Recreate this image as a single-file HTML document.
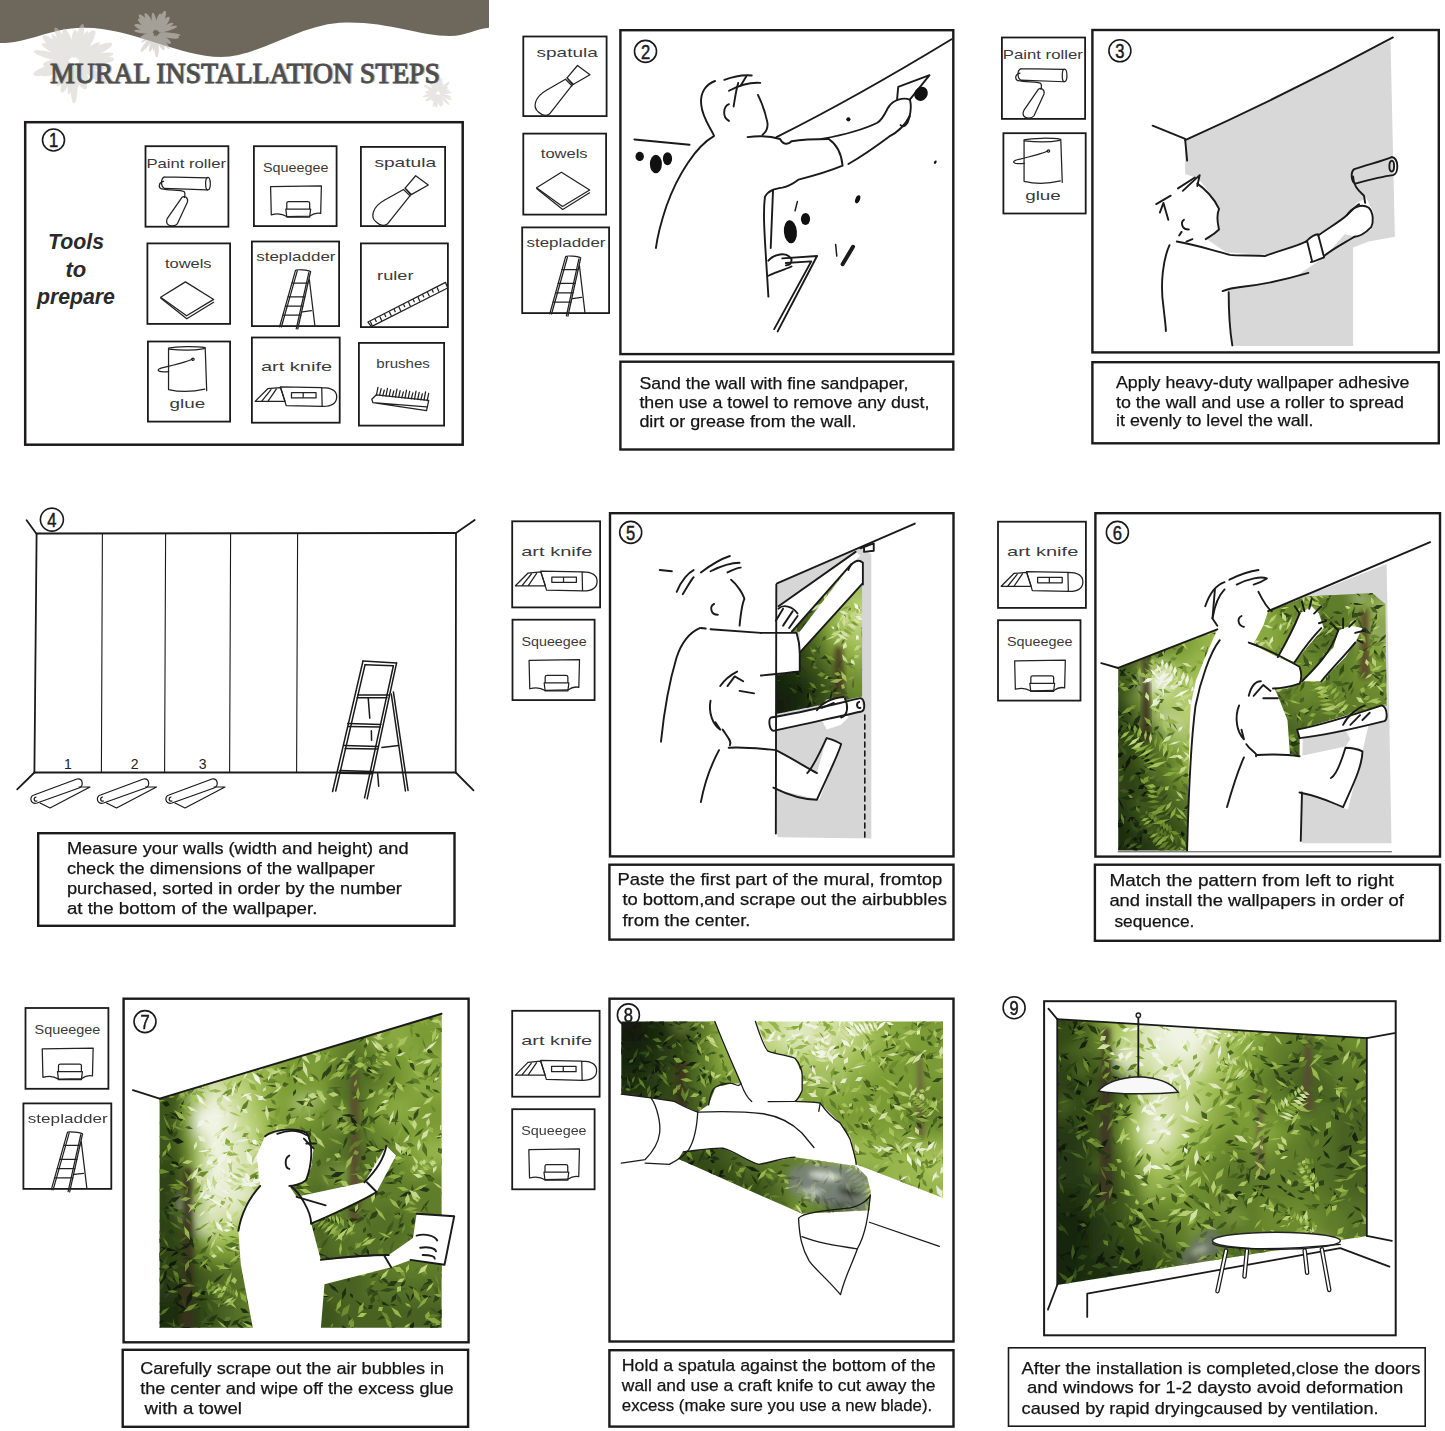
<!DOCTYPE html>
<html><head><meta charset="utf-8"><style>
html,body{margin:0;padding:0;background:#fff;}
body{width:1445px;height:1431px;overflow:hidden;}
svg{display:block;}
</style></head><body>
<svg width="1445" height="1431" viewBox="0 0 1445 1431">
<rect x="0" y="0" width="1445" height="1431" fill="#ffffff"/>
<defs><filter id="blur6" x="-10%" y="-10%" width="120%" height="120%"><feGaussianBlur stdDeviation="6"/></filter><filter id="blur3"><feGaussianBlur stdDeviation="2.5"/></filter><filter id="blur2"><feGaussianBlur stdDeviation="1.2"/></filter></defs>
<g transform="translate(620,30) scale(0.231857)">
<path d="M675,462 C900,350 1150,210 1430,40" fill="none" stroke="#1a1a1a" stroke-linecap="round" stroke-linejoin="round" vector-effect="non-scaling-stroke" stroke-width="1.9" />
<path d="M62,472 L300,495" fill="none" stroke="#1a1a1a" stroke-linecap="round" stroke-linejoin="round" vector-effect="non-scaling-stroke" stroke-width="1.9" />
<path d="M405,458 C330,500 250,620 200,760 C170,850 160,900 155,940" fill="none" stroke="#1a1a1a" stroke-linecap="round" stroke-linejoin="round" vector-effect="non-scaling-stroke" stroke-width="1.9" />
<path d="M405,455 C390,420 355,380 350,320 C345,270 370,235 410,220" fill="none" stroke="#1a1a1a" stroke-linecap="round" stroke-linejoin="round" vector-effect="non-scaling-stroke" stroke-width="1.9" />
<path d="M450,215 C490,200 530,192 568,196" fill="none" stroke="#1a1a1a" stroke-linecap="round" stroke-linejoin="round" vector-effect="non-scaling-stroke" stroke-width="1.9" />
<path d="M470,262 C520,235 560,225 605,228" fill="none" stroke="#1a1a1a" stroke-linecap="round" stroke-linejoin="round" vector-effect="non-scaling-stroke" stroke-width="1.9" />
<path d="M510,228 C500,260 495,300 490,330" fill="none" stroke="#1a1a1a" stroke-linecap="round" stroke-linejoin="round" vector-effect="non-scaling-stroke" stroke-width="1.9" />
<path d="M545,200 L520,240" fill="none" stroke="#1a1a1a" stroke-linecap="round" stroke-linejoin="round" vector-effect="non-scaling-stroke" stroke-width="1.9" />
<path d="M595,280 C610,310 625,350 635,395 C640,420 630,440 615,452" fill="none" stroke="#1a1a1a" stroke-linecap="round" stroke-linejoin="round" vector-effect="non-scaling-stroke" stroke-width="1.9" />
<path d="M470,320 C445,330 440,375 470,392" fill="none" stroke="#1a1a1a" stroke-linecap="round" stroke-linejoin="round" vector-effect="non-scaling-stroke" stroke-width="1.9" />
<path d="M550,462 C600,455 650,458 690,470 C700,490 720,500 740,480 C800,470 860,470 900,470" fill="none" stroke="#1a1a1a" stroke-linecap="round" stroke-linejoin="round" vector-effect="non-scaling-stroke" stroke-width="1.9" />
<path d="M900,470 C930,490 955,530 960,585 C900,610 830,630 770,645 C750,660 735,672 700,680 C670,685 640,690 625,720 C615,800 625,900 640,1150" fill="none" stroke="#1a1a1a" stroke-linecap="round" stroke-linejoin="round" vector-effect="non-scaling-stroke" stroke-width="1.9" />
<path d="M870,470 C950,455 1050,430 1110,400 C1140,380 1150,340 1160,330" fill="none" stroke="#1a1a1a" stroke-linecap="round" stroke-linejoin="round" vector-effect="non-scaling-stroke" stroke-width="1.9" />
<path d="M985,578 C1050,540 1120,490 1160,460 C1200,440 1230,410 1250,370" fill="none" stroke="#1a1a1a" stroke-linecap="round" stroke-linejoin="round" vector-effect="non-scaling-stroke" stroke-width="1.9" />
<path d="M1160,330 C1180,300 1220,290 1250,300 C1260,330 1250,380 1240,400 C1230,415 1220,420 1210,410" fill="none" stroke="#1a1a1a" stroke-linecap="round" stroke-linejoin="round" vector-effect="non-scaling-stroke" stroke-width="1.9" />
<path d="M1195,300 L1200,245 L1335,195 L1250,300" fill="none" stroke="#1a1a1a" stroke-linecap="round" stroke-linejoin="round" vector-effect="non-scaling-stroke" stroke-width="1.9" />
<path d="M640,995 C660,970 720,950 740,990 C740,1010 730,1015 715,1015" fill="none" stroke="#1a1a1a" stroke-linecap="round" stroke-linejoin="round" vector-effect="non-scaling-stroke" stroke-width="1.9" />
<path d="M700,985 L850,975 L680,1300" fill="none" stroke="#1a1a1a" stroke-linecap="round" stroke-linejoin="round" vector-effect="non-scaling-stroke" stroke-width="1.9" />
<path d="M715,1005 L825,998 L665,1290" fill="none" stroke="#1a1a1a" stroke-linecap="round" stroke-linejoin="round" vector-effect="non-scaling-stroke" stroke-width="1.9" />
<path d="M640,1060 C680,1040 720,1030 740,1020" fill="none" stroke="#1a1a1a" stroke-linecap="round" stroke-linejoin="round" vector-effect="non-scaling-stroke" stroke-width="1.9" />
<path d="M660,690 L650,940" fill="none" stroke="#1a1a1a" stroke-linecap="round" stroke-linejoin="round" vector-effect="non-scaling-stroke" stroke-width="1.9" />
</g>
<ellipse cx="639.7" cy="156.4" rx="4.2" ry="4.6" transform="rotate(0 639.7 156.4)" fill="#111"/>
<ellipse cx="655.9" cy="164.0" rx="6.0" ry="9.3" transform="rotate(0 655.9 164.0)" fill="#111"/>
<ellipse cx="667.5" cy="158.7" rx="4.6" ry="6.5" transform="rotate(0 667.5 158.7)" fill="#111"/>
<ellipse cx="790.4" cy="231.7" rx="6.5" ry="11.6" transform="rotate(-5 790.4 231.7)" fill="#111"/>
<ellipse cx="805.5" cy="219.0" rx="4.6" ry="6.0" transform="rotate(0 805.5 219.0)" fill="#111"/>
<ellipse cx="857.7" cy="199.3" rx="2.3" ry="4.2" transform="rotate(20 857.7 199.3)" fill="#111"/>
<ellipse cx="848.4" cy="119.3" rx="2.1" ry="2.1" transform="rotate(0 848.4 119.3)" fill="#111"/>
<ellipse cx="921.0" cy="93.8" rx="6.5" ry="7.4" transform="rotate(35 921.0 93.8)" fill="#111"/>
<ellipse cx="935.3" cy="162.2" rx="1.2" ry="1.9" transform="rotate(30 935.3 162.2)" fill="#111"/>
<g transform="translate(620,30) scale(0.231857)">
<path d="M1005,935 L960,1010" fill="none" stroke="#1a1a1a" stroke-linecap="round" stroke-linejoin="round" vector-effect="non-scaling-stroke" stroke-width="4" />
<path d="M765,740 L755,780" fill="none" stroke="#1a1a1a" stroke-linecap="round" stroke-linejoin="round" vector-effect="non-scaling-stroke" stroke-width="1.5" />
<path d="M930,925 L935,975" fill="none" stroke="#1a1a1a" stroke-linecap="round" stroke-linejoin="round" vector-effect="non-scaling-stroke" stroke-width="1.5" />
</g>
<polygon points="1185.2028985507247,140.11111111111111 1390.5169082125603,40.594202898550726 1394.8647342995168,236.72946859903382 1368.7777777777778,241.56038647342996 1353.0772946859904,247.59903381642513 1353.0772946859904,345.9082125603865 1231.0966183574878,345.9082125603865 1228.68115942029,291.07729468599035 1185.2028985507247,291.07729468599035" fill="#d7d8d7" stroke="none"/>
<polygon points="1185.2028985507247,173.92753623188406 1198.487922705314,178.7584541062802 1211.7729468599034,195.66666666666669 1219.0193236714977,207.743961352657 1217.8115942028985,222.23671497584542 1219.0193236714977,230.69082125603867 1206.9420289855072,239.1449275362319 1226.2657004830917,252.42995169082127 1264.913043478261,254.84541062801935 1305.9758454106282,241.56038647342996 1318.0531400966183,234.31400966183577 1347.0386473429953,214.99033816425123 1356.7004830917874,202.91304347826087 1366.3623188405797,198.08212560386474 1373.608695652174,212.57487922705315 1371.193236714976,229.48309178743963 1356.7004830917874,236.72946859903382 1344.623188405797,234.31400966183577 1324.0917874396137,257.2608695652174 1293.8985507246377,277.79227053140096 1240.7584541062802,286.24637681159425 1226.2657004830917,289.8695652173913 1232.304347826087,345.9082125603865 1182.7874396135267,345.9082125603865" fill="#ffffff" stroke="none"/>
<g transform="translate(1091,29) scale(0.241546)">
<path d="M390,460 C700,320 1000,170 1250,35" fill="none" stroke="#1a1a1a" stroke-linecap="round" stroke-linejoin="round" vector-effect="non-scaling-stroke" stroke-width="1.9" />
<path d="M255,400 L390,455" fill="none" stroke="#1a1a1a" stroke-linecap="round" stroke-linejoin="round" vector-effect="non-scaling-stroke" stroke-width="1.9" />
<path d="M390,460 L398,545" fill="none" stroke="#1a1a1a" stroke-linecap="round" stroke-linejoin="round" vector-effect="non-scaling-stroke" stroke-width="1.9" />
<path d="M325,895 C300,950 285,1050 300,1150 C305,1200 310,1230 310,1250" fill="none" stroke="#1a1a1a" stroke-linecap="round" stroke-linejoin="round" vector-effect="non-scaling-stroke" stroke-width="1.9" />
<path d="M440,640 C470,660 510,700 530,745 C520,770 520,790 530,830 C510,850 490,860 475,870" fill="none" stroke="#1a1a1a" stroke-linecap="round" stroke-linejoin="round" vector-effect="non-scaling-stroke" stroke-width="1.9" />
<path d="M270,725 L330,690" fill="none" stroke="#1a1a1a" stroke-linecap="round" stroke-linejoin="round" vector-effect="non-scaling-stroke" stroke-width="1.9" />
<path d="M285,760 L300,720 L320,790" fill="none" stroke="#1a1a1a" stroke-linecap="round" stroke-linejoin="round" vector-effect="non-scaling-stroke" stroke-width="1.9" />
<path d="M360,660 L430,615" fill="none" stroke="#1a1a1a" stroke-linecap="round" stroke-linejoin="round" vector-effect="non-scaling-stroke" stroke-width="1.9" />
<path d="M380,670 L450,605 L440,650" fill="none" stroke="#1a1a1a" stroke-linecap="round" stroke-linejoin="round" vector-effect="non-scaling-stroke" stroke-width="1.9" />
<path d="M385,790 C370,800 375,830 405,830" fill="none" stroke="#1a1a1a" stroke-linecap="round" stroke-linejoin="round" vector-effect="non-scaling-stroke" stroke-width="1.9" />
<path d="M365,855 L375,840" fill="none" stroke="#1a1a1a" stroke-linecap="round" stroke-linejoin="round" vector-effect="non-scaling-stroke" stroke-width="1.9" />
<path d="M395,880 L420,870" fill="none" stroke="#1a1a1a" stroke-linecap="round" stroke-linejoin="round" vector-effect="non-scaling-stroke" stroke-width="1.9" />
<path d="M355,880 C420,890 480,910 575,935 C600,940 700,935 720,940 C770,920 850,900 890,880" fill="none" stroke="#1a1a1a" stroke-linecap="round" stroke-linejoin="round" vector-effect="non-scaling-stroke" stroke-width="1.9" />
<path d="M890,880 C910,860 930,850 940,850 L965,945 C940,955 920,965 910,965" fill="none" stroke="#1a1a1a" stroke-linecap="round" stroke-linejoin="round" vector-effect="non-scaling-stroke" stroke-width="1.9" />
<path d="M895,880 L915,960" fill="none" stroke="#1a1a1a" stroke-linecap="round" stroke-linejoin="round" vector-effect="non-scaling-stroke" stroke-width="1.9" />
<path d="M940,855 C990,820 1040,790 1060,770 C1080,750 1100,730 1110,725" fill="none" stroke="#1a1a1a" stroke-linecap="round" stroke-linejoin="round" vector-effect="non-scaling-stroke" stroke-width="1.9" />
<path d="M965,940 C1000,910 1060,880 1090,860" fill="none" stroke="#1a1a1a" stroke-linecap="round" stroke-linejoin="round" vector-effect="non-scaling-stroke" stroke-width="1.9" />
<path d="M1060,770 C1080,740 1120,720 1150,740 C1170,760 1170,800 1160,820 C1140,840 1110,860 1090,860" fill="none" stroke="#1a1a1a" stroke-linecap="round" stroke-linejoin="round" vector-effect="non-scaling-stroke" stroke-width="1.9" />
<path d="M1090,580 C1150,560 1210,545 1245,530 C1275,535 1275,600 1250,605 C1210,610 1150,625 1095,640 C1075,630 1075,590 1090,580 Z" fill="none" stroke="#1a1a1a" stroke-linecap="round" stroke-linejoin="round" vector-effect="non-scaling-stroke" stroke-width="1.9" />
<path d="M1245,545 C1232,548 1232,590 1245,590 C1258,588 1258,545 1245,545 Z" fill="none" stroke="#1a1a1a" stroke-linecap="round" stroke-linejoin="round" vector-effect="non-scaling-stroke" stroke-width="1.9" />
<path d="M1085,610 C1085,650 1110,670 1130,690 L1135,720" fill="none" stroke="#1a1a1a" stroke-linecap="round" stroke-linejoin="round" vector-effect="non-scaling-stroke" stroke-width="1.9" />
<path d="M545,1085 C570,1075 600,1070 620,1068 C700,1060 780,1045 900,1010" fill="none" stroke="#1a1a1a" stroke-linecap="round" stroke-linejoin="round" vector-effect="non-scaling-stroke" stroke-width="1.9" />
<path d="M570,1090 C570,1150 575,1250 585,1310" fill="none" stroke="#1a1a1a" stroke-linecap="round" stroke-linejoin="round" vector-effect="non-scaling-stroke" stroke-width="1.9" />
</g>
<path d="M36.6,533.5 L456,533" fill="none" stroke="#1a1a1a" stroke-linecap="round" stroke-linejoin="round" vector-effect="non-scaling-stroke" stroke-width="1.8" />
<path d="M26.6,520.3 L36.6,534" fill="none" stroke="#1a1a1a" stroke-linecap="round" stroke-linejoin="round" vector-effect="non-scaling-stroke" stroke-width="1.8" />
<path d="M456,533 L474.7,520" fill="none" stroke="#1a1a1a" stroke-linecap="round" stroke-linejoin="round" vector-effect="non-scaling-stroke" stroke-width="1.8" />
<path d="M36.6,534 L34.4,772.5" fill="none" stroke="#1a1a1a" stroke-linecap="round" stroke-linejoin="round" vector-effect="non-scaling-stroke" stroke-width="1.8" />
<path d="M456,533 L455.7,772.5" fill="none" stroke="#1a1a1a" stroke-linecap="round" stroke-linejoin="round" vector-effect="non-scaling-stroke" stroke-width="1.8" />
<path d="M34.4,772.5 L455.7,772.5" fill="none" stroke="#1a1a1a" stroke-linecap="round" stroke-linejoin="round" vector-effect="non-scaling-stroke" stroke-width="1.8" />
<path d="M34.4,772.5 L17.2,789.4" fill="none" stroke="#1a1a1a" stroke-linecap="round" stroke-linejoin="round" vector-effect="non-scaling-stroke" stroke-width="1.8" />
<path d="M455.7,772.5 L473.5,790.4" fill="none" stroke="#1a1a1a" stroke-linecap="round" stroke-linejoin="round" vector-effect="non-scaling-stroke" stroke-width="1.8" />
<path d="M102.4,534 L101.4,772" fill="none" stroke="#1a1a1a" stroke-linecap="round" stroke-linejoin="round" vector-effect="non-scaling-stroke" stroke-width="1.1" />
<path d="M165.6,534 L164.6,772" fill="none" stroke="#1a1a1a" stroke-linecap="round" stroke-linejoin="round" vector-effect="non-scaling-stroke" stroke-width="1.1" />
<path d="M230.6,534 L229.6,772" fill="none" stroke="#1a1a1a" stroke-linecap="round" stroke-linejoin="round" vector-effect="non-scaling-stroke" stroke-width="1.1" />
<path d="M297.6,534 L296.6,772" fill="none" stroke="#1a1a1a" stroke-linecap="round" stroke-linejoin="round" vector-effect="non-scaling-stroke" stroke-width="1.1" />
<text x="68" y="768.6" text-anchor="middle" font-family="Liberation Sans" font-size="14" fill="#222">1</text>
<text x="134.6" y="768.6" text-anchor="middle" font-family="Liberation Sans" font-size="14" fill="#222">2</text>
<text x="202.6" y="768.6" text-anchor="middle" font-family="Liberation Sans" font-size="14" fill="#222">3</text>
<g transform="translate(0,0)">
<path d="M34,795 L77,779 C83,778 84,786 79,788 L37,803 C30,805 29,796 34,795 Z" fill="none" stroke="#1a1a1a" stroke-linecap="round" stroke-linejoin="round" vector-effect="non-scaling-stroke" stroke-width="1.2" />
<path d="M36,797 C33,798 34,802 37,801" fill="none" stroke="#1a1a1a" stroke-linecap="round" stroke-linejoin="round" vector-effect="non-scaling-stroke" stroke-width="1.2" />
<path d="M79,787 L90,787 L50,808 L40,803" fill="none" stroke="#1a1a1a" stroke-linecap="round" stroke-linejoin="round" vector-effect="non-scaling-stroke" stroke-width="1.2" />
</g>
<g transform="translate(66.5,0)">
<path d="M34,795 L77,779 C83,778 84,786 79,788 L37,803 C30,805 29,796 34,795 Z" fill="none" stroke="#1a1a1a" stroke-linecap="round" stroke-linejoin="round" vector-effect="non-scaling-stroke" stroke-width="1.2" />
<path d="M36,797 C33,798 34,802 37,801" fill="none" stroke="#1a1a1a" stroke-linecap="round" stroke-linejoin="round" vector-effect="non-scaling-stroke" stroke-width="1.2" />
<path d="M79,787 L90,787 L50,808 L40,803" fill="none" stroke="#1a1a1a" stroke-linecap="round" stroke-linejoin="round" vector-effect="non-scaling-stroke" stroke-width="1.2" />
</g>
<g transform="translate(135,0)">
<path d="M34,795 L77,779 C83,778 84,786 79,788 L37,803 C30,805 29,796 34,795 Z" fill="none" stroke="#1a1a1a" stroke-linecap="round" stroke-linejoin="round" vector-effect="non-scaling-stroke" stroke-width="1.2" />
<path d="M36,797 C33,798 34,802 37,801" fill="none" stroke="#1a1a1a" stroke-linecap="round" stroke-linejoin="round" vector-effect="non-scaling-stroke" stroke-width="1.2" />
<path d="M79,787 L90,787 L50,808 L40,803" fill="none" stroke="#1a1a1a" stroke-linecap="round" stroke-linejoin="round" vector-effect="non-scaling-stroke" stroke-width="1.2" />
</g>
<g transform="translate(320,650) scale(0.104822)">
<path d="M410,105 L730,125" fill="none" stroke="#1a1a1a" stroke-linecap="round" stroke-linejoin="round" vector-effect="non-scaling-stroke" stroke-width="1.5" />
<path d="M430,140 L700,150" fill="none" stroke="#1a1a1a" stroke-linecap="round" stroke-linejoin="round" vector-effect="non-scaling-stroke" stroke-width="1.5" />
<path d="M410,105 L120,1350" fill="none" stroke="#1a1a1a" stroke-linecap="round" stroke-linejoin="round" vector-effect="non-scaling-stroke" stroke-width="1.5" />
<path d="M430,140 L150,1345" fill="none" stroke="#1a1a1a" stroke-linecap="round" stroke-linejoin="round" vector-effect="non-scaling-stroke" stroke-width="1.5" />
<path d="M730,125 L450,1420" fill="none" stroke="#1a1a1a" stroke-linecap="round" stroke-linejoin="round" vector-effect="non-scaling-stroke" stroke-width="1.5" />
<path d="M700,150 L425,1410" fill="none" stroke="#1a1a1a" stroke-linecap="round" stroke-linejoin="round" vector-effect="non-scaling-stroke" stroke-width="1.5" />
<path d="M700,400 L840,1340" fill="none" stroke="#1a1a1a" stroke-linecap="round" stroke-linejoin="round" vector-effect="non-scaling-stroke" stroke-width="1.5" />
<path d="M680,420 L815,1345" fill="none" stroke="#1a1a1a" stroke-linecap="round" stroke-linejoin="round" vector-effect="non-scaling-stroke" stroke-width="1.5" />
<path d="M360,430 L660,430" fill="none" stroke="#1a1a1a" stroke-linecap="round" stroke-linejoin="round" vector-effect="non-scaling-stroke" stroke-width="1.5" />
<path d="M355,455 L640,455" fill="none" stroke="#1a1a1a" stroke-linecap="round" stroke-linejoin="round" vector-effect="non-scaling-stroke" stroke-width="1.5" />
<path d="M265,700 L580,710" fill="none" stroke="#1a1a1a" stroke-linecap="round" stroke-linejoin="round" vector-effect="non-scaling-stroke" stroke-width="1.5" />
<path d="M270,730 L575,735" fill="none" stroke="#1a1a1a" stroke-linecap="round" stroke-linejoin="round" vector-effect="non-scaling-stroke" stroke-width="1.5" />
<path d="M230,910 L555,920" fill="none" stroke="#1a1a1a" stroke-linecap="round" stroke-linejoin="round" vector-effect="non-scaling-stroke" stroke-width="1.5" />
<path d="M240,940 L550,945" fill="none" stroke="#1a1a1a" stroke-linecap="round" stroke-linejoin="round" vector-effect="non-scaling-stroke" stroke-width="1.5" />
<path d="M190,1150 L500,1160" fill="none" stroke="#1a1a1a" stroke-linecap="round" stroke-linejoin="round" vector-effect="non-scaling-stroke" stroke-width="1.5" />
<path d="M195,1175 L495,1180" fill="none" stroke="#1a1a1a" stroke-linecap="round" stroke-linejoin="round" vector-effect="non-scaling-stroke" stroke-width="1.5" />
<path d="M590,930 L750,910" fill="none" stroke="#1a1a1a" stroke-linecap="round" stroke-linejoin="round" vector-effect="non-scaling-stroke" stroke-width="1.5" />
<path d="M460,460 L475,650" fill="none" stroke="#1a1a1a" stroke-linecap="round" stroke-linejoin="round" vector-effect="non-scaling-stroke" stroke-width="1.5" />
<path d="M490,770 L492,860" fill="none" stroke="#1a1a1a" stroke-linecap="round" stroke-linejoin="round" vector-effect="non-scaling-stroke" stroke-width="1.5" />
<path d="M550,1180 L560,1300" fill="none" stroke="#1a1a1a" stroke-linecap="round" stroke-linejoin="round" vector-effect="non-scaling-stroke" stroke-width="1.5" />
</g>
<polygon points="777.036750483559,583.3249516441006 860.4506769825919,548.2669245647969 871.3307543520309,554.3114119922631 871.3307543520309,838.4023210831722 778.2456479690522,837.1934235976789 776.3114119922631,833.5667311411992" fill="#d6d6d6" stroke="none"/>
<clipPath id="jc1"><polygon points="799.8,671.3 799.8,652.7 862.1,583.8 862.1,696.5 776.1,713.9 776.1,675.0"/><polygon points="791.8,631.7 806.5,611.6 822.5,593.0 839.7,574.4 851.5,564.0 847.6,572.0 834.3,590.3 823.7,609.0 810.4,626.4 799.8,631.7"/></clipPath>
<g clip-path="url(#jc1)">
<g filter="url(#blur6)">
<path fill="#141f0d" d="M764 695h13v13h-13zM776 695h13v13h-13zM764 707h13v13h-13zM776 707h13v13h-13zM764 719h13v13h-13zM776 719h13v13h-13z"/>
<path fill="#19260f" d="M764 671h13v13h-13zM776 671h13v13h-13zM764 683h13v13h-13zM776 683h13v13h-13zM788 683h13v13h-13zM788 695h13v13h-13zM788 707h13v13h-13zM788 719h13v13h-13z"/>
<path fill="#1f2f11" d="M764 647h13v13h-13zM776 647h13v13h-13zM764 659h13v13h-13zM776 659h13v13h-13zM788 671h13v13h-13zM800 683h13v13h-13zM800 695h13v13h-13zM800 707h13v13h-13zM800 719h13v13h-13z"/>
<path fill="#253814" d="M764 623h13v13h-13zM776 623h13v13h-13zM764 635h13v13h-13zM776 635h13v13h-13zM788 647h13v13h-13zM788 659h13v13h-13zM800 671h13v13h-13z"/>
<path fill="#2d4217" d="M764 551h13v13h-13zM776 551h13v13h-13zM788 551h13v13h-13zM764 563h13v13h-13zM776 563h13v13h-13zM788 563h13v13h-13zM764 575h13v13h-13zM776 575h13v13h-13zM788 575h13v13h-13zM764 587h13v13h-13zM776 587h13v13h-13zM764 599h13v13h-13zM776 599h13v13h-13zM764 611h13v13h-13zM776 611h13v13h-13zM788 635h13v13h-13zM812 683h13v13h-13zM812 695h13v13h-13zM812 707h13v13h-13zM812 719h13v13h-13z"/>
<path fill="#344b19" d="M800 551h13v13h-13zM800 563h13v13h-13zM800 575h13v13h-13zM788 587h13v13h-13zM788 599h13v13h-13zM788 611h13v13h-13zM788 623h13v13h-13zM800 647h13v13h-13zM800 659h13v13h-13zM812 671h13v13h-13z"/>
<path fill="#3d561d" d="M800 587h13v13h-13zM800 599h13v13h-13zM800 635h13v13h-13zM812 659h13v13h-13zM824 683h13v13h-13zM824 695h13v13h-13zM824 707h13v13h-13zM824 719h13v13h-13z"/>
<path fill="#486220" d="M812 551h13v13h-13zM812 563h13v13h-13zM812 575h13v13h-13zM800 611h13v13h-13zM800 623h13v13h-13zM812 647h13v13h-13zM824 671h13v13h-13z"/>
<path fill="#536f25" d="M812 587h13v13h-13zM812 635h13v13h-13zM824 659h13v13h-13zM836 683h13v13h-13zM836 695h13v13h-13zM836 707h13v13h-13zM836 719h13v13h-13z"/>
<path fill="#5f7d29" d="M824 551h13v13h-13zM824 563h13v13h-13zM824 575h13v13h-13zM812 599h13v13h-13zM812 611h13v13h-13zM812 623h13v13h-13zM836 671h13v13h-13zM848 695h13v13h-13zM860 695h13v13h-13zM872 695h13v13h-13zM848 707h13v13h-13zM860 707h13v13h-13zM872 707h13v13h-13zM848 719h13v13h-13zM860 719h13v13h-13zM872 719h13v13h-13z"/>
<path fill="#6c8b2f" d="M824 587h13v13h-13zM824 647h13v13h-13zM836 659h13v13h-13zM848 683h13v13h-13zM860 683h13v13h-13zM872 683h13v13h-13z"/>
<path fill="#7a9b36" d="M836 551h13v13h-13zM836 563h13v13h-13zM836 575h13v13h-13zM824 599h13v13h-13zM824 635h13v13h-13zM836 647h13v13h-13zM848 671h13v13h-13zM860 671h13v13h-13zM872 671h13v13h-13z"/>
<path fill="#88a940" d="M836 587h13v13h-13zM824 611h13v13h-13zM824 623h13v13h-13zM848 659h13v13h-13zM860 659h13v13h-13zM872 659h13v13h-13z"/>
<path fill="#98b64d" d="M848 551h13v13h-13zM860 551h13v13h-13zM872 551h13v13h-13zM848 563h13v13h-13zM860 563h13v13h-13zM872 563h13v13h-13zM848 575h13v13h-13zM860 575h13v13h-13zM872 575h13v13h-13zM836 599h13v13h-13zM836 635h13v13h-13zM848 647h13v13h-13zM860 647h13v13h-13zM872 647h13v13h-13z"/>
<path fill="#a7c35c" d="M848 587h13v13h-13zM860 587h13v13h-13zM872 587h13v13h-13zM836 611h13v13h-13zM836 623h13v13h-13zM848 635h13v13h-13zM860 635h13v13h-13zM872 635h13v13h-13z"/>
<path fill="#b6cd72" d="M848 599h13v13h-13zM860 599h13v13h-13zM872 599h13v13h-13zM848 623h13v13h-13zM860 623h13v13h-13zM872 623h13v13h-13z"/>
<path fill="#c4d787" d="M848 611h13v13h-13zM860 611h13v13h-13zM872 611h13v13h-13z"/>
<path fill="#486220" d="M835 674L840 668L842 661L837 667zM860 668L865 665L866 660L862 663z"/>
<path fill="#536f25" d="M845 672L850 681L857 687L852 678zM850 670L855 679L861 685L857 676zM855 669L859 677L866 683L862 675z"/>
<path fill="#5f7d29" d="M835 674L841 684L849 691L843 681zM840 673L845 667L847 661L842 666zM866 668L870 664L871 660L867 663zM866 668L869 675L874 679L871 672zM876 666L880 663L880 659L876 662z"/>
<path fill="#88a940" d="M855 669L860 665L861 660L857 664zM848 535L853 533L856 529L850 531zM841 575L842 569L839 564L839 570zM833 571L827 574L822 580L828 577zM825 566L819 569L816 574L821 572zM825 566L826 562L823 559L822 563z"/>
<path fill="#98b64d" d="M845 672L850 667L851 660L847 665zM850 670L855 666L856 660L852 665zM850 544L844 542L837 542L843 545zM850 544L856 542L859 538L853 540zM849 539L844 537L837 538L842 540zM845 577L846 571L843 565L843 571z"/>
<path fill="#a7c35c" d="M840 673L845 682L853 689L848 680zM860 668L864 676L870 681L866 673zM871 667L873 673L878 677L876 671zM876 666L878 672L883 675L881 669zM854 564L861 560L866 555L859 558zM851 549L845 547L837 547L843 550zM849 539L854 538L857 533L852 535zM821 564L816 566L812 572L817 570zM817 562L812 564L809 569L814 567z"/>
<path fill="#b6cd72" d="M871 667L875 664L875 659L872 662zM851 549L857 547L861 542L854 544zM847 530L852 529L854 525L849 526zM846 525L842 523L837 524L841 526zM850 579L841 583L835 591L843 586zM829 569L823 571L819 577L825 574z"/>
<path fill="#c4d787" d="M850 579L850 573L847 567L847 573z"/>
<path fill="#d1dfa3" d="M854 564L847 561L838 562L845 564zM853 559L860 556L864 550L857 553zM848 535L843 532L837 533L842 535zM847 530L843 527L837 528L841 531zM829 569L830 564L827 560L826 565z"/>
<path fill="#dee7bf" d="M846 525L850 524L852 521L848 521zM845 577L838 581L832 588L839 584zM837 573L830 576L825 582L832 579zM833 571L834 566L831 561L830 566zM817 562L818 559L815 556L814 560z"/>
<path fill="#e8eed4" d="M853 559L846 556L838 557L845 559zM852 554L859 551L862 546L856 549zM837 573L838 567L835 563L834 568zM821 564L822 561L819 557L818 561z"/>
<path fill="#f1f4e5" d="M852 554L845 551L838 552L844 555zM841 575L834 578L829 585L836 582z"/>
</g>
<g filter="url(#blur3)">
<path d="M833,697 L835,647 L842,647 L845,697 Z" fill="#4a3a26" opacity="0.9"/>
</g>
<path fill="#10190b" d="M793 575L787 573L784 568L790 570zM796 570L792 568L790 565L794 567zM810 692L811 696L807 699L807 694zM789 660L786 660L784 657L787 657zM775 571L772 568L772 563L776 566zM800 679L796 674L795 668L799 673zM780 593L780 590L782 587L782 590zM798 665L794 666L790 666L794 665zM811 703L810 708L805 711L807 706zM783 717L783 713L787 711L786 715zM816 704L813 703L811 701L814 702zM780 669L777 670L775 667L778 667zM794 695L795 693L798 691L797 694zM781 585L778 584L777 581L780 582zM793 635L791 632L791 629L793 632zM798 576L793 570L792 563L797 569zM808 708L808 704L811 701L811 705zM803 694L798 690L797 684L801 688zM807 580L808 583L805 585L805 582zM796 596L791 598L786 597L791 595zM791 628L788 626L789 623L791 625z"/>
<path fill="#141f0d" d="M803 632L799 636L794 638L798 634zM783 564L780 566L778 564L780 562zM816 689L815 692L813 694L813 691zM781 613L775 608L774 601L779 606zM782 628L780 626L780 623L782 625zM815 687L815 691L812 694L812 690zM782 609L781 614L777 619L778 613zM771 611L770 607L772 604L773 608zM784 640L784 644L781 645L781 642z"/>
<path fill="#19260f" d="M797 720L795 716L795 712L797 715zM795 695L796 700L793 703L792 699zM812 609L809 611L805 610L808 608zM795 719L793 715L793 711L795 715zM834 707L829 704L827 698L832 701zM833 711L832 714L829 715L831 713zM784 660L781 655L780 649L784 654zM829 702L830 696L832 690L832 696zM799 694L795 691L794 687L798 689zM816 582L814 579L814 575L816 578z"/>
<path fill="#1f2f11" d="M816 658L815 664L811 668L812 662zM835 678L829 679L823 677L829 677zM820 707L820 710L816 711L817 708zM839 687L836 691L831 694L834 689zM789 587L785 586L783 582L787 583zM799 582L799 585L796 588L796 584zM791 645L787 641L786 636L789 640zM799 621L793 616L790 610L796 614zM777 620L775 622L772 621L775 619zM788 603L781 602L775 598L782 599zM813 611L811 613L808 612L810 610zM790 629L783 627L777 623L784 625zM776 647L774 645L774 642L776 644zM809 572L807 574L804 574L806 572zM818 627L813 626L810 622L815 623zM798 721L793 720L790 716L795 717zM806 617L803 615L803 611L806 614z"/>
<path fill="#253814" d="M836 703L830 707L824 709L829 704zM799 715L798 710L800 705L800 710zM817 698L812 696L808 692L814 694zM799 568L794 573L787 575L793 570zM778 596L778 600L775 603L776 600zM797 628L793 628L789 627L793 627zM812 592L809 595L806 595L808 592zM846 706L839 704L834 700L841 702zM839 680L836 676L836 671L839 675zM778 587L775 590L771 590L773 587zM777 676L782 673L787 672L783 675zM797 695L793 693L791 688L795 690zM778 663L772 665L766 665L772 662zM787 606L784 605L784 601L787 602zM807 674L802 669L798 664L803 668zM798 663L794 659L793 653L797 657zM818 564L811 561L806 555L813 558zM776 603L773 609L768 613L770 607zM806 600L803 597L801 593L804 596zM813 593L811 590L811 587L813 590z"/>
<path fill="#2d4217" d="M831 656L826 659L820 659L825 655zM799 648L798 643L801 640L801 644zM801 711L806 708L812 707L807 710zM831 602L826 599L822 594L827 598zM811 575L807 577L803 574L807 573zM785 650L782 650L779 648L782 648zM782 680L778 681L774 681L778 680zM821 645L819 650L816 653L818 649zM838 687L835 683L835 677L838 681zM787 557L782 562L775 563L780 558zM795 665L793 667L789 666L792 664zM832 665L828 663L826 659L830 661zM804 599L803 601L801 602L802 600zM813 705L813 711L809 716L809 710zM809 620L806 626L801 630L803 624zM805 656L800 658L795 656L800 654z"/>
<path fill="#344b19" d="M820 673L819 676L816 679L817 675zM815 690L811 690L807 688L812 688zM798 693L793 691L788 687L794 689zM873 673L867 672L861 669L867 670zM819 710L818 704L820 699L821 705zM843 659L840 664L836 668L839 663zM801 677L798 677L795 675L799 675zM830 689L829 687L831 685L832 687zM785 613L780 617L774 619L779 614zM827 679L823 674L821 668L825 673zM820 576L814 572L810 566L817 569zM824 564L817 562L813 557L819 559zM822 694L819 699L814 703L817 698zM789 669L784 667L782 663L786 664zM795 655L794 659L791 659L792 656zM829 607L825 609L820 608L824 606z"/>
<path fill="#3d561d" d="M852 701L845 699L841 695L847 696zM848 694L841 693L836 688L843 690zM811 606L808 604L809 601L812 603zM825 700L824 707L821 712L822 706zM820 655L816 651L815 646L819 649zM790 603L787 602L784 599L788 600zM816 719L809 718L803 713L810 714zM845 708L841 707L839 704L843 705zM847 568L841 568L836 563L842 564zM805 645L801 650L795 652L799 647zM848 711L844 711L841 708L845 708zM777 564L773 564L770 561L774 561z"/>
<path fill="#486220" d="M858 713L859 709L863 707L862 711zM822 641L823 637L826 636L825 640zM846 675L840 672L836 667L842 670zM830 698L829 704L826 708L827 703zM813 705L809 699L809 692L812 698zM815 604L811 604L808 600L813 601zM811 615L808 620L803 621L806 616zM795 649L795 645L798 644L798 647zM774 703L772 701L772 697L774 700zM832 614L830 617L827 620L829 616zM817 660L816 665L812 668L813 663zM853 688L852 685L854 682L854 686zM839 719L838 714L840 709L841 714zM786 590L780 592L774 591L780 589z"/>
<path fill="#536f25" d="M846 582L839 581L833 579L840 580zM841 645L842 641L845 639L844 642zM772 640L770 634L771 629L773 634zM848 703L846 710L841 715L843 708zM829 600L828 607L824 612L825 606zM848 616L845 618L841 618L844 615zM774 561L774 567L770 570L770 565zM800 564L798 559L799 554L802 559zM815 658L812 659L809 658L812 657zM799 631L796 635L792 638L795 634zM808 566L806 569L803 569L805 566zM853 689L852 683L854 678L854 684zM835 705L833 707L830 706L833 704zM865 704L863 711L858 715L860 708zM854 664L850 666L845 664L850 663zM838 576L839 570L843 566L843 572z"/>
<path fill="#5f7d29" d="M842 717L840 711L840 705L842 711zM815 656L811 652L810 646L813 650zM780 649L775 648L771 644L776 646zM838 682L833 682L830 679L835 679zM818 668L815 669L812 667L815 666zM789 637L786 642L783 647L785 641zM836 704L833 701L832 696L835 700zM783 606L780 608L776 609L779 607zM820 605L818 603L818 600L820 602zM849 597L847 600L844 603L846 599zM835 569L829 567L825 563L831 565zM775 577L777 572L780 568L779 573zM817 689L812 687L809 682L814 684z"/>
<path fill="#6c8b2f" d="M817 661L811 660L806 657L812 657zM832 578L828 575L829 570L832 574zM867 715L862 716L859 713L864 712zM797 625L797 632L793 638L794 631zM841 623L839 629L834 633L836 627zM779 578L777 584L773 588L775 582zM851 607L851 610L848 611L849 608zM854 577L848 579L841 579L847 576zM813 585L809 583L806 579L810 581zM842 693L837 694L832 693L837 692zM831 691L826 693L820 693L825 690zM780 596L775 595L772 592L777 593zM852 715L850 713L849 710L852 712zM793 604L791 601L791 598L793 601zM817 712L819 708L823 705L821 709zM857 670L851 668L847 664L852 666zM819 609L817 612L814 611L816 608zM842 635L840 633L840 629L842 632zM798 604L793 605L789 604L793 603zM826 674L822 677L817 675L821 672zM826 686L822 687L820 684L823 684z"/>
<path fill="#7a9b36" d="M870 715L865 714L862 710L867 711zM811 622L815 619L820 617L816 621zM795 609L791 607L791 602L795 605zM801 583L797 585L793 584L797 582zM833 616L829 617L827 614L831 613zM844 574L841 576L838 575L841 572zM802 587L799 587L798 584L801 584zM855 656L851 660L846 662L850 658zM828 574L823 576L819 574L824 573zM836 661L829 659L824 654L831 656zM858 711L855 710L855 707L858 708z"/>
<path fill="#88a940" d="M810 570L811 567L814 566L813 569zM841 675L837 676L834 673L838 672zM829 676L827 679L824 679L826 676zM814 567L811 569L809 567L811 566zM837 698L835 704L831 707L833 702zM862 611L856 609L854 604L859 606zM865 671L862 670L861 667L864 668zM817 651L814 652L811 651L814 649zM869 626L865 629L860 629L864 625zM849 586L846 586L846 583L849 583zM817 625L817 630L814 634L814 629zM813 581L810 587L803 590L807 584zM841 610L845 607L851 606L846 609zM863 650L858 649L854 646L859 647zM855 676L852 679L848 680L851 677zM863 641L861 635L861 629L863 635zM862 570L859 567L859 563L862 566z"/>
<path fill="#98b64d" d="M844 684L845 688L842 689L841 685zM868 647L865 645L864 642L867 643zM848 564L849 560L853 558L852 563zM836 575L840 569L844 565L841 571zM843 679L837 683L830 682L836 679zM859 604L857 609L852 612L854 607zM833 603L832 605L830 606L830 604zM862 565L860 563L858 559L861 562z"/>
<path fill="#a7c35c" d="M855 613L850 607L850 599L854 605zM864 645L861 643L862 639L865 641zM839 610L835 606L831 601L836 605zM847 682L842 678L841 671L846 676zM827 570L823 574L819 575L822 571zM820 627L817 631L811 633L815 629zM864 690L862 688L862 685L864 687z"/>
<path fill="#b6cd72" d="M847 621L847 627L843 631L843 625zM825 570L826 566L829 563L828 568zM861 611L863 609L866 609L864 611zM859 655L858 658L854 658L855 655z"/>
<path fill="#c4d787" d="M841 631L836 635L831 635L835 631zM851 622L846 618L845 612L849 616zM852 584L856 581L861 581L857 585zM862 624L858 619L858 613L862 617zM854 651L856 646L861 645L859 649zM867 579L863 578L859 576L863 577zM839 634L833 638L826 640L832 636zM839 624L840 618L845 613L843 619zM848 663L843 660L842 654L846 658z"/>
<path fill="#d1dfa3" d="M847 620L843 618L841 615L845 616zM821 623L822 620L825 619L824 622zM843 573L842 576L840 578L840 575zM845 561L840 561L837 558L842 557zM833 645L837 639L843 637L839 642zM844 594L840 593L839 590L842 591z"/>
<path fill="#dee7bf" d="M855 665L851 663L851 659L854 661zM872 615L866 611L861 606L867 610zM848 614L843 614L839 611L844 611zM846 642L847 647L843 649L843 645zM859 640L856 639L856 635L859 636zM837 597L837 593L840 591L840 595z"/>
<path fill="#e8eed4" d="M835 629L833 629L831 626L834 627zM861 607L860 611L857 616L858 611z"/>
<path fill="#f1f4e5" d="M858 635L858 638L856 640L856 637zM852 627L849 632L845 635L847 630zM859 610L855 608L854 603L858 605z"/>
<path fill="#2d4217" d="M820 549L821 544L818 540L817 545z"/>
<path fill="#344b19" d="M792 573L793 565L791 558L790 565zM811 557L817 563L825 565L818 559zM820 549L825 554L832 555L826 551z"/>
<path fill="#3d561d" d="M787 577L797 584L808 588L798 581zM811 557L812 551L809 546L808 552zM815 553L821 558L829 560L822 555zM824 545L825 541L823 537L822 541z"/>
<path fill="#486220" d="M801 565L809 571L818 574L810 568z"/>
<path fill="#536f25" d="M787 577L788 568L786 560L785 569zM792 573L801 580L812 583L802 576zM797 569L798 562L795 555L794 562zM801 565L802 558L800 552L799 559zM806 561L807 555L804 549L803 555zM806 561L813 567L822 569L814 564z"/>
<path fill="#5f7d29" d="M815 553L816 548L813 543L812 548zM824 545L829 550L835 551L830 546z"/>
<path fill="#6c8b2f" d="M797 569L805 576L815 579L806 572z"/>
<path fill="#7a9b36" d="M850 621L854 625L859 626L855 622z"/>
<path fill="#88a940" d="M836 633L837 628L836 623L834 628zM842 628L846 633L853 635L848 630z"/>
<path fill="#98b64d" d="M844 626L849 631L855 632L850 627zM850 621L851 618L849 614L848 618zM858 614L859 611L857 609L856 612z"/>
<path fill="#a7c35c" d="M815 595L806 598L799 604L808 601zM801 583L803 579L802 574L800 578zM796 579L790 580L785 585L791 584zM842 628L843 624L841 620L839 624z"/>
<path fill="#c4d787" d="M829 606L831 598L829 590L828 598zM825 602L827 595L825 588L823 595zM847 624L849 620L846 616L845 620zM853 619L854 615L852 613L850 616zM855 616L857 613L854 611L853 614z"/>
<path fill="#d1dfa3" d="M829 606L819 610L810 618L821 613zM825 602L815 606L807 613L816 609zM820 598L822 592L820 585L818 592zM810 591L802 593L796 599L803 597zM805 587L798 589L792 594L799 593zM801 583L794 585L789 590L795 588zM839 630L840 626L838 621L837 626zM839 630L844 636L850 637L845 632zM844 626L846 622L844 618L842 622zM847 624L852 628L857 629L853 624zM853 619L856 623L861 623L857 619zM858 614L861 617L865 617L862 614z"/>
<path fill="#dee7bf" d="M805 587L808 582L807 577L804 582zM836 633L841 638L848 640L842 635z"/>
<path fill="#e8eed4" d="M820 598L811 602L803 608L812 605zM810 591L812 585L811 580L809 585zM796 579L799 575L798 571L795 575zM855 616L859 620L863 620L860 616z"/>
<path fill="#f1f4e5" d="M834 609L824 614L814 622L825 617zM834 609L836 601L834 593L832 601zM815 595L817 589L816 582L814 589z"/>
</g>
<polygon points="778.4874274661508,606.2940038684719 855.615087040619,551.8936170212766 860.4506769825919,555.5203094777563 851.504835589942,563.9825918762089 791.7852998065764,631.6808510638298 775.8278529980657,637.7253384912959 775.8278529980657,608.7117988394584" fill="#ffffff" stroke="none"/>
<polygon points="799.7640232108317,631.6808510638298 851.504835589942,563.9825918762089 862.384912959381,560.3558994197292 862.1431334622823,583.8085106382979 799.7640232108317,652.715667311412" fill="#ffffff" stroke="none"/>
<polygon points="760.8375241779497,632.889748549323 796.6208897485493,632.889748549323 799.7640232108317,652.715667311412 799.7640232108317,671.3326885880077 760.8375241779497,675.4429400386847" fill="#ffffff" stroke="none"/>
<polygon points="775.8278529980657,750.1528046421663 816.9303675048355,773.1218568665377 826.6015473887815,738.063829787234 841.1083172147002,744.1083172147002 819.348162475822,799.7176015473888 773.4100580270792,788.8375241779497" fill="#ffffff" stroke="none"/>
<polygon points="770.9922630560928,717.5125725338492 860.4506769825919,698.1702127659574 864.0773694390716,710.2591876208897 773.4100580270792,730.8104448742747" fill="#ffffff" stroke="none"/>
<polygon points="816.9303675048355,710.2591876208897 826.6015473887815,699.3791102514507 844.7350096711799,696.9613152804642 848.3617021276596,717.5125725338492 841.1083172147002,724.7659574468084 826.6015473887815,729.6015473887815" fill="#ffffff" stroke="none"/>
<g transform="translate(609,512) scale(0.241779)">
<path d="M695,295 L1265,48" fill="none" stroke="#1a1a1a" stroke-linecap="round" stroke-linejoin="round" vector-effect="non-scaling-stroke" stroke-width="1.9" />
<path d="M701,390 L1020,165" fill="none" stroke="#1a1a1a" stroke-linecap="round" stroke-linejoin="round" vector-effect="non-scaling-stroke" stroke-width="1.9" />
<path d="M756,495 L1003,215" fill="none" stroke="#1a1a1a" stroke-linecap="round" stroke-linejoin="round" vector-effect="non-scaling-stroke" stroke-width="1.9" />
<path d="M789,582 L1047,297" fill="none" stroke="#1a1a1a" stroke-linecap="round" stroke-linejoin="round" vector-effect="non-scaling-stroke" stroke-width="1.9" />
<path d="M692,300 L690,1330" fill="none" stroke="#1a1a1a" stroke-linecap="round" stroke-linejoin="round" vector-effect="non-scaling-stroke" stroke-width="1.9" />
<path d="M1040,150 L1095,130 L1095,160 L1055,165 L1055,145" fill="none" stroke="#1a1a1a" stroke-linecap="round" stroke-linejoin="round" vector-effect="non-scaling-stroke" stroke-width="1.9" />
<path d="M628,500 L776,500 C785,530 789,560 789,582 L789,659 C740,665 690,672 628,676" fill="none" stroke="#1a1a1a" stroke-linecap="round" stroke-linejoin="round" vector-effect="non-scaling-stroke" stroke-width="1.9" />
<path d="M701,400 C720,380 760,390 780,420" fill="none" stroke="#1a1a1a" stroke-linecap="round" stroke-linejoin="round" vector-effect="non-scaling-stroke" stroke-width="1.9" />
<path d="M690,450 L720,400" fill="none" stroke="#1a1a1a" stroke-linecap="round" stroke-linejoin="round" vector-effect="non-scaling-stroke" stroke-width="1.9" />
<path d="M720,470 L760,410" fill="none" stroke="#1a1a1a" stroke-linecap="round" stroke-linejoin="round" vector-effect="non-scaling-stroke" stroke-width="1.9" />
<path d="M745,480 L780,430" fill="none" stroke="#1a1a1a" stroke-linecap="round" stroke-linejoin="round" vector-effect="non-scaling-stroke" stroke-width="1.9" />
<path d="M990,240 C1000,210 1030,190 1050,210 L1050,300" fill="none" stroke="#1a1a1a" stroke-linecap="round" stroke-linejoin="round" vector-effect="non-scaling-stroke" stroke-width="1.9" />
<path d="M210,240 L260,245" fill="none" stroke="#1a1a1a" stroke-linecap="round" stroke-linejoin="round" vector-effect="non-scaling-stroke" stroke-width="1.9" />
<path d="M280,330 C300,280 330,250 350,240" fill="none" stroke="#1a1a1a" stroke-linecap="round" stroke-linejoin="round" vector-effect="non-scaling-stroke" stroke-width="1.9" />
<path d="M305,340 C330,300 340,280 350,270" fill="none" stroke="#1a1a1a" stroke-linecap="round" stroke-linejoin="round" vector-effect="non-scaling-stroke" stroke-width="1.9" />
<path d="M380,250 C420,220 460,195 500,182" fill="none" stroke="#1a1a1a" stroke-linecap="round" stroke-linejoin="round" vector-effect="non-scaling-stroke" stroke-width="1.9" />
<path d="M420,245 C460,225 500,210 540,210" fill="none" stroke="#1a1a1a" stroke-linecap="round" stroke-linejoin="round" vector-effect="non-scaling-stroke" stroke-width="1.9" />
<path d="M490,250 C510,240 530,230 545,230" fill="none" stroke="#1a1a1a" stroke-linecap="round" stroke-linejoin="round" vector-effect="non-scaling-stroke" stroke-width="1.9" />
<path d="M505,280 C530,300 555,340 560,360 C550,380 545,420 540,470" fill="none" stroke="#1a1a1a" stroke-linecap="round" stroke-linejoin="round" vector-effect="non-scaling-stroke" stroke-width="1.9" />
<path d="M435,380 C415,390 420,425 450,425" fill="none" stroke="#1a1a1a" stroke-linecap="round" stroke-linejoin="round" vector-effect="non-scaling-stroke" stroke-width="1.9" />
<path d="M375,480 C330,500 300,540 280,600 C250,700 230,800 215,950" fill="none" stroke="#1a1a1a" stroke-linecap="round" stroke-linejoin="round" vector-effect="non-scaling-stroke" stroke-width="1.9" />
<path d="M380,480 L400,482" fill="none" stroke="#1a1a1a" stroke-linecap="round" stroke-linejoin="round" vector-effect="non-scaling-stroke" stroke-width="1.9" />
<path d="M420,485 L628,500" fill="none" stroke="#1a1a1a" stroke-linecap="round" stroke-linejoin="round" vector-effect="non-scaling-stroke" stroke-width="1.9" />
<path d="M460,720 C480,690 510,670 530,660" fill="none" stroke="#1a1a1a" stroke-linecap="round" stroke-linejoin="round" vector-effect="non-scaling-stroke" stroke-width="1.9" />
<path d="M490,720 L520,680 L555,700" fill="none" stroke="#1a1a1a" stroke-linecap="round" stroke-linejoin="round" vector-effect="non-scaling-stroke" stroke-width="1.9" />
<path d="M540,740 L600,750" fill="none" stroke="#1a1a1a" stroke-linecap="round" stroke-linejoin="round" vector-effect="non-scaling-stroke" stroke-width="1.9" />
<path d="M420,780 C410,830 430,880 460,900 L440,870" fill="none" stroke="#1a1a1a" stroke-linecap="round" stroke-linejoin="round" vector-effect="non-scaling-stroke" stroke-width="1.9" />
<path d="M470,900 C490,930 510,950 500,965" fill="none" stroke="#1a1a1a" stroke-linecap="round" stroke-linejoin="round" vector-effect="non-scaling-stroke" stroke-width="1.9" />
<path d="M455,985 C420,1050 395,1120 380,1200" fill="none" stroke="#1a1a1a" stroke-linecap="round" stroke-linejoin="round" vector-effect="non-scaling-stroke" stroke-width="1.9" />
<path d="M495,975 C560,970 640,980 690,985 C760,1020 820,1060 860,1080" fill="none" stroke="#1a1a1a" stroke-linecap="round" stroke-linejoin="round" vector-effect="non-scaling-stroke" stroke-width="1.9" />
<path d="M680,1140 C740,1170 800,1190 860,1190 C900,1100 950,1000 960,960 C940,945 920,940 900,935 C870,1000 840,1060 820,1080" fill="none" stroke="#1a1a1a" stroke-linecap="round" stroke-linejoin="round" vector-effect="non-scaling-stroke" stroke-width="1.9" />
<path d="M670,850 C800,830 950,790 1040,770 C1060,775 1060,820 1045,825 C950,845 800,880 680,905 C660,900 660,855 670,850 Z" fill="none" stroke="#1a1a1a" stroke-linecap="round" stroke-linejoin="round" vector-effect="non-scaling-stroke" stroke-width="1.9" />
<path d="M1035,785 C1020,790 1025,815 1040,810" fill="none" stroke="#1a1a1a" stroke-linecap="round" stroke-linejoin="round" vector-effect="non-scaling-stroke" stroke-width="1.9" />
<path d="M860,820 C880,790 920,770 970,765" fill="none" stroke="#1a1a1a" stroke-linecap="round" stroke-linejoin="round" vector-effect="non-scaling-stroke" stroke-width="1.9" />
<path d="M880,810 L930,790" fill="none" stroke="#1a1a1a" stroke-linecap="round" stroke-linejoin="round" vector-effect="non-scaling-stroke" stroke-width="1.9" />
<path d="M960,850 C990,840 990,800 975,770" fill="none" stroke="#1a1a1a" stroke-linecap="round" stroke-linejoin="round" vector-effect="non-scaling-stroke" stroke-width="1.9" />
<path d="M1058,840 L1058,1350" fill="none" stroke="#1a1a1a" stroke-linecap="round" stroke-linejoin="round" vector-effect="non-scaling-stroke" stroke-width="1.6" stroke-dasharray="5 4"/>
</g>
<polygon points="1304.3990326481257,596.6432889963725 1386.6239419588876,563.9951632406288 1391.4607013301088,843.3180169286578 1301.9806529625153,843.3180169286578 1301.9806529625153,792.5320435308344" fill="#d6d7d6" stroke="none"/>
<clipPath id="jc2"><polygon points="1118.2,668.0 1217.3,629.3 1205.2,657.1 1195.6,681.3 1190.7,705.5 1189.5,729.7 1187.1,850.6 1118.2,850.6"/></clipPath>
<g clip-path="url(#jc2)">
<g filter="url(#blur6)">
<path fill="#1f2f11" d="M1106 821h13v13h-13zM1118 821h13v13h-13zM1106 833h13v13h-13zM1118 833h13v13h-13zM1130 833h13v13h-13zM1106 845h13v13h-13zM1118 845h13v13h-13zM1130 845h13v13h-13zM1106 857h13v13h-13zM1118 857h13v13h-13zM1130 857h13v13h-13z"/>
<path fill="#253814" d="M1106 797h13v13h-13zM1118 797h13v13h-13zM1106 809h13v13h-13zM1118 809h13v13h-13zM1130 809h13v13h-13zM1130 821h13v13h-13zM1142 833h13v13h-13zM1142 845h13v13h-13zM1142 857h13v13h-13z"/>
<path fill="#2d4217" d="M1106 701h13v13h-13zM1118 701h13v13h-13zM1106 713h13v13h-13zM1118 713h13v13h-13zM1106 725h13v13h-13zM1118 725h13v13h-13zM1106 737h13v13h-13zM1118 737h13v13h-13zM1106 749h13v13h-13zM1118 749h13v13h-13zM1106 761h13v13h-13zM1118 761h13v13h-13zM1130 761h13v13h-13zM1106 773h13v13h-13zM1118 773h13v13h-13zM1130 773h13v13h-13zM1106 785h13v13h-13zM1118 785h13v13h-13zM1130 785h13v13h-13zM1130 797h13v13h-13zM1142 809h13v13h-13zM1142 821h13v13h-13zM1154 821h13v13h-13zM1154 833h13v13h-13zM1154 845h13v13h-13zM1154 857h13v13h-13z"/>
<path fill="#344b19" d="M1106 689h13v13h-13zM1118 689h13v13h-13zM1130 713h13v13h-13zM1130 725h13v13h-13zM1130 737h13v13h-13zM1130 749h13v13h-13zM1142 785h13v13h-13zM1142 797h13v13h-13zM1154 809h13v13h-13zM1166 821h13v13h-13zM1166 833h13v13h-13zM1166 845h13v13h-13zM1166 857h13v13h-13z"/>
<path fill="#3d561d" d="M1106 617h13v13h-13zM1118 617h13v13h-13zM1130 617h13v13h-13zM1106 629h13v13h-13zM1118 629h13v13h-13zM1130 629h13v13h-13zM1106 641h13v13h-13zM1118 641h13v13h-13zM1130 641h13v13h-13zM1106 653h13v13h-13zM1118 653h13v13h-13zM1106 665h13v13h-13zM1118 665h13v13h-13zM1106 677h13v13h-13zM1118 677h13v13h-13zM1130 701h13v13h-13zM1142 749h13v13h-13zM1142 761h13v13h-13zM1142 773h13v13h-13zM1154 785h13v13h-13zM1154 797h13v13h-13zM1166 809h13v13h-13zM1178 821h13v13h-13zM1178 833h13v13h-13zM1178 845h13v13h-13zM1178 857h13v13h-13z"/>
<path fill="#486220" d="M1130 653h13v13h-13zM1130 689h13v13h-13zM1142 725h13v13h-13zM1142 737h13v13h-13zM1154 773h13v13h-13zM1166 797h13v13h-13zM1178 809h13v13h-13zM1190 821h13v13h-13zM1190 833h13v13h-13zM1202 833h13v13h-13zM1214 833h13v13h-13zM1226 833h13v13h-13zM1190 845h13v13h-13zM1202 845h13v13h-13zM1214 845h13v13h-13zM1226 845h13v13h-13zM1190 857h13v13h-13zM1202 857h13v13h-13zM1214 857h13v13h-13zM1226 857h13v13h-13z"/>
<path fill="#536f25" d="M1142 617h13v13h-13zM1142 629h13v13h-13zM1142 641h13v13h-13zM1130 665h13v13h-13zM1130 677h13v13h-13zM1142 713h13v13h-13zM1154 749h13v13h-13zM1154 761h13v13h-13zM1166 785h13v13h-13zM1178 797h13v13h-13zM1190 809h13v13h-13zM1202 809h13v13h-13zM1214 809h13v13h-13zM1226 809h13v13h-13zM1202 821h13v13h-13zM1214 821h13v13h-13zM1226 821h13v13h-13z"/>
<path fill="#5f7d29" d="M1154 617h13v13h-13zM1154 629h13v13h-13zM1154 641h13v13h-13zM1154 737h13v13h-13zM1166 773h13v13h-13zM1178 785h13v13h-13zM1190 797h13v13h-13zM1202 797h13v13h-13zM1214 797h13v13h-13zM1226 797h13v13h-13z"/>
<path fill="#6c8b2f" d="M1166 617h13v13h-13zM1166 629h13v13h-13zM1166 641h13v13h-13zM1142 653h13v13h-13zM1142 701h13v13h-13zM1154 725h13v13h-13zM1166 761h13v13h-13zM1190 785h13v13h-13zM1202 785h13v13h-13zM1214 785h13v13h-13zM1226 785h13v13h-13z"/>
<path fill="#7a9b36" d="M1178 617h13v13h-13zM1178 629h13v13h-13zM1178 641h13v13h-13zM1154 713h13v13h-13zM1166 749h13v13h-13zM1178 773h13v13h-13zM1190 773h13v13h-13zM1202 773h13v13h-13zM1214 773h13v13h-13zM1226 773h13v13h-13z"/>
<path fill="#88a940" d="M1190 617h13v13h-13zM1190 629h13v13h-13zM1190 641h13v13h-13zM1154 653h13v13h-13zM1166 653h13v13h-13zM1178 653h13v13h-13zM1166 725h13v13h-13zM1166 737h13v13h-13zM1178 761h13v13h-13z"/>
<path fill="#98b64d" d="M1202 617h13v13h-13zM1214 617h13v13h-13zM1226 617h13v13h-13zM1202 629h13v13h-13zM1214 629h13v13h-13zM1226 629h13v13h-13zM1202 641h13v13h-13zM1214 641h13v13h-13zM1226 641h13v13h-13zM1190 653h13v13h-13zM1202 653h13v13h-13zM1214 653h13v13h-13zM1226 653h13v13h-13zM1178 665h13v13h-13zM1190 665h13v13h-13zM1142 689h13v13h-13zM1154 701h13v13h-13zM1166 713h13v13h-13zM1178 749h13v13h-13zM1190 761h13v13h-13zM1202 761h13v13h-13zM1214 761h13v13h-13zM1226 761h13v13h-13z"/>
<path fill="#a7c35c" d="M1142 665h13v13h-13zM1166 665h13v13h-13zM1202 665h13v13h-13zM1214 665h13v13h-13zM1226 665h13v13h-13zM1178 677h13v13h-13zM1190 677h13v13h-13zM1202 677h13v13h-13zM1214 677h13v13h-13zM1226 677h13v13h-13zM1178 689h13v13h-13zM1166 701h13v13h-13zM1178 725h13v13h-13zM1178 737h13v13h-13zM1190 737h13v13h-13zM1190 749h13v13h-13z"/>
<path fill="#b6cd72" d="M1166 689h13v13h-13zM1190 689h13v13h-13zM1202 689h13v13h-13zM1214 689h13v13h-13zM1226 689h13v13h-13zM1178 701h13v13h-13zM1190 701h13v13h-13zM1202 701h13v13h-13zM1214 701h13v13h-13zM1226 701h13v13h-13zM1178 713h13v13h-13zM1190 713h13v13h-13zM1190 725h13v13h-13zM1202 737h13v13h-13zM1214 737h13v13h-13zM1226 737h13v13h-13zM1202 749h13v13h-13zM1214 749h13v13h-13zM1226 749h13v13h-13z"/>
<path fill="#c4d787" d="M1166 677h13v13h-13zM1154 689h13v13h-13zM1202 713h13v13h-13zM1214 713h13v13h-13zM1226 713h13v13h-13zM1202 725h13v13h-13zM1214 725h13v13h-13zM1226 725h13v13h-13z"/>
<path fill="#d1dfa3" d="M1142 677h13v13h-13z"/>
<path fill="#dee7bf" d="M1154 665h13v13h-13z"/>
<path fill="#f1f4e5" d="M1154 677h13v13h-13z"/>
<path fill="#253814" d="M1146 842L1139 839L1130 839L1138 842zM1146 842L1153 839L1158 833L1151 836zM1142 818L1137 815L1131 816L1135 818z"/>
<path fill="#2d4217" d="M1145 837L1139 834L1130 834L1137 837zM1143 827L1138 825L1130 825L1136 828zM1143 827L1150 825L1153 821L1147 823z"/>
<path fill="#344b19" d="M1153 761L1156 756L1157 751L1153 755zM1162 758L1166 755L1167 750L1163 753zM1177 756L1178 762L1183 766L1181 760zM1144 832L1138 829L1130 830L1137 832zM1142 818L1147 816L1150 812L1145 814z"/>
<path fill="#3d561d" d="M1157 759L1161 767L1167 771L1164 764zM1172 757L1174 763L1179 767L1177 761zM1177 756L1181 755L1182 751L1178 753zM1141 813L1137 810L1131 811L1135 814z"/>
<path fill="#486220" d="M1139 767L1146 774L1155 779L1148 771zM1143 764L1147 759L1146 752L1143 758zM1167 757L1170 764L1175 768L1172 762zM1145 837L1152 834L1157 829L1150 832zM1143 823L1148 821L1152 816L1146 818zM1139 803L1136 801L1131 802L1134 804z"/>
<path fill="#536f25" d="M1167 757L1171 755L1172 750L1168 753zM1172 757L1176 754L1177 750L1173 753zM1146 715L1140 715L1134 718L1140 718zM1140 706L1135 705L1130 708L1135 709zM1143 823L1137 820L1131 820L1136 823z"/>
<path fill="#5f7d29" d="M1148 762L1151 757L1151 751L1148 756zM1153 761L1157 768L1164 773L1159 765zM1150 722L1143 721L1136 724L1143 725zM1144 712L1139 712L1133 714L1138 715zM1142 709L1137 708L1132 711L1137 712zM1138 703L1134 702L1129 705L1133 706zM1141 813L1146 812L1149 808L1144 809zM1140 808L1136 806L1131 806L1135 809zM1140 808L1145 807L1147 804L1142 805z"/>
<path fill="#6c8b2f" d="M1176 740L1177 736L1174 732L1173 736zM1179 737L1180 733L1177 730L1176 734zM1184 732L1188 735L1193 736L1189 732zM1187 729L1191 733L1195 733L1192 729zM1139 767L1142 760L1141 754L1138 760zM1148 762L1153 770L1161 775L1155 767zM1157 759L1161 755L1162 750L1158 754zM1162 758L1165 765L1171 770L1168 763zM1140 706L1143 703L1143 699L1140 702zM1144 832L1151 830L1155 825L1148 827zM1139 803L1144 803L1146 799L1141 800z"/>
<path fill="#7a9b36" d="M1169 749L1176 753L1183 753L1176 749zM1174 743L1180 747L1186 747L1180 743zM1190 727L1192 724L1190 721L1188 724zM1143 764L1150 772L1158 777L1151 769zM1144 712L1148 709L1148 705L1145 708zM1138 703L1141 700L1141 697L1138 699z"/>
<path fill="#88a940" d="M1172 746L1178 750L1184 750L1178 746zM1176 740L1182 744L1188 744L1182 740zM1187 729L1188 726L1186 723L1185 726zM1148 719L1152 715L1153 710L1149 714zM1146 715L1150 712L1151 708L1147 711zM1142 709L1146 706L1146 702L1142 705zM1136 700L1139 698L1138 694L1135 696z"/>
<path fill="#98b64d" d="M1174 743L1174 738L1170 734L1170 739zM1179 737L1184 741L1189 741L1184 737zM1184 732L1185 728L1183 725L1182 729zM1134 697L1136 695L1136 692L1133 694z"/>
<path fill="#a7c35c" d="M1190 727L1193 730L1197 730L1194 727zM1184 734L1177 736L1171 742L1178 740zM1175 727L1169 728L1164 732L1170 731zM1134 697L1130 696L1126 698L1130 699z"/>
<path fill="#b6cd72" d="M1169 749L1169 744L1165 740L1165 745zM1172 746L1171 741L1167 737L1168 742zM1178 729L1172 731L1166 735L1172 734zM1167 719L1169 716L1168 712L1166 715zM1161 713L1157 713L1154 716L1158 717zM1150 722L1154 718L1156 713L1151 717zM1148 719L1142 718L1135 721L1141 722zM1136 700L1132 699L1128 702L1132 702z"/>
<path fill="#c4d787" d="M1182 734L1182 731L1180 727L1179 731zM1167 719L1162 719L1158 723L1163 723z"/>
<path fill="#d1dfa3" d="M1182 734L1186 738L1191 738L1187 735zM1184 734L1186 729L1185 724L1183 729zM1181 732L1174 734L1168 739L1175 737zM1181 732L1183 727L1182 722L1180 727zM1178 729L1180 725L1179 720L1177 725zM1169 722L1164 722L1160 726L1165 726zM1164 716L1160 716L1156 720L1160 720z"/>
<path fill="#dee7bf" d="M1172 724L1175 721L1174 716L1171 720z"/>
<path fill="#e8eed4" d="M1175 727L1178 723L1176 718L1174 722zM1172 724L1167 725L1162 729L1167 728z"/>
<path fill="#f1f4e5" d="M1169 722L1172 718L1171 714L1168 718zM1164 716L1166 713L1165 710L1163 713zM1161 713L1164 711L1163 708L1160 710z"/>
</g>
<g filter="url(#blur3)">
<path d="M1141,742 L1143,647 L1149,647 L1151,742 Z" fill="#3a3020" opacity="0.9"/>
</g>
<path fill="#10190b" d="M1135 817L1132 821L1127 822L1130 817zM1124 825L1120 828L1115 826L1119 823zM1138 789L1140 785L1145 784L1143 789zM1139 838L1136 841L1132 840L1135 837zM1124 752L1121 757L1116 758L1119 753zM1118 850L1119 847L1121 845L1120 849zM1132 716L1128 713L1126 708L1130 712zM1136 846L1135 849L1132 850L1133 848zM1135 792L1130 794L1126 791L1131 789zM1139 853L1133 850L1131 844L1136 847zM1117 791L1112 787L1111 780L1116 785zM1124 811L1120 804L1118 797L1122 804zM1124 824L1118 827L1111 825L1117 822zM1143 773L1138 775L1134 774L1138 772zM1131 755L1130 763L1125 770L1126 762zM1147 834L1143 833L1143 829L1147 830zM1132 848L1127 847L1124 842L1129 844zM1118 822L1121 817L1126 816L1123 820zM1141 844L1139 839L1141 833L1142 839zM1129 845L1125 846L1123 843L1127 842zM1142 796L1144 792L1148 791L1146 795zM1130 829L1129 832L1126 834L1127 831z"/>
<path fill="#141f0d" d="M1154 835L1156 833L1160 832L1157 835zM1121 824L1113 823L1107 820L1114 821zM1112 791L1113 788L1117 787L1116 791zM1120 676L1121 671L1126 668L1124 673zM1183 837L1180 834L1182 831L1185 834zM1148 796L1144 797L1140 795L1144 794zM1147 851L1146 854L1143 855L1144 852zM1179 842L1174 841L1171 837L1176 839zM1130 726L1126 724L1123 720L1127 722zM1129 728L1124 729L1119 726L1125 725zM1144 734L1141 735L1138 734L1141 733zM1137 733L1130 730L1126 723L1133 727zM1119 745L1116 746L1114 742L1118 742zM1125 772L1122 768L1122 764L1125 768z"/>
<path fill="#19260f" d="M1180 821L1178 819L1177 816L1179 818zM1142 731L1136 727L1133 721L1138 725zM1155 765L1147 763L1141 758L1149 759zM1197 828L1192 826L1188 822L1193 824zM1131 811L1132 808L1135 807L1134 810zM1121 726L1121 731L1118 735L1118 730zM1144 643L1140 640L1138 635L1143 638zM1145 726L1148 723L1152 721L1150 725zM1161 829L1161 825L1164 822L1164 826zM1145 758L1146 753L1149 751L1149 755zM1123 674L1118 669L1115 663L1120 668zM1141 828L1134 827L1130 822L1137 823zM1141 844L1137 845L1135 842L1138 841zM1170 820L1165 823L1159 824L1164 821zM1157 771L1150 770L1143 766L1150 768zM1126 622L1122 626L1117 627L1121 624zM1138 757L1134 760L1130 758L1134 755z"/>
<path fill="#1f2f11" d="M1202 808L1198 804L1195 800L1200 803zM1148 840L1149 837L1152 835L1151 838zM1124 719L1119 716L1117 710L1122 713zM1136 839L1138 832L1145 829L1142 836zM1151 782L1148 781L1148 778L1152 778zM1135 798L1127 800L1120 798L1127 796zM1125 732L1123 736L1119 737L1121 733zM1126 691L1130 686L1136 683L1132 688zM1148 774L1143 772L1139 768L1144 770zM1189 804L1187 809L1183 812L1185 807zM1198 838L1193 835L1190 831L1194 834zM1156 816L1153 822L1147 825L1150 819zM1141 784L1139 779L1138 774L1141 778zM1141 714L1139 722L1132 727L1135 719zM1215 827L1209 828L1203 827L1209 825zM1138 683L1133 679L1131 673L1136 677zM1118 714L1114 718L1109 720L1113 716zM1145 744L1138 743L1132 737L1140 739zM1130 672L1126 676L1120 676L1125 672zM1142 828L1136 823L1132 816L1138 821zM1147 790L1144 787L1143 783L1147 786zM1140 630L1134 627L1129 622L1135 625z"/>
<path fill="#253814" d="M1138 670L1136 673L1133 675L1135 672zM1141 741L1135 741L1131 738L1136 738zM1214 830L1211 827L1210 823L1213 826zM1142 806L1136 810L1128 810L1135 806zM1210 846L1208 851L1203 853L1205 849zM1128 815L1124 809L1121 802L1125 808zM1192 856L1193 849L1197 844L1197 851zM1148 750L1145 753L1140 754L1144 750zM1154 796L1156 788L1161 782L1159 790zM1156 734L1148 735L1140 733L1148 732zM1146 776L1142 773L1141 768L1145 771zM1119 707L1117 714L1112 720L1115 713zM1216 800L1209 800L1203 797L1210 797zM1210 816L1204 815L1199 811L1206 811zM1138 681L1131 682L1125 679L1132 679z"/>
<path fill="#2d4217" d="M1139 680L1138 685L1135 688L1136 683zM1176 861L1175 855L1177 849L1178 855zM1202 817L1195 814L1190 808L1197 811zM1218 819L1213 824L1208 827L1212 822zM1208 804L1204 803L1204 799L1208 800zM1151 790L1148 795L1143 798L1146 793zM1165 823L1158 819L1154 813L1161 817zM1163 652L1159 654L1155 653L1159 650zM1134 832L1130 825L1130 818L1134 824zM1176 814L1169 816L1161 813L1169 811zM1112 631L1111 627L1114 625L1116 629zM1119 692L1116 690L1115 685L1119 688zM1196 805L1198 801L1203 800L1201 804zM1162 814L1160 817L1156 815L1159 812zM1132 851L1125 856L1118 858L1124 853zM1123 847L1125 840L1132 836L1129 843zM1212 853L1208 854L1203 852L1208 851zM1153 799L1145 802L1137 801L1145 798zM1145 646L1141 649L1136 647L1140 644z"/>
<path fill="#344b19" d="M1127 744L1121 748L1113 748L1119 744zM1157 631L1164 627L1172 626L1165 630zM1124 736L1118 736L1114 732L1119 733zM1139 833L1134 830L1131 824L1137 828zM1119 818L1116 818L1114 816L1117 816zM1177 845L1171 844L1167 840L1172 842zM1118 645L1115 650L1110 654L1113 648zM1171 643L1166 645L1161 645L1166 642zM1123 740L1121 744L1117 747L1119 742zM1166 847L1163 851L1159 851L1161 847zM1159 726L1158 729L1154 731L1155 727zM1199 827L1196 821L1195 814L1198 820zM1216 805L1215 811L1209 816L1211 809zM1119 633L1119 627L1121 621L1122 627zM1119 857L1115 854L1113 849L1118 852zM1167 645L1163 649L1159 648L1162 644zM1194 840L1193 843L1190 845L1190 841zM1135 680L1130 682L1126 680L1130 678zM1187 795L1183 794L1179 791L1184 792zM1166 650L1163 656L1157 658L1160 652z"/>
<path fill="#3d561d" d="M1215 822L1211 819L1210 813L1214 817zM1148 817L1144 823L1138 827L1141 821zM1127 756L1122 752L1120 746L1126 750zM1165 758L1164 754L1167 750L1168 754zM1217 777L1215 779L1212 780L1214 778zM1145 642L1140 643L1135 641L1140 639zM1129 666L1129 662L1131 659L1131 663zM1199 825L1195 825L1191 822L1195 823zM1194 770L1200 767L1207 766L1201 769zM1119 671L1117 666L1119 660L1121 666zM1148 660L1149 656L1151 654L1151 658zM1143 657L1138 654L1135 650L1140 652zM1130 792L1124 793L1118 790L1125 789zM1190 775L1186 777L1182 776L1186 773zM1143 845L1140 848L1135 848L1139 845zM1129 727L1123 726L1120 721L1126 722zM1149 652L1146 651L1144 649L1147 650zM1129 723L1126 729L1121 731L1123 726zM1211 781L1207 781L1206 778L1210 778zM1228 630L1221 634L1212 634L1220 630zM1155 757L1148 753L1143 748L1150 751zM1209 644L1207 651L1204 658L1206 651zM1181 834L1178 833L1178 830L1181 831zM1138 806L1136 801L1138 796L1140 801z"/>
<path fill="#486220" d="M1122 746L1125 741L1129 738L1127 743zM1147 663L1144 658L1143 651L1147 657zM1137 716L1138 712L1142 711L1142 715zM1148 699L1141 696L1137 690L1143 693zM1186 636L1187 630L1191 626L1190 632zM1206 839L1210 832L1216 827L1212 834zM1170 638L1168 641L1164 639L1167 636zM1185 644L1182 652L1175 656L1178 649zM1209 650L1209 655L1205 658L1205 653zM1194 793L1191 792L1189 789L1193 790zM1222 812L1219 813L1216 810L1220 809zM1157 823L1154 816L1152 808L1156 815zM1172 768L1167 767L1166 762L1170 764zM1146 627L1144 634L1139 640L1141 633zM1171 783L1176 778L1183 775L1178 781zM1164 741L1160 736L1157 730L1162 735zM1199 851L1198 846L1201 842L1202 847zM1127 849L1131 844L1138 843L1133 847zM1177 790L1173 789L1172 785L1176 786zM1138 727L1136 732L1132 737L1134 731zM1136 774L1134 779L1129 782L1131 776zM1179 844L1175 836L1176 828L1179 836zM1193 839L1191 842L1187 844L1189 841z"/>
<path fill="#536f25" d="M1165 767L1160 767L1158 764L1162 763zM1219 857L1215 851L1213 845L1217 851zM1208 845L1203 844L1200 842L1204 842zM1158 742L1154 748L1148 751L1151 745zM1190 793L1184 788L1181 780L1187 785zM1165 642L1169 637L1176 636L1171 641zM1222 827L1221 835L1218 842L1219 834zM1144 776L1146 769L1151 763L1149 771zM1124 775L1122 781L1116 783L1118 777zM1157 837L1157 842L1153 844L1153 840zM1189 829L1190 833L1186 836L1186 832zM1172 647L1166 641L1163 634L1169 640zM1211 627L1204 627L1198 626L1204 625zM1125 686L1119 683L1115 677L1121 681zM1159 703L1160 699L1164 699L1162 703zM1125 768L1120 771L1114 772L1119 769zM1174 800L1166 800L1158 797L1167 797zM1121 650L1124 642L1130 636L1127 644zM1143 648L1142 645L1143 642L1145 645zM1162 775L1157 773L1156 769L1160 770zM1166 839L1159 838L1153 834L1160 835zM1141 686L1134 684L1131 677L1137 680zM1179 647L1175 645L1172 641L1176 643zM1129 675L1134 669L1140 668L1136 673zM1178 731L1174 726L1171 720L1175 725zM1154 666L1148 665L1144 661L1150 662zM1219 636L1216 636L1214 634L1217 634zM1133 678L1127 676L1123 671L1129 673zM1204 662L1207 658L1212 657L1208 660zM1141 633L1136 635L1131 634L1136 632zM1185 711L1178 711L1171 707L1179 707zM1209 633L1201 632L1194 629L1202 630zM1187 668L1182 669L1177 667L1182 666zM1125 714L1120 718L1114 719L1119 716z"/>
<path fill="#5f7d29" d="M1219 651L1219 644L1223 640L1223 646zM1164 635L1159 628L1157 620L1161 627zM1170 811L1168 814L1164 816L1166 813zM1124 825L1121 819L1121 813L1124 818zM1171 778L1166 776L1163 771L1169 773zM1140 813L1136 810L1136 806L1139 809zM1121 648L1116 654L1110 655L1114 650zM1193 829L1186 826L1183 820L1189 823zM1220 778L1216 783L1210 786L1214 781zM1184 793L1181 790L1183 786L1186 789zM1204 745L1206 743L1209 744L1207 746zM1157 658L1153 655L1155 651L1158 654zM1147 658L1143 652L1143 644L1147 651zM1169 666L1168 662L1171 660L1172 664zM1177 649L1174 650L1171 648L1174 647zM1179 763L1179 758L1181 754L1181 758zM1154 790L1148 789L1144 785L1150 785zM1162 646L1163 651L1159 654L1159 649zM1113 705L1114 698L1118 692L1117 699zM1184 631L1181 634L1177 634L1180 631zM1171 629L1167 625L1168 621L1172 624zM1224 775L1219 772L1216 767L1221 770zM1156 775L1151 781L1145 783L1149 778zM1175 732L1171 737L1165 738L1169 733zM1155 713L1156 707L1160 702L1159 708zM1162 791L1159 794L1155 792L1158 789zM1184 767L1177 763L1174 755L1181 760z"/>
<path fill="#6c8b2f" d="M1217 729L1213 723L1212 717L1216 722zM1195 711L1195 715L1191 716L1192 712zM1157 797L1158 790L1162 784L1161 791zM1180 834L1174 835L1170 831L1175 831zM1128 640L1127 646L1122 650L1124 644zM1207 699L1199 699L1191 697L1199 697zM1190 856L1184 852L1179 847L1185 851zM1202 689L1201 686L1202 683L1204 686zM1197 756L1191 758L1185 755L1191 754zM1171 730L1169 723L1168 715L1171 722zM1155 672L1150 674L1145 671L1150 670zM1189 809L1185 810L1181 810L1185 809zM1177 757L1175 759L1172 758L1174 756zM1223 693L1220 694L1217 694L1220 692zM1218 628L1213 629L1208 627L1213 625zM1145 685L1144 682L1146 678L1147 682zM1212 771L1206 770L1201 767L1207 768zM1203 709L1198 715L1191 716L1195 711zM1141 682L1135 685L1128 685L1134 682zM1184 847L1179 842L1178 835L1182 840zM1197 665L1195 670L1190 673L1193 668zM1164 650L1158 647L1156 641L1162 644zM1221 691L1216 689L1213 684L1218 686zM1133 798L1130 798L1128 795L1131 795zM1162 810L1156 815L1148 817L1154 812zM1124 661L1122 667L1117 672L1120 666zM1221 837L1222 840L1218 842L1217 838zM1141 677L1137 671L1137 665L1141 670zM1210 764L1205 761L1204 755L1208 759zM1153 796L1149 796L1146 794L1150 794zM1177 658L1174 661L1170 659L1173 657zM1143 660L1137 655L1133 649L1139 654zM1152 745L1149 752L1143 756L1146 749zM1137 705L1134 709L1129 709L1132 705z"/>
<path fill="#7a9b36" d="M1168 661L1163 665L1157 666L1162 662zM1204 758L1202 764L1197 766L1199 761zM1214 754L1206 754L1199 751L1207 751zM1130 690L1124 691L1120 687L1126 687zM1125 683L1123 686L1119 687L1121 683zM1135 706L1129 712L1121 714L1127 708zM1192 751L1186 750L1182 745L1188 746zM1132 633L1127 632L1122 630L1127 630zM1196 776L1190 782L1182 784L1188 778zM1188 673L1183 673L1182 669L1186 669zM1187 663L1186 668L1182 671L1183 666zM1143 784L1144 778L1149 776L1148 781zM1161 667L1156 665L1153 660L1158 663zM1209 652L1203 652L1198 649L1204 650zM1177 639L1173 638L1172 634L1176 635zM1181 768L1176 771L1170 770L1175 767zM1178 678L1174 672L1173 665L1177 671zM1145 784L1141 782L1140 778L1144 780zM1224 813L1218 812L1215 808L1220 808zM1200 806L1201 802L1205 801L1203 804zM1167 804L1162 810L1155 812L1159 806z"/>
<path fill="#88a940" d="M1171 693L1164 693L1158 689L1165 689zM1138 742L1137 734L1140 726L1140 734zM1206 831L1205 828L1206 825L1207 828zM1180 683L1177 684L1174 683L1177 682zM1163 717L1162 721L1158 722L1159 718zM1222 669L1216 675L1209 677L1215 672zM1177 772L1170 776L1162 776L1169 772zM1215 630L1212 626L1210 622L1214 625zM1185 851L1181 850L1179 847L1183 848zM1155 677L1149 673L1144 668L1150 671zM1179 658L1174 657L1170 654L1175 654zM1188 688L1180 687L1173 683L1181 684zM1212 630L1213 634L1210 636L1210 633zM1189 769L1183 774L1175 774L1181 770zM1194 746L1193 750L1191 753L1192 749zM1128 657L1128 653L1131 650L1131 655zM1165 641L1163 638L1165 634L1167 637zM1184 819L1178 818L1175 814L1180 815zM1152 727L1147 723L1144 717L1150 720zM1191 799L1190 794L1194 790L1195 795zM1208 685L1203 687L1199 684L1203 683zM1180 760L1177 756L1176 751L1179 755zM1223 727L1219 734L1212 738L1216 731zM1176 732L1170 732L1165 728L1171 728zM1144 749L1138 751L1131 748L1138 746zM1172 751L1168 746L1167 740L1171 745zM1209 664L1212 661L1216 660L1213 663zM1204 664L1199 664L1195 661L1200 660zM1162 697L1157 696L1154 692L1159 694z"/>
<path fill="#98b64d" d="M1139 678L1138 672L1140 667L1141 672zM1225 684L1221 684L1219 680L1223 680zM1192 732L1191 738L1186 741L1187 735zM1216 677L1211 678L1205 676L1211 676zM1167 749L1163 746L1161 741L1165 744zM1199 745L1193 741L1190 734L1196 738zM1182 664L1180 667L1176 666L1178 663zM1220 818L1214 818L1209 814L1215 815zM1181 800L1178 801L1175 800L1178 799zM1148 678L1142 677L1137 672L1144 673zM1193 635L1190 633L1189 628L1193 631zM1187 819L1181 814L1176 807L1183 812zM1199 796L1196 790L1198 784L1201 790zM1213 646L1210 647L1206 646L1209 645zM1145 679L1146 674L1151 672L1150 677zM1179 723L1171 724L1164 720L1172 719zM1139 686L1134 683L1131 679L1136 681zM1220 638L1218 646L1213 651L1215 644zM1164 656L1162 653L1163 649L1164 652zM1221 804L1216 804L1214 800L1219 800zM1150 639L1148 636L1148 631L1151 634zM1197 769L1190 770L1183 767L1190 766zM1172 746L1173 750L1170 753L1169 749zM1193 795L1192 801L1188 806L1189 800zM1161 726L1159 719L1161 712L1163 719z"/>
<path fill="#a7c35c" d="M1167 733L1163 728L1163 721L1167 726zM1194 787L1191 785L1190 782L1193 784zM1217 838L1210 834L1206 829L1212 832zM1188 764L1182 760L1178 754L1184 758zM1218 753L1219 748L1224 745L1223 751zM1153 664L1150 662L1152 659L1155 661zM1216 688L1212 688L1209 684L1213 684zM1151 631L1150 634L1147 635L1148 632zM1220 781L1216 779L1213 776L1217 777zM1208 792L1201 791L1194 787L1202 787zM1223 639L1216 642L1209 643L1216 640zM1202 805L1198 806L1195 805L1198 803zM1169 786L1168 790L1165 791L1165 787zM1162 675L1158 672L1158 668L1162 670zM1222 650L1217 652L1212 652L1217 650zM1162 672L1154 670L1148 664L1156 666z"/>
<path fill="#b6cd72" d="M1188 650L1182 645L1177 639L1184 643zM1184 800L1179 796L1176 791L1181 794zM1215 656L1212 659L1207 659L1211 656zM1221 693L1218 691L1217 686L1221 689zM1194 743L1190 744L1186 743L1190 742zM1224 679L1220 673L1219 665L1224 671zM1186 729L1183 726L1182 721L1185 725zM1170 668L1170 664L1172 662L1172 665zM1213 753L1209 760L1202 764L1206 757zM1198 716L1194 714L1193 709L1196 712zM1162 713L1155 711L1149 707L1156 708zM1221 639L1216 636L1214 630L1218 634z"/>
<path fill="#c4d787" d="M1190 704L1187 709L1183 712L1186 707zM1197 640L1195 635L1198 629L1199 635zM1216 765L1209 763L1206 757L1213 759zM1195 685L1194 690L1190 694L1192 689zM1217 777L1214 779L1211 779L1214 777zM1179 747L1179 751L1177 753L1177 750zM1187 766L1184 771L1179 774L1181 768zM1182 755L1175 758L1167 758L1174 755zM1214 781L1208 784L1201 783L1207 780zM1213 632L1209 635L1203 634L1208 632zM1157 672L1161 667L1167 664L1163 669zM1207 693L1204 692L1202 689L1205 690zM1191 754L1188 759L1183 762L1186 757zM1157 669L1155 677L1150 684L1152 676z"/>
<path fill="#d1dfa3" d="M1185 703L1181 697L1179 689L1183 696zM1172 735L1169 740L1162 743L1166 737zM1224 631L1223 634L1219 635L1221 631zM1205 646L1203 649L1200 650L1202 647zM1185 628L1178 629L1170 629L1177 627zM1165 720L1160 718L1160 713L1164 715zM1149 701L1145 697L1146 692L1149 696zM1183 705L1178 706L1175 703L1179 702zM1192 667L1186 666L1182 663L1187 663zM1189 748L1185 745L1182 741L1186 744zM1206 694L1202 692L1201 687L1205 689zM1212 676L1207 680L1201 681L1205 676zM1179 674L1177 682L1172 688L1174 680zM1172 676L1166 672L1164 665L1170 669z"/>
<path fill="#dee7bf" d="M1214 675L1210 672L1207 667L1212 670zM1183 758L1180 759L1176 756L1180 755zM1160 694L1159 698L1156 700L1157 697zM1142 683L1148 678L1155 678L1149 682zM1221 654L1217 650L1218 645L1221 649zM1206 683L1202 685L1199 685L1202 683zM1207 684L1201 682L1197 677L1203 680zM1192 759L1187 756L1183 751L1188 754zM1181 741L1175 744L1168 745L1174 742z"/>
<path fill="#e8eed4" d="M1164 697L1162 690L1162 683L1164 690zM1157 698L1157 703L1153 704L1153 700zM1220 732L1216 730L1214 727L1218 729zM1183 726L1181 730L1178 732L1179 728zM1175 690L1171 688L1170 684L1174 686zM1150 707L1154 702L1161 700L1157 705zM1209 708L1206 713L1201 712L1204 708z"/>
<path fill="#f1f4e5" d="M1182 680L1182 684L1179 686L1178 682zM1205 725L1204 729L1200 733L1202 728zM1152 679L1148 682L1145 680L1148 678zM1224 734L1217 731L1211 726L1219 729zM1165 676L1162 683L1156 689L1159 682zM1158 677L1153 674L1150 669L1155 672zM1213 722L1208 722L1205 719L1210 718zM1227 754L1220 750L1215 744L1222 748zM1173 673L1172 681L1167 687L1168 679zM1195 686L1195 690L1191 691L1192 687zM1162 674L1158 669L1156 663L1160 668zM1208 737L1200 735L1194 730L1202 732zM1216 731L1210 728L1206 722L1212 725zM1166 670L1164 678L1159 683L1160 676zM1208 708L1211 705L1214 706L1212 708zM1163 688L1164 684L1168 682L1167 687zM1165 683L1159 680L1155 676L1161 678zM1159 684L1156 682L1155 679L1158 681zM1193 705L1189 704L1188 699L1193 701zM1212 741L1206 743L1199 741L1206 740z"/>
<path fill="#344b19" d="M1160 802L1166 799L1168 794L1163 797z"/>
<path fill="#3d561d" d="M1181 846L1181 841L1178 836L1178 842zM1154 830L1157 827L1155 824L1153 827zM1167 832L1160 835L1155 840L1162 838zM1161 828L1155 829L1150 834L1156 833zM1158 825L1152 826L1147 831L1153 830zM1159 797L1164 795L1167 790L1161 792zM1156 782L1153 779L1148 779L1151 782z"/>
<path fill="#486220" d="M1186 848L1178 853L1173 862L1180 856zM1177 845L1178 839L1174 835L1174 840zM1169 841L1170 836L1168 832L1167 836zM1154 830L1150 831L1146 834L1151 834zM1146 815L1142 815L1139 818L1143 818zM1167 815L1159 815L1150 819L1159 819zM1162 806L1168 803L1170 797L1165 801zM1156 787L1161 786L1164 782L1159 783z"/>
<path fill="#536f25" d="M1173 843L1167 846L1162 852L1168 849zM1165 838L1167 834L1165 830L1163 834zM1158 833L1160 830L1159 826L1156 830zM1164 830L1157 832L1152 837L1159 835zM1158 825L1160 821L1158 817L1156 821zM1155 823L1149 824L1145 828L1150 827zM1146 815L1148 813L1147 810L1145 812zM1167 815L1172 810L1174 804L1169 809zM1162 806L1156 805L1148 807L1155 809zM1156 782L1161 781L1163 778L1158 778z"/>
<path fill="#5f7d29" d="M1181 846L1174 851L1169 859L1176 854zM1177 845L1170 849L1165 856L1172 852zM1169 841L1163 843L1158 849L1165 847zM1162 836L1163 832L1162 828L1160 832zM1170 835L1172 829L1170 824L1168 829zM1161 828L1163 824L1161 819L1159 823zM1149 818L1151 815L1150 812L1148 814z"/>
<path fill="#6c8b2f" d="M1159 752L1149 755L1141 761L1150 758zM1130 731L1131 727L1129 723L1128 727zM1162 836L1156 837L1152 842L1157 841zM1167 832L1169 827L1167 823L1165 827zM1164 830L1166 826L1164 821L1162 825zM1155 823L1157 819L1156 816L1153 819zM1152 820L1154 817L1153 814L1150 817zM1160 802L1154 800L1147 802L1153 803zM1158 792L1163 790L1165 786L1160 788z"/>
<path fill="#7a9b36" d="M1155 748L1157 742L1157 735L1154 742zM1135 734L1129 736L1124 742L1130 740zM1135 734L1137 729L1135 725L1133 729zM1170 835L1163 837L1157 843L1165 841zM1170 819L1161 820L1152 824L1161 824zM1165 811L1157 810L1149 813L1157 814z"/>
<path fill="#88a940" d="M1167 761L1171 754L1172 746L1168 753zM1163 757L1153 759L1143 764L1153 762zM1159 752L1162 746L1162 739L1159 745zM1150 744L1142 747L1134 753L1143 750zM1186 848L1185 842L1181 837L1182 843zM1173 843L1174 838L1171 833L1170 838zM1165 838L1160 840L1155 846L1161 844zM1158 833L1153 834L1149 838L1154 837zM1152 820L1147 821L1143 825L1148 824zM1149 818L1144 818L1141 821L1145 821zM1170 819L1175 814L1176 807L1171 813zM1159 797L1153 795L1147 796L1152 798zM1158 792L1153 790L1147 790L1151 793z"/>
<path fill="#98b64d" d="M1145 741L1147 735L1146 730L1144 735zM1140 737L1142 732L1140 727L1139 732zM1130 731L1124 733L1120 739L1126 736zM1165 811L1170 807L1172 801L1167 805zM1156 787L1153 784L1147 785L1151 788z"/>
<path fill="#a7c35c" d="M1167 761L1156 763L1146 768L1157 767zM1163 757L1167 750L1167 742L1163 749zM1155 748L1146 751L1138 757L1147 754z"/>
<path fill="#b6cd72" d="M1194 693L1197 686L1196 679L1193 686zM1186 686L1178 688L1171 694L1179 692zM1178 679L1171 681L1165 687L1172 685zM1178 679L1181 674L1180 669L1177 674zM1145 741L1138 743L1131 749L1139 747z"/>
<path fill="#c4d787" d="M1194 693L1185 695L1176 701L1186 699zM1190 689L1193 683L1192 676L1189 683zM1150 744L1152 739L1151 732L1149 738zM1140 737L1133 740L1128 746L1135 743z"/>
<path fill="#dee7bf" d="M1182 682L1175 685L1168 690L1176 688zM1170 673L1173 668L1171 664L1169 668zM1166 670L1161 671L1156 676L1162 674z"/>
<path fill="#e8eed4" d="M1182 682L1185 677L1184 671L1181 677zM1162 667L1157 668L1153 672L1158 671z"/>
<path fill="#f1f4e5" d="M1190 689L1181 692L1173 698L1182 695zM1186 686L1189 680L1188 674L1185 680zM1174 676L1168 678L1162 683L1169 681zM1174 676L1177 671L1175 666L1173 671zM1170 673L1164 674L1159 679L1165 678zM1166 670L1168 666L1167 662L1165 665zM1162 667L1164 663L1162 659L1161 663z"/>
</g>
<clipPath id="jc3"><polygon points="1268.1,611.2 1306.8,596.6 1372.1,593.0 1385.4,603.9 1386.6,705.5 1347.9,715.1 1299.6,729.7 1299.6,755.0 1287.5,755.0 1277.8,695.8 1253.6,643.8 1263.3,625.7"/></clipPath>
<g clip-path="url(#jc3)">
<g filter="url(#blur6)">
<path fill="#3d561d" d="M1241 725h13v13h-13zM1253 725h13v13h-13zM1265 725h13v13h-13zM1241 737h13v13h-13zM1253 737h13v13h-13zM1265 737h13v13h-13zM1277 737h13v13h-13zM1241 749h13v13h-13zM1253 749h13v13h-13zM1265 749h13v13h-13zM1277 749h13v13h-13zM1241 761h13v13h-13zM1253 761h13v13h-13zM1265 761h13v13h-13zM1277 761h13v13h-13z"/>
<path fill="#486220" d="M1241 701h13v13h-13zM1253 701h13v13h-13zM1265 701h13v13h-13zM1241 713h13v13h-13zM1253 713h13v13h-13zM1265 713h13v13h-13zM1277 713h13v13h-13zM1277 725h13v13h-13zM1289 725h13v13h-13zM1289 737h13v13h-13zM1301 737h13v13h-13zM1313 737h13v13h-13zM1325 737h13v13h-13zM1337 737h13v13h-13zM1349 737h13v13h-13zM1361 737h13v13h-13zM1373 737h13v13h-13zM1385 737h13v13h-13zM1397 737h13v13h-13zM1289 749h13v13h-13zM1301 749h13v13h-13zM1313 749h13v13h-13zM1325 749h13v13h-13zM1337 749h13v13h-13zM1349 749h13v13h-13zM1361 749h13v13h-13zM1373 749h13v13h-13zM1385 749h13v13h-13zM1397 749h13v13h-13zM1289 761h13v13h-13zM1301 761h13v13h-13zM1313 761h13v13h-13zM1325 761h13v13h-13zM1337 761h13v13h-13zM1349 761h13v13h-13zM1361 761h13v13h-13zM1373 761h13v13h-13zM1385 761h13v13h-13zM1397 761h13v13h-13z"/>
<path fill="#536f25" d="M1325 617h13v13h-13zM1313 629h13v13h-13zM1325 629h13v13h-13zM1337 629h13v13h-13zM1325 641h13v13h-13zM1337 641h13v13h-13zM1241 689h13v13h-13zM1253 689h13v13h-13zM1265 689h13v13h-13zM1277 701h13v13h-13zM1289 713h13v13h-13zM1301 713h13v13h-13zM1313 713h13v13h-13zM1325 713h13v13h-13zM1337 713h13v13h-13zM1349 713h13v13h-13zM1361 713h13v13h-13zM1373 713h13v13h-13zM1385 713h13v13h-13zM1397 713h13v13h-13zM1301 725h13v13h-13zM1313 725h13v13h-13zM1325 725h13v13h-13zM1337 725h13v13h-13zM1349 725h13v13h-13zM1361 725h13v13h-13zM1373 725h13v13h-13zM1385 725h13v13h-13zM1397 725h13v13h-13z"/>
<path fill="#5f7d29" d="M1301 581h13v13h-13zM1313 581h13v13h-13zM1325 581h13v13h-13zM1337 581h13v13h-13zM1349 581h13v13h-13zM1361 581h13v13h-13zM1373 581h13v13h-13zM1385 581h13v13h-13zM1397 581h13v13h-13zM1301 593h13v13h-13zM1313 593h13v13h-13zM1325 593h13v13h-13zM1337 593h13v13h-13zM1349 593h13v13h-13zM1361 593h13v13h-13zM1373 593h13v13h-13zM1385 593h13v13h-13zM1397 593h13v13h-13zM1301 605h13v13h-13zM1313 605h13v13h-13zM1325 605h13v13h-13zM1337 605h13v13h-13zM1349 605h13v13h-13zM1361 605h13v13h-13zM1373 605h13v13h-13zM1385 605h13v13h-13zM1397 605h13v13h-13zM1301 617h13v13h-13zM1313 617h13v13h-13zM1337 617h13v13h-13zM1349 617h13v13h-13zM1301 629h13v13h-13zM1349 629h13v13h-13zM1301 641h13v13h-13zM1313 641h13v13h-13zM1349 641h13v13h-13zM1313 653h13v13h-13zM1325 653h13v13h-13zM1337 653h13v13h-13zM1241 665h13v13h-13zM1253 665h13v13h-13zM1265 665h13v13h-13zM1325 665h13v13h-13zM1337 665h13v13h-13zM1241 677h13v13h-13zM1253 677h13v13h-13zM1265 677h13v13h-13zM1277 677h13v13h-13zM1325 677h13v13h-13zM1337 677h13v13h-13zM1277 689h13v13h-13zM1289 689h13v13h-13zM1313 689h13v13h-13zM1325 689h13v13h-13zM1337 689h13v13h-13zM1349 689h13v13h-13zM1289 701h13v13h-13zM1301 701h13v13h-13zM1313 701h13v13h-13zM1325 701h13v13h-13zM1337 701h13v13h-13zM1349 701h13v13h-13zM1361 701h13v13h-13zM1373 701h13v13h-13zM1385 701h13v13h-13zM1397 701h13v13h-13z"/>
<path fill="#6c8b2f" d="M1277 581h13v13h-13zM1289 581h13v13h-13zM1277 593h13v13h-13zM1289 593h13v13h-13zM1277 605h13v13h-13zM1289 605h13v13h-13zM1289 617h13v13h-13zM1361 617h13v13h-13zM1373 617h13v13h-13zM1385 617h13v13h-13zM1397 617h13v13h-13zM1289 629h13v13h-13zM1361 629h13v13h-13zM1373 629h13v13h-13zM1385 629h13v13h-13zM1397 629h13v13h-13zM1289 641h13v13h-13zM1277 653h13v13h-13zM1289 653h13v13h-13zM1301 653h13v13h-13zM1349 653h13v13h-13zM1277 665h13v13h-13zM1289 665h13v13h-13zM1301 665h13v13h-13zM1313 665h13v13h-13zM1349 665h13v13h-13zM1289 677h13v13h-13zM1301 677h13v13h-13zM1313 677h13v13h-13zM1349 677h13v13h-13zM1361 677h13v13h-13zM1373 677h13v13h-13zM1385 677h13v13h-13zM1397 677h13v13h-13zM1301 689h13v13h-13zM1361 689h13v13h-13zM1373 689h13v13h-13zM1385 689h13v13h-13zM1397 689h13v13h-13z"/>
<path fill="#7a9b36" d="M1241 581h13v13h-13zM1253 581h13v13h-13zM1265 581h13v13h-13zM1241 593h13v13h-13zM1253 593h13v13h-13zM1265 593h13v13h-13zM1241 605h13v13h-13zM1253 605h13v13h-13zM1265 605h13v13h-13zM1277 617h13v13h-13zM1277 629h13v13h-13zM1277 641h13v13h-13zM1361 641h13v13h-13zM1373 641h13v13h-13zM1385 641h13v13h-13zM1397 641h13v13h-13zM1241 653h13v13h-13zM1253 653h13v13h-13zM1265 653h13v13h-13zM1361 653h13v13h-13zM1373 653h13v13h-13zM1385 653h13v13h-13zM1397 653h13v13h-13zM1361 665h13v13h-13zM1373 665h13v13h-13zM1385 665h13v13h-13zM1397 665h13v13h-13z"/>
<path fill="#88a940" d="M1241 617h13v13h-13zM1253 617h13v13h-13zM1265 617h13v13h-13zM1241 629h13v13h-13zM1253 629h13v13h-13zM1265 629h13v13h-13zM1241 641h13v13h-13zM1253 641h13v13h-13zM1265 641h13v13h-13z"/>
<path fill="#5f7d29" d="M1385 583L1390 583L1392 580L1387 580zM1361 632L1358 628L1353 628L1356 631zM1361 624L1365 625L1367 622L1363 622z"/>
<path fill="#6c8b2f" d="M1381 618L1373 619L1366 625L1374 623zM1372 608L1365 609L1359 613L1366 612zM1360 635L1358 632L1353 631L1355 634zM1361 624L1358 622L1354 622L1356 625zM1361 621L1365 621L1366 618L1362 618z"/>
<path fill="#7a9b36" d="M1384 601L1390 601L1395 599L1389 598zM1385 592L1382 589L1377 588L1380 591zM1385 592L1390 592L1394 589L1388 589zM1375 645L1370 638L1363 633L1367 640zM1385 598L1382 595L1376 594L1379 597zM1385 598L1391 598L1395 595L1389 595zM1378 615L1370 616L1363 621L1371 620zM1369 605L1372 601L1372 596L1369 600zM1359 642L1356 638L1351 636L1354 640zM1360 639L1357 635L1352 633L1355 637zM1360 617L1358 615L1354 616L1356 618z"/>
<path fill="#88a940" d="M1382 609L1379 604L1373 602L1376 606zM1382 609L1389 610L1395 608L1388 607zM1384 601L1381 597L1376 595L1379 599zM1375 611L1368 612L1361 617L1368 616zM1372 608L1375 604L1375 598L1372 603zM1358 591L1361 588L1360 585L1357 587zM1359 642L1365 643L1370 641L1364 640zM1361 632L1366 632L1369 629L1364 629z"/>
<path fill="#98b64d" d="M1379 617L1376 612L1371 608L1373 613zM1383 605L1380 600L1375 598L1377 603zM1385 596L1382 593L1377 592L1379 595zM1375 645L1386 647L1396 645L1385 643zM1379 634L1388 635L1396 632L1387 631zM1382 622L1377 617L1370 614L1375 619zM1382 622L1390 622L1397 620L1388 619zM1383 616L1390 616L1396 613L1389 613zM1384 610L1391 610L1396 607L1389 607zM1378 615L1381 609L1381 603L1378 609zM1361 628L1365 628L1368 625L1363 625z"/>
<path fill="#a7c35c" d="M1379 617L1387 619L1394 618L1386 616zM1380 613L1378 608L1372 605L1375 610zM1385 587L1390 588L1393 585L1388 585zM1385 583L1383 580L1378 581L1381 583zM1384 610L1380 606L1373 604L1377 608zM1384 604L1391 604L1395 601L1389 601zM1381 618L1384 612L1384 606L1381 612zM1375 611L1378 606L1378 601L1375 606zM1369 605L1363 605L1357 609L1363 609zM1360 594L1363 591L1363 588L1360 590zM1361 621L1358 618L1354 619L1357 622zM1360 617L1364 617L1365 614L1361 615z"/>
<path fill="#b6cd72" d="M1385 596L1390 597L1394 594L1389 593zM1385 587L1383 584L1378 584L1381 587zM1380 628L1376 622L1369 619L1373 625zM1360 639L1365 639L1370 637L1364 636zM1360 635L1366 636L1369 633L1364 632zM1361 628L1358 625L1354 625L1356 628z"/>
<path fill="#c4d787" d="M1380 613L1388 615L1395 613L1387 611zM1383 616L1379 611L1372 609L1376 614zM1363 598L1366 595L1366 590L1363 594zM1360 594L1355 594L1351 597L1356 598zM1358 591L1353 590L1349 593L1353 594zM1358 645L1356 641L1350 638L1353 643zM1358 645L1364 647L1370 645L1363 643z"/>
<path fill="#d1dfa3" d="M1383 605L1390 606L1395 603L1388 602zM1377 639L1372 633L1365 628L1369 635zM1379 634L1374 628L1367 624L1371 630zM1380 628L1389 629L1397 626L1388 625zM1384 604L1381 600L1375 599L1378 603zM1366 601L1360 601L1355 605L1361 605zM1366 601L1369 598L1369 593L1366 597zM1363 598L1358 598L1353 601L1358 601z"/>
<path fill="#dee7bf" d="M1377 639L1387 641L1396 638L1386 637z"/>
</g>
<g filter="url(#blur3)">
<path d="M1359,679 L1361,609 L1368,609 L1371,679 Z" fill="#5a4628" opacity="0.9"/>
</g>
<path fill="#141f0d" d="M1286 757L1282 757L1280 754L1283 754zM1260 747L1254 745L1251 740L1257 742z"/>
<path fill="#19260f" d="M1289 752L1291 749L1294 748L1293 751zM1389 762L1384 757L1381 751L1386 756zM1388 764L1386 757L1387 750L1389 757zM1272 766L1273 759L1278 754L1278 761zM1315 756L1314 759L1311 762L1312 758zM1298 739L1295 744L1289 747L1292 741zM1275 725L1277 720L1283 718L1280 723z"/>
<path fill="#1f2f11" d="M1336 733L1334 729L1336 725L1339 729zM1348 764L1342 761L1338 756L1344 758zM1292 749L1291 757L1286 763L1288 755zM1331 746L1328 749L1323 749L1326 745zM1333 742L1330 742L1329 738L1333 739zM1252 752L1247 747L1248 739L1252 745zM1274 717L1272 725L1266 731L1268 723zM1380 721L1376 728L1371 733L1375 727zM1272 694L1272 699L1269 704L1268 698zM1368 733L1368 726L1370 720L1370 726zM1336 627L1328 624L1323 618L1331 621zM1383 730L1377 736L1370 738L1376 733zM1284 688L1276 688L1268 686L1276 686z"/>
<path fill="#253814" d="M1271 705L1264 707L1256 706L1263 704zM1276 722L1276 727L1273 730L1273 725zM1258 682L1263 678L1270 677L1265 681zM1328 701L1325 699L1325 696L1328 697zM1348 636L1350 632L1354 632L1352 635zM1334 642L1335 637L1339 635L1339 640zM1334 629L1339 626L1345 626L1340 629zM1364 605L1356 605L1349 603L1357 603zM1265 671L1263 679L1258 685L1259 677zM1301 758L1296 753L1292 747L1297 752zM1334 636L1329 635L1324 632L1329 633zM1290 717L1283 715L1279 709L1286 711zM1272 671L1268 674L1263 673L1267 670zM1263 713L1257 710L1252 706L1258 708zM1374 732L1371 733L1368 731L1371 730zM1266 699L1263 703L1259 703L1261 700zM1341 632L1337 626L1336 620L1340 625zM1345 719L1342 713L1342 706L1344 712zM1301 743L1295 746L1287 746L1294 742zM1377 737L1375 741L1372 743L1374 739z"/>
<path fill="#2d4217" d="M1285 705L1280 700L1278 693L1283 699zM1353 681L1352 687L1348 691L1349 686zM1337 625L1335 623L1334 620L1337 622zM1286 717L1289 715L1292 715L1289 718zM1380 745L1378 749L1375 752L1376 748zM1309 739L1304 738L1303 733L1308 735zM1326 747L1320 747L1314 744L1321 743zM1287 730L1281 724L1281 716L1286 722zM1372 731L1369 731L1366 728L1370 728zM1272 687L1267 681L1264 674L1269 680zM1278 761L1273 756L1272 749L1277 754zM1370 633L1364 631L1359 626L1366 628zM1357 758L1351 759L1347 755L1353 754zM1365 744L1362 741L1364 736L1367 740zM1352 620L1352 613L1355 606L1354 613zM1271 703L1265 701L1263 696L1268 698zM1371 634L1365 633L1360 628L1367 629zM1382 649L1385 645L1389 642L1386 646zM1292 616L1285 618L1279 614L1286 613zM1313 642L1317 636L1323 633L1319 639zM1361 597L1355 593L1351 588L1357 591zM1320 650L1316 647L1313 643L1318 646zM1383 696L1380 695L1380 691L1384 692zM1388 582L1388 589L1384 594L1384 588zM1368 595L1373 590L1381 589L1375 594zM1379 657L1374 653L1370 647L1376 651zM1300 739L1292 740L1284 740L1292 738zM1324 606L1327 599L1332 593L1329 600zM1311 633L1308 632L1307 629L1311 629zM1287 719L1282 716L1280 711L1285 714zM1371 609L1377 605L1384 605L1378 609zM1343 743L1336 748L1328 748L1335 743zM1382 681L1376 678L1371 673L1377 676zM1396 694L1391 698L1384 700L1389 695zM1372 645L1366 650L1359 654L1365 649zM1258 763L1253 759L1250 753L1255 757z"/>
<path fill="#344b19" d="M1300 652L1295 649L1292 644L1296 647zM1295 749L1290 752L1284 753L1289 750zM1269 745L1263 741L1260 735L1265 739zM1362 726L1360 728L1357 729L1359 726zM1330 639L1328 644L1324 647L1326 643zM1377 613L1377 621L1372 629L1373 620zM1351 631L1347 631L1345 628L1349 627zM1322 678L1321 674L1324 671L1325 675zM1355 616L1359 612L1365 613L1361 616zM1383 706L1380 710L1376 711L1379 708zM1339 640L1335 642L1331 642L1335 639zM1394 693L1389 688L1389 682L1393 686zM1355 632L1349 632L1346 627L1351 628zM1304 631L1300 626L1299 620L1302 625zM1324 657L1322 661L1318 662L1320 658zM1272 597L1272 590L1275 584L1275 591zM1291 763L1288 759L1288 754L1291 758zM1313 663L1308 666L1302 666L1307 663zM1313 705L1310 712L1304 716L1307 710zM1300 711L1300 717L1297 723L1297 717zM1385 686L1378 687L1371 684L1379 683zM1317 596L1315 594L1315 590L1317 593zM1344 664L1344 671L1339 676L1340 669zM1326 757L1318 756L1311 753L1319 754zM1280 726L1277 732L1271 737L1274 730zM1306 609L1302 612L1298 613L1301 610zM1316 603L1311 598L1308 593L1313 597zM1343 614L1337 614L1332 612L1338 611zM1267 703L1264 705L1260 704L1263 702zM1332 630L1327 630L1322 626L1328 626zM1266 671L1269 666L1274 666L1271 670zM1388 633L1384 639L1378 643L1382 637zM1280 699L1276 699L1274 695L1278 695zM1360 613L1357 618L1352 618L1354 613z"/>
<path fill="#3d561d" d="M1320 646L1323 643L1328 644L1325 647zM1363 629L1359 624L1357 617L1361 622zM1368 696L1363 698L1359 694L1364 693zM1322 706L1320 710L1315 711L1317 707zM1346 699L1342 694L1342 686L1346 692zM1326 681L1326 676L1330 675L1330 679zM1261 623L1261 630L1256 635L1257 628zM1368 745L1366 748L1363 746L1365 743zM1327 640L1323 636L1323 630L1327 634zM1392 702L1391 707L1387 709L1387 704zM1385 755L1379 754L1373 752L1379 752zM1286 624L1288 618L1292 613L1290 619zM1305 680L1304 687L1300 692L1301 686zM1269 671L1271 667L1275 667L1273 671zM1288 755L1285 759L1281 760L1283 756zM1279 747L1276 746L1274 743L1277 744zM1309 668L1304 662L1303 654L1308 660zM1336 732L1333 729L1332 724L1335 727zM1317 741L1317 746L1313 747L1313 743zM1362 665L1357 669L1350 669L1355 665zM1383 661L1380 656L1382 650L1385 655zM1377 673L1383 670L1390 669L1384 672zM1322 621L1321 616L1325 613L1325 618zM1263 756L1262 760L1259 760L1259 757zM1334 616L1332 619L1328 620L1331 617zM1254 747L1252 753L1249 758L1251 752zM1351 683L1346 685L1342 684L1346 682z"/>
<path fill="#486220" d="M1386 684L1385 676L1387 668L1388 676zM1387 689L1390 685L1395 685L1392 689zM1377 641L1376 646L1371 646L1373 642zM1353 673L1351 671L1350 668L1353 670zM1263 640L1265 637L1268 638L1266 640zM1377 620L1375 628L1370 634L1371 626zM1369 678L1361 675L1355 670L1362 673zM1342 659L1338 660L1337 657L1340 656zM1290 690L1286 693L1281 694L1285 691zM1304 697L1304 701L1300 703L1300 699zM1286 701L1280 700L1277 696L1282 697zM1321 612L1323 604L1329 599L1327 607zM1383 752L1378 748L1377 742L1382 746zM1313 762L1311 760L1309 758L1312 759zM1345 686L1338 686L1332 681L1340 681zM1378 613L1373 612L1370 607L1375 608zM1332 596L1327 595L1324 592L1328 592zM1368 747L1364 745L1363 741L1366 743zM1394 740L1390 737L1388 733L1392 735zM1384 674L1382 682L1377 688L1379 680zM1286 585L1283 593L1279 599L1281 591zM1315 729L1310 728L1305 725L1311 726zM1278 591L1275 591L1273 589L1277 589zM1338 668L1334 664L1332 658L1337 662zM1383 676L1377 676L1373 672L1379 672zM1354 687L1353 692L1350 696L1351 691zM1258 744L1252 747L1246 745L1252 742zM1305 722L1304 726L1301 727L1302 724zM1288 629L1287 633L1283 635L1285 631zM1375 711L1373 718L1367 722L1370 715zM1258 650L1254 646L1254 641L1258 645zM1297 764L1293 759L1293 752L1297 758zM1292 688L1290 694L1285 698L1286 692zM1328 619L1324 617L1321 613L1325 615zM1327 747L1327 753L1323 757L1323 752zM1285 619L1281 617L1280 614L1284 615zM1259 687L1258 693L1253 698L1255 692zM1286 605L1285 611L1280 613L1281 608zM1373 725L1367 728L1360 728L1367 725zM1319 652L1312 653L1306 651L1313 650zM1272 682L1269 684L1265 684L1268 682z"/>
<path fill="#536f25" d="M1297 737L1289 735L1284 731L1291 732zM1300 684L1297 689L1293 693L1296 688zM1295 646L1288 650L1280 649L1287 645zM1376 751L1373 757L1368 760L1370 754zM1296 753L1290 751L1287 745L1293 748zM1266 581L1265 590L1261 597L1261 589zM1282 755L1275 753L1270 748L1277 750zM1283 735L1280 731L1280 726L1284 730zM1264 716L1261 711L1262 705L1265 710zM1324 752L1326 749L1330 749L1328 753zM1298 718L1295 716L1294 712L1298 714zM1345 610L1343 612L1340 613L1342 611zM1277 599L1270 597L1264 592L1272 594zM1281 663L1277 659L1276 653L1279 658zM1292 695L1289 699L1284 697L1288 694zM1319 621L1312 622L1305 620L1312 618zM1361 618L1358 620L1354 621L1357 618zM1297 624L1290 624L1283 621L1290 621zM1333 750L1329 752L1325 752L1328 750zM1363 697L1360 693L1360 689L1363 693zM1368 752L1364 747L1362 741L1366 746zM1331 633L1330 637L1325 640L1327 635zM1339 745L1335 742L1332 737L1337 740zM1365 745L1364 748L1361 751L1362 747z"/>
<path fill="#5f7d29" d="M1311 674L1308 677L1304 678L1307 675zM1377 711L1372 710L1368 706L1373 708zM1362 689L1364 685L1369 684L1367 688zM1331 621L1328 625L1325 623L1327 620zM1320 710L1314 707L1310 701L1316 705zM1347 641L1344 646L1339 649L1342 644zM1354 726L1346 726L1339 722L1347 722zM1280 737L1274 735L1270 730L1275 732zM1369 645L1370 638L1375 634L1374 640zM1278 740L1277 744L1274 746L1275 742zM1353 735L1348 737L1343 736L1348 734zM1271 679L1269 675L1272 672L1274 676zM1284 698L1278 703L1271 706L1277 701zM1278 608L1274 601L1272 593L1276 600zM1363 653L1360 656L1356 656L1359 653zM1262 677L1259 677L1257 675L1260 674zM1324 670L1322 674L1317 674L1320 670zM1345 605L1341 610L1335 611L1339 606zM1330 667L1331 662L1335 660L1334 664zM1385 662L1377 659L1373 653L1380 656zM1257 726L1251 722L1248 715L1254 719zM1280 709L1283 705L1287 704L1284 708zM1344 655L1344 658L1340 659L1340 656zM1383 661L1383 658L1385 655L1385 658zM1253 646L1250 644L1249 641L1252 643zM1306 731L1309 728L1313 727L1310 730zM1293 719L1287 719L1281 716L1288 715zM1249 689L1252 686L1257 686L1254 689zM1330 624L1328 630L1323 635L1325 628zM1326 654L1328 647L1334 641L1332 649zM1355 628L1349 628L1345 624L1351 624zM1262 663L1254 664L1247 659L1255 659zM1299 608L1298 613L1294 617L1295 612zM1384 686L1379 685L1375 681L1380 682zM1336 671L1335 676L1333 680L1333 675z"/>
<path fill="#6c8b2f" d="M1377 705L1372 707L1367 706L1372 704zM1254 712L1251 712L1249 709L1252 710zM1259 698L1257 692L1260 686L1261 693zM1307 651L1303 653L1299 652L1303 650zM1288 680L1284 680L1280 678L1284 678zM1358 727L1358 722L1363 720L1362 724zM1377 620L1373 622L1370 620L1373 618zM1366 671L1364 675L1360 679L1362 674zM1359 671L1356 671L1353 669L1357 669zM1340 629L1336 627L1335 623L1339 625zM1372 698L1377 695L1382 695L1378 698zM1348 696L1340 693L1334 688L1341 691zM1374 648L1370 651L1366 650L1369 647zM1267 672L1262 667L1259 659L1264 665zM1383 738L1381 745L1377 752L1379 744zM1385 642L1379 646L1371 646L1377 642zM1304 662L1301 668L1294 671L1297 665zM1281 680L1282 683L1279 685L1278 682zM1298 695L1295 697L1292 696L1295 694zM1381 638L1375 638L1369 635L1376 635zM1314 758L1309 751L1307 743L1312 750zM1381 589L1379 595L1373 598L1375 592zM1276 725L1277 719L1281 716L1280 722zM1318 633L1313 638L1306 641L1311 636zM1355 633L1351 632L1350 628L1353 630zM1391 740L1383 738L1376 732L1384 735zM1280 603L1275 602L1270 598L1276 599zM1272 631L1274 626L1278 623L1277 628zM1345 623L1351 618L1358 617L1352 621zM1370 749L1372 746L1376 744L1374 747zM1386 662L1380 662L1374 659L1380 659zM1349 662L1345 663L1341 663L1345 661zM1347 671L1343 677L1337 682L1341 676zM1292 705L1291 699L1293 693L1294 699zM1338 761L1335 756L1338 752L1340 757zM1270 670L1263 673L1256 674L1263 671zM1347 645L1343 651L1337 655L1341 649zM1327 661L1323 664L1318 662L1323 659zM1280 645L1279 651L1275 657L1276 650zM1339 699L1341 694L1346 691L1344 697z"/>
<path fill="#7a9b36" d="M1335 718L1336 715L1338 714L1338 717zM1276 603L1273 601L1272 598L1275 600zM1315 633L1322 629L1329 628L1323 632zM1348 616L1348 608L1354 601L1353 609zM1389 699L1386 697L1386 693L1389 695zM1281 755L1275 751L1271 744L1277 749zM1383 721L1376 720L1370 715L1377 717zM1245 721L1251 716L1258 714L1252 718zM1392 722L1388 718L1386 712L1390 716zM1347 718L1341 713L1337 708L1343 712zM1376 719L1371 719L1367 716L1372 716zM1343 746L1339 748L1336 744L1341 743zM1283 657L1278 654L1277 648L1282 651zM1368 723L1363 729L1356 731L1361 725zM1374 587L1367 590L1360 591L1367 588zM1294 749L1289 748L1286 744L1291 745zM1308 636L1307 630L1309 625L1310 631zM1309 691L1314 689L1319 688L1315 691zM1288 707L1286 704L1285 700L1288 703zM1365 614L1362 608L1364 602L1366 608zM1280 692L1274 687L1270 680L1276 685zM1327 661L1323 657L1323 652L1327 656zM1358 711L1352 716L1344 717L1350 712zM1345 736L1343 738L1340 737L1342 735zM1335 731L1330 725L1329 717L1334 723zM1295 734L1292 738L1287 740L1290 735zM1280 757L1277 759L1274 757L1277 755zM1334 649L1330 652L1325 652L1329 649z"/>
<path fill="#88a940" d="M1340 750L1333 747L1328 741L1335 744zM1357 707L1354 707L1352 705L1355 705zM1330 760L1326 762L1324 760L1327 758zM1369 657L1370 650L1374 645L1374 652zM1283 592L1281 598L1275 601L1278 595zM1255 720L1251 725L1246 724L1249 720zM1370 696L1368 700L1363 700L1366 696zM1374 640L1371 639L1369 637L1372 638zM1341 700L1338 702L1334 702L1337 699zM1315 753L1312 756L1307 756L1311 753zM1299 629L1294 627L1291 621L1297 624zM1285 675L1287 670L1293 667L1291 673zM1366 643L1361 639L1360 632L1365 637zM1375 675L1370 669L1369 661L1373 667zM1364 651L1362 657L1356 661L1358 654zM1374 597L1371 603L1366 608L1369 602zM1353 759L1351 756L1351 753L1353 756zM1364 653L1360 653L1358 650L1362 650zM1258 623L1253 625L1248 623L1253 621zM1371 711L1366 711L1361 707L1367 708zM1260 740L1255 739L1252 734L1258 735zM1277 755L1277 751L1280 748L1280 752zM1361 735L1363 728L1368 725L1366 731zM1262 658L1257 654L1253 648L1259 652zM1306 729L1308 723L1313 719L1311 725zM1263 628L1259 624L1259 618L1263 622zM1331 620L1326 616L1322 611L1327 615zM1292 666L1296 663L1302 663L1297 666zM1335 757L1330 754L1329 748L1334 751zM1270 594L1264 593L1259 589L1265 590zM1278 607L1272 605L1267 601L1273 603zM1252 619L1249 617L1248 614L1251 615zM1268 690L1264 695L1259 698L1262 692zM1316 714L1313 717L1309 716L1312 713zM1272 687L1268 687L1267 683L1271 683zM1282 724L1282 720L1285 718L1285 722z"/>
<path fill="#98b64d" d="M1296 667L1293 670L1289 670L1292 667zM1302 721L1298 718L1296 714L1300 717zM1391 689L1389 682L1392 674L1394 682zM1340 729L1336 730L1333 729L1336 727zM1330 685L1326 691L1320 693L1323 687zM1364 687L1365 691L1361 693L1360 689zM1373 626L1375 621L1380 616L1377 622zM1390 665L1385 662L1383 658L1387 661zM1347 704L1347 708L1343 709L1344 705zM1310 711L1304 713L1299 711L1305 708zM1392 706L1385 707L1379 706L1385 704zM1291 715L1284 714L1277 710L1285 711zM1265 695L1261 699L1256 702L1260 698zM1300 630L1296 627L1294 623L1298 626zM1264 617L1259 617L1255 613L1260 613zM1390 684L1384 687L1377 687L1383 683zM1301 704L1294 703L1288 700L1295 701zM1297 740L1293 742L1289 739L1294 737zM1258 723L1252 724L1248 720L1254 719zM1386 708L1389 704L1394 703L1391 707zM1389 755L1383 755L1377 752L1383 752zM1286 599L1280 599L1275 596L1281 596zM1372 728L1371 733L1369 736L1369 732zM1271 615L1265 609L1261 602L1268 607zM1325 736L1324 729L1324 722L1326 729z"/>
<path fill="#a7c35c" d="M1296 589L1294 595L1289 600L1291 593zM1273 709L1269 710L1264 707L1269 706zM1268 617L1265 621L1261 623L1264 619zM1382 701L1377 704L1371 702L1376 700zM1312 665L1309 664L1309 661L1312 662zM1383 665L1378 670L1370 671L1376 667zM1350 628L1342 628L1335 626L1343 626zM1270 659L1269 666L1264 672L1265 665zM1338 707L1333 709L1328 707L1333 705zM1307 650L1299 649L1293 644L1301 645zM1278 660L1278 663L1275 664L1275 661zM1288 622L1285 625L1280 627L1283 623zM1281 584L1277 591L1270 594L1273 587zM1294 678L1291 685L1284 689L1287 682zM1376 726L1376 731L1372 735L1372 729zM1336 626L1331 632L1324 636L1329 630zM1265 597L1259 598L1254 596L1260 595zM1301 607L1300 611L1297 613L1298 609zM1366 703L1373 699L1380 698L1374 702zM1388 613L1389 609L1393 606L1391 610zM1329 698L1323 697L1318 692L1324 694z"/>
<path fill="#b6cd72" d="M1390 643L1387 646L1383 646L1386 643zM1328 678L1325 675L1324 671L1327 673zM1310 590L1312 588L1315 587L1313 590zM1268 624L1271 618L1277 614L1274 620zM1395 694L1390 692L1388 688L1393 689zM1357 633L1353 627L1352 620L1356 626zM1365 639L1359 641L1353 641L1359 639zM1384 693L1379 689L1375 684L1381 688zM1395 627L1390 630L1385 628L1390 626zM1273 650L1267 645L1264 639L1270 643zM1316 597L1319 592L1325 590L1321 595zM1377 681L1374 686L1369 689L1372 684zM1373 605L1371 602L1371 597L1374 601zM1304 633L1300 636L1297 634L1300 631zM1349 628L1350 622L1356 619L1354 625zM1253 648L1253 643L1256 639L1256 644zM1373 673L1370 677L1365 679L1368 675zM1380 626L1376 629L1372 630L1375 627zM1271 607L1276 601L1283 598L1278 603zM1289 607L1285 609L1280 609L1284 607zM1393 667L1392 670L1389 672L1390 669zM1376 667L1372 663L1372 657L1376 661zM1283 595L1280 597L1276 596L1279 593zM1283 689L1279 692L1274 691L1278 689zM1346 700L1340 705L1333 708L1339 703z"/>
<path fill="#c4d787" d="M1266 642L1262 646L1257 646L1261 642zM1364 703L1359 702L1356 697L1361 698zM1389 659L1386 657L1385 653L1388 655zM1272 610L1265 609L1259 606L1266 607zM1286 622L1282 618L1282 612L1286 616zM1292 617L1290 625L1286 631L1288 623zM1368 666L1365 663L1366 659L1369 662zM1351 608L1347 609L1345 606L1348 606zM1367 687L1370 683L1374 680L1372 685zM1389 618L1387 621L1385 623L1386 620z"/>
<path fill="#d1dfa3" d="M1271 668L1273 661L1278 655L1276 662zM1280 631L1279 627L1281 623L1282 627zM1260 641L1254 644L1248 643L1254 640zM1263 604L1258 603L1255 598L1260 599zM1273 628L1268 628L1263 625L1268 625z"/>
<path fill="#dee7bf" d="M1252 641L1248 638L1248 632L1252 636zM1273 636L1273 641L1269 645L1270 640z"/>
<path fill="#536f25" d="M1325 687L1329 684L1330 679L1326 682z"/>
<path fill="#5f7d29" d="M1300 606L1301 599L1299 592L1298 599zM1312 596L1319 601L1327 603L1320 597zM1327 578L1332 582L1337 582L1333 578zM1313 642L1320 639L1324 634L1317 637zM1311 633L1305 630L1298 630L1304 633zM1310 623L1306 620L1299 620L1304 623zM1310 623L1316 622L1320 619L1314 620z"/>
<path fill="#6c8b2f" d="M1300 606L1308 613L1318 617L1309 610zM1335 704L1340 701L1343 695L1337 699zM1298 595L1302 589L1303 583L1299 588zM1298 595L1304 604L1312 609L1306 601zM1324 581L1329 585L1334 587L1330 582z"/>
<path fill="#7a9b36" d="M1304 603L1312 609L1321 612L1313 606zM1315 592L1322 597L1330 598L1323 593zM1322 584L1322 579L1319 575L1319 580zM1329 575L1328 571L1325 569L1325 573zM1329 575L1334 578L1338 578L1333 575zM1338 714L1330 711L1321 713L1329 715zM1328 691L1332 688L1333 683L1329 686zM1322 683L1317 682L1312 685L1317 686zM1327 578L1329 574L1326 570L1325 574zM1310 609L1316 609L1319 607L1314 606z"/>
<path fill="#88a940" d="M1308 599L1309 593L1306 587L1305 593zM1315 592L1316 586L1312 582L1312 587zM1319 588L1319 583L1316 579L1316 584zM1325 580L1331 583L1336 583L1331 579zM1333 700L1326 699L1318 701L1325 702zM1333 700L1338 696L1340 691L1335 694zM1320 584L1325 589L1331 591L1326 586zM1312 637L1306 635L1298 635L1304 638zM1310 619L1316 618L1320 615L1314 615zM1310 609L1308 606L1303 605L1305 609zM1311 604L1309 601L1304 601L1306 604z"/>
<path fill="#98b64d" d="M1312 596L1312 590L1309 584L1309 590zM1336 709L1343 705L1346 700L1340 703zM1335 704L1327 703L1319 705L1327 706zM1330 695L1324 694L1317 697L1323 698zM1330 695L1335 692L1337 687L1332 690zM1312 637L1319 635L1323 630L1316 632zM1311 628L1317 627L1321 622L1315 624z"/>
<path fill="#a7c35c" d="M1308 599L1315 605L1324 607L1316 602zM1325 580L1325 575L1322 572L1322 577zM1328 691L1322 690L1316 693L1322 694zM1322 683L1326 680L1326 675L1322 678zM1319 679L1315 678L1310 682L1315 682zM1307 591L1313 598L1320 602L1315 595zM1324 581L1325 576L1323 572L1322 577zM1311 633L1318 631L1322 626L1315 628zM1310 619L1306 615L1300 615L1304 618zM1310 614L1316 614L1319 611L1314 611zM1311 604L1316 605L1319 602L1314 602z"/>
<path fill="#b6cd72" d="M1319 588L1325 592L1332 593L1326 589zM1338 714L1345 710L1349 704L1342 708zM1336 709L1329 707L1320 709L1328 711zM1325 687L1320 686L1314 689L1320 690zM1303 593L1309 601L1317 606L1311 598zM1311 589L1314 584L1313 578L1310 583zM1311 589L1317 595L1324 599L1319 592zM1331 574L1332 570L1330 567L1329 571zM1331 574L1335 578L1340 578L1336 574zM1311 628L1306 625L1299 625L1304 628z"/>
<path fill="#c4d787" d="M1304 603L1305 596L1303 590L1301 596zM1322 584L1328 588L1334 588L1328 584zM1319 679L1322 676L1322 672L1319 675zM1303 593L1306 588L1306 581L1303 587zM1307 591L1310 586L1309 580L1306 585zM1316 586L1318 582L1316 576L1314 581zM1316 586L1321 592L1328 595L1322 589zM1313 642L1306 640L1298 640L1305 643zM1310 614L1307 611L1301 610L1305 613z"/>
<path fill="#d1dfa3" d="M1320 584L1321 579L1320 574L1318 579z"/>
</g>
<polygon points="1277.7968561064088,657.1027811366384 1294.7255139056833,625.6638452237002 1299.5622732769045,613.5719467956469 1311.6541717049577,606.316807738815 1318.9093107617896,613.5719467956469 1323.746070133011,628.0822249093108 1306.8174123337365,647.4292623941959 1294.7255139056833,661.9395405078598" fill="#ffffff" stroke="none"/>
<polygon points="1301.9806529625153,681.2865779927449 1333.4195888754534,647.4292623941959 1338.2563482466749,630.5006045949215 1350.348246674728,625.6638452237002 1362.4401451027811,628.0822249093108 1355.1850060459492,642.5925030229746 1345.5114873035068,657.1027811366384 1321.3276904474003,681.2865779927449" fill="#ffffff" stroke="none"/>
<polygon points="1297.1438935912938,729.6541717049577 1381.7871825876664,705.4703748488513 1387.8331318016928,712.7255139056832 1385.4147521160821,721.1898428053205 1299.5622732769045,738.1185006045949" fill="#ffffff" stroke="none"/>
<polygon points="1239.1027811366384,705.4703748488513 1248.776299879081,686.1233373639661 1277.7968561064088,695.7968561064088 1287.4703748488514,719.9806529625151 1289.888754534462,753.8379685610641 1299.5622732769045,756.2563482466747 1345.5114873035068,746.5828295042322 1350.348246674728,739.3276904474003 1343.093107617896,724.8174123337365 1362.4401451027811,712.7255139056832 1369.695284159613,719.9806529625151 1362.4401451027811,751.4195888754534 1347.9298669891173,809.4607013301088 1301.9806529625153,792.5320435308344 1301.9806529625153,850.5731559854897 1227.0108827085853,850.5731559854897 1229.4292623941958,807.0423216444982 1243.9395405078596,756.2563482466747 1236.6844014510277,724.8174123337365" fill="#ffffff" stroke="none"/>
<polygon points="1248.776299879081,642.5925030229746 1277.7968561064088,657.1027811366384 1299.5622732769045,666.7762998790811 1301.9806529625153,681.2865779927449 1287.4703748488514,688.5417170495768 1272.9600967351873,688.5417170495768 1263.286577992745,681.2865779927449 1248.776299879081,657.1027811366384" fill="#ffffff" stroke="none"/>
<g transform="translate(1094,512) scale(0.241838)">
<path d="M30,625 L100,645" fill="none" stroke="#1a1a1a" stroke-linecap="round" stroke-linejoin="round" vector-effect="non-scaling-stroke" stroke-width="1.9" />
<path d="M100,645 L510,485" fill="none" stroke="#1a1a1a" stroke-linecap="round" stroke-linejoin="round" vector-effect="non-scaling-stroke" stroke-width="1.9" />
<path d="M720,410 L1390,125" fill="none" stroke="#1a1a1a" stroke-linecap="round" stroke-linejoin="round" vector-effect="non-scaling-stroke" stroke-width="1.9" />
<path d="M460,390 C480,330 510,300 540,290" fill="none" stroke="#1a1a1a" stroke-linecap="round" stroke-linejoin="round" vector-effect="non-scaling-stroke" stroke-width="1.9" />
<path d="M490,440 C500,380 520,340 540,320" fill="none" stroke="#1a1a1a" stroke-linecap="round" stroke-linejoin="round" vector-effect="non-scaling-stroke" stroke-width="1.9" />
<path d="M560,280 C600,260 640,245 680,240" fill="none" stroke="#1a1a1a" stroke-linecap="round" stroke-linejoin="round" vector-effect="non-scaling-stroke" stroke-width="1.9" />
<path d="M590,300 C640,275 690,265 715,275 C700,285 680,295 660,300" fill="none" stroke="#1a1a1a" stroke-linecap="round" stroke-linejoin="round" vector-effect="non-scaling-stroke" stroke-width="1.9" />
<path d="M500,320 L490,440 L510,470" fill="none" stroke="#1a1a1a" stroke-linecap="round" stroke-linejoin="round" vector-effect="non-scaling-stroke" stroke-width="1.9" />
<path d="M680,330 C700,370 720,400 735,410" fill="none" stroke="#1a1a1a" stroke-linecap="round" stroke-linejoin="round" vector-effect="non-scaling-stroke" stroke-width="1.9" />
<path d="M610,430 C590,440 595,470 620,475" fill="none" stroke="#1a1a1a" stroke-linecap="round" stroke-linejoin="round" vector-effect="non-scaling-stroke" stroke-width="1.9" />
<path d="M520,530 C480,580 440,700 420,800 C400,950 390,1200 385,1400" fill="none" stroke="#1a1a1a" stroke-linecap="round" stroke-linejoin="round" vector-effect="non-scaling-stroke" stroke-width="1.9" />
<path d="M640,540 C700,560 780,600 850,640 C860,670 860,690 850,710 C820,720 780,730 740,730" fill="none" stroke="#1a1a1a" stroke-linecap="round" stroke-linejoin="round" vector-effect="non-scaling-stroke" stroke-width="1.9" />
<path d="M760,600 C800,530 830,470 850,420" fill="none" stroke="#1a1a1a" stroke-linecap="round" stroke-linejoin="round" vector-effect="non-scaling-stroke" stroke-width="1.9" />
<path d="M830,620 C870,560 900,520 940,480" fill="none" stroke="#1a1a1a" stroke-linecap="round" stroke-linejoin="round" vector-effect="non-scaling-stroke" stroke-width="1.9" />
<path d="M850,420 L830,390" fill="none" stroke="#1a1a1a" stroke-linecap="round" stroke-linejoin="round" vector-effect="non-scaling-stroke" stroke-width="1.9" />
<path d="M870,410 L860,370" fill="none" stroke="#1a1a1a" stroke-linecap="round" stroke-linejoin="round" vector-effect="non-scaling-stroke" stroke-width="1.9" />
<path d="M890,400 L900,360" fill="none" stroke="#1a1a1a" stroke-linecap="round" stroke-linejoin="round" vector-effect="non-scaling-stroke" stroke-width="1.9" />
<path d="M910,420 L940,390" fill="none" stroke="#1a1a1a" stroke-linecap="round" stroke-linejoin="round" vector-effect="non-scaling-stroke" stroke-width="1.9" />
<path d="M930,460 L960,450" fill="none" stroke="#1a1a1a" stroke-linecap="round" stroke-linejoin="round" vector-effect="non-scaling-stroke" stroke-width="1.9" />
<path d="M860,700 C920,640 980,580 1010,490" fill="none" stroke="#1a1a1a" stroke-linecap="round" stroke-linejoin="round" vector-effect="non-scaling-stroke" stroke-width="1.9" />
<path d="M940,700 C990,640 1040,590 1080,540" fill="none" stroke="#1a1a1a" stroke-linecap="round" stroke-linejoin="round" vector-effect="non-scaling-stroke" stroke-width="1.9" />
<path d="M1010,490 L990,470" fill="none" stroke="#1a1a1a" stroke-linecap="round" stroke-linejoin="round" vector-effect="non-scaling-stroke" stroke-width="1.9" />
<path d="M1030,480 L1030,440" fill="none" stroke="#1a1a1a" stroke-linecap="round" stroke-linejoin="round" vector-effect="non-scaling-stroke" stroke-width="1.9" />
<path d="M1055,475 L1080,450" fill="none" stroke="#1a1a1a" stroke-linecap="round" stroke-linejoin="round" vector-effect="non-scaling-stroke" stroke-width="1.9" />
<path d="M1080,500 L1120,490" fill="none" stroke="#1a1a1a" stroke-linecap="round" stroke-linejoin="round" vector-effect="non-scaling-stroke" stroke-width="1.9" />
<path d="M1090,530 L1110,540" fill="none" stroke="#1a1a1a" stroke-linecap="round" stroke-linejoin="round" vector-effect="non-scaling-stroke" stroke-width="1.9" />
<path d="M640,760 C650,720 670,700 690,700" fill="none" stroke="#1a1a1a" stroke-linecap="round" stroke-linejoin="round" vector-effect="non-scaling-stroke" stroke-width="1.9" />
<path d="M660,760 L700,715 L730,740" fill="none" stroke="#1a1a1a" stroke-linecap="round" stroke-linejoin="round" vector-effect="non-scaling-stroke" stroke-width="1.9" />
<path d="M700,770 L760,770" fill="none" stroke="#1a1a1a" stroke-linecap="round" stroke-linejoin="round" vector-effect="non-scaling-stroke" stroke-width="1.9" />
<path d="M600,800 C580,850 590,910 620,940 L610,900" fill="none" stroke="#1a1a1a" stroke-linecap="round" stroke-linejoin="round" vector-effect="non-scaling-stroke" stroke-width="1.9" />
<path d="M630,960 C650,990 680,1000 670,1010" fill="none" stroke="#1a1a1a" stroke-linecap="round" stroke-linejoin="round" vector-effect="non-scaling-stroke" stroke-width="1.9" />
<path d="M620,1015 C590,1080 570,1150 550,1220" fill="none" stroke="#1a1a1a" stroke-linecap="round" stroke-linejoin="round" vector-effect="non-scaling-stroke" stroke-width="1.9" />
<path d="M670,1005 C760,1000 820,1005 850,1010" fill="none" stroke="#1a1a1a" stroke-linecap="round" stroke-linejoin="round" vector-effect="non-scaling-stroke" stroke-width="1.9" />
<path d="M850,1160 C950,1180 1000,1210 1030,1220 C1070,1130 1110,1050 1110,990 C1090,980 1060,975 1040,975 C1020,1040 1000,1090 980,1100" fill="none" stroke="#1a1a1a" stroke-linecap="round" stroke-linejoin="round" vector-effect="non-scaling-stroke" stroke-width="1.9" />
<path d="M840,900 C950,880 1100,830 1190,800 C1215,810 1215,860 1200,865 C1100,890 950,925 850,935 Z" fill="none" stroke="#1a1a1a" stroke-linecap="round" stroke-linejoin="round" vector-effect="non-scaling-stroke" stroke-width="1.9" />
<path d="M1030,880 C1050,840 1090,810 1120,800" fill="none" stroke="#1a1a1a" stroke-linecap="round" stroke-linejoin="round" vector-effect="non-scaling-stroke" stroke-width="1.9" />
<path d="M1060,880 L1100,840" fill="none" stroke="#1a1a1a" stroke-linecap="round" stroke-linejoin="round" vector-effect="non-scaling-stroke" stroke-width="1.9" />
<path d="M1110,860 L1140,830" fill="none" stroke="#1a1a1a" stroke-linecap="round" stroke-linejoin="round" vector-effect="non-scaling-stroke" stroke-width="1.9" />
<path d="M860,1160 L855,1360" fill="none" stroke="#1a1a1a" stroke-linecap="round" stroke-linejoin="round" vector-effect="non-scaling-stroke" stroke-width="1.9" />
<path d="M100,1405 L1230,1405" fill="none" stroke="#1a1a1a" stroke-linecap="round" stroke-linejoin="round" vector-effect="non-scaling-stroke" stroke-width="0.8" />
</g>
<clipPath id="jc4"><polygon points="159.6,1098.6 441.6,1013.8 441.6,1327.8 159.6,1327.8"/></clipPath>
<g clip-path="url(#jc4)">
<g filter="url(#blur6)">
<path fill="#1f2f11" d="M147 1301h13v13h-13zM159 1301h13v13h-13zM171 1301h13v13h-13zM147 1313h13v13h-13zM159 1313h13v13h-13zM171 1313h13v13h-13zM147 1325h13v13h-13zM159 1325h13v13h-13zM171 1325h13v13h-13zM147 1337h13v13h-13zM159 1337h13v13h-13zM171 1337h13v13h-13z"/>
<path fill="#253814" d="M147 1277h13v13h-13zM159 1277h13v13h-13zM171 1277h13v13h-13zM147 1289h13v13h-13zM159 1289h13v13h-13zM171 1289h13v13h-13zM183 1301h13v13h-13zM183 1313h13v13h-13zM183 1325h13v13h-13zM183 1337h13v13h-13z"/>
<path fill="#2d4217" d="M147 1169h13v13h-13zM159 1169h13v13h-13zM171 1169h13v13h-13zM147 1181h13v13h-13zM159 1181h13v13h-13zM171 1181h13v13h-13zM147 1193h13v13h-13zM159 1193h13v13h-13zM171 1193h13v13h-13zM147 1205h13v13h-13zM159 1205h13v13h-13zM171 1205h13v13h-13zM147 1217h13v13h-13zM159 1217h13v13h-13zM171 1217h13v13h-13zM147 1229h13v13h-13zM159 1229h13v13h-13zM171 1229h13v13h-13zM147 1241h13v13h-13zM159 1241h13v13h-13zM171 1241h13v13h-13zM147 1253h13v13h-13zM159 1253h13v13h-13zM171 1253h13v13h-13zM147 1265h13v13h-13zM159 1265h13v13h-13zM171 1265h13v13h-13zM183 1277h13v13h-13zM183 1289h13v13h-13zM195 1301h13v13h-13zM195 1313h13v13h-13zM195 1325h13v13h-13zM195 1337h13v13h-13z"/>
<path fill="#344b19" d="M147 1157h13v13h-13zM159 1157h13v13h-13zM171 1157h13v13h-13zM183 1265h13v13h-13zM195 1289h13v13h-13z"/>
<path fill="#3d561d" d="M147 1085h13v13h-13zM159 1085h13v13h-13zM171 1085h13v13h-13zM147 1097h13v13h-13zM159 1097h13v13h-13zM171 1097h13v13h-13zM147 1109h13v13h-13zM159 1109h13v13h-13zM171 1109h13v13h-13zM147 1121h13v13h-13zM159 1121h13v13h-13zM171 1121h13v13h-13zM147 1133h13v13h-13zM159 1133h13v13h-13zM171 1133h13v13h-13zM147 1145h13v13h-13zM159 1145h13v13h-13zM171 1145h13v13h-13zM183 1253h13v13h-13zM195 1265h13v13h-13zM195 1277h13v13h-13zM207 1289h13v13h-13zM303 1289h13v13h-13zM315 1289h13v13h-13zM207 1301h13v13h-13zM303 1301h13v13h-13zM315 1301h13v13h-13zM327 1301h13v13h-13zM207 1313h13v13h-13zM303 1313h13v13h-13zM315 1313h13v13h-13zM327 1313h13v13h-13zM207 1325h13v13h-13zM303 1325h13v13h-13zM315 1325h13v13h-13zM327 1325h13v13h-13zM207 1337h13v13h-13zM303 1337h13v13h-13zM315 1337h13v13h-13zM327 1337h13v13h-13z"/>
<path fill="#486220" d="M147 1001h13v13h-13zM159 1001h13v13h-13zM171 1001h13v13h-13zM147 1013h13v13h-13zM159 1013h13v13h-13zM171 1013h13v13h-13zM147 1025h13v13h-13zM159 1025h13v13h-13zM171 1025h13v13h-13zM147 1037h13v13h-13zM159 1037h13v13h-13zM171 1037h13v13h-13zM147 1049h13v13h-13zM159 1049h13v13h-13zM171 1049h13v13h-13zM147 1061h13v13h-13zM159 1061h13v13h-13zM171 1061h13v13h-13zM147 1073h13v13h-13zM159 1073h13v13h-13zM171 1073h13v13h-13zM351 1145h13v13h-13zM315 1193h13v13h-13zM315 1205h13v13h-13zM315 1217h13v13h-13zM183 1229h13v13h-13zM315 1229h13v13h-13zM183 1241h13v13h-13zM315 1241h13v13h-13zM303 1253h13v13h-13zM315 1253h13v13h-13zM327 1253h13v13h-13zM207 1265h13v13h-13zM279 1265h13v13h-13zM291 1265h13v13h-13zM303 1265h13v13h-13zM315 1265h13v13h-13zM327 1265h13v13h-13zM339 1265h13v13h-13zM351 1265h13v13h-13zM207 1277h13v13h-13zM279 1277h13v13h-13zM291 1277h13v13h-13zM303 1277h13v13h-13zM315 1277h13v13h-13zM327 1277h13v13h-13zM339 1277h13v13h-13zM351 1277h13v13h-13zM219 1289h13v13h-13zM279 1289h13v13h-13zM291 1289h13v13h-13zM327 1289h13v13h-13zM339 1289h13v13h-13zM351 1289h13v13h-13zM219 1301h13v13h-13zM279 1301h13v13h-13zM291 1301h13v13h-13zM339 1301h13v13h-13zM351 1301h13v13h-13zM363 1301h13v13h-13zM375 1301h13v13h-13zM387 1301h13v13h-13zM399 1301h13v13h-13zM411 1301h13v13h-13zM423 1301h13v13h-13zM435 1301h13v13h-13zM447 1301h13v13h-13zM219 1313h13v13h-13zM279 1313h13v13h-13zM291 1313h13v13h-13zM339 1313h13v13h-13zM351 1313h13v13h-13zM363 1313h13v13h-13zM375 1313h13v13h-13zM387 1313h13v13h-13zM399 1313h13v13h-13zM411 1313h13v13h-13zM423 1313h13v13h-13zM435 1313h13v13h-13zM447 1313h13v13h-13zM219 1325h13v13h-13zM279 1325h13v13h-13zM291 1325h13v13h-13zM339 1325h13v13h-13zM351 1325h13v13h-13zM363 1325h13v13h-13zM375 1325h13v13h-13zM387 1325h13v13h-13zM399 1325h13v13h-13zM411 1325h13v13h-13zM423 1325h13v13h-13zM435 1325h13v13h-13zM447 1325h13v13h-13zM219 1337h13v13h-13zM279 1337h13v13h-13zM291 1337h13v13h-13zM339 1337h13v13h-13zM351 1337h13v13h-13zM363 1337h13v13h-13zM375 1337h13v13h-13zM387 1337h13v13h-13zM399 1337h13v13h-13zM411 1337h13v13h-13zM423 1337h13v13h-13zM435 1337h13v13h-13zM447 1337h13v13h-13z"/>
<path fill="#536f25" d="M351 1049h13v13h-13zM339 1061h13v13h-13zM351 1061h13v13h-13zM363 1061h13v13h-13zM339 1073h13v13h-13zM351 1073h13v13h-13zM363 1073h13v13h-13zM339 1085h13v13h-13zM351 1085h13v13h-13zM339 1097h13v13h-13zM351 1097h13v13h-13zM339 1109h13v13h-13zM351 1109h13v13h-13zM339 1121h13v13h-13zM351 1121h13v13h-13zM339 1133h13v13h-13zM351 1133h13v13h-13zM327 1145h13v13h-13zM339 1145h13v13h-13zM363 1145h13v13h-13zM315 1157h13v13h-13zM327 1157h13v13h-13zM339 1157h13v13h-13zM351 1157h13v13h-13zM363 1157h13v13h-13zM315 1169h13v13h-13zM327 1169h13v13h-13zM339 1169h13v13h-13zM351 1169h13v13h-13zM303 1181h13v13h-13zM315 1181h13v13h-13zM327 1181h13v13h-13zM303 1193h13v13h-13zM327 1193h13v13h-13zM183 1205h13v13h-13zM303 1205h13v13h-13zM327 1205h13v13h-13zM375 1205h13v13h-13zM387 1205h13v13h-13zM183 1217h13v13h-13zM303 1217h13v13h-13zM327 1217h13v13h-13zM363 1217h13v13h-13zM375 1217h13v13h-13zM387 1217h13v13h-13zM399 1217h13v13h-13zM291 1229h13v13h-13zM303 1229h13v13h-13zM327 1229h13v13h-13zM339 1229h13v13h-13zM363 1229h13v13h-13zM375 1229h13v13h-13zM387 1229h13v13h-13zM399 1229h13v13h-13zM279 1241h13v13h-13zM291 1241h13v13h-13zM303 1241h13v13h-13zM327 1241h13v13h-13zM339 1241h13v13h-13zM351 1241h13v13h-13zM363 1241h13v13h-13zM375 1241h13v13h-13zM387 1241h13v13h-13zM195 1253h13v13h-13zM267 1253h13v13h-13zM279 1253h13v13h-13zM291 1253h13v13h-13zM339 1253h13v13h-13zM351 1253h13v13h-13zM363 1253h13v13h-13zM375 1253h13v13h-13zM219 1265h13v13h-13zM231 1265h13v13h-13zM255 1265h13v13h-13zM267 1265h13v13h-13zM363 1265h13v13h-13zM219 1277h13v13h-13zM231 1277h13v13h-13zM255 1277h13v13h-13zM267 1277h13v13h-13zM363 1277h13v13h-13zM375 1277h13v13h-13zM387 1277h13v13h-13zM399 1277h13v13h-13zM411 1277h13v13h-13zM423 1277h13v13h-13zM435 1277h13v13h-13zM447 1277h13v13h-13zM231 1289h13v13h-13zM255 1289h13v13h-13zM267 1289h13v13h-13zM363 1289h13v13h-13zM375 1289h13v13h-13zM387 1289h13v13h-13zM399 1289h13v13h-13zM411 1289h13v13h-13zM423 1289h13v13h-13zM435 1289h13v13h-13zM447 1289h13v13h-13zM231 1301h13v13h-13zM255 1301h13v13h-13zM267 1301h13v13h-13zM231 1313h13v13h-13zM255 1313h13v13h-13zM267 1313h13v13h-13zM231 1325h13v13h-13zM255 1325h13v13h-13zM267 1325h13v13h-13zM231 1337h13v13h-13zM255 1337h13v13h-13zM267 1337h13v13h-13z"/>
<path fill="#5f7d29" d="M183 1001h13v13h-13zM339 1001h13v13h-13zM351 1001h13v13h-13zM183 1013h13v13h-13zM339 1013h13v13h-13zM351 1013h13v13h-13zM183 1025h13v13h-13zM339 1025h13v13h-13zM351 1025h13v13h-13zM183 1037h13v13h-13zM339 1037h13v13h-13zM351 1037h13v13h-13zM339 1049h13v13h-13zM363 1049h13v13h-13zM327 1061h13v13h-13zM375 1061h13v13h-13zM327 1073h13v13h-13zM375 1073h13v13h-13zM327 1085h13v13h-13zM363 1085h13v13h-13zM327 1097h13v13h-13zM363 1097h13v13h-13zM327 1109h13v13h-13zM327 1121h13v13h-13zM363 1121h13v13h-13zM315 1133h13v13h-13zM327 1133h13v13h-13zM363 1133h13v13h-13zM315 1145h13v13h-13zM375 1145h13v13h-13zM387 1145h13v13h-13zM303 1157h13v13h-13zM375 1157h13v13h-13zM387 1157h13v13h-13zM303 1169h13v13h-13zM363 1169h13v13h-13zM375 1169h13v13h-13zM387 1169h13v13h-13zM183 1181h13v13h-13zM291 1181h13v13h-13zM339 1181h13v13h-13zM351 1181h13v13h-13zM363 1181h13v13h-13zM375 1181h13v13h-13zM387 1181h13v13h-13zM399 1181h13v13h-13zM411 1181h13v13h-13zM423 1181h13v13h-13zM435 1181h13v13h-13zM447 1181h13v13h-13zM183 1193h13v13h-13zM291 1193h13v13h-13zM339 1193h13v13h-13zM351 1193h13v13h-13zM363 1193h13v13h-13zM375 1193h13v13h-13zM387 1193h13v13h-13zM399 1193h13v13h-13zM411 1193h13v13h-13zM423 1193h13v13h-13zM435 1193h13v13h-13zM447 1193h13v13h-13zM291 1205h13v13h-13zM339 1205h13v13h-13zM351 1205h13v13h-13zM363 1205h13v13h-13zM399 1205h13v13h-13zM411 1205h13v13h-13zM423 1205h13v13h-13zM435 1205h13v13h-13zM447 1205h13v13h-13zM279 1217h13v13h-13zM291 1217h13v13h-13zM339 1217h13v13h-13zM351 1217h13v13h-13zM411 1217h13v13h-13zM423 1217h13v13h-13zM435 1217h13v13h-13zM447 1217h13v13h-13zM279 1229h13v13h-13zM351 1229h13v13h-13zM411 1229h13v13h-13zM423 1229h13v13h-13zM435 1229h13v13h-13zM447 1229h13v13h-13zM195 1241h13v13h-13zM267 1241h13v13h-13zM399 1241h13v13h-13zM411 1241h13v13h-13zM423 1241h13v13h-13zM435 1241h13v13h-13zM447 1241h13v13h-13zM255 1253h13v13h-13zM387 1253h13v13h-13zM399 1253h13v13h-13zM411 1253h13v13h-13zM423 1253h13v13h-13zM435 1253h13v13h-13zM447 1253h13v13h-13zM243 1265h13v13h-13zM375 1265h13v13h-13zM387 1265h13v13h-13zM399 1265h13v13h-13zM411 1265h13v13h-13zM423 1265h13v13h-13zM435 1265h13v13h-13zM447 1265h13v13h-13zM243 1277h13v13h-13zM243 1289h13v13h-13zM243 1301h13v13h-13zM243 1313h13v13h-13zM243 1325h13v13h-13zM243 1337h13v13h-13z"/>
<path fill="#6c8b2f" d="M327 1001h13v13h-13zM327 1013h13v13h-13zM327 1025h13v13h-13zM327 1037h13v13h-13zM363 1037h13v13h-13zM183 1049h13v13h-13zM327 1049h13v13h-13zM375 1049h13v13h-13zM183 1061h13v13h-13zM387 1061h13v13h-13zM183 1073h13v13h-13zM387 1073h13v13h-13zM183 1085h13v13h-13zM375 1085h13v13h-13zM315 1109h13v13h-13zM363 1109h13v13h-13zM303 1121h13v13h-13zM315 1121h13v13h-13zM375 1121h13v13h-13zM291 1133h13v13h-13zM303 1133h13v13h-13zM375 1133h13v13h-13zM387 1133h13v13h-13zM183 1145h13v13h-13zM291 1145h13v13h-13zM303 1145h13v13h-13zM183 1157h13v13h-13zM291 1157h13v13h-13zM399 1157h13v13h-13zM183 1169h13v13h-13zM291 1169h13v13h-13zM399 1169h13v13h-13zM411 1169h13v13h-13zM423 1169h13v13h-13zM435 1169h13v13h-13zM447 1169h13v13h-13zM279 1193h13v13h-13zM279 1205h13v13h-13zM267 1229h13v13h-13zM255 1241h13v13h-13zM207 1253h13v13h-13zM219 1253h13v13h-13zM231 1253h13v13h-13zM243 1253h13v13h-13z"/>
<path fill="#7a9b36" d="M195 1001h13v13h-13zM267 1001h13v13h-13zM279 1001h13v13h-13zM291 1001h13v13h-13zM303 1001h13v13h-13zM315 1001h13v13h-13zM363 1001h13v13h-13zM411 1001h13v13h-13zM423 1001h13v13h-13zM435 1001h13v13h-13zM447 1001h13v13h-13zM195 1013h13v13h-13zM267 1013h13v13h-13zM279 1013h13v13h-13zM291 1013h13v13h-13zM303 1013h13v13h-13zM315 1013h13v13h-13zM363 1013h13v13h-13zM411 1013h13v13h-13zM423 1013h13v13h-13zM435 1013h13v13h-13zM447 1013h13v13h-13zM195 1025h13v13h-13zM267 1025h13v13h-13zM279 1025h13v13h-13zM291 1025h13v13h-13zM303 1025h13v13h-13zM315 1025h13v13h-13zM363 1025h13v13h-13zM411 1025h13v13h-13zM423 1025h13v13h-13zM435 1025h13v13h-13zM447 1025h13v13h-13zM195 1037h13v13h-13zM267 1037h13v13h-13zM279 1037h13v13h-13zM291 1037h13v13h-13zM303 1037h13v13h-13zM315 1037h13v13h-13zM375 1037h13v13h-13zM411 1037h13v13h-13zM423 1037h13v13h-13zM435 1037h13v13h-13zM447 1037h13v13h-13zM279 1049h13v13h-13zM291 1049h13v13h-13zM303 1049h13v13h-13zM315 1049h13v13h-13zM387 1049h13v13h-13zM399 1049h13v13h-13zM279 1061h13v13h-13zM291 1061h13v13h-13zM303 1061h13v13h-13zM315 1061h13v13h-13zM399 1061h13v13h-13zM279 1073h13v13h-13zM291 1073h13v13h-13zM303 1073h13v13h-13zM315 1073h13v13h-13zM399 1073h13v13h-13zM279 1085h13v13h-13zM291 1085h13v13h-13zM303 1085h13v13h-13zM315 1085h13v13h-13zM387 1085h13v13h-13zM399 1085h13v13h-13zM183 1097h13v13h-13zM279 1097h13v13h-13zM291 1097h13v13h-13zM303 1097h13v13h-13zM315 1097h13v13h-13zM375 1097h13v13h-13zM411 1097h13v13h-13zM423 1097h13v13h-13zM435 1097h13v13h-13zM447 1097h13v13h-13zM279 1109h13v13h-13zM291 1109h13v13h-13zM303 1109h13v13h-13zM375 1109h13v13h-13zM411 1109h13v13h-13zM423 1109h13v13h-13zM435 1109h13v13h-13zM447 1109h13v13h-13zM279 1121h13v13h-13zM291 1121h13v13h-13zM387 1121h13v13h-13zM399 1121h13v13h-13zM411 1121h13v13h-13zM423 1121h13v13h-13zM435 1121h13v13h-13zM447 1121h13v13h-13zM183 1133h13v13h-13zM279 1133h13v13h-13zM399 1133h13v13h-13zM279 1145h13v13h-13zM399 1145h13v13h-13zM279 1157h13v13h-13zM411 1157h13v13h-13zM279 1169h13v13h-13zM279 1181h13v13h-13zM267 1205h13v13h-13zM267 1217h13v13h-13zM195 1229h13v13h-13zM255 1229h13v13h-13zM243 1241h13v13h-13z"/>
<path fill="#88a940" d="M255 1001h13v13h-13zM375 1001h13v13h-13zM387 1001h13v13h-13zM399 1001h13v13h-13zM255 1013h13v13h-13zM375 1013h13v13h-13zM387 1013h13v13h-13zM399 1013h13v13h-13zM255 1025h13v13h-13zM375 1025h13v13h-13zM387 1025h13v13h-13zM399 1025h13v13h-13zM255 1037h13v13h-13zM387 1037h13v13h-13zM399 1037h13v13h-13zM195 1049h13v13h-13zM267 1049h13v13h-13zM411 1049h13v13h-13zM423 1049h13v13h-13zM435 1049h13v13h-13zM447 1049h13v13h-13zM195 1061h13v13h-13zM267 1061h13v13h-13zM411 1061h13v13h-13zM423 1061h13v13h-13zM435 1061h13v13h-13zM447 1061h13v13h-13zM267 1073h13v13h-13zM411 1073h13v13h-13zM423 1073h13v13h-13zM435 1073h13v13h-13zM447 1073h13v13h-13zM267 1085h13v13h-13zM411 1085h13v13h-13zM423 1085h13v13h-13zM435 1085h13v13h-13zM447 1085h13v13h-13zM267 1097h13v13h-13zM387 1097h13v13h-13zM399 1097h13v13h-13zM267 1109h13v13h-13zM387 1109h13v13h-13zM399 1109h13v13h-13zM183 1121h13v13h-13zM267 1121h13v13h-13zM267 1133h13v13h-13zM411 1133h13v13h-13zM423 1133h13v13h-13zM435 1133h13v13h-13zM447 1133h13v13h-13zM411 1145h13v13h-13zM423 1157h13v13h-13zM435 1157h13v13h-13zM447 1157h13v13h-13zM267 1193h13v13h-13zM195 1217h13v13h-13zM255 1217h13v13h-13zM207 1241h13v13h-13zM219 1241h13v13h-13zM231 1241h13v13h-13z"/>
<path fill="#98b64d" d="M207 1001h13v13h-13zM219 1001h13v13h-13zM231 1001h13v13h-13zM243 1001h13v13h-13zM207 1013h13v13h-13zM219 1013h13v13h-13zM231 1013h13v13h-13zM243 1013h13v13h-13zM207 1025h13v13h-13zM219 1025h13v13h-13zM231 1025h13v13h-13zM243 1025h13v13h-13zM207 1037h13v13h-13zM219 1037h13v13h-13zM231 1037h13v13h-13zM243 1037h13v13h-13zM243 1049h13v13h-13zM255 1049h13v13h-13zM255 1061h13v13h-13zM195 1073h13v13h-13zM255 1073h13v13h-13zM255 1085h13v13h-13zM255 1097h13v13h-13zM183 1109h13v13h-13zM267 1145h13v13h-13zM423 1145h13v13h-13zM435 1145h13v13h-13zM447 1145h13v13h-13zM267 1157h13v13h-13zM267 1169h13v13h-13zM267 1181h13v13h-13zM195 1205h13v13h-13zM255 1205h13v13h-13zM243 1229h13v13h-13z"/>
<path fill="#a7c35c" d="M207 1049h13v13h-13zM219 1049h13v13h-13zM231 1049h13v13h-13zM219 1061h13v13h-13zM231 1061h13v13h-13zM243 1061h13v13h-13zM243 1073h13v13h-13zM195 1085h13v13h-13zM255 1109h13v13h-13zM255 1121h13v13h-13zM255 1133h13v13h-13zM195 1193h13v13h-13zM255 1193h13v13h-13zM243 1217h13v13h-13zM219 1229h13v13h-13zM231 1229h13v13h-13z"/>
<path fill="#b6cd72" d="M207 1061h13v13h-13zM219 1073h13v13h-13zM231 1073h13v13h-13zM243 1085h13v13h-13zM243 1097h13v13h-13zM243 1109h13v13h-13zM195 1145h13v13h-13zM255 1145h13v13h-13zM195 1157h13v13h-13zM255 1157h13v13h-13zM195 1169h13v13h-13zM255 1169h13v13h-13zM195 1181h13v13h-13zM255 1181h13v13h-13zM243 1205h13v13h-13zM231 1217h13v13h-13zM207 1229h13v13h-13z"/>
<path fill="#c4d787" d="M207 1073h13v13h-13zM231 1085h13v13h-13zM195 1097h13v13h-13zM231 1097h13v13h-13zM243 1121h13v13h-13zM195 1133h13v13h-13zM243 1133h13v13h-13zM243 1193h13v13h-13zM231 1205h13v13h-13zM219 1217h13v13h-13z"/>
<path fill="#d1dfa3" d="M219 1085h13v13h-13zM231 1109h13v13h-13zM231 1121h13v13h-13zM243 1145h13v13h-13zM243 1157h13v13h-13zM243 1169h13v13h-13zM243 1181h13v13h-13zM231 1193h13v13h-13zM219 1205h13v13h-13zM207 1217h13v13h-13z"/>
<path fill="#dee7bf" d="M207 1085h13v13h-13zM219 1097h13v13h-13zM231 1133h13v13h-13zM231 1145h13v13h-13zM231 1157h13v13h-13zM231 1169h13v13h-13zM231 1181h13v13h-13zM219 1193h13v13h-13zM207 1205h13v13h-13z"/>
<path fill="#e8eed4" d="M219 1109h13v13h-13zM219 1121h13v13h-13zM219 1133h13v13h-13zM219 1145h13v13h-13zM219 1157h13v13h-13zM219 1169h13v13h-13zM219 1181h13v13h-13zM207 1193h13v13h-13z"/>
<path fill="#f1f4e5" d="M207 1097h13v13h-13zM195 1109h13v13h-13zM207 1109h13v13h-13zM195 1121h13v13h-13zM207 1121h13v13h-13zM207 1133h13v13h-13zM207 1145h13v13h-13zM207 1157h13v13h-13zM207 1169h13v13h-13zM207 1181h13v13h-13z"/>
<path fill="#486220" d="M162 1019L164 1017L163 1015L161 1017z"/>
<path fill="#536f25" d="M169 1026L165 1026L161 1029L165 1029zM342 1107L340 1105L336 1105L338 1108zM342 1107L345 1107L346 1104L343 1104zM332 1174L335 1170L334 1165L331 1169zM332 1174L336 1180L342 1183L338 1177z"/>
<path fill="#5f7d29" d="M175 1034L179 1031L179 1027L175 1030zM169 1026L172 1023L171 1020L168 1023zM167 1024L163 1023L160 1027L164 1027zM167 1024L169 1021L168 1018L166 1021zM162 1019L159 1019L156 1022L160 1022zM346 1170L348 1175L352 1178L350 1172zM350 1169L353 1167L353 1164L350 1166zM354 1168L357 1167L357 1164L354 1165z"/>
<path fill="#6c8b2f" d="M173 1031L169 1030L164 1033L168 1034zM173 1031L176 1028L176 1025L173 1027zM438 1023L444 1025L449 1024L443 1021zM341 1125L346 1126L350 1123L345 1122zM341 1122L339 1119L334 1118L337 1121zM342 1113L346 1113L348 1110L344 1110zM341 1104L339 1102L336 1103L338 1105zM341 1104L344 1104L345 1101L342 1101zM328 1175L331 1171L331 1166L328 1170zM350 1169L351 1174L355 1177L354 1172z"/>
<path fill="#7a9b36" d="M178 1039L173 1038L167 1040L172 1042zM178 1039L182 1037L184 1032L179 1035zM165 1021L161 1021L158 1024L162 1025zM438 1023L437 1018L433 1016L434 1020zM439 1020L445 1022L449 1020L444 1018zM441 1017L446 1018L450 1017L445 1015zM444 1004L443 1001L440 1001L441 1004zM342 1110L346 1110L347 1107L343 1107zM311 1099L313 1105L317 1107L315 1102zM342 1170L346 1168L346 1164L342 1167z"/>
<path fill="#88a940" d="M264 1028L260 1023L254 1020L257 1025zM268 1012L267 1007L262 1005L264 1009zM270 1008L275 1009L280 1008L275 1006zM271 1004L270 1000L266 998L267 1002zM273 1000L272 996L268 995L269 998zM165 1021L167 1019L166 1016L163 1019zM436 1026L435 1021L431 1018L432 1023zM439 1020L438 1016L434 1013L435 1018zM443 1010L442 1007L438 1006L439 1009zM443 1010L447 1012L451 1010L446 1009zM340 1128L346 1129L350 1126L345 1125zM342 1110L340 1107L336 1108L338 1111zM294 1105L298 1111L304 1114L300 1108zM311 1099L314 1097L315 1094L311 1096zM315 1099L318 1097L318 1094L315 1096zM318 1098L319 1103L322 1106L322 1101zM328 1175L333 1182L339 1185L335 1179zM335 1173L339 1179L344 1182L341 1176zM339 1171L342 1168L342 1164L339 1167zM354 1168L355 1173L358 1176L357 1171z"/>
<path fill="#98b64d" d="M256 1048L263 1051L270 1050L263 1047zM270 1008L268 1004L264 1002L265 1006zM273 1000L278 1002L282 1000L277 998zM436 1026L442 1028L448 1027L442 1025zM441 1017L439 1013L435 1011L436 1015zM444 1007L443 1004L439 1003L440 1007zM444 1007L448 1009L451 1007L447 1005zM297 1103L301 1109L306 1112L303 1106zM304 1101L307 1098L307 1094L304 1097zM304 1101L307 1107L311 1110L309 1104zM325 1177L330 1183L337 1187L332 1180z"/>
<path fill="#a7c35c" d="M252 1057L249 1051L243 1048L246 1053zM254 1052L262 1054L269 1053L261 1051zM266 1020L273 1021L278 1019L272 1018zM267 1016L265 1011L260 1009L262 1013zM275 996L274 993L271 991L271 994zM177 1036L171 1035L166 1038L171 1039zM177 1036L181 1034L181 1030L177 1032zM175 1034L170 1033L165 1036L170 1036zM171 1028L167 1028L163 1031L167 1032zM445 1001L449 1002L451 1000L447 999zM200 1093L198 1088L192 1085L195 1090zM340 1128L338 1124L333 1123L335 1126zM341 1125L339 1121L334 1120L336 1124zM341 1122L346 1122L350 1120L345 1119zM342 1119L346 1119L349 1117L345 1116zM342 1116L340 1113L335 1113L338 1116zM342 1116L346 1116L349 1114L344 1113zM342 1113L340 1110L336 1111L338 1113zM294 1105L297 1100L296 1096L293 1100zM342 1170L345 1176L350 1179L347 1173zM346 1170L350 1167L350 1164L346 1166z"/>
<path fill="#b6cd72" d="M268 1012L274 1013L280 1011L273 1010zM171 1028L174 1026L174 1022L171 1025zM442 1014L446 1015L450 1013L445 1012zM195 1106L192 1100L186 1096L189 1102zM195 1106L203 1108L211 1107L202 1105zM202 1089L208 1091L214 1089L208 1087zM204 1084L210 1086L215 1085L209 1083zM342 1119L339 1116L335 1116L337 1119zM325 1177L328 1172L327 1167L324 1172zM335 1173L338 1169L338 1165L335 1168zM339 1171L342 1177L347 1180L344 1175z"/>
<path fill="#c4d787" d="M252 1057L261 1058L268 1056L260 1055zM263 1037L263 1032L259 1028L259 1033zM265 1024L262 1019L256 1016L259 1021zM196 1102L205 1104L212 1102L204 1100zM198 1098L206 1100L213 1098L205 1096zM209 1071L208 1068L204 1066L205 1070zM184 1201L180 1201L176 1205L180 1205zM291 1106L293 1102L292 1097L290 1101zM291 1106L295 1112L302 1115L297 1109zM297 1103L300 1099L300 1095L297 1099zM307 1100L310 1105L314 1108L312 1103z"/>
<path fill="#d1dfa3" d="M256 1048L254 1043L249 1039L251 1045zM269 1029L270 1026L267 1022L266 1026zM272 1026L276 1030L281 1030L277 1026zM264 1028L271 1029L278 1026L270 1025zM267 1016L274 1017L279 1015L273 1014zM271 1004L277 1006L281 1004L276 1002zM235 1200L240 1205L247 1206L241 1201zM247 1189L248 1185L245 1182L244 1186zM250 1186L251 1183L248 1180L247 1183zM250 1186L253 1189L257 1189L254 1186zM442 1014L441 1010L436 1009L438 1012zM444 1004L448 1005L451 1003L447 1002zM196 1102L194 1096L188 1093L191 1098zM209 1071L214 1073L217 1071L213 1070zM202 1217L195 1219L189 1224L196 1222zM202 1217L204 1211L203 1206L201 1211zM198 1214L192 1215L186 1220L193 1219zM198 1214L201 1209L199 1204L197 1209zM300 1102L304 1099L303 1094L300 1098zM315 1099L316 1104L320 1106L318 1101zM318 1098L322 1097L322 1094L319 1095z"/>
<path fill="#dee7bf" d="M258 1044L257 1039L252 1035L253 1041zM260 1040L260 1035L256 1032L256 1037zM263 1037L269 1040L274 1040L269 1036zM266 1033L266 1029L263 1025L263 1030zM266 1033L271 1037L276 1037L271 1033zM266 1020L263 1015L258 1013L260 1017zM275 996L279 998L282 996L278 994zM445 1001L444 998L441 998L442 1001zM202 1089L200 1084L195 1081L197 1086zM204 1084L202 1080L197 1077L199 1082zM205 1080L204 1076L199 1074L201 1078zM206 1219L208 1214L206 1208L204 1214zM300 1102L304 1108L309 1111L306 1105zM307 1100L311 1098L311 1094L307 1096z"/>
<path fill="#e8eed4" d="M254 1052L251 1047L246 1043L248 1049zM258 1044L265 1047L271 1046L264 1044zM265 1024L272 1025L278 1022L271 1021zM226 1208L227 1203L224 1197L223 1203zM214 1225L215 1218L213 1212L212 1219zM191 1207L194 1204L193 1199L190 1203z"/>
<path fill="#f1f4e5" d="M260 1040L267 1044L273 1043L266 1040zM269 1029L273 1033L278 1033L274 1030zM272 1026L274 1023L271 1020L270 1023zM226 1208L232 1214L240 1216L233 1210zM229 1205L230 1200L227 1195L226 1201zM229 1205L235 1211L242 1212L236 1207zM232 1203L233 1198L230 1193L229 1198zM232 1203L238 1208L244 1209L239 1204zM235 1200L236 1195L233 1191L232 1196zM238 1197L239 1193L236 1189L235 1193zM238 1197L243 1202L249 1202L244 1198zM241 1194L242 1190L239 1187L238 1191zM241 1194L246 1199L251 1199L246 1195zM244 1192L245 1188L242 1185L241 1188zM244 1192L248 1196L253 1196L249 1192zM247 1189L251 1192L255 1193L251 1189zM198 1098L196 1092L190 1089L193 1094zM200 1093L207 1095L214 1094L206 1092zM205 1080L211 1082L216 1080L210 1078zM207 1076L206 1072L202 1070L203 1074zM207 1076L212 1078L217 1076L211 1074zM214 1225L205 1228L198 1235L206 1232zM210 1222L202 1225L195 1232L203 1229zM210 1222L212 1216L210 1210L208 1216zM206 1219L198 1222L192 1228L199 1225zM195 1211L189 1212L183 1216L189 1215zM195 1211L197 1206L196 1202L194 1206zM191 1207L186 1208L181 1213L186 1212zM188 1204L183 1205L178 1209L183 1208zM188 1204L190 1201L189 1197L187 1200zM184 1201L187 1198L186 1194L183 1197z"/>
</g>
<g filter="url(#blur3)">
<path d="M180,1348 L183,1168 L192,1168 L194,1348 Z" fill="#3a3020" opacity="0.9"/>
<path d="M349,1221 L351,1071 L358,1071 L361,1221 Z" fill="#5a4a30" opacity="0.9"/>
</g>
<path fill="#10190b" d="M187 1283L180 1288L172 1290L178 1285zM179 1307L176 1304L176 1301L178 1303zM182 1300L178 1297L178 1293L181 1296zM164 1320L161 1323L157 1325L160 1321zM172 1294L168 1289L166 1282L170 1288zM159 1166L156 1170L152 1168L155 1165zM166 1248L162 1256L154 1261L158 1253zM177 1251L168 1251L160 1247L169 1248zM177 1260L174 1267L167 1269L170 1263zM182 1248L177 1254L170 1257L175 1252zM166 1339L169 1331L176 1325L173 1333zM188 1311L181 1308L177 1303L183 1306zM200 1294L203 1291L208 1292L204 1295zM176 1289L171 1292L164 1293L170 1290z"/>
<path fill="#141f0d" d="M192 1290L192 1299L186 1307L187 1297zM161 1239L160 1243L156 1243L156 1239zM184 1142L178 1144L172 1140L178 1138zM180 1250L185 1245L192 1242L187 1248zM200 1309L196 1307L194 1304L198 1305zM307 1303L300 1299L295 1291L302 1296zM180 1167L174 1166L171 1161L177 1162zM160 1285L161 1276L167 1270L166 1278zM329 1297L324 1297L320 1295L325 1295zM192 1307L185 1312L177 1314L183 1309zM196 1330L188 1330L181 1327L189 1327zM183 1279L175 1282L167 1281L175 1278zM168 1207L171 1204L176 1204L173 1207zM182 1112L182 1117L177 1119L177 1114z"/>
<path fill="#19260f" d="M170 1105L166 1107L162 1103L167 1101zM327 1256L318 1255L311 1252L319 1253zM188 1256L183 1256L179 1253L184 1252zM164 1263L157 1260L153 1254L159 1257zM359 1129L352 1123L350 1115L356 1121zM342 1268L337 1273L329 1275L335 1270zM410 1330L410 1325L414 1322L414 1327zM162 1310L158 1314L153 1317L157 1313zM323 1265L317 1271L311 1276L316 1269zM317 1240L311 1245L304 1247L310 1242zM163 1270L155 1269L147 1265L156 1266zM163 1282L159 1281L160 1277L164 1278zM163 1329L155 1330L148 1326L156 1325zM302 1265L299 1268L295 1268L298 1265zM181 1296L179 1302L173 1304L175 1298zM174 1160L167 1155L161 1149L168 1154zM177 1119L170 1118L164 1114L171 1115z"/>
<path fill="#1f2f11" d="M328 1178L336 1172L345 1172L338 1177zM185 1120L181 1121L177 1119L181 1118zM349 1334L343 1331L342 1325L347 1328zM316 1220L313 1216L314 1212L317 1215zM209 1299L201 1301L193 1299L201 1298zM167 1204L172 1198L181 1196L175 1202zM420 1292L424 1284L431 1280L428 1287zM396 1217L395 1213L399 1211L400 1215zM373 1076L367 1071L364 1063L371 1068zM448 1304L448 1310L444 1313L444 1307zM247 1331L239 1327L234 1321L241 1325zM410 1302L412 1295L416 1289L414 1296zM368 1310L361 1306L355 1300L362 1304zM215 1324L209 1325L203 1323L209 1322zM286 1321L285 1324L282 1325L283 1322zM320 1276L313 1270L310 1262L317 1268zM184 1119L176 1117L169 1112L178 1114zM390 1306L383 1305L377 1300L384 1302zM254 1324L247 1326L239 1323L247 1321zM356 1116L349 1117L341 1115L349 1114zM379 1240L383 1237L388 1238L384 1241zM302 1337L301 1329L303 1321L304 1329zM369 1256L366 1252L366 1247L369 1251zM342 1300L342 1293L346 1287L346 1294zM228 1328L224 1325L223 1320L227 1322zM415 1191L408 1196L399 1197L406 1192zM284 1318L278 1312L275 1305L280 1311zM175 1175L170 1175L169 1171L173 1171zM359 1102L356 1098L355 1092L358 1097zM175 1137L169 1134L166 1127L172 1130zM339 1293L332 1289L328 1283L335 1287zM432 1297L425 1298L418 1296L425 1295zM211 1270L204 1268L200 1262L207 1264zM343 1117L342 1121L338 1123L339 1118zM164 1209L166 1206L171 1205L168 1209zM301 1288L296 1286L294 1280L299 1283zM447 1313L442 1315L437 1312L442 1309zM371 1173L368 1169L370 1164L373 1168zM173 1035L170 1039L164 1039L167 1034zM366 1271L360 1273L355 1272L360 1270zM315 1227L315 1230L312 1232L312 1229zM307 1274L301 1268L300 1259L306 1265zM169 1220L165 1216L165 1210L169 1214zM305 1282L300 1283L296 1282L300 1281zM192 1283L186 1276L186 1267L191 1274zM432 1331L430 1327L431 1323L433 1327zM353 1298L350 1296L350 1293L353 1295zM364 1260L358 1257L353 1252L359 1255zM249 1313L243 1313L240 1308L245 1309zM327 1284L321 1279L317 1271L323 1277zM345 1279L336 1277L330 1271L338 1273zM192 1247L183 1245L175 1241L184 1243zM194 1249L189 1242L188 1233L193 1240z"/>
<path fill="#253814" d="M175 1233L170 1234L168 1231L172 1229zM231 1326L234 1321L240 1319L237 1324zM434 1248L428 1252L421 1253L427 1249zM389 1259L391 1256L394 1256L392 1258zM291 1259L288 1257L285 1253L289 1255zM410 1302L407 1297L405 1292L409 1296zM315 1240L306 1239L300 1233L308 1234zM387 1286L391 1281L398 1281L394 1286zM328 1220L321 1221L314 1219L321 1218zM417 1290L412 1289L408 1286L413 1287zM168 1057L168 1062L165 1066L165 1061zM401 1209L403 1205L407 1202L405 1206zM373 1305L372 1309L368 1309L369 1305zM424 1253L418 1256L411 1255L418 1252zM375 1199L372 1192L374 1185L377 1192zM428 1188L424 1191L418 1190L423 1187zM185 1215L176 1212L169 1207L177 1209zM398 1183L391 1184L383 1183L391 1182zM399 1288L402 1283L406 1280L404 1285zM225 1273L219 1280L211 1285L217 1278zM432 1321L428 1325L423 1325L427 1321zM430 1189L427 1192L422 1191L425 1188zM375 1152L379 1149L385 1149L380 1152zM360 1219L352 1222L344 1221L352 1218zM441 1325L436 1329L429 1329L434 1324zM272 1267L268 1270L263 1269L267 1266zM183 1156L182 1159L180 1161L180 1158zM402 1184L395 1179L391 1171L398 1176zM313 1280L312 1289L307 1296L309 1288zM218 1314L214 1321L206 1323L211 1317zM297 1269L301 1263L308 1259L304 1265zM199 1264L190 1263L184 1257L192 1258zM184 1166L180 1169L175 1169L179 1166zM386 1331L383 1334L379 1332L382 1329zM289 1297L284 1293L283 1287L288 1291zM288 1275L290 1272L294 1271L292 1274zM376 1175L374 1167L375 1160L377 1167zM332 1264L327 1262L325 1256L330 1258zM365 1155L366 1159L362 1161L361 1157zM158 1237L156 1240L153 1241L154 1238zM449 1220L445 1220L441 1218L445 1218zM326 1285L318 1285L310 1283L318 1283zM201 1308L197 1309L193 1307L198 1306zM256 1334L253 1329L253 1324L255 1329zM397 1293L396 1299L391 1303L392 1297zM413 1226L411 1221L414 1217L415 1222zM307 1259L308 1264L304 1268L303 1263zM400 1231L398 1234L394 1235L396 1232zM398 1208L396 1203L399 1200L401 1204zM169 1276L168 1280L165 1283L165 1279zM299 1290L294 1288L291 1284L296 1285zM317 1221L310 1226L302 1229L309 1224zM184 1041L184 1049L178 1056L179 1047zM365 1210L356 1213L348 1210L356 1208zM341 1188L345 1185L350 1185L346 1188zM333 1185L336 1180L342 1179L338 1184zM282 1217L280 1222L276 1226L278 1221zM180 1253L176 1251L175 1246L179 1248zM160 1305L154 1300L152 1293L158 1298zM182 1033L180 1027L181 1022L183 1027zM348 1228L345 1233L339 1234L342 1229zM184 1100L183 1105L180 1109L181 1104zM231 1320L229 1325L224 1326L226 1321z"/>
<path fill="#2d4217" d="M291 1068L283 1069L275 1069L283 1067zM433 1283L429 1283L427 1279L431 1279zM446 1284L442 1279L441 1273L445 1278zM253 1321L252 1329L247 1335L248 1327zM292 1194L287 1188L285 1181L289 1187zM265 1302L266 1308L262 1312L261 1306zM332 1213L328 1211L325 1206L330 1209zM328 1223L328 1219L331 1217L331 1221zM202 1022L195 1020L190 1015L197 1016zM374 1145L370 1151L364 1154L368 1149zM277 1260L269 1257L261 1252L270 1254zM225 1326L219 1323L216 1316L222 1319zM390 1285L384 1282L379 1276L386 1279zM341 1080L342 1077L344 1075L344 1078zM367 1006L366 1014L361 1019L362 1011zM290 1231L282 1230L275 1225L283 1227zM159 1097L164 1090L172 1086L168 1094zM252 1309L247 1302L243 1294L248 1301zM321 1081L323 1073L329 1068L326 1075zM295 1295L291 1292L292 1287L296 1290zM177 1193L168 1194L160 1191L169 1189zM185 1306L182 1302L182 1297L185 1301zM334 1075L336 1066L343 1060L340 1069zM427 1256L421 1253L416 1247L423 1250zM443 1259L442 1251L445 1245L447 1252zM305 1183L299 1184L294 1182L300 1181zM369 1220L372 1213L379 1210L376 1217zM359 1129L362 1121L369 1115L366 1123zM209 1322L204 1316L203 1308L207 1314zM350 1277L350 1281L347 1282L347 1279zM160 1222L157 1222L155 1218L159 1219zM163 1086L155 1086L149 1081L157 1081zM337 1262L333 1265L328 1265L332 1262zM430 1261L424 1255L423 1247L428 1253zM305 1240L299 1244L292 1245L298 1241zM277 1228L275 1236L269 1242L271 1233zM343 1218L337 1222L330 1223L336 1219zM301 1209L295 1211L291 1208L296 1206zM184 1268L180 1270L175 1268L180 1267zM449 1309L445 1316L438 1320L442 1313zM404 1223L403 1227L398 1228L400 1224zM388 1315L383 1319L377 1320L381 1316zM394 1168L390 1175L383 1178L387 1171zM395 1076L393 1084L387 1090L389 1082zM378 1054L375 1058L370 1059L373 1055zM440 1292L439 1299L433 1303L435 1296zM350 1192L351 1198L347 1203L346 1197zM381 1193L376 1196L370 1195L375 1193zM412 1308L411 1314L407 1318L408 1312zM357 1131L355 1135L350 1134L353 1130zM368 1125L374 1118L382 1114L375 1120zM387 1198L384 1195L382 1191L386 1194zM351 1006L352 1010L349 1012L348 1009zM372 1237L368 1238L367 1234L371 1233zM319 1231L321 1226L326 1223L323 1228zM175 1257L182 1251L189 1247L183 1253zM449 1204L445 1204L441 1202L446 1202zM171 1291L168 1296L164 1299L166 1294zM348 1135L347 1142L343 1149L344 1141zM326 1077L327 1069L332 1064L331 1071zM337 1228L333 1234L327 1235L330 1229zM202 1319L201 1326L197 1333L198 1325zM311 1128L311 1135L308 1140L308 1134zM372 1152L367 1149L366 1143L371 1146zM430 1199L426 1206L420 1213L424 1205zM359 1278L355 1271L353 1262L357 1270zM281 1304L275 1301L272 1296L277 1299zM288 1154L291 1151L294 1150L292 1153zM379 1295L372 1293L367 1288L374 1290zM255 1294L253 1298L249 1299L250 1295zM397 1306L393 1306L390 1304L394 1304z"/>
<path fill="#344b19" d="M173 1072L171 1076L165 1077L168 1072zM373 1094L369 1093L369 1089L373 1090zM155 1138L154 1132L155 1126L156 1132zM421 1239L413 1238L406 1234L414 1235zM249 1272L247 1276L242 1277L244 1272zM371 1304L370 1299L374 1295L375 1301zM302 1135L305 1131L310 1131L307 1135zM289 1178L283 1175L278 1170L284 1173zM270 1299L264 1297L261 1292L267 1294zM379 1150L372 1147L368 1140L375 1143zM435 1180L428 1179L424 1174L430 1175zM189 1049L186 1056L179 1061L183 1054zM180 1327L172 1326L165 1322L173 1323zM402 1176L399 1181L393 1183L396 1177zM336 1171L331 1171L329 1167L333 1168zM178 1130L173 1135L167 1139L172 1134zM434 1055L428 1053L425 1048L431 1050zM308 1194L300 1190L294 1183L302 1187zM370 1278L373 1274L378 1273L375 1277zM172 1113L171 1118L166 1120L167 1115zM402 1056L398 1053L399 1048L402 1051zM188 1073L181 1078L174 1083L180 1077zM178 1013L174 1015L170 1014L174 1012zM367 1035L363 1040L358 1043L362 1038zM368 1213L363 1220L355 1224L360 1217zM313 1241L312 1245L309 1246L310 1243zM296 1089L296 1093L293 1096L293 1092zM389 1269L387 1265L390 1262L392 1266zM178 1131L176 1136L172 1137L174 1133zM241 1255L240 1258L236 1260L238 1257zM165 1252L159 1259L150 1260L156 1254zM217 1309L219 1302L225 1298L223 1305zM367 1248L365 1253L361 1255L362 1250zM163 1236L162 1239L158 1241L160 1237zM353 1331L349 1323L348 1314L353 1322zM259 1242L259 1248L255 1253L255 1247zM412 1156L403 1155L397 1149L405 1150zM316 1144L315 1140L316 1136L318 1140zM376 1079L368 1078L362 1073L370 1074zM329 1196L325 1196L323 1194L326 1193zM388 1195L382 1196L377 1193L383 1191zM398 1165L399 1160L403 1157L403 1162zM411 1137L405 1131L401 1123L407 1129zM176 1055L172 1062L164 1065L169 1058zM196 1080L188 1079L182 1074L190 1075zM437 1316L431 1318L424 1319L430 1316zM392 1145L386 1142L381 1137L387 1140zM178 1052L175 1049L175 1045L178 1048zM415 1072L410 1066L409 1058L414 1065zM180 1042L176 1041L174 1038L178 1039zM168 1175L165 1178L161 1176L164 1174zM412 1007L406 1013L398 1017L404 1011zM160 1291L160 1285L164 1282L163 1287zM168 1224L162 1217L160 1209L166 1215zM166 1229L165 1236L161 1242L162 1235zM413 1122L414 1114L419 1108L418 1115zM447 1032L444 1028L443 1023L446 1027zM183 1161L179 1167L173 1172L177 1166zM405 1023L409 1018L414 1015L410 1020zM396 1289L388 1292L379 1291L387 1288zM352 1231L348 1227L346 1222L350 1226zM378 1290L377 1295L372 1297L373 1292zM191 1267L183 1266L176 1261L184 1263zM363 1233L363 1229L366 1227L366 1231zM363 1256L356 1262L347 1264L354 1258zM314 1107L307 1106L303 1101L310 1102zM312 1002L310 1011L304 1018L306 1009zM367 1246L367 1251L364 1254L363 1249zM371 1290L372 1294L368 1296L367 1291zM174 1194L168 1196L163 1193L169 1191zM192 1221L186 1217L181 1211L188 1215zM186 1244L177 1243L170 1237L179 1239zM310 1105L302 1105L296 1101L304 1101zM290 1309L286 1309L284 1304L289 1304z"/>
<path fill="#3d561d" d="M250 1237L249 1243L246 1249L246 1242zM389 1100L392 1092L398 1085L395 1094zM365 1114L362 1112L362 1109L366 1110zM266 1244L265 1249L261 1251L262 1247zM251 1316L245 1319L238 1319L244 1316zM285 1280L277 1276L272 1269L279 1273zM278 1092L273 1096L266 1097L271 1093zM281 1087L273 1087L266 1085L273 1085zM347 1123L342 1124L340 1120L344 1119zM412 1193L411 1189L412 1184L414 1189zM403 1202L398 1206L392 1205L397 1201zM450 1125L448 1131L442 1135L444 1128zM440 1093L435 1092L432 1089L437 1090zM321 1283L320 1292L314 1299L315 1290zM432 1222L431 1229L425 1234L427 1227zM335 1163L336 1155L341 1148L340 1156zM342 1196L341 1205L335 1213L337 1203zM434 1282L428 1288L419 1290L425 1284zM277 1036L271 1031L267 1024L274 1029zM321 1132L325 1127L332 1124L327 1129zM311 1188L304 1186L297 1182L305 1183zM189 1185L188 1192L184 1196L185 1190zM300 1155L296 1150L294 1144L298 1149zM383 1284L379 1282L378 1278L382 1279zM304 1188L297 1189L291 1188L297 1187zM200 1326L204 1319L210 1314L206 1321zM343 1133L338 1127L337 1119L342 1125zM353 1208L346 1205L340 1200L347 1202zM307 1211L301 1217L293 1218L299 1213zM163 1235L157 1233L152 1229L159 1230zM295 1310L288 1313L279 1313L287 1311zM445 1132L442 1137L437 1139L439 1134zM309 1040L311 1035L316 1035L314 1039zM356 1055L354 1059L350 1060L352 1057zM176 1283L170 1281L166 1275L172 1278zM385 1236L388 1227L394 1220L392 1229zM204 1294L208 1289L214 1288L210 1293zM424 1128L420 1134L414 1137L418 1132zM184 1323L183 1326L179 1327L181 1324zM223 1037L219 1030L217 1022L221 1029zM231 1271L225 1268L224 1263L229 1265zM377 1281L372 1288L364 1292L370 1286zM170 1054L165 1054L160 1052L165 1052zM358 1068L350 1062L346 1054L354 1059zM401 1070L396 1064L395 1057L399 1063zM375 1124L370 1121L369 1115L374 1118zM346 1081L347 1075L351 1072L351 1077zM179 1268L174 1269L171 1266L176 1265zM435 1336L428 1334L425 1328L432 1330zM208 1017L205 1025L198 1030L201 1022zM321 1249L323 1242L329 1237L326 1244zM442 1154L438 1152L438 1148L442 1149zM348 1209L350 1205L355 1205L353 1209zM281 1321L276 1320L272 1317L277 1318zM194 1213L193 1207L195 1201L196 1208zM425 1081L424 1073L427 1066L428 1074zM367 1043L367 1047L364 1048L364 1045zM350 1282L343 1280L337 1275L344 1277zM297 1016L292 1015L289 1012L293 1013zM170 1160L162 1160L156 1155L164 1155zM187 1310L195 1306L203 1305L196 1309zM385 1333L392 1327L400 1323L393 1329zM318 1167L316 1162L320 1159L321 1164zM293 1181L288 1181L286 1178L290 1178zM214 1323L206 1323L198 1321L206 1321zM390 1052L385 1052L382 1047L387 1048zM162 1166L161 1161L162 1156L163 1161zM395 1126L395 1117L398 1109L398 1118zM376 1112L378 1106L384 1103L382 1109zM283 1126L275 1128L266 1126L274 1124zM347 1070L348 1065L353 1063L352 1068zM308 1102L313 1096L321 1093L316 1099zM322 1315L316 1318L310 1318L316 1314zM169 1100L165 1098L165 1093L168 1096zM414 1253L411 1247L409 1241L413 1247zM303 1177L298 1175L297 1170L302 1172zM163 1085L160 1092L155 1097L158 1090zM404 1212L402 1220L398 1227L400 1219zM402 1305L397 1300L397 1294L401 1299zM336 1219L333 1222L329 1221L332 1218zM168 1255L166 1262L161 1269L164 1261zM438 1314L433 1311L429 1307L434 1309zM295 1084L293 1079L297 1075L298 1080zM396 1322L392 1325L387 1323L391 1320zM277 1031L272 1028L272 1022L276 1026zM186 1238L182 1231L181 1224L185 1230zM208 1288L200 1288L194 1283L202 1284zM287 1005L281 1011L273 1014L279 1008zM439 1259L442 1254L447 1253L444 1257zM367 1100L362 1102L356 1102L361 1100zM357 1095L353 1095L351 1091L355 1092zM397 1182L398 1177L403 1174L402 1180z"/>
<path fill="#486220" d="M430 1099L424 1097L420 1092L426 1094zM390 1324L393 1321L398 1321L395 1324zM302 1153L299 1156L295 1157L297 1153zM228 1028L234 1023L242 1021L236 1026zM309 1193L310 1198L306 1202L306 1197zM438 1238L434 1239L432 1236L436 1235zM294 1072L298 1067L304 1067L300 1071zM432 1022L428 1018L428 1011L433 1016zM304 1240L300 1240L296 1237L301 1237zM448 1120L447 1127L444 1134L444 1126zM430 1091L426 1089L426 1085L430 1086zM437 1245L431 1252L424 1256L429 1249zM345 1274L343 1279L337 1281L339 1275zM372 1211L364 1213L356 1212L364 1210zM213 1313L208 1308L207 1301L212 1306zM184 1209L181 1215L175 1216L178 1210zM346 1137L349 1134L354 1135L351 1139zM263 1208L261 1201L263 1195L265 1202zM301 1168L300 1172L297 1174L297 1170zM317 1308L313 1310L308 1309L313 1306zM296 1108L292 1111L287 1111L291 1108zM375 1060L370 1061L365 1057L371 1057zM303 1325L298 1322L297 1316L302 1319zM264 1078L259 1077L256 1073L261 1074zM198 1255L202 1249L209 1245L205 1252zM413 1123L409 1120L408 1116L412 1118zM175 1211L170 1209L167 1205L172 1207zM238 1032L232 1033L226 1030L232 1029zM411 1246L408 1242L408 1237L411 1241zM354 1249L350 1251L347 1248L351 1246zM382 1049L378 1049L376 1045L381 1045zM282 1228L274 1224L269 1217L277 1221zM287 1122L286 1117L290 1113L291 1118zM319 1293L314 1290L313 1284L318 1287zM180 1213L173 1215L166 1213L173 1211zM334 1179L329 1179L324 1175L330 1175zM188 1037L186 1030L190 1025L192 1031zM433 1182L428 1181L427 1176L432 1177zM239 1307L232 1309L225 1309L232 1307zM420 1037L417 1037L415 1033L419 1034zM200 1080L196 1087L190 1094L194 1086zM441 1295L435 1293L433 1286L439 1289zM309 1051L303 1048L299 1042L306 1045zM441 1065L437 1073L430 1077L434 1070zM298 1183L301 1176L307 1172L304 1179zM257 1256L253 1258L249 1258L252 1256zM428 1213L425 1209L423 1204L427 1207zM440 1232L431 1233L423 1230L432 1229zM305 1170L304 1165L307 1160L308 1166zM374 1169L369 1168L366 1164L371 1165zM397 1292L402 1288L408 1288L403 1291zM268 1260L262 1257L258 1251L265 1254zM308 1047L304 1050L299 1050L303 1047zM290 1146L284 1141L280 1134L286 1139zM377 1022L368 1020L361 1014L370 1016zM298 1069L294 1075L287 1077L291 1071zM168 1247L163 1254L156 1259L161 1252zM371 1227L367 1223L366 1217L370 1221zM278 1109L269 1112L261 1111L269 1108zM244 1327L241 1323L240 1317L244 1322zM367 1138L363 1130L362 1122L366 1129zM189 1236L184 1240L179 1242L183 1238zM437 1326L433 1333L427 1338L430 1330zM255 1015L251 1014L250 1010L254 1012zM408 1279L401 1275L396 1269L403 1273zM289 1084L285 1087L281 1085L284 1082zM193 1129L188 1129L185 1127L189 1126zM212 1235L210 1240L207 1243L208 1238zM339 1298L336 1302L331 1303L334 1299zM383 1309L379 1302L378 1293L382 1301zM320 1113L316 1116L311 1116L315 1113zM279 1188L272 1185L268 1178L275 1181zM274 1308L271 1315L264 1318L267 1311zM176 1333L173 1326L173 1318L175 1325zM185 1190L184 1194L179 1194L181 1190zM364 1174L360 1168L360 1160L364 1167zM273 1324L266 1324L261 1319L268 1319zM399 1122L391 1122L383 1117L392 1117zM316 1326L316 1318L319 1310L318 1318zM268 1193L266 1188L265 1183L268 1187zM174 1194L170 1191L171 1187L175 1190zM191 1072L197 1067L204 1065L198 1070zM419 1080L413 1084L405 1083L412 1080zM248 1289L243 1291L237 1290L243 1288zM437 1079L434 1077L432 1072L436 1075zM179 1285L175 1280L174 1273L179 1278zM308 1257L306 1260L302 1259L305 1256zM390 1254L390 1247L394 1240L393 1248zM294 1022L290 1030L283 1036L287 1028zM258 1336L251 1333L247 1325L254 1329zM239 1260L233 1266L226 1270L232 1264zM441 1266L442 1270L438 1272L437 1268zM405 1017L403 1014L405 1011L407 1014zM212 1263L205 1260L201 1255L208 1257zM363 1171L363 1167L367 1166L367 1170zM320 1025L313 1024L307 1020L314 1022zM343 1087L335 1089L327 1088L335 1087zM392 1143L391 1139L393 1137L394 1140zM341 1096L335 1094L333 1088L339 1090zM347 1201L340 1206L332 1207L338 1203zM278 1311L276 1317L270 1320L272 1314zM266 1234L264 1241L258 1245L261 1238zM297 1199L290 1199L284 1194L291 1195z"/>
<path fill="#536f25" d="M183 1230L175 1227L169 1221L177 1225zM365 1218L360 1216L357 1212L362 1214zM439 1322L437 1326L432 1326L434 1321zM225 1023L221 1020L218 1015L223 1018zM240 1245L232 1248L225 1245L232 1242zM158 1254L154 1254L152 1250L156 1250zM299 1116L294 1122L286 1124L291 1118zM376 1148L372 1143L371 1137L375 1142zM207 1005L206 1011L201 1014L202 1008zM259 1291L262 1287L267 1288L264 1292zM437 1081L434 1073L437 1064L440 1073zM344 1111L337 1110L332 1105L338 1106zM447 1220L443 1213L442 1205L446 1212zM406 1256L400 1251L396 1245L403 1249zM375 1081L378 1076L384 1073L381 1079zM335 1231L331 1229L328 1226L333 1227zM280 1053L276 1060L270 1065L274 1058zM356 1075L349 1074L344 1070L350 1071zM443 1198L445 1194L448 1192L447 1196zM400 1212L397 1214L394 1213L397 1210zM317 1317L315 1323L312 1329L313 1322zM356 1207L348 1205L343 1199L351 1201zM297 1066L299 1059L303 1054L301 1060zM162 1277L156 1283L149 1285L154 1280zM309 1149L303 1147L301 1141L307 1144zM287 1277L286 1281L283 1283L284 1280zM288 1191L285 1194L281 1195L284 1192zM359 1198L356 1204L349 1207L352 1201zM270 1010L267 1015L262 1019L265 1014zM266 1244L260 1241L258 1236L263 1238zM231 1281L231 1288L227 1293L227 1286zM397 1294L400 1291L404 1290L401 1293zM228 1297L220 1299L212 1297L220 1295zM239 1262L235 1256L235 1250L238 1255zM357 1258L349 1255L344 1248L352 1251zM177 1208L173 1205L171 1201L175 1203zM419 1267L418 1270L415 1272L416 1269zM188 1187L188 1192L185 1195L185 1191zM397 1267L394 1263L397 1260L400 1264zM179 1022L179 1027L176 1031L176 1026zM159 1283L160 1277L164 1272L163 1278zM216 1059L207 1057L199 1052L208 1054zM297 1321L292 1320L289 1316L294 1317zM427 1157L422 1150L423 1142L427 1149zM393 1192L386 1197L378 1199L385 1193zM432 1063L428 1070L422 1075L426 1068zM227 1305L218 1305L211 1300L220 1300zM176 1008L175 1013L171 1015L172 1011zM301 1138L293 1136L287 1131L295 1133zM198 1295L198 1291L202 1288L201 1292zM307 1134L302 1132L300 1126L305 1129zM373 1076L369 1079L363 1080L368 1076zM170 1267L166 1269L161 1267L166 1264zM274 1176L280 1171L288 1171L282 1175zM308 1176L303 1169L299 1162L305 1168zM191 1225L187 1222L185 1218L189 1220zM159 1316L163 1310L170 1307L165 1313zM279 1082L270 1083L262 1081L270 1080zM381 1281L378 1279L377 1274L380 1277zM354 1191L347 1192L341 1189L348 1189zM346 1273L342 1273L341 1269L345 1269zM390 1242L390 1234L392 1226L392 1234zM365 1270L362 1263L361 1256L364 1263zM240 1252L236 1249L234 1244L238 1247zM266 1277L265 1269L268 1261L268 1269zM355 1171L356 1167L360 1166L359 1170zM415 1146L410 1147L406 1143L411 1143zM369 1142L364 1138L361 1132L367 1136zM406 1086L399 1089L392 1087L399 1084zM387 1044L385 1052L379 1057L381 1049zM323 1277L318 1270L314 1262L320 1269zM368 1161L363 1162L358 1162L363 1160zM194 1077L187 1082L178 1085L185 1080zM447 1032L441 1032L436 1028L443 1028zM304 1015L303 1022L297 1026L299 1019zM262 1099L269 1094L277 1092L271 1098zM304 1012L299 1012L294 1009L299 1009zM202 1170L198 1172L195 1169L199 1167zM332 1262L333 1258L335 1255L335 1259zM346 1243L346 1238L350 1235L349 1240zM438 1219L432 1220L427 1218L432 1216zM275 1285L268 1288L261 1286L268 1284zM205 1193L202 1193L199 1191L203 1191zM405 1271L399 1271L395 1267L401 1266zM332 1057L325 1055L318 1052L326 1053zM366 1110L365 1116L361 1121L361 1114zM211 1324L210 1331L205 1335L206 1328zM301 1257L297 1255L295 1250L300 1252zM194 1090L190 1094L185 1095L189 1091zM263 1016L261 1011L262 1006L264 1011zM440 1230L434 1228L431 1224L436 1225zM420 1237L417 1241L412 1241L415 1237zM327 1239L323 1231L321 1223L325 1231zM367 1169L363 1168L362 1165L365 1166zM313 1318L314 1310L318 1303L317 1311zM422 1231L418 1227L416 1221L420 1226zM448 1149L443 1152L437 1152L442 1148zM322 1239L319 1245L313 1250L316 1243zM320 1082L314 1078L310 1073L316 1076z"/>
<path fill="#5f7d29" d="M301 1309L296 1316L287 1319L293 1312zM235 1252L228 1251L223 1247L229 1249zM294 1326L288 1321L284 1313L291 1318zM330 1109L325 1116L317 1120L322 1113zM261 1253L262 1257L258 1260L258 1256zM160 1060L163 1056L169 1054L165 1059zM240 1113L243 1105L249 1099L247 1107zM340 1017L336 1021L330 1021L334 1017zM363 1262L359 1265L353 1265L358 1262zM171 1140L164 1140L158 1136L165 1136zM390 1118L385 1118L381 1114L387 1114zM169 1248L165 1243L163 1237L167 1242zM176 1190L178 1186L183 1186L180 1190zM364 1130L358 1128L355 1123L360 1125zM257 1180L253 1179L253 1174L258 1175zM178 1292L172 1293L167 1291L173 1290zM284 1213L278 1215L272 1215L278 1213zM276 1105L272 1103L271 1099L275 1101zM435 1227L432 1230L428 1229L431 1226zM282 1064L276 1061L273 1055L279 1058zM178 1070L182 1063L189 1058L185 1066zM250 1287L246 1293L240 1298L244 1291zM242 1080L239 1087L233 1091L236 1085zM273 1077L273 1073L276 1071L277 1075zM342 1314L337 1313L334 1309L339 1311zM283 1304L277 1298L275 1289L281 1296zM274 1170L268 1164L265 1156L271 1162zM278 1028L273 1031L268 1029L273 1026zM332 1093L329 1095L326 1092L330 1089zM201 1248L198 1250L194 1248L198 1246zM276 1144L267 1143L258 1139L267 1141zM204 1227L199 1230L193 1231L198 1228zM349 1149L355 1142L364 1139L358 1146zM183 1224L178 1222L177 1216L182 1219zM266 1200L271 1193L279 1190L274 1197zM338 1036L337 1043L333 1049L334 1042zM395 1100L392 1095L392 1090L395 1094zM257 1310L255 1316L251 1319L253 1314zM308 1105L311 1098L316 1091L313 1099zM250 1019L246 1019L243 1017L247 1017zM354 1123L352 1128L346 1128L349 1123zM226 1057L228 1053L232 1052L231 1056zM272 1205L269 1202L270 1199L272 1201zM176 1035L173 1033L172 1029L175 1031zM187 1282L183 1282L181 1279L185 1279zM427 1051L423 1044L422 1037L425 1044zM332 1078L333 1071L337 1065L336 1072zM236 1267L232 1265L229 1260L234 1263zM370 1271L366 1269L366 1265L370 1267zM250 1064L249 1059L252 1055L253 1060zM194 1258L191 1262L186 1264L190 1260zM188 1037L184 1032L184 1025L188 1030zM442 1233L438 1227L436 1220L440 1226zM439 1012L434 1014L429 1014L434 1012zM436 1078L436 1081L433 1083L433 1080zM449 1275L443 1269L442 1261L448 1267zM403 1274L403 1279L398 1281L398 1276zM325 1208L325 1216L321 1223L322 1215zM421 1084L414 1083L411 1078L417 1079zM209 1086L203 1089L197 1087L202 1085zM198 1246L193 1242L194 1237L198 1240zM447 1034L441 1032L438 1028L443 1030zM365 1205L361 1211L355 1215L359 1209zM306 1046L303 1043L304 1039L307 1042zM355 1142L353 1149L348 1154L350 1147zM447 1223L444 1225L441 1223L444 1220zM425 1304L421 1299L420 1293L424 1298zM191 1183L186 1178L184 1171L189 1176zM179 1278L174 1275L173 1270L178 1273zM363 1173L356 1175L349 1175L356 1173zM231 1317L229 1321L224 1321L226 1317zM350 1261L347 1254L346 1246L349 1253zM291 1264L296 1257L302 1251L298 1258zM440 1315L432 1319L424 1317L432 1314zM369 1195L364 1198L358 1199L363 1196zM309 1252L306 1254L302 1252L306 1250zM196 1286L189 1287L182 1286L189 1284zM347 1196L341 1200L334 1200L340 1196zM286 1042L282 1046L277 1044L281 1040zM186 1030L183 1033L179 1031L182 1028zM438 1275L439 1267L445 1261L444 1270zM266 1234L265 1238L261 1240L262 1236zM308 1025L302 1028L296 1029L302 1026zM421 1268L412 1271L403 1272L412 1269zM400 1143L392 1146L383 1145L391 1143zM180 1087L174 1086L171 1081L176 1082zM361 1125L359 1130L355 1133L357 1128z"/>
<path fill="#6c8b2f" d="M290 1206L284 1209L278 1208L284 1205zM282 1255L286 1252L290 1251L287 1254zM159 1027L159 1019L163 1011L163 1020zM249 1054L242 1052L238 1047L244 1048zM399 1257L395 1261L390 1261L394 1258zM376 1281L374 1285L370 1285L372 1281zM289 1071L287 1067L288 1063L290 1067zM223 1218L222 1221L219 1223L220 1220zM286 1308L287 1313L282 1317L282 1311zM227 1027L221 1023L218 1015L224 1020zM344 1240L337 1234L333 1226L340 1232zM203 1203L196 1207L189 1206L196 1202zM402 1234L402 1228L405 1224L405 1229zM273 1018L269 1014L269 1008L273 1012zM334 1296L331 1300L326 1302L330 1298zM418 1182L412 1179L408 1173L414 1177zM390 1232L385 1239L379 1246L383 1238zM167 1041L163 1041L159 1039L164 1039zM158 1127L156 1123L158 1119L160 1123zM305 1080L303 1084L299 1085L301 1081zM191 1197L194 1190L201 1185L198 1193zM179 1167L174 1167L170 1164L175 1164zM238 1238L232 1238L228 1236L233 1236zM431 1076L425 1080L417 1079L424 1075zM303 1087L301 1084L301 1080L303 1084zM308 1212L306 1207L309 1202L310 1208zM415 1027L407 1025L401 1018L409 1021zM259 1171L253 1178L245 1182L251 1175zM185 1155L184 1160L179 1164L180 1158zM198 1303L191 1310L183 1312L189 1306zM176 1101L179 1095L184 1093L182 1098zM322 1220L325 1214L329 1210L327 1216zM195 1178L201 1172L209 1171L203 1177zM333 1323L333 1326L330 1328L331 1325zM341 1317L343 1309L350 1304L348 1313zM233 1088L228 1093L221 1096L226 1091zM281 1292L276 1299L267 1301L272 1294zM345 1161L337 1163L329 1162L337 1161zM170 1172L161 1174L153 1171L162 1169zM246 1060L244 1062L240 1063L242 1060zM440 1058L431 1058L424 1054L432 1053zM394 1015L389 1019L383 1019L388 1016zM418 1257L409 1254L401 1249L410 1252zM307 1197L301 1197L296 1193L302 1193zM171 1131L166 1124L163 1115L168 1123zM425 1277L421 1273L422 1267L426 1271zM439 1286L436 1280L435 1274L438 1280zM337 1035L334 1030L335 1025L338 1030zM446 1172L441 1165L441 1157L446 1164zM255 1277L254 1270L257 1263L258 1270zM383 1248L383 1253L379 1255L378 1250zM417 1166L416 1175L412 1183L413 1174zM329 1118L321 1115L315 1110L323 1113zM278 1048L273 1052L266 1051L272 1048zM279 1168L270 1166L263 1160L272 1162zM436 1095L430 1092L425 1088L431 1090zM158 1041L154 1040L153 1036L156 1038zM341 1230L334 1229L329 1224L336 1225zM446 1265L441 1259L440 1251L445 1257zM373 1083L375 1078L380 1075L378 1080zM164 1188L161 1191L156 1192L159 1189zM189 1260L189 1266L185 1272L185 1265zM338 1072L339 1066L344 1063L343 1068zM308 1092L308 1100L303 1108L304 1099zM412 1038L410 1031L411 1024L413 1031zM390 1320L384 1317L381 1311L387 1314zM232 1064L228 1070L221 1072L225 1066zM441 1298L438 1292L438 1285L441 1292zM225 1240L217 1238L212 1232L220 1234zM436 1113L432 1110L431 1105L435 1108zM218 1308L218 1305L220 1302L220 1306zM311 1292L306 1293L303 1290L307 1289zM277 1080L270 1083L262 1081L269 1078zM184 1188L176 1189L169 1187L177 1186zM444 1238L440 1240L435 1238L440 1236zM328 1038L319 1040L310 1038L319 1036zM259 1220L253 1221L247 1218L253 1218zM306 1160L300 1165L292 1166L298 1161zM271 1233L262 1229L258 1221L266 1225zM232 1289L226 1286L224 1281L229 1283zM193 1091L186 1097L178 1100L185 1094zM290 1082L287 1074L286 1066L289 1074zM355 1247L355 1243L358 1242L358 1246zM171 1054L166 1055L164 1051L168 1050zM193 1259L198 1254L205 1254L200 1259zM420 1225L415 1228L410 1227L414 1224zM428 1060L421 1063L414 1061L421 1058zM173 1130L173 1124L177 1119L176 1125zM402 1217L397 1219L393 1216L398 1214zM381 1058L377 1052L375 1045L380 1050zM363 1057L362 1064L357 1068L358 1061zM204 1024L199 1018L198 1010L203 1016zM440 1194L442 1191L446 1191L444 1195z"/>
<path fill="#7a9b36" d="M320 1109L319 1116L314 1120L315 1113zM201 1294L197 1297L192 1296L196 1292zM405 1133L399 1139L392 1139L397 1134zM233 1041L231 1038L230 1035L233 1037zM329 1186L324 1181L322 1174L327 1179zM342 1216L337 1212L334 1208L339 1211zM303 1185L300 1184L299 1179L303 1181zM356 1233L351 1235L346 1233L351 1231zM330 1061L323 1056L319 1048L325 1054zM359 1068L355 1074L349 1078L353 1072zM421 1303L414 1296L413 1287L419 1294zM179 1068L179 1073L176 1077L177 1072zM307 1022L306 1028L301 1031L302 1025zM406 1279L400 1273L398 1265L404 1271zM242 1241L237 1243L232 1241L237 1238zM284 1261L277 1264L270 1264L277 1261zM344 1145L336 1143L328 1138L337 1140zM286 1059L290 1054L296 1052L292 1057zM407 1158L401 1163L393 1163L399 1158zM398 1144L394 1140L395 1135L398 1139zM339 1207L336 1213L330 1216L333 1210zM280 1106L280 1113L275 1118L275 1111zM167 1054L163 1048L165 1041L169 1047zM311 1178L305 1178L301 1175L306 1175zM249 1133L246 1137L242 1137L244 1133zM192 1116L187 1115L183 1112L188 1113zM303 1294L300 1293L299 1289L302 1291zM348 1065L346 1073L340 1080L342 1072zM256 1026L254 1029L250 1029L252 1025zM185 1067L182 1064L181 1060L184 1063zM414 1045L412 1049L409 1051L410 1047zM229 1050L226 1042L227 1034L230 1042zM274 1336L269 1333L266 1328L271 1330zM394 1165L389 1171L383 1175L387 1169zM291 1017L291 1021L287 1023L288 1018zM357 1079L357 1084L354 1087L354 1083zM444 1336L438 1333L435 1328L441 1330zM285 1284L280 1277L279 1268L283 1276zM273 1317L269 1315L266 1310L271 1312zM259 1033L252 1032L248 1028L255 1028zM354 1320L354 1326L350 1329L350 1324zM449 1070L442 1068L438 1062L445 1064zM346 1206L340 1201L339 1195L344 1199zM359 1095L356 1098L352 1099L355 1096zM359 1152L357 1155L353 1154L355 1150zM441 1070L436 1078L428 1082L433 1074zM423 1044L422 1051L417 1057L419 1050zM312 1278L307 1276L303 1272L308 1273zM274 1128L270 1124L271 1119L275 1123zM428 1141L422 1141L419 1137L424 1137zM278 1232L274 1226L273 1219L277 1225zM420 1023L414 1022L411 1017L417 1018zM230 1061L225 1061L222 1056L227 1057zM233 1231L230 1226L231 1221L235 1226zM184 1185L175 1186L167 1185L175 1184zM296 1056L292 1056L290 1053L294 1053zM353 1318L352 1323L348 1326L349 1321zM186 1131L178 1129L170 1125L178 1127zM345 1220L343 1223L339 1223L341 1220zM266 1062L264 1068L259 1072L261 1066zM162 1157L163 1152L167 1149L166 1154zM189 1026L185 1031L178 1033L183 1028zM295 1222L292 1220L292 1216L295 1219zM209 1033L206 1035L203 1034L205 1032zM281 1281L276 1285L270 1287L275 1283zM348 1178L340 1183L332 1185L339 1181zM412 1139L411 1143L407 1143L409 1140zM233 1088L231 1094L226 1097L228 1091zM266 1145L257 1146L248 1143L257 1142zM286 1184L283 1184L281 1182L284 1182zM408 1017L399 1015L394 1009L402 1011zM228 1242L221 1238L217 1232L223 1236zM179 1127L182 1121L186 1116L184 1122zM443 1213L442 1218L438 1221L439 1216zM209 1296L206 1287L209 1279L211 1287zM280 1075L276 1070L276 1063L281 1068zM206 1291L212 1286L220 1284L214 1289zM374 1134L370 1131L371 1125L375 1129zM382 1039L385 1032L392 1028L389 1035zM266 1269L260 1265L257 1259L262 1263zM267 1177L263 1176L259 1173L264 1174zM188 1188L181 1185L175 1179L182 1182zM322 1248L319 1252L314 1251L317 1248zM406 1172L403 1175L398 1174L401 1171zM387 1258L385 1262L381 1262L383 1259zM363 1057L361 1060L357 1061L359 1057zM204 1081L197 1083L190 1079L197 1077zM191 1101L189 1106L185 1111L187 1105zM278 1041L272 1041L268 1037L274 1036zM289 1159L284 1157L280 1154L286 1155zM392 1330L387 1324L385 1317L391 1322zM347 1130L352 1126L358 1127L353 1131zM264 1192L260 1196L254 1199L258 1194zM345 1124L341 1124L338 1123L342 1122zM379 1050L378 1045L382 1043L382 1047zM407 1157L401 1151L398 1144L404 1149zM366 1264L369 1261L374 1260L371 1264zM165 1100L158 1103L151 1104L158 1100zM321 1145L313 1143L306 1138L314 1140zM452 1257L445 1261L437 1261L444 1257zM280 1124L273 1122L267 1116L275 1119zM212 1272L207 1269L205 1264L210 1267z"/>
<path fill="#88a940" d="M423 1213L415 1213L407 1212L415 1211zM300 1233L293 1232L288 1227L295 1228zM341 1299L341 1306L336 1311L337 1304zM274 1316L267 1311L264 1303L271 1307zM287 1020L282 1017L278 1013L283 1015zM230 1075L222 1073L218 1066L226 1069zM262 1094L264 1090L267 1087L265 1091zM352 1124L347 1130L340 1133L345 1127zM328 1276L324 1275L324 1271L328 1271zM411 1062L405 1057L401 1051L407 1056zM257 1091L251 1089L249 1083L255 1085zM402 1176L395 1179L387 1177L394 1174zM328 1296L322 1296L317 1292L323 1292zM184 1099L180 1097L179 1093L183 1095zM209 1258L205 1264L199 1268L203 1262zM323 1219L318 1213L317 1206L323 1211zM315 1240L311 1233L308 1224L313 1232zM257 1008L253 1016L247 1023L251 1015zM450 1025L443 1022L439 1015L446 1018zM428 1027L423 1020L421 1011L426 1019zM265 1070L262 1074L258 1075L261 1072zM340 1232L335 1235L330 1233L335 1230zM274 1268L267 1265L264 1257L271 1261zM253 1149L249 1152L244 1152L248 1149zM195 1112L186 1110L179 1104L188 1106zM258 1073L254 1071L251 1068L255 1069zM286 1335L291 1328L298 1325L293 1331zM230 1146L225 1144L226 1138L230 1141zM213 1255L218 1248L226 1245L221 1252zM358 1101L356 1094L358 1087L360 1094zM224 1264L223 1268L219 1270L220 1266zM296 1244L292 1240L292 1235L295 1239zM350 1131L347 1134L343 1134L345 1130zM191 1198L186 1201L180 1200L185 1197zM423 1026L419 1020L421 1015L424 1020zM170 1142L171 1148L168 1152L167 1146zM236 1063L231 1057L232 1050L236 1056zM198 1229L203 1225L210 1222L204 1227zM417 1309L422 1301L429 1296L425 1303zM427 1275L424 1272L423 1268L426 1271zM188 1057L186 1061L181 1061L183 1057zM265 1219L269 1216L275 1217L271 1220zM270 1307L265 1308L261 1306L266 1305zM219 1026L218 1022L221 1020L222 1024zM368 1107L368 1112L364 1117L364 1111zM249 1049L246 1052L243 1049L246 1046zM362 1242L360 1247L355 1249L357 1244zM373 1169L367 1169L364 1164L369 1164zM429 1311L430 1316L426 1320L425 1315zM285 1078L282 1086L277 1094L279 1085zM271 1184L266 1180L266 1174L271 1177zM374 1273L366 1272L359 1269L367 1270zM364 1180L359 1179L356 1174L361 1176zM340 1070L336 1077L328 1081L333 1074zM440 1325L436 1325L434 1320L439 1321zM300 1118L301 1110L305 1103L305 1111zM364 1302L363 1310L358 1314L359 1307zM205 1092L198 1095L190 1095L197 1091zM442 1323L433 1323L426 1318L435 1318zM392 1086L388 1085L386 1082L390 1083zM402 1125L401 1132L398 1137L399 1131zM263 1222L262 1226L258 1225L259 1221zM250 1252L248 1249L249 1245L251 1248zM377 1132L369 1130L361 1126L369 1128zM268 1297L263 1294L261 1290L265 1292zM369 1170L367 1174L363 1176L365 1172zM205 1070L210 1065L217 1061L211 1066zM418 1208L411 1211L403 1210L410 1207zM175 1097L170 1098L166 1095L171 1095zM342 1114L340 1106L342 1098L344 1106zM192 1027L191 1023L195 1021L196 1026zM405 1107L401 1109L398 1106L401 1104zM247 1303L241 1299L240 1292L246 1296zM173 1042L169 1036L166 1028L171 1034zM444 1296L438 1297L434 1294L439 1294zM416 1205L410 1204L406 1200L412 1201zM331 1158L329 1161L326 1162L327 1158zM379 1174L374 1177L367 1176L373 1173zM324 1062L325 1055L330 1050L328 1057zM430 1132L426 1130L425 1125L429 1128zM281 1053L277 1052L273 1048L278 1050zM279 1062L274 1058L272 1051L277 1055z"/>
<path fill="#98b64d" d="M238 1093L236 1087L236 1082L238 1087zM404 1272L397 1272L393 1267L400 1267zM319 1215L316 1218L312 1218L315 1214zM450 1246L446 1249L441 1246L445 1243zM335 1129L339 1124L346 1122L342 1127zM192 1078L195 1072L201 1069L198 1075zM411 1307L407 1306L405 1303L409 1304zM234 1191L240 1185L247 1182L242 1188zM442 1035L435 1034L429 1031L435 1032zM373 1061L368 1064L362 1065L367 1062zM232 1046L231 1050L227 1052L228 1048zM368 1272L364 1276L359 1275L363 1271zM168 1057L160 1056L153 1051L162 1051zM272 1153L266 1157L258 1157L265 1154zM346 1063L342 1069L336 1071L340 1065zM429 1167L432 1163L437 1162L434 1166zM280 1177L277 1181L273 1184L275 1180zM229 1126L224 1131L218 1133L223 1128zM442 1081L443 1077L448 1077L446 1081zM244 1034L240 1033L239 1029L243 1030zM402 1318L395 1314L391 1307L398 1311zM356 1026L353 1023L352 1018L355 1022zM199 1201L196 1201L194 1197L198 1198zM233 1030L226 1034L218 1033L225 1029zM299 1141L291 1140L285 1136L293 1137zM409 1190L403 1191L397 1187L404 1187zM161 1071L157 1072L154 1069L158 1068zM365 1058L364 1053L366 1049L367 1054zM323 1130L322 1124L323 1118L324 1124zM400 1209L393 1205L389 1198L396 1202zM216 1194L212 1199L205 1201L210 1196zM259 1290L254 1283L252 1275L257 1282zM386 1266L382 1263L381 1259L384 1261zM223 1298L218 1296L214 1292L219 1293zM413 1191L420 1186L428 1184L421 1189zM316 1063L316 1055L320 1048L320 1056zM425 1078L417 1076L412 1070L420 1072zM228 1329L222 1326L217 1320L223 1324zM358 1003L358 1011L354 1018L354 1010zM420 1197L419 1201L416 1202L417 1199zM241 1254L236 1260L229 1263L234 1257zM302 1031L295 1031L288 1029L295 1029zM264 1326L266 1330L262 1333L261 1329zM420 1092L415 1090L412 1086L417 1088zM386 1221L379 1215L375 1207L382 1213zM340 1256L339 1249L341 1242L342 1249zM317 1138L313 1136L310 1131L315 1134zM265 1138L259 1138L256 1133L262 1133zM231 1269L222 1269L215 1265L223 1266zM353 1155L351 1163L345 1170L347 1161zM206 1100L199 1095L194 1088L201 1093zM391 1238L384 1236L378 1232L385 1234zM349 1121L346 1125L342 1128L344 1123zM187 1121L179 1118L174 1110L182 1114zM393 1231L391 1234L388 1235L390 1232zM239 1155L230 1156L222 1153L231 1151zM197 1210L191 1209L187 1204L193 1205zM344 1072L340 1077L334 1076L338 1072zM383 1307L382 1311L378 1311L379 1307zM237 1174L232 1176L227 1174L232 1172zM394 1093L389 1097L382 1095L388 1092zM307 1198L305 1207L300 1214L301 1205zM188 1096L184 1091L184 1084L187 1089zM232 1272L230 1281L225 1288L227 1279zM255 1058L251 1059L248 1056L252 1055zM350 1062L345 1062L341 1058L346 1058zM370 1019L367 1024L361 1024L364 1019zM294 1193L287 1191L282 1186L289 1188zM433 1133L429 1131L429 1127L433 1128zM247 1235L239 1232L234 1225L242 1228zM190 1240L185 1234L184 1226L189 1232zM226 1197L225 1203L220 1208L221 1201zM251 1256L244 1252L239 1244L246 1249zM378 1064L376 1062L376 1058L378 1061zM395 1334L388 1333L383 1328L390 1329zM295 1179L288 1175L283 1168L290 1172zM227 1019L226 1022L223 1024L224 1021zM295 1262L294 1255L297 1249L299 1256zM222 1091L215 1093L208 1091L215 1089zM310 1119L308 1111L309 1102L310 1111zM380 1150L372 1151L366 1147L373 1146zM309 1186L302 1186L297 1180L304 1181zM280 1305L273 1304L267 1301L274 1302zM275 1276L268 1277L260 1275L268 1274zM213 1257L209 1254L211 1249L214 1252zM451 1138L446 1142L439 1143L445 1139zM404 1042L399 1042L396 1037L401 1038zM295 1062L294 1070L290 1077L290 1069zM378 1095L379 1090L384 1088L382 1093zM185 1097L180 1095L179 1090L184 1092z"/>
<path fill="#a7c35c" d="M239 1144L230 1146L222 1145L230 1143zM235 1179L230 1176L229 1170L234 1173zM237 1094L232 1091L230 1085L236 1088zM258 1331L249 1328L242 1322L250 1325zM206 1100L197 1102L189 1101L197 1099zM430 1226L430 1230L426 1232L426 1228zM410 1146L406 1152L400 1155L404 1149zM324 1097L318 1096L316 1090L322 1091zM386 1110L383 1109L383 1106L386 1107zM249 1254L244 1258L238 1258L243 1254zM228 1088L225 1085L223 1082L226 1084zM256 1263L259 1259L264 1260L261 1264zM164 1042L164 1047L160 1047L160 1043zM451 1089L444 1086L439 1081L446 1083zM242 1117L234 1115L227 1111L235 1113zM409 1264L409 1269L406 1273L406 1268zM259 1164L263 1158L268 1155L265 1160zM362 1023L357 1024L353 1021L358 1021zM376 1173L372 1171L372 1167L375 1169zM414 1063L410 1063L407 1060L411 1060zM263 1324L266 1321L270 1320L267 1323zM251 1006L251 1010L248 1013L248 1009zM228 1287L222 1292L214 1293L219 1287zM287 1073L282 1074L279 1072L283 1071zM367 1313L363 1317L357 1317L361 1313zM371 1259L371 1268L366 1274L366 1266zM384 1253L381 1261L376 1267L378 1259zM250 1207L248 1214L242 1217L244 1210zM349 1186L343 1186L340 1181L346 1181zM251 1147L248 1141L246 1134L250 1140zM401 1010L396 1011L392 1008L397 1007zM232 1080L231 1086L227 1091L227 1084zM342 1241L338 1238L338 1234L342 1236zM355 1212L355 1207L358 1204L358 1209zM344 1062L348 1054L356 1049L351 1057zM235 1284L231 1281L234 1277L237 1280zM216 1203L212 1202L209 1199L213 1200zM361 1246L368 1240L376 1238L370 1244zM434 1282L431 1288L426 1292L429 1286zM328 1063L332 1059L338 1057L334 1061zM407 1156L407 1151L411 1148L411 1153zM345 1238L348 1229L355 1223L352 1232zM443 1030L439 1024L436 1016L441 1023zM387 1110L382 1110L379 1106L383 1106zM392 1043L393 1047L389 1049L388 1045zM286 1128L279 1132L271 1132L278 1128zM404 1092L398 1088L395 1081L402 1085zM244 1098L241 1096L242 1093L245 1095zM289 1160L284 1160L280 1157L285 1157zM227 1239L220 1239L214 1236L221 1236zM380 1166L376 1162L376 1156L380 1160zM436 1028L436 1036L432 1042L432 1035zM171 1047L168 1054L162 1059L165 1052zM312 1193L305 1193L299 1189L306 1189zM403 1158L397 1160L392 1158L398 1156zM417 1127L411 1125L408 1120L414 1121zM252 1209L243 1206L237 1199L246 1202zM341 1157L337 1158L334 1154L339 1153zM401 1286L401 1291L397 1292L397 1287zM198 1104L193 1100L190 1093L196 1098zM200 1168L197 1165L197 1161L200 1164zM366 1065L360 1068L354 1065L360 1062zM366 1099L370 1094L376 1091L373 1097zM212 1229L219 1223L228 1223L221 1228zM244 1188L246 1181L251 1176L249 1182zM237 1309L230 1304L225 1296L232 1302zM288 1125L290 1119L297 1117L294 1123zM233 1203L229 1200L228 1196L232 1199zM216 1156L217 1161L213 1164L212 1159zM274 1162L268 1158L267 1151L273 1155zM411 1323L408 1327L403 1329L406 1325zM196 1170L193 1177L186 1182L190 1175zM396 1048L400 1040L408 1036L404 1044zM262 1265L257 1263L256 1257L261 1259zM313 1164L309 1167L304 1167L308 1164zM289 1125L281 1129L272 1128L280 1124zM264 1176L259 1168L258 1159L263 1167zM263 1253L259 1250L257 1245L261 1249zM377 1169L374 1166L374 1162L378 1164zM347 1108L342 1110L337 1108L342 1106zM281 1241L283 1239L287 1239L284 1241zM362 1243L365 1239L370 1236L367 1240zM260 1190L254 1190L251 1185L257 1185zM285 1306L282 1310L277 1312L281 1308z"/>
<path fill="#b6cd72" d="M219 1232L219 1236L216 1239L215 1234zM392 1066L385 1065L380 1060L387 1061zM325 1104L320 1099L318 1091L324 1096zM296 1039L289 1039L281 1036L289 1036zM214 1031L219 1026L225 1024L220 1028zM201 1070L194 1068L188 1064L196 1066zM445 1108L442 1105L441 1101L444 1104zM246 1062L242 1056L240 1050L244 1055zM397 1282L400 1279L405 1278L402 1282zM418 1202L413 1199L411 1193L416 1196zM423 1052L424 1049L428 1048L427 1052zM213 1228L210 1231L206 1230L209 1227zM213 1183L210 1189L204 1194L207 1187zM366 1192L364 1187L368 1182L369 1188zM384 1039L378 1040L373 1037L379 1036zM389 1104L382 1110L374 1114L380 1107zM325 1148L318 1143L314 1135L321 1140zM230 1153L229 1148L233 1145L233 1150zM231 1203L230 1207L227 1210L228 1206zM339 1095L333 1097L328 1094L334 1092zM257 1113L256 1118L251 1119L252 1114zM434 1258L437 1250L443 1244L441 1252zM215 1227L212 1224L214 1220L217 1223zM375 1193L375 1198L372 1203L371 1197zM380 1280L383 1274L389 1269L386 1276zM281 1089L276 1087L275 1082L280 1084zM257 1038L251 1039L246 1037L251 1036zM406 1206L405 1199L408 1193L410 1200zM282 1076L278 1072L277 1067L280 1070zM286 1226L282 1228L278 1228L282 1226zM257 1048L254 1052L249 1053L252 1048zM310 1050L307 1054L301 1057L305 1052zM277 1073L270 1073L265 1069L272 1068zM272 1146L263 1146L256 1140L265 1141zM434 1096L430 1102L423 1105L427 1099zM278 1204L282 1201L287 1199L283 1202zM210 1090L204 1089L201 1084L207 1085zM293 1020L293 1023L289 1025L290 1021zM442 1022L436 1023L430 1021L436 1019zM248 1231L241 1228L237 1223L243 1226zM334 1043L330 1048L325 1047L328 1043zM316 1093L313 1095L310 1095L312 1093zM218 1178L217 1183L214 1186L215 1181zM206 1158L203 1153L203 1147L207 1152zM327 1099L323 1101L319 1098L323 1096zM193 1161L188 1164L182 1163L187 1160zM206 1213L210 1206L218 1203L213 1209zM263 1315L260 1320L255 1323L257 1318zM425 1230L425 1223L429 1217L429 1224zM199 1200L194 1207L188 1213L192 1206zM305 1040L297 1040L290 1037L297 1037zM451 1134L443 1137L435 1137L443 1134zM254 1021L248 1018L244 1011L251 1015zM249 1167L251 1159L256 1153L254 1161zM243 1252L235 1251L227 1248L235 1249zM444 1190L438 1187L433 1182L439 1185zM268 1240L264 1234L263 1227L266 1233zM200 1085L197 1088L194 1086L196 1084zM231 1167L228 1165L229 1161L233 1163z"/>
<path fill="#c4d787" d="M237 1021L232 1023L228 1023L232 1020zM248 1126L240 1131L231 1133L238 1127zM245 1187L243 1190L240 1192L242 1188zM307 1085L299 1082L292 1075L301 1079zM430 1059L422 1063L414 1066L422 1061zM314 1081L310 1081L309 1077L313 1077zM201 1172L208 1168L216 1166L209 1170zM368 1045L366 1042L366 1038L369 1041zM435 1040L436 1037L439 1034L438 1038zM275 1142L274 1133L278 1125L279 1134zM306 1051L302 1045L302 1038L307 1044zM223 1054L219 1050L218 1046L222 1049zM314 1050L313 1045L315 1041L316 1045zM262 1255L262 1247L265 1241L265 1248zM262 1155L262 1161L258 1165L258 1160zM239 1098L234 1099L230 1097L234 1095zM446 1085L443 1084L441 1081L444 1082zM321 1055L320 1060L315 1063L316 1057zM309 1101L307 1105L303 1106L305 1102zM218 1160L211 1159L207 1154L214 1155zM272 1175L265 1180L256 1181L264 1176zM374 1025L379 1021L386 1020L381 1024zM297 1051L293 1056L287 1059L292 1054zM407 1148L403 1151L399 1149L402 1146zM233 1105L229 1107L223 1107L228 1105zM262 1226L259 1225L257 1221L261 1223zM418 1274L421 1268L428 1264L425 1271zM252 1013L251 1018L248 1021L249 1017zM420 1167L415 1162L412 1155L417 1160zM215 1030L210 1029L207 1026L212 1027zM357 1021L355 1027L349 1031L351 1025zM293 1175L286 1173L281 1169L287 1171zM221 1141L217 1138L219 1134L222 1137zM215 1233L210 1226L208 1219L213 1225zM254 1212L251 1208L251 1204L254 1208zM239 1211L237 1216L231 1218L234 1213zM314 1148L306 1148L298 1145L306 1145zM215 1147L210 1152L204 1154L208 1149zM379 1030L375 1024L373 1017L377 1023zM251 1237L244 1231L242 1223L248 1229zM320 1057L312 1054L306 1049L314 1051zM303 1133L295 1134L286 1130L295 1130zM293 1160L285 1163L276 1161L285 1158zM268 1075L274 1071L282 1070L275 1074zM300 1041L296 1035L295 1028L299 1034zM198 1216L202 1212L208 1209L203 1214zM321 1039L317 1039L314 1036L318 1037zM257 1084L250 1082L244 1077L251 1080zM421 1107L414 1111L407 1111L413 1107zM315 1120L309 1121L304 1118L309 1117zM415 1130L412 1125L414 1119L417 1124zM379 1039L376 1033L379 1027L382 1033zM429 1118L430 1123L427 1127L426 1122zM257 1007L249 1012L240 1013L248 1008zM421 1199L413 1196L409 1190L416 1192zM205 1190L204 1184L206 1178L207 1184zM233 1067L239 1063L245 1062L239 1065zM223 1095L222 1101L217 1105L217 1099zM318 1097L312 1099L308 1095L313 1093zM216 1237L214 1244L210 1250L212 1243zM247 1019L248 1012L253 1008L251 1014zM283 1055L282 1059L279 1061L280 1057zM386 1053L378 1048L374 1040L381 1045z"/>
<path fill="#d1dfa3" d="M418 1151L417 1145L419 1139L421 1145zM208 1181L199 1180L192 1175L201 1176zM429 1129L427 1136L421 1140L423 1133zM239 1184L233 1190L226 1193L231 1187zM439 1077L437 1080L434 1081L435 1078zM217 1256L214 1258L211 1256L214 1254zM224 1253L219 1250L216 1245L221 1248zM224 1050L217 1053L209 1051L216 1049zM421 1119L426 1114L432 1113L428 1117zM221 1162L217 1165L212 1165L216 1162zM394 1110L393 1118L389 1125L390 1117zM268 1121L265 1113L266 1105L269 1113zM433 1173L433 1168L437 1166L436 1170zM262 1148L256 1143L253 1137L258 1142zM251 1132L246 1130L245 1124L250 1127zM207 1109L201 1106L198 1100L204 1103zM380 1051L375 1047L371 1040L377 1045zM281 1162L276 1164L270 1162L276 1160zM259 1134L256 1131L256 1127L259 1130zM252 1061L246 1060L241 1056L247 1056zM221 1009L216 1015L209 1017L213 1011zM283 1039L281 1045L277 1050L278 1044zM276 1029L273 1026L272 1022L275 1025zM203 1089L198 1083L198 1075L203 1081zM310 1064L303 1059L299 1052L306 1056zM194 1075L190 1073L191 1068L195 1071zM212 1172L206 1165L205 1156L210 1163zM403 1143L406 1138L410 1134L408 1140zM266 1087L266 1090L263 1092L263 1089zM202 1077L199 1081L195 1084L197 1080zM308 1078L303 1070L303 1061L307 1069zM423 1064L427 1060L433 1059L429 1063zM283 1085L278 1091L272 1094L277 1089zM250 1062L246 1057L244 1049L249 1055zM201 1184L197 1182L197 1177L201 1180zM197 1167L200 1164L204 1164L201 1167zM282 1024L283 1029L279 1031L278 1027zM311 1100L306 1101L303 1099L307 1098zM445 1130L440 1130L440 1125L444 1126zM216 1042L209 1046L200 1048L208 1044zM323 1040L325 1032L332 1028L329 1035zM389 1100L386 1103L381 1103L385 1100zM406 1052L401 1056L396 1056L401 1053zM272 1179L268 1180L265 1178L269 1177zM328 1040L321 1040L315 1036L322 1036zM254 1151L256 1147L260 1148L258 1151zM228 1113L220 1109L216 1101L224 1105zM401 1154L396 1149L395 1142L401 1147zM268 1234L262 1228L262 1219L267 1226zM389 1017L382 1021L375 1020L381 1016z"/>
<path fill="#dee7bf" d="M210 1124L206 1122L203 1119L207 1120zM271 1074L270 1078L268 1081L268 1077zM249 1069L247 1075L243 1080L245 1074zM219 1097L215 1095L212 1091L216 1093zM231 1109L225 1109L221 1104L227 1105zM275 1049L270 1049L266 1046L271 1046zM271 1151L267 1146L266 1139L270 1144zM240 1111L237 1108L237 1104L240 1107zM233 1171L226 1177L218 1180L224 1174zM425 1051L430 1045L437 1041L432 1047zM213 1137L217 1132L224 1129L220 1135zM248 1113L244 1113L242 1109L246 1109zM237 1139L236 1145L234 1151L234 1145zM265 1194L261 1189L258 1183L263 1188zM239 1168L237 1173L232 1176L234 1170zM255 1244L250 1239L249 1231L254 1237zM227 1117L225 1111L229 1105L230 1111zM261 1169L257 1172L253 1171L257 1168zM267 1101L260 1099L254 1094L261 1096zM237 1246L234 1249L230 1249L233 1247zM233 1015L229 1019L224 1019L228 1015zM227 1109L227 1114L224 1119L224 1113zM199 1166L197 1174L191 1180L194 1172zM209 1215L210 1209L216 1206L214 1212zM198 1112L191 1111L187 1106L193 1108zM239 1179L236 1180L232 1179L236 1178zM241 1037L236 1031L235 1023L240 1029zM257 1210L253 1206L252 1201L256 1204zM251 1242L246 1246L240 1245L245 1241zM253 1186L247 1185L244 1180L250 1180zM233 1027L231 1024L234 1021L236 1025zM219 1212L213 1213L206 1212L213 1211zM263 1065L263 1069L259 1071L259 1067zM253 1164L248 1164L244 1161L249 1160zM236 1145L232 1142L233 1137L237 1140zM197 1141L197 1146L194 1150L194 1145z"/>
<path fill="#e8eed4" d="M234 1154L227 1149L222 1142L229 1147zM230 1112L228 1116L224 1117L226 1113zM270 1209L266 1201L266 1192L269 1200zM236 1162L232 1161L230 1158L234 1159zM242 1041L235 1040L232 1035L238 1036zM225 1055L219 1057L213 1054L219 1053zM228 1069L223 1066L220 1060L226 1063zM271 1198L266 1199L264 1194L269 1194zM252 1101L247 1099L246 1094L251 1096zM206 1189L203 1196L197 1201L201 1194zM225 1172L221 1164L220 1155L224 1163zM219 1155L214 1161L206 1162L211 1156zM221 1107L213 1108L206 1106L214 1105zM257 1058L254 1064L248 1065L251 1060zM206 1166L209 1161L214 1159L211 1164zM236 1228L229 1226L225 1221L231 1223zM206 1142L200 1141L198 1136L204 1137zM234 1174L229 1176L225 1174L229 1172zM258 1100L259 1096L263 1096L262 1100zM252 1165L255 1157L262 1153L259 1161zM241 1066L236 1068L231 1064L237 1062zM251 1139L243 1142L234 1142L242 1139zM233 1177L228 1173L224 1168L229 1172zM260 1200L259 1206L256 1211L257 1205zM249 1183L245 1186L239 1185L244 1182zM232 1097L232 1089L236 1081L235 1089z"/>
<path fill="#f1f4e5" d="M232 1102L226 1100L222 1095L228 1097zM213 1162L210 1165L206 1163L209 1160zM234 1223L230 1226L226 1227L229 1224zM218 1117L217 1125L212 1132L214 1124zM225 1134L220 1141L214 1145L219 1139zM232 1222L227 1217L226 1210L231 1215zM220 1202L218 1198L220 1194L222 1198zM211 1150L204 1152L198 1152L204 1150zM270 1165L270 1169L266 1170L267 1166zM256 1184L253 1181L254 1177L256 1180zM205 1119L203 1125L197 1127L199 1121zM252 1166L247 1159L246 1150L252 1157zM212 1196L207 1199L202 1198L206 1194zM261 1085L255 1080L252 1072L259 1077zM216 1140L215 1146L211 1152L212 1145zM238 1077L232 1077L227 1073L233 1073zM233 1132L234 1126L237 1120L236 1127zM206 1210L203 1214L199 1217L202 1213zM253 1215L247 1213L245 1207L251 1210zM217 1142L220 1135L226 1129L223 1137zM223 1232L217 1228L215 1221L221 1225zM228 1175L222 1171L218 1166L224 1170zM231 1164L227 1162L227 1157L231 1160zM263 1178L258 1183L251 1184L256 1179zM228 1152L224 1161L217 1166L220 1157zM206 1106L199 1101L196 1093L202 1099zM265 1147L263 1155L257 1161L259 1153zM231 1230L227 1232L223 1230L227 1229zM258 1186L251 1187L245 1184L252 1182zM213 1185L206 1191L199 1195L205 1189zM221 1179L215 1183L208 1186L214 1181zM247 1186L242 1180L240 1173L245 1178zM225 1116L217 1118L209 1117L217 1115zM235 1176L231 1181L225 1184L229 1179zM239 1183L233 1178L230 1171L237 1175zM252 1093L246 1096L240 1098L245 1094zM229 1193L224 1194L219 1191L225 1190zM240 1187L246 1183L253 1182L247 1186zM257 1145L253 1144L252 1140L256 1140zM219 1122L217 1125L212 1126L215 1122zM216 1059L213 1055L213 1050L216 1054zM249 1183L245 1178L246 1172L250 1177zM260 1208L257 1211L253 1209L256 1206zM210 1190L207 1184L207 1177L210 1183z"/>
<path fill="#486220" d="M370 1067L375 1071L380 1071L376 1067zM372 1065L373 1061L370 1058L370 1062zM306 1239L310 1239L312 1237L308 1236z"/>
<path fill="#536f25" d="M375 1062L375 1058L372 1056L372 1060zM376 1060L377 1056L374 1054L373 1057zM305 1247L310 1247L313 1244L308 1244zM307 1233L306 1230L302 1229L303 1232zM264 1279L270 1275L272 1269L266 1273zM259 1266L264 1263L266 1259L261 1261zM257 1261L262 1259L264 1255L259 1257zM255 1252L251 1250L247 1251L250 1253zM228 1293L223 1295L219 1300L224 1298zM216 1287L217 1284L215 1282L214 1284zM213 1285L209 1286L207 1290L211 1289zM348 1228L348 1222L344 1217L344 1223z"/>
<path fill="#5f7d29" d="M368 1069L369 1065L366 1061L365 1066zM380 1054L380 1051L377 1050L377 1053zM305 1244L303 1242L298 1242L301 1245zM262 1274L268 1271L270 1266L264 1269zM259 1266L254 1264L248 1265L253 1267zM256 1257L252 1255L247 1256L251 1258zM231 1295L225 1297L221 1302L227 1300zM222 1290L217 1291L214 1296L219 1295zM353 1230L345 1236L339 1244L347 1238z"/>
<path fill="#6c8b2f" d="M276 1055L267 1055L258 1059L267 1059zM366 1072L371 1076L377 1077L372 1073zM370 1067L371 1063L368 1060L368 1064zM306 1253L311 1252L313 1249L308 1250zM305 1250L310 1250L313 1246L308 1247zM306 1239L304 1236L300 1235L302 1238zM306 1236L305 1233L301 1232L302 1235zM261 1270L266 1267L268 1262L263 1265zM234 1297L235 1292L233 1288L232 1293zM231 1295L232 1291L230 1287L229 1291zM228 1293L229 1289L227 1286L226 1290zM222 1290L223 1287L221 1284L220 1287zM213 1285L214 1283L212 1281L210 1283z"/>
<path fill="#7a9b36" d="M276 1055L282 1049L283 1043L278 1048zM270 1046L262 1046L254 1050L262 1050zM261 1033L254 1033L248 1037L255 1037zM257 1029L251 1029L246 1032L252 1032zM419 1168L421 1165L418 1162L417 1165zM426 1163L429 1167L432 1167L430 1163zM431 1160L434 1158L432 1156L430 1158zM283 1179L282 1175L279 1172L279 1176zM376 1060L381 1062L385 1062L381 1059zM305 1250L302 1248L297 1248L300 1251zM305 1244L310 1245L312 1242L308 1242zM305 1241L303 1239L299 1238L301 1241zM307 1233L310 1234L312 1232L309 1230zM269 1287L261 1286L252 1289L260 1290zM267 1283L259 1282L251 1285L259 1285zM255 1252L259 1251L261 1248L256 1249zM216 1287L212 1288L209 1292L213 1291zM344 1227L337 1231L331 1239L339 1234zM331 1221L324 1224L320 1230L326 1227z"/>
<path fill="#88a940" d="M270 1046L275 1041L276 1035L271 1040zM413 1174L414 1170L411 1167L410 1171zM415 1172L420 1176L425 1176L420 1172zM419 1168L423 1172L427 1172L424 1168zM429 1161L431 1159L429 1157L427 1159zM283 1179L287 1181L292 1180L287 1178zM293 1165L296 1168L299 1168L296 1164zM295 1163L297 1161L294 1159L293 1161zM366 1072L367 1067L364 1063L363 1068zM372 1065L377 1068L382 1068L377 1064zM375 1062L379 1065L383 1065L379 1062zM378 1057L379 1054L376 1052L375 1055zM378 1057L382 1059L386 1058L382 1056zM307 1230L307 1227L304 1227L304 1229zM233 1000L233 996L229 995L229 998zM269 1287L274 1282L276 1276L271 1281zM262 1274L256 1273L249 1275L255 1276zM219 1288L220 1285L218 1283L217 1286zM353 1230L352 1223L348 1218L349 1224zM344 1227L344 1221L340 1216L340 1222zM335 1223L335 1218L332 1214L332 1219zM326 1219L321 1222L317 1228L322 1225zM322 1217L317 1219L313 1225L318 1223zM318 1215L319 1212L316 1209L315 1212z"/>
<path fill="#98b64d" d="M264 1037L257 1037L250 1041L257 1041zM424 1165L427 1168L431 1169L428 1165zM426 1163L428 1161L427 1158L425 1160zM281 1181L286 1184L291 1182L286 1180zM286 1174L290 1177L294 1176L290 1173zM293 1165L294 1162L292 1161L291 1163zM295 1163L297 1166L300 1165L298 1162zM305 1247L302 1245L297 1245L300 1248zM231 1004L231 1000L227 998L227 1001zM235 996L239 998L243 997L238 995zM264 1279L257 1277L250 1280L257 1281zM261 1270L255 1268L248 1270L254 1272zM237 1298L230 1301L226 1306L232 1304zM225 1292L220 1293L217 1298L222 1297zM339 1225L332 1229L328 1236L334 1232zM331 1221L331 1216L328 1212L328 1217zM322 1217L323 1213L320 1210L319 1214zM318 1215L313 1217L310 1222L314 1220z"/>
<path fill="#a7c35c" d="M267 1041L260 1042L252 1045L260 1045zM422 1166L425 1170L429 1170L426 1167zM287 1171L291 1174L295 1174L291 1171zM289 1169L290 1166L287 1164L287 1167zM368 1069L373 1073L379 1074L374 1070zM380 1054L384 1056L387 1055L383 1053zM382 1051L385 1053L388 1052L385 1050zM306 1236L310 1237L312 1234L308 1233zM307 1230L311 1231L313 1229L309 1228zM232 1173L238 1177L245 1178L239 1174zM229 1007L229 1003L225 1001L225 1005zM229 1007L235 1010L240 1009L234 1006zM231 1004L236 1006L241 1005L236 1002zM267 1283L272 1279L274 1273L269 1277zM237 1298L238 1294L236 1289L235 1294zM339 1225L339 1219L336 1215L336 1220zM335 1223L328 1227L324 1233L330 1230z"/>
<path fill="#b6cd72" d="M279 1059L270 1059L260 1063L270 1063zM257 1029L260 1025L260 1020L257 1024zM417 1170L418 1166L416 1163L415 1167zM422 1166L423 1163L421 1160L419 1163zM281 1181L280 1177L277 1174L277 1179zM382 1051L382 1048L379 1047L379 1050zM306 1253L302 1251L296 1252L300 1254zM305 1241L310 1242L312 1239L308 1239zM232 1173L232 1167L229 1163L229 1168zM236 1168L242 1172L248 1173L242 1169zM219 1025L218 1019L213 1015L214 1020zM223 1018L222 1013L218 1009L219 1014zM227 1011L233 1014L238 1013L233 1010zM233 1000L238 1002L242 1001L237 999zM257 1261L253 1259L247 1261L252 1263zM256 1257L261 1255L262 1251L258 1253zM234 1297L228 1299L223 1304L229 1302zM225 1292L226 1288L224 1285L223 1288zM219 1288L215 1290L212 1294L216 1293zM348 1228L341 1233L335 1241L343 1236z"/>
<path fill="#c4d787" d="M279 1059L285 1054L287 1047L282 1052zM254 1024L257 1021L256 1017L253 1020zM415 1172L416 1168L413 1165L412 1169zM417 1170L421 1174L426 1174L422 1170zM424 1165L426 1162L424 1159L422 1162zM429 1161L431 1165L434 1166L432 1162zM431 1160L433 1164L436 1164L435 1161zM291 1167L294 1170L298 1170L295 1167zM215 1189L216 1182L213 1175L212 1183zM228 1177L235 1182L242 1183L235 1178zM240 1164L240 1160L237 1156L236 1160zM240 1164L245 1168L251 1168L245 1164zM221 1021L220 1016L216 1012L217 1017zM221 1021L228 1025L235 1024L228 1021zM223 1018L230 1021L236 1020L229 1017zM225 1014L231 1017L237 1017L231 1014zM227 1011L227 1006L222 1004L223 1008zM326 1219L327 1215L324 1211L323 1216z"/>
<path fill="#d1dfa3" d="M274 1050L265 1050L256 1054L265 1054zM274 1050L278 1045L280 1039L275 1044zM267 1041L271 1037L272 1031L268 1036zM261 1033L264 1029L264 1024L261 1028zM413 1174L418 1178L423 1177L419 1174zM284 1176L284 1172L281 1170L281 1174zM291 1167L292 1164L290 1162L289 1165zM224 1181L231 1186L239 1188L232 1183zM235 996L235 993L231 992L231 995z"/>
<path fill="#dee7bf" d="M264 1037L268 1033L268 1027L264 1032zM254 1024L248 1024L243 1028L249 1028zM284 1176L289 1179L293 1178L288 1175zM286 1174L286 1170L283 1168L283 1171zM287 1171L288 1168L285 1166L285 1169zM289 1169L293 1172L296 1172L293 1169zM206 1197L207 1189L205 1181L203 1189zM211 1193L220 1200L230 1203L221 1196zM236 1168L236 1164L233 1160L232 1164zM225 1014L224 1010L220 1006L221 1011z"/>
<path fill="#e8eed4" d="M215 1189L224 1195L233 1198L224 1192zM219 1185L220 1179L217 1172L216 1179zM219 1185L227 1191L236 1193L228 1187zM224 1181L224 1175L221 1169L220 1176zM228 1177L228 1171L225 1166L225 1172z"/>
<path fill="#f1f4e5" d="M206 1197L216 1204L226 1208L217 1201zM211 1193L211 1186L209 1178L208 1186zM219 1025L226 1028L233 1028L226 1025z"/>
</g>
<polygon points="260.2153249272551,1185.9243452958294 256.5780795344326,1155.6139670223085 265.0649854510184,1136.215324927255 286.88845780795344,1128.9408341416101 306.28709990300683,1132.5780795344326 313.5615906886518,1148.3394762366634 311.13676042677014,1167.7381183317168 303.8622696411251,1182.2870999030067 289.31328806983515,1185.9243452958294 296.5877788554801,1196.8360814742969 364.48302618816683,1182.2870999030067 386.3064985451019,1145.9146459747817 396.00581959262854,1155.6139670223085 376.6071774975752,1191.9864209505336 311.13676042677014,1223.5092143549953 320.8360814742968,1259.8816682832203 388.7313288069835,1255.032007759457 412.9796314258002,1238.0581959262852 416.6168768186227,1213.8098933074684 454.2017458777886,1216.23472356935 444.50242483026193,1264.7313288069836 410.55480116391857,1259.8816682832203 391.1561590688652,1267.1561590688652 324.47332686711934,1284.1299709020368 320.8360814742968,1328.2618816682832 252.9408341416101,1328.2618816682832 240.81668283220176,1264.7313288069836 238.39185257032008,1230.7837051406402 244.45392822502424,1206.5354025218235" fill="#ffffff" stroke="none"/>
<g transform="translate(122,998) scale(0.242483)">
<path d="M45,380 L155,415" fill="none" stroke="#1a1a1a" stroke-linecap="round" stroke-linejoin="round" vector-effect="non-scaling-stroke" stroke-width="1.9" />
<path d="M155,415 L1318,65" fill="none" stroke="#1a1a1a" stroke-linecap="round" stroke-linejoin="round" vector-effect="non-scaling-stroke" stroke-width="1.9" />
<path d="M590,570 C620,545 700,530 760,555 C790,600 785,680 760,750 C740,770 700,775 690,775" fill="none" stroke="#1a1a1a" stroke-linecap="round" stroke-linejoin="round" vector-effect="non-scaling-stroke" stroke-width="1.9" />
<path d="M690,650 C670,660 670,700 690,705" fill="none" stroke="#1a1a1a" stroke-linecap="round" stroke-linejoin="round" vector-effect="non-scaling-stroke" stroke-width="1.9" />
<path d="M570,775 C520,830 490,900 480,960" fill="none" stroke="#1a1a1a" stroke-linecap="round" stroke-linejoin="round" vector-effect="non-scaling-stroke" stroke-width="1.9" />
<path d="M700,780 C730,800 780,880 780,930" fill="none" stroke="#1a1a1a" stroke-linecap="round" stroke-linejoin="round" vector-effect="non-scaling-stroke" stroke-width="1.9" />
<path d="M720,820 L840,855" fill="none" stroke="#1a1a1a" stroke-linecap="round" stroke-linejoin="round" vector-effect="non-scaling-stroke" stroke-width="1.9" />
<path d="M1000,760 C1040,720 1080,670 1090,610" fill="none" stroke="#1a1a1a" stroke-linecap="round" stroke-linejoin="round" vector-effect="non-scaling-stroke" stroke-width="1.9" />
<path d="M1010,760 L1050,800" fill="none" stroke="#1a1a1a" stroke-linecap="round" stroke-linejoin="round" vector-effect="non-scaling-stroke" stroke-width="1.9" />
<path d="M780,930 C850,900 950,860 1050,800" fill="none" stroke="#1a1a1a" stroke-linecap="round" stroke-linejoin="round" vector-effect="non-scaling-stroke" stroke-width="1.9" />
<path d="M820,1080 C900,1070 1000,1060 1100,1060" fill="none" stroke="#1a1a1a" stroke-linecap="round" stroke-linejoin="round" vector-effect="non-scaling-stroke" stroke-width="1.9" />
<path d="M1080,1060 L1110,1110" fill="none" stroke="#1a1a1a" stroke-linecap="round" stroke-linejoin="round" vector-effect="non-scaling-stroke" stroke-width="1.9" />
<path d="M1215,890 L1370,900 L1330,1100 L1190,1080" fill="none" stroke="#1a1a1a" stroke-linecap="round" stroke-linejoin="round" vector-effect="non-scaling-stroke" stroke-width="1.9" />
<path d="M1215,980 C1250,970 1290,980 1300,1000" fill="none" stroke="#1a1a1a" stroke-linecap="round" stroke-linejoin="round" vector-effect="non-scaling-stroke" stroke-width="1.9" />
<path d="M1230,1030 C1260,1025 1290,1030 1295,1045" fill="none" stroke="#1a1a1a" stroke-linecap="round" stroke-linejoin="round" vector-effect="non-scaling-stroke" stroke-width="1.9" />
<path d="M1240,1060 C1270,1060 1290,1065 1290,1075" fill="none" stroke="#1a1a1a" stroke-linecap="round" stroke-linejoin="round" vector-effect="non-scaling-stroke" stroke-width="1.9" />
<path d="M640,560 C680,545 720,540 760,565" fill="none" stroke="#1a1a1a" stroke-linecap="round" stroke-linejoin="round" vector-effect="non-scaling-stroke" stroke-width="1.9" />
<path d="M750,580 L790,620" fill="none" stroke="#1a1a1a" stroke-linecap="round" stroke-linejoin="round" vector-effect="non-scaling-stroke" stroke-width="1.9" />
<path d="M760,600 L800,600" fill="none" stroke="#1a1a1a" stroke-linecap="round" stroke-linejoin="round" vector-effect="non-scaling-stroke" stroke-width="1.9" />
</g>
<clipPath id="jc5"><polygon points="621.3,1021.4 714.9,1021.4 740.9,1083.4 732.0,1083.4 715.8,1087.0 708.6,1104.8 697.7,1112.1 674.3,1101.4 651.0,1097.8 621.3,1094.2"/><polygon points="755.4,1021.4 943.0,1021.4 943.0,1198.1 875.0,1171.6 856.2,1164.4 850.6,1141.0 840.0,1122.9 820.2,1103.1 794.9,1101.4 802.2,1090.6 802.2,1074.4 794.9,1058.3 767.9,1051.1"/><polygon points="678.0,1158.8 683.3,1151.8 722.8,1148.2 759.0,1164.4 794.9,1157.2 856.2,1166.1 867.0,1176.9 870.6,1190.9 869.4,1210.2 802.2,1213.8"/></clipPath>
<g clip-path="url(#jc5)">
<g filter="url(#blur6)">
<path fill="#141f0d" d="M609 1009h13v13h-13zM621 1009h13v13h-13zM633 1009h13v13h-13zM609 1021h13v13h-13zM621 1021h13v13h-13zM633 1021h13v13h-13zM609 1033h13v13h-13zM621 1033h13v13h-13zM633 1033h13v13h-13z"/>
<path fill="#19260f" d="M645 1009h13v13h-13zM645 1021h13v13h-13zM645 1033h13v13h-13zM609 1045h13v13h-13zM621 1045h13v13h-13zM633 1045h13v13h-13zM609 1057h13v13h-13zM621 1057h13v13h-13zM633 1057h13v13h-13z"/>
<path fill="#1f2f11" d="M657 1009h13v13h-13zM657 1021h13v13h-13zM657 1033h13v13h-13zM645 1045h13v13h-13zM645 1057h13v13h-13zM609 1069h13v13h-13zM621 1069h13v13h-13zM633 1069h13v13h-13zM609 1081h13v13h-13zM621 1081h13v13h-13zM633 1081h13v13h-13z"/>
<path fill="#253814" d="M669 1009h13v13h-13zM669 1021h13v13h-13zM669 1033h13v13h-13zM657 1045h13v13h-13zM657 1057h13v13h-13zM645 1069h13v13h-13zM645 1081h13v13h-13zM609 1093h13v13h-13zM621 1093h13v13h-13zM633 1093h13v13h-13zM609 1105h13v13h-13zM621 1105h13v13h-13zM633 1105h13v13h-13z"/>
<path fill="#2d4217" d="M669 1045h13v13h-13zM669 1057h13v13h-13zM657 1069h13v13h-13zM657 1081h13v13h-13zM645 1093h13v13h-13zM657 1093h13v13h-13zM645 1105h13v13h-13zM609 1117h13v13h-13zM621 1117h13v13h-13zM633 1117h13v13h-13zM645 1117h13v13h-13zM609 1129h13v13h-13zM621 1129h13v13h-13zM633 1129h13v13h-13zM645 1129h13v13h-13zM609 1141h13v13h-13zM621 1141h13v13h-13zM633 1141h13v13h-13zM645 1141h13v13h-13zM609 1153h13v13h-13zM621 1153h13v13h-13zM633 1153h13v13h-13zM645 1153h13v13h-13zM609 1165h13v13h-13zM621 1165h13v13h-13zM633 1165h13v13h-13zM645 1165h13v13h-13zM657 1165h13v13h-13zM609 1177h13v13h-13zM621 1177h13v13h-13zM633 1177h13v13h-13zM645 1177h13v13h-13zM657 1177h13v13h-13zM669 1177h13v13h-13zM681 1177h13v13h-13zM693 1177h13v13h-13zM705 1177h13v13h-13zM717 1177h13v13h-13zM609 1189h13v13h-13zM621 1189h13v13h-13zM633 1189h13v13h-13zM645 1189h13v13h-13zM657 1189h13v13h-13zM669 1189h13v13h-13zM681 1189h13v13h-13zM693 1189h13v13h-13zM705 1189h13v13h-13zM717 1189h13v13h-13zM729 1189h13v13h-13zM609 1201h13v13h-13zM621 1201h13v13h-13zM633 1201h13v13h-13zM645 1201h13v13h-13zM657 1201h13v13h-13zM669 1201h13v13h-13zM681 1201h13v13h-13zM693 1201h13v13h-13zM705 1201h13v13h-13zM717 1201h13v13h-13zM729 1201h13v13h-13zM609 1213h13v13h-13zM621 1213h13v13h-13zM633 1213h13v13h-13zM645 1213h13v13h-13zM657 1213h13v13h-13zM669 1213h13v13h-13zM681 1213h13v13h-13zM693 1213h13v13h-13zM705 1213h13v13h-13zM717 1213h13v13h-13zM729 1213h13v13h-13zM609 1225h13v13h-13zM621 1225h13v13h-13zM633 1225h13v13h-13zM645 1225h13v13h-13zM657 1225h13v13h-13zM669 1225h13v13h-13zM681 1225h13v13h-13zM693 1225h13v13h-13zM705 1225h13v13h-13zM717 1225h13v13h-13zM729 1225h13v13h-13z"/>
<path fill="#344b19" d="M681 1009h13v13h-13zM681 1021h13v13h-13zM681 1033h13v13h-13zM681 1045h13v13h-13zM669 1069h13v13h-13zM669 1081h13v13h-13zM669 1093h13v13h-13zM657 1105h13v13h-13zM669 1105h13v13h-13zM657 1117h13v13h-13zM669 1117h13v13h-13zM657 1129h13v13h-13zM669 1129h13v13h-13zM657 1141h13v13h-13zM669 1141h13v13h-13zM657 1153h13v13h-13zM669 1153h13v13h-13zM681 1153h13v13h-13zM693 1153h13v13h-13zM705 1153h13v13h-13zM669 1165h13v13h-13zM681 1165h13v13h-13zM693 1165h13v13h-13zM705 1165h13v13h-13zM717 1165h13v13h-13zM729 1177h13v13h-13zM741 1189h13v13h-13zM753 1189h13v13h-13zM741 1201h13v13h-13zM753 1201h13v13h-13zM741 1213h13v13h-13zM753 1213h13v13h-13zM741 1225h13v13h-13zM753 1225h13v13h-13z"/>
<path fill="#3d561d" d="M681 1057h13v13h-13zM681 1069h13v13h-13zM681 1081h13v13h-13zM681 1093h13v13h-13zM681 1105h13v13h-13zM681 1117h13v13h-13zM693 1117h13v13h-13zM681 1129h13v13h-13zM693 1129h13v13h-13zM705 1129h13v13h-13zM681 1141h13v13h-13zM693 1141h13v13h-13zM705 1141h13v13h-13zM717 1141h13v13h-13zM717 1153h13v13h-13zM729 1165h13v13h-13zM741 1177h13v13h-13zM753 1177h13v13h-13z"/>
<path fill="#486220" d="M693 1093h13v13h-13zM693 1105h13v13h-13zM705 1105h13v13h-13zM705 1117h13v13h-13zM717 1117h13v13h-13zM717 1129h13v13h-13zM729 1129h13v13h-13zM729 1141h13v13h-13zM729 1153h13v13h-13zM741 1165h13v13h-13zM753 1165h13v13h-13zM765 1177h13v13h-13zM765 1189h13v13h-13zM837 1189h13v13h-13zM765 1201h13v13h-13zM837 1201h13v13h-13zM765 1213h13v13h-13zM837 1213h13v13h-13zM765 1225h13v13h-13zM837 1225h13v13h-13z"/>
<path fill="#536f25" d="M693 1009h13v13h-13zM693 1021h13v13h-13zM693 1033h13v13h-13zM693 1045h13v13h-13zM693 1057h13v13h-13zM693 1069h13v13h-13zM693 1081h13v13h-13zM705 1093h13v13h-13zM717 1105h13v13h-13zM729 1105h13v13h-13zM729 1117h13v13h-13zM741 1117h13v13h-13zM741 1129h13v13h-13zM741 1141h13v13h-13zM741 1153h13v13h-13zM765 1165h13v13h-13zM777 1189h13v13h-13zM825 1189h13v13h-13zM777 1201h13v13h-13zM825 1201h13v13h-13zM777 1213h13v13h-13zM825 1213h13v13h-13zM777 1225h13v13h-13zM825 1225h13v13h-13z"/>
<path fill="#5f7d29" d="M705 1069h13v13h-13zM705 1081h13v13h-13zM717 1093h13v13h-13zM741 1105h13v13h-13zM921 1105h13v13h-13zM933 1105h13v13h-13zM945 1105h13v13h-13zM753 1117h13v13h-13zM765 1117h13v13h-13zM753 1129h13v13h-13zM765 1129h13v13h-13zM753 1141h13v13h-13zM765 1141h13v13h-13zM777 1141h13v13h-13zM789 1141h13v13h-13zM753 1153h13v13h-13zM765 1153h13v13h-13zM777 1153h13v13h-13zM789 1153h13v13h-13zM777 1165h13v13h-13zM789 1165h13v13h-13zM777 1177h13v13h-13zM837 1177h13v13h-13zM813 1189h13v13h-13zM849 1189h13v13h-13zM813 1201h13v13h-13zM849 1201h13v13h-13zM813 1213h13v13h-13zM849 1213h13v13h-13zM813 1225h13v13h-13zM849 1225h13v13h-13z"/>
<path fill="#6c8b2f" d="M705 1009h13v13h-13zM705 1021h13v13h-13zM705 1033h13v13h-13zM705 1045h13v13h-13zM705 1057h13v13h-13zM717 1081h13v13h-13zM921 1081h13v13h-13zM933 1081h13v13h-13zM945 1081h13v13h-13zM729 1093h13v13h-13zM741 1093h13v13h-13zM897 1093h13v13h-13zM909 1093h13v13h-13zM921 1093h13v13h-13zM933 1093h13v13h-13zM945 1093h13v13h-13zM753 1105h13v13h-13zM765 1105h13v13h-13zM777 1105h13v13h-13zM897 1105h13v13h-13zM909 1105h13v13h-13zM777 1117h13v13h-13zM789 1117h13v13h-13zM897 1117h13v13h-13zM909 1117h13v13h-13zM921 1117h13v13h-13zM933 1117h13v13h-13zM945 1117h13v13h-13zM777 1129h13v13h-13zM789 1129h13v13h-13zM801 1129h13v13h-13zM801 1141h13v13h-13zM801 1153h13v13h-13zM801 1165h13v13h-13zM789 1177h13v13h-13zM801 1177h13v13h-13zM813 1177h13v13h-13zM825 1177h13v13h-13zM849 1177h13v13h-13zM789 1189h13v13h-13zM801 1189h13v13h-13zM789 1201h13v13h-13zM801 1201h13v13h-13zM789 1213h13v13h-13zM801 1213h13v13h-13zM789 1225h13v13h-13zM801 1225h13v13h-13z"/>
<path fill="#7a9b36" d="M909 1009h13v13h-13zM921 1009h13v13h-13zM933 1009h13v13h-13zM945 1009h13v13h-13zM909 1021h13v13h-13zM921 1021h13v13h-13zM933 1021h13v13h-13zM945 1021h13v13h-13zM909 1033h13v13h-13zM921 1033h13v13h-13zM933 1033h13v13h-13zM945 1033h13v13h-13zM897 1045h13v13h-13zM909 1045h13v13h-13zM921 1045h13v13h-13zM933 1045h13v13h-13zM945 1045h13v13h-13zM885 1057h13v13h-13zM897 1057h13v13h-13zM909 1057h13v13h-13zM921 1057h13v13h-13zM933 1057h13v13h-13zM945 1057h13v13h-13zM717 1069h13v13h-13zM873 1069h13v13h-13zM885 1069h13v13h-13zM897 1069h13v13h-13zM909 1069h13v13h-13zM921 1069h13v13h-13zM933 1069h13v13h-13zM945 1069h13v13h-13zM729 1081h13v13h-13zM741 1081h13v13h-13zM861 1081h13v13h-13zM873 1081h13v13h-13zM885 1081h13v13h-13zM897 1081h13v13h-13zM909 1081h13v13h-13zM753 1093h13v13h-13zM765 1093h13v13h-13zM777 1093h13v13h-13zM849 1093h13v13h-13zM861 1093h13v13h-13zM873 1093h13v13h-13zM885 1093h13v13h-13zM789 1105h13v13h-13zM801 1105h13v13h-13zM813 1105h13v13h-13zM825 1105h13v13h-13zM837 1105h13v13h-13zM849 1105h13v13h-13zM861 1105h13v13h-13zM873 1105h13v13h-13zM885 1105h13v13h-13zM801 1117h13v13h-13zM813 1117h13v13h-13zM825 1117h13v13h-13zM837 1117h13v13h-13zM849 1117h13v13h-13zM861 1117h13v13h-13zM873 1117h13v13h-13zM885 1117h13v13h-13zM813 1129h13v13h-13zM909 1129h13v13h-13zM921 1129h13v13h-13zM933 1129h13v13h-13zM945 1129h13v13h-13zM813 1141h13v13h-13zM813 1153h13v13h-13zM813 1165h13v13h-13zM825 1165h13v13h-13zM861 1177h13v13h-13zM861 1189h13v13h-13zM861 1201h13v13h-13zM861 1213h13v13h-13zM861 1225h13v13h-13z"/>
<path fill="#88a940" d="M885 1009h13v13h-13zM897 1009h13v13h-13zM885 1021h13v13h-13zM897 1021h13v13h-13zM885 1033h13v13h-13zM897 1033h13v13h-13zM717 1045h13v13h-13zM873 1045h13v13h-13zM885 1045h13v13h-13zM717 1057h13v13h-13zM729 1057h13v13h-13zM873 1057h13v13h-13zM729 1069h13v13h-13zM741 1069h13v13h-13zM849 1069h13v13h-13zM861 1069h13v13h-13zM753 1081h13v13h-13zM765 1081h13v13h-13zM777 1081h13v13h-13zM789 1081h13v13h-13zM801 1081h13v13h-13zM813 1081h13v13h-13zM825 1081h13v13h-13zM837 1081h13v13h-13zM849 1081h13v13h-13zM789 1093h13v13h-13zM801 1093h13v13h-13zM813 1093h13v13h-13zM825 1093h13v13h-13zM837 1093h13v13h-13zM825 1129h13v13h-13zM837 1129h13v13h-13zM849 1129h13v13h-13zM861 1129h13v13h-13zM873 1129h13v13h-13zM885 1129h13v13h-13zM897 1129h13v13h-13zM825 1141h13v13h-13zM873 1141h13v13h-13zM885 1141h13v13h-13zM825 1153h13v13h-13zM837 1165h13v13h-13zM849 1165h13v13h-13zM861 1165h13v13h-13zM873 1165h13v13h-13zM873 1177h13v13h-13zM873 1189h13v13h-13zM873 1201h13v13h-13zM873 1213h13v13h-13zM873 1225h13v13h-13z"/>
<path fill="#98b64d" d="M717 1009h13v13h-13zM873 1009h13v13h-13zM717 1021h13v13h-13zM873 1021h13v13h-13zM717 1033h13v13h-13zM873 1033h13v13h-13zM729 1045h13v13h-13zM861 1045h13v13h-13zM741 1057h13v13h-13zM849 1057h13v13h-13zM861 1057h13v13h-13zM753 1069h13v13h-13zM765 1069h13v13h-13zM777 1069h13v13h-13zM789 1069h13v13h-13zM801 1069h13v13h-13zM813 1069h13v13h-13zM825 1069h13v13h-13zM837 1069h13v13h-13zM837 1141h13v13h-13zM849 1141h13v13h-13zM861 1141h13v13h-13zM897 1141h13v13h-13zM909 1141h13v13h-13zM921 1141h13v13h-13zM933 1141h13v13h-13zM945 1141h13v13h-13zM849 1153h13v13h-13zM861 1153h13v13h-13zM873 1153h13v13h-13zM885 1153h13v13h-13zM897 1153h13v13h-13zM885 1165h13v13h-13zM897 1165h13v13h-13zM909 1165h13v13h-13zM885 1177h13v13h-13zM897 1177h13v13h-13zM909 1177h13v13h-13zM921 1177h13v13h-13zM933 1177h13v13h-13zM945 1177h13v13h-13zM885 1189h13v13h-13zM897 1189h13v13h-13zM909 1189h13v13h-13zM921 1189h13v13h-13zM933 1189h13v13h-13zM945 1189h13v13h-13zM885 1201h13v13h-13zM897 1201h13v13h-13zM909 1201h13v13h-13zM921 1201h13v13h-13zM933 1201h13v13h-13zM945 1201h13v13h-13zM885 1213h13v13h-13zM897 1213h13v13h-13zM909 1213h13v13h-13zM921 1213h13v13h-13zM933 1213h13v13h-13zM945 1213h13v13h-13zM885 1225h13v13h-13zM897 1225h13v13h-13zM909 1225h13v13h-13zM921 1225h13v13h-13zM933 1225h13v13h-13zM945 1225h13v13h-13z"/>
<path fill="#a7c35c" d="M729 1009h13v13h-13zM861 1009h13v13h-13zM729 1021h13v13h-13zM861 1021h13v13h-13zM729 1033h13v13h-13zM861 1033h13v13h-13zM741 1045h13v13h-13zM849 1045h13v13h-13zM753 1057h13v13h-13zM765 1057h13v13h-13zM777 1057h13v13h-13zM813 1057h13v13h-13zM825 1057h13v13h-13zM837 1057h13v13h-13zM837 1153h13v13h-13zM909 1153h13v13h-13zM921 1153h13v13h-13zM933 1153h13v13h-13zM945 1153h13v13h-13zM921 1165h13v13h-13zM933 1165h13v13h-13zM945 1165h13v13h-13z"/>
<path fill="#b6cd72" d="M741 1009h13v13h-13zM849 1009h13v13h-13zM741 1021h13v13h-13zM849 1021h13v13h-13zM741 1033h13v13h-13zM849 1033h13v13h-13zM753 1045h13v13h-13zM765 1045h13v13h-13zM837 1045h13v13h-13zM789 1057h13v13h-13zM801 1057h13v13h-13z"/>
<path fill="#c4d787" d="M753 1009h13v13h-13zM765 1009h13v13h-13zM837 1009h13v13h-13zM753 1021h13v13h-13zM765 1021h13v13h-13zM837 1021h13v13h-13zM753 1033h13v13h-13zM765 1033h13v13h-13zM837 1033h13v13h-13zM777 1045h13v13h-13zM789 1045h13v13h-13zM801 1045h13v13h-13zM813 1045h13v13h-13zM825 1045h13v13h-13z"/>
<path fill="#d1dfa3" d="M777 1009h13v13h-13zM813 1009h13v13h-13zM825 1009h13v13h-13zM777 1021h13v13h-13zM813 1021h13v13h-13zM825 1021h13v13h-13zM777 1033h13v13h-13zM813 1033h13v13h-13zM825 1033h13v13h-13z"/>
<path fill="#dee7bf" d="M789 1009h13v13h-13zM801 1009h13v13h-13zM789 1021h13v13h-13zM801 1021h13v13h-13zM789 1033h13v13h-13zM801 1033h13v13h-13z"/>
<path fill="#253814" d="M694 1203L688 1201L681 1204L687 1205z"/>
<path fill="#2d4217" d="M690 1199L693 1196L694 1192L690 1195zM688 1196L692 1194L692 1190L689 1192zM683 1185L680 1184L676 1186L679 1187zM681 1182L684 1181L684 1179L681 1180z"/>
<path fill="#344b19" d="M684 1188L687 1186L687 1183L684 1185zM696 1206L689 1206L682 1208L689 1209zM696 1206L701 1202L703 1197L698 1201zM693 1199L687 1197L680 1199L686 1201zM690 1190L694 1189L696 1185L692 1186zM688 1186L693 1185L695 1181L690 1182zM687 1178L684 1175L680 1176L682 1178zM590 1191L589 1187L584 1185L585 1189z"/>
<path fill="#3d561d" d="M691 1201L686 1200L681 1203L686 1204zM691 1201L695 1199L696 1195L692 1197zM694 1203L699 1199L701 1194L696 1197zM691 1195L686 1193L680 1194L685 1196zM688 1186L685 1184L679 1185L683 1187zM637 1201L627 1208L619 1218L629 1211zM631 1199L630 1192L625 1185L626 1193zM625 1197L617 1204L611 1214L619 1207zM602 1192L596 1198L593 1206L599 1200z"/>
<path fill="#486220" d="M684 1188L681 1186L677 1188L680 1190zM683 1185L686 1184L686 1181L683 1182zM681 1182L679 1181L676 1183L678 1184zM699 1210L691 1210L683 1213L691 1213zM693 1199L697 1196L699 1191L694 1194zM692 1022L695 1014L694 1006L691 1014zM688 1018L678 1021L669 1027L679 1024zM675 1006L679 1000L678 994L675 1000zM668 997L671 993L671 987L668 992zM602 1192L600 1187L596 1184L597 1189zM596 1192L591 1197L588 1204L593 1199zM596 1192L594 1187L590 1184L591 1189z"/>
<path fill="#536f25" d="M688 1182L684 1179L679 1180L683 1183zM688 1018L691 1011L690 1003L687 1010zM671 1001L675 997L675 991L671 996zM625 1197L624 1190L619 1184L621 1191zM608 1193L606 1188L601 1184L603 1189z"/>
<path fill="#5f7d29" d="M693 1204L687 1203L682 1206L687 1207zM688 1196L684 1195L679 1197L684 1198zM687 1193L683 1192L678 1194L682 1195zM687 1193L690 1191L691 1188L687 1190zM699 1210L703 1206L705 1200L700 1204zM687 1178L691 1177L693 1174L689 1174zM766 1114L761 1112L755 1114L760 1116zM679 1010L683 1004L682 997L679 1003zM620 1196L618 1189L613 1184L615 1190zM614 1194L612 1188L607 1184L609 1190z"/>
<path fill="#6c8b2f" d="M693 1204L697 1201L697 1197L693 1200zM690 1199L685 1197L680 1200L685 1201zM685 1190L689 1189L689 1186L686 1187zM691 1195L696 1192L698 1188L693 1190zM690 1190L685 1188L679 1190L684 1192zM765 1111L769 1109L770 1105L766 1107zM759 1100L762 1098L762 1095L759 1097zM757 1097L754 1096L750 1099L754 1100zM757 1097L760 1096L760 1093L757 1094zM684 1014L674 1016L666 1022L675 1020zM631 1199L622 1206L615 1216L624 1209zM620 1196L612 1202L606 1211L614 1205zM608 1193L601 1199L597 1208L604 1202zM590 1191L585 1196L583 1203L588 1198z"/>
<path fill="#7a9b36" d="M685 1190L682 1189L678 1191L681 1193zM688 1182L692 1181L694 1178L689 1179zM763 1108L767 1106L768 1102L764 1104zM759 1100L755 1099L751 1102L755 1103zM684 1014L687 1007L686 1000L683 1007zM660 988L664 985L664 980L660 984zM788 1140L793 1143L798 1143L794 1139zM790 1137L790 1133L787 1130L787 1134zM798 1122L797 1119L794 1119L794 1122zM637 1201L636 1193L631 1186L632 1194zM614 1194L607 1201L602 1209L609 1203z"/>
<path fill="#88a940" d="M765 1111L760 1110L754 1112L759 1113zM763 1108L759 1107L754 1109L758 1110zM762 1105L758 1104L753 1107L757 1108zM762 1105L766 1103L766 1100L762 1102zM760 1103L756 1102L752 1104L756 1105zM756 1095L758 1093L758 1090L755 1092zM679 1010L671 1012L663 1017L671 1015zM664 993L667 989L667 984L664 988zM824 1090L833 1093L842 1093L832 1090zM828 1081L837 1083L844 1083L836 1080zM833 1072L830 1066L825 1063L827 1068zM792 1134L797 1137L801 1136L796 1133z"/>
<path fill="#98b64d" d="M760 1103L764 1101L764 1097L761 1099zM756 1095L752 1094L749 1096L752 1097zM754 1092L756 1091L756 1088L753 1090zM671 1001L664 1002L657 1007L664 1006zM668 997L661 998L654 1002L661 1001zM836 1062L842 1063L847 1061L841 1060zM838 1057L836 1053L831 1051L833 1055zM790 1137L795 1140L800 1139L795 1136zM795 1128L795 1125L791 1124L792 1127z"/>
<path fill="#a7c35c" d="M692 1022L682 1025L672 1032L683 1029zM675 1006L667 1007L660 1012L668 1011zM664 993L658 993L652 996L658 996zM660 988L655 988L649 991L655 991zM742 1037L738 1035L732 1037L737 1039zM831 1076L828 1071L823 1067L825 1073zM784 1144L785 1140L782 1136L781 1140zM795 1128L799 1130L803 1129L799 1127z"/>
<path fill="#b6cd72" d="M766 1114L770 1111L772 1107L767 1110zM754 1092L751 1091L748 1094L751 1095zM740 1032L736 1030L732 1032L735 1033zM740 1032L744 1030L745 1027L741 1028zM738 1026L734 1025L730 1027L734 1028zM824 1090L822 1083L816 1078L818 1084zM831 1076L838 1078L845 1077L838 1075zM835 1067L841 1068L847 1067L840 1065zM786 1142L787 1138L784 1134L783 1138zM794 1131L798 1134L802 1132L798 1130zM797 1125L800 1127L803 1125L799 1124zM798 1122L801 1124L803 1122L800 1120z"/>
<path fill="#c4d787" d="M733 1018L736 1017L735 1014L733 1016zM828 1081L826 1075L821 1071L823 1077zM838 1057L843 1058L848 1056L842 1055zM839 1052L844 1053L848 1051L843 1050zM784 1144L789 1149L795 1150L790 1145zM786 1142L791 1146L797 1146L792 1142zM788 1140L789 1135L786 1132L785 1136zM792 1134L792 1131L789 1128L789 1132zM794 1131L793 1128L790 1126L790 1130zM797 1125L796 1122L793 1121L793 1124z"/>
<path fill="#d1dfa3" d="M743 1040L748 1039L750 1035L745 1037zM741 1035L745 1033L747 1029L742 1031zM739 1029L743 1027L743 1024L740 1026zM738 1026L741 1025L741 1022L738 1023zM735 1021L732 1020L729 1022L732 1023zM735 1021L738 1020L738 1017L735 1018zM733 1018L731 1017L728 1019L730 1021zM826 1085L824 1079L819 1074L821 1081zM826 1085L835 1088L843 1088L834 1085zM835 1067L832 1062L827 1059L829 1064zM836 1062L834 1058L829 1056L831 1060zM839 1052L837 1048L832 1047L834 1051z"/>
<path fill="#dee7bf" d="M742 1037L746 1036L748 1032L744 1034zM741 1035L737 1033L732 1034L736 1036zM739 1029L735 1027L731 1029L735 1031z"/>
<path fill="#e8eed4" d="M736 1024L733 1022L730 1024L733 1026zM736 1024L740 1022L740 1019L736 1020zM833 1072L840 1073L846 1072L839 1070z"/>
<path fill="#f1f4e5" d="M743 1040L738 1038L733 1039L737 1041z"/>
<g filter="url(#blur3)" opacity="0.7"><path d="M790,1170 C820,1160 850,1165 868,1175 L866,1212 C840,1212 810,1200 790,1190 Z" fill="#7a807e"/><ellipse cx="825" cy="1176" rx="16" ry="3.5" transform="rotate(8 825 1176)" fill="#e4e8e8"/><ellipse cx="850" cy="1192" rx="12" ry="4" transform="rotate(10 850 1192)" fill="#2e3230"/><ellipse cx="812" cy="1192" rx="10" ry="3" fill="#d4d8d8"/><ellipse cx="845" cy="1205" rx="14" ry="3" fill="#484c4a"/></g>
</g>
<g filter="url(#blur3)">
<path d="M673,1141 L677,1061 L686,1061 L689,1141 Z" fill="#3e3020" opacity="0.9"/>
<path d="M917,1138 L918,1058 L922,1058 L924,1138 Z" fill="#6a5840" opacity="0.9"/>
</g>
<path fill="#10190b" d="M662 1094L658 1098L653 1098L657 1094zM721 1199L715 1199L712 1194L718 1195zM655 1145L658 1142L663 1141L660 1144zM662 1074L657 1070L654 1064L659 1068zM635 1045L632 1039L630 1033L634 1039zM642 1092L642 1099L637 1105L637 1098zM633 1060L629 1061L626 1059L630 1058zM673 1060L673 1056L676 1055L677 1059zM656 1099L654 1092L656 1086L658 1092zM690 1114L685 1115L680 1112L685 1111zM631 1065L632 1060L637 1057L635 1062zM654 1133L653 1137L650 1140L651 1136zM663 1047L664 1042L667 1038L667 1043zM665 1081L663 1078L664 1075L665 1078zM625 1081L619 1076L616 1070L621 1075zM662 1064L658 1064L654 1060L659 1060zM630 1143L627 1140L626 1136L630 1139zM655 1014L654 1021L650 1027L651 1020zM724 1169L723 1173L719 1176L720 1171zM625 1045L619 1044L615 1040L620 1041zM680 1218L675 1217L672 1213L677 1214zM646 1031L643 1037L637 1041L640 1035zM636 1023L636 1027L633 1029L633 1025zM660 1063L657 1070L652 1075L655 1068zM641 1224L636 1218L634 1210L639 1216zM654 1021L651 1024L648 1024L650 1021zM684 1190L681 1187L680 1182L683 1186zM660 1066L657 1072L651 1074L654 1069zM628 1196L623 1190L623 1183L628 1188zM658 1121L658 1125L656 1126L655 1123zM637 1087L631 1088L625 1086L631 1086zM622 1055L619 1051L619 1046L622 1050zM666 1156L664 1158L660 1156L663 1154zM657 1161L655 1157L655 1153L657 1157zM615 1044L618 1040L622 1038L619 1042zM695 1160L692 1166L685 1169L688 1163zM631 1081L627 1081L624 1078L628 1077zM632 1193L633 1189L637 1188L636 1192zM661 1083L656 1088L650 1091L655 1086zM648 1102L641 1106L633 1106L640 1102zM635 1036L629 1034L624 1029L631 1031zM653 1150L648 1153L641 1153L647 1150zM642 1064L646 1061L652 1061L647 1064zM726 1176L721 1177L716 1176L721 1175zM715 1176L710 1174L708 1169L713 1171zM629 1077L632 1071L638 1067L635 1073zM630 1160L633 1155L639 1153L636 1159zM664 1035L661 1036L658 1033L662 1032zM659 1152L659 1156L657 1158L656 1155zM695 1045L689 1041L686 1034L692 1038zM667 1192L664 1198L658 1200L661 1194zM674 1119L669 1118L666 1115L671 1115zM652 1077L646 1080L638 1080L645 1077zM678 1064L681 1061L686 1061L683 1064zM646 1068L642 1062L640 1055L644 1061zM641 1216L637 1219L633 1216L637 1214z"/>
<path fill="#141f0d" d="M686 1142L683 1146L678 1146L681 1143zM717 1143L711 1140L707 1133L714 1137zM652 1188L650 1192L647 1194L648 1190zM665 1189L658 1190L651 1188L658 1187zM638 1103L640 1098L644 1095L642 1100zM642 1136L636 1136L633 1131L639 1131zM705 1160L710 1155L716 1151L711 1157zM634 1051L627 1050L621 1047L628 1048zM642 1112L638 1117L632 1119L636 1114zM663 1069L664 1066L666 1064L665 1067zM638 1143L633 1147L628 1148L632 1144zM720 1186L717 1185L715 1182L719 1183zM664 1026L659 1023L660 1019L664 1021zM647 1072L641 1072L635 1070L641 1070zM670 1179L673 1173L678 1170L675 1175zM704 1215L697 1213L692 1208L699 1210zM688 1161L687 1156L690 1153L691 1157zM715 1163L712 1163L710 1160L713 1160zM741 1191L733 1188L727 1183L735 1186zM686 1138L685 1134L687 1132L687 1135z"/>
<path fill="#19260f" d="M635 1168L638 1164L643 1162L640 1166zM660 1166L656 1164L652 1160L657 1162zM634 1012L632 1019L626 1024L629 1017zM664 1063L658 1066L651 1066L657 1063zM760 1172L752 1171L745 1166L753 1167zM659 1184L660 1181L664 1179L663 1183zM700 1096L698 1093L700 1090L702 1093zM660 1132L659 1128L661 1124L661 1128zM687 1146L683 1153L677 1158L680 1151zM635 1096L631 1101L624 1101L629 1097zM716 1154L709 1151L706 1145L712 1148zM690 1185L687 1183L687 1179L689 1182zM688 1146L685 1145L683 1142L687 1142zM666 1074L663 1080L656 1084L660 1078zM683 1172L678 1173L674 1171L679 1170zM675 1173L670 1175L664 1175L669 1173zM638 1127L634 1128L630 1126L634 1125zM672 1176L669 1181L664 1183L666 1178zM672 1049L668 1049L666 1046L670 1046zM640 1169L635 1164L633 1158L638 1162zM701 1108L699 1105L700 1101L702 1104zM685 1066L691 1062L697 1062L692 1066zM634 1181L630 1184L625 1186L629 1183zM640 1164L638 1167L635 1168L636 1165zM642 1189L637 1184L633 1177L639 1183zM648 1156L644 1157L640 1156L644 1155z"/>
<path fill="#1f2f11" d="M762 1172L760 1176L757 1178L758 1174zM659 1028L652 1029L646 1026L653 1024zM676 1067L672 1065L669 1061L674 1063zM614 1184L619 1179L626 1177L621 1182zM623 1160L623 1164L620 1167L620 1163zM679 1045L676 1043L677 1039L680 1041zM672 1038L664 1037L656 1035L664 1036zM757 1158L754 1156L753 1152L756 1154zM656 1076L661 1072L667 1070L662 1074zM619 1172L616 1171L614 1168L618 1169zM720 1159L714 1161L710 1157L715 1156zM650 1128L654 1124L660 1122L656 1126zM706 1051L703 1054L698 1055L701 1052zM836 1198L830 1200L824 1201L830 1198zM664 1044L656 1043L649 1040L657 1040zM675 1114L671 1113L667 1110L672 1111zM726 1114L719 1115L712 1113L719 1112zM660 1119L654 1119L648 1116L654 1116zM680 1073L678 1075L674 1074L677 1072zM647 1128L641 1129L634 1127L641 1126zM626 1047L621 1052L613 1053L619 1048zM634 1078L630 1076L630 1072L634 1073zM740 1146L743 1141L748 1138L746 1143zM694 1206L690 1205L686 1203L691 1203zM658 1120L652 1123L646 1121L652 1118zM705 1070L701 1072L699 1069L703 1067zM662 1191L662 1194L659 1196L660 1193zM705 1140L701 1143L697 1144L701 1141zM701 1038L697 1036L697 1032L701 1034zM644 1080L639 1079L635 1075L640 1076zM759 1148L756 1144L754 1138L758 1143zM778 1221L771 1219L766 1214L773 1217zM674 1026L671 1026L668 1024L671 1024zM759 1187L754 1181L751 1174L756 1180zM773 1204L770 1211L765 1215L768 1209zM743 1202L745 1199L748 1199L746 1201zM718 1207L718 1215L713 1222L713 1214zM612 1217L617 1214L622 1214L617 1217zM632 1195L630 1188L631 1180L633 1187z"/>
<path fill="#253814" d="M662 1079L662 1083L659 1086L658 1082zM842 1209L837 1203L833 1196L838 1202zM636 1022L633 1021L631 1017L635 1019zM698 1028L694 1031L689 1030L693 1027zM625 1129L624 1133L620 1133L621 1129zM675 1078L679 1071L683 1066L680 1072zM682 1057L681 1064L676 1069L677 1062zM705 1071L702 1068L702 1064L705 1067zM711 1085L708 1078L709 1070L712 1078zM636 1109L637 1103L640 1097L639 1103zM639 1022L635 1019L636 1013L640 1017zM671 1192L663 1190L658 1184L666 1186zM626 1205L621 1200L619 1194L624 1198zM689 1027L693 1024L698 1022L694 1026zM683 1184L683 1188L680 1191L680 1187zM754 1136L753 1140L750 1142L751 1138zM796 1149L800 1142L806 1137L803 1145zM933 1116L927 1113L922 1109L928 1112zM679 1132L679 1129L681 1126L681 1129zM667 1164L665 1169L659 1170L662 1165zM708 1085L704 1084L703 1080L707 1081zM685 1172L683 1178L678 1183L680 1176zM639 1167L635 1164L633 1159L637 1162zM650 1025L645 1020L641 1014L646 1019zM679 1024L684 1019L692 1017L686 1023zM681 1026L674 1023L670 1017L676 1020zM685 1135L684 1127L686 1119L687 1127zM631 1188L633 1182L639 1180L636 1185zM682 1202L678 1207L673 1209L676 1204zM684 1098L678 1096L673 1091L679 1094zM778 1177L779 1173L782 1171L781 1175zM944 1118L940 1119L937 1117L940 1116zM645 1069L641 1067L639 1062L644 1064zM636 1187L632 1191L626 1192L630 1188zM689 1104L682 1101L677 1095L684 1098zM666 1087L670 1083L675 1082L671 1085zM620 1146L617 1141L617 1135L619 1140zM700 1054L697 1053L697 1049L700 1050zM682 1018L682 1022L680 1025L679 1021zM686 1172L681 1170L679 1165L684 1167zM829 1206L824 1202L822 1195L827 1200zM720 1126L726 1121L732 1119L727 1123zM705 1149L703 1157L698 1164L700 1156zM646 1199L640 1197L637 1192L643 1194zM708 1072L704 1079L696 1082L701 1075zM636 1161L634 1168L628 1173L630 1166z"/>
<path fill="#2d4217" d="M782 1125L778 1132L774 1137L777 1131zM745 1133L740 1132L737 1128L742 1130zM769 1185L766 1188L762 1189L765 1186zM783 1220L785 1215L789 1212L788 1218zM832 1215L832 1212L834 1210L834 1213zM922 1129L918 1127L916 1122L921 1124zM694 1223L688 1218L684 1212L690 1216zM640 1161L633 1158L627 1152L634 1156zM854 1203L849 1198L847 1190L852 1196zM617 1151L615 1148L616 1144L619 1147zM766 1131L766 1125L769 1120L770 1126zM749 1188L744 1186L741 1182L746 1184zM648 1099L645 1105L640 1111L643 1104zM726 1120L723 1114L721 1108L725 1113zM842 1180L839 1183L834 1183L837 1179zM754 1099L751 1099L750 1095L754 1096zM786 1115L786 1118L784 1121L784 1118zM667 1181L662 1175L659 1167L665 1173zM682 1195L678 1194L676 1191L680 1191zM779 1148L786 1144L793 1144L787 1148zM659 1070L658 1076L654 1081L655 1075zM619 1175L616 1169L619 1163L621 1169zM796 1190L797 1183L800 1176L800 1184zM656 1178L652 1183L646 1185L650 1180zM686 1191L687 1195L684 1197L683 1193zM743 1165L739 1166L735 1163L740 1162zM670 1134L667 1129L665 1123L669 1128zM662 1126L656 1126L651 1123L657 1124zM650 1161L647 1163L644 1162L647 1160zM643 1197L647 1190L653 1185L650 1193zM928 1118L923 1120L918 1118L923 1115zM652 1206L645 1202L641 1195L648 1199zM625 1111L619 1108L614 1102L621 1105zM626 1083L623 1090L618 1096L621 1089zM653 1053L648 1050L646 1044L651 1048zM643 1123L636 1125L629 1122L636 1120zM652 1154L651 1162L648 1169L649 1161zM628 1215L624 1215L621 1212L625 1213zM703 1174L700 1174L699 1171L702 1171zM707 1141L703 1137L700 1131L705 1135zM677 1163L674 1170L667 1172L670 1166zM708 1115L714 1109L722 1107L716 1112zM651 1073L650 1078L647 1082L647 1077zM651 1053L644 1055L638 1053L645 1051zM698 1047L692 1041L688 1034L694 1039zM689 1039L685 1042L681 1043L684 1040zM788 1221L786 1215L786 1209L789 1215zM790 1223L785 1219L783 1212L789 1217zM725 1135L722 1140L717 1144L720 1138zM912 1124L911 1127L909 1129L909 1126zM829 1176L827 1181L823 1185L825 1180zM822 1158L817 1156L812 1153L818 1154zM656 1191L652 1186L650 1179L654 1184zM758 1123L755 1120L757 1116L760 1119zM708 1159L703 1160L700 1158L704 1156zM673 1113L668 1116L662 1116L667 1114z"/>
<path fill="#344b19" d="M717 1178L714 1181L709 1180L712 1177zM699 1092L693 1091L688 1087L694 1088zM918 1106L915 1103L915 1099L919 1102zM717 1053L713 1054L710 1053L713 1052zM683 1207L688 1201L695 1197L690 1203zM783 1196L781 1191L782 1186L784 1191zM655 1074L654 1071L654 1067L655 1070zM937 1108L932 1110L927 1109L932 1107zM943 1078L938 1082L932 1082L937 1078zM730 1160L733 1157L738 1157L735 1160zM666 1160L667 1164L664 1167L662 1163zM744 1166L739 1165L736 1162L740 1163zM819 1205L815 1200L815 1193L820 1198zM695 1204L693 1210L688 1213L690 1208zM688 1183L684 1190L677 1193L681 1187zM816 1134L810 1130L808 1123L814 1127zM670 1137L667 1141L662 1141L665 1138zM822 1223L825 1216L830 1210L827 1217zM633 1200L630 1193L629 1186L632 1193zM683 1130L687 1124L693 1121L689 1127zM638 1048L637 1055L632 1062L634 1054zM656 1177L652 1179L647 1177L652 1176zM901 1103L897 1108L890 1109L895 1104zM685 1161L681 1161L678 1160L681 1159zM722 1141L718 1136L718 1129L722 1134zM736 1112L736 1104L739 1098L739 1105zM676 1142L676 1149L672 1154L672 1148zM743 1179L740 1180L737 1178L740 1176zM764 1208L761 1211L756 1210L760 1207zM655 1203L652 1210L646 1214L649 1207zM762 1178L759 1185L754 1191L757 1184zM934 1123L933 1126L931 1128L931 1125zM782 1170L780 1175L776 1176L778 1172zM640 1100L634 1098L631 1094L636 1095zM681 1165L678 1173L671 1178L675 1170zM633 1198L631 1201L626 1202L629 1199zM883 1115L882 1112L885 1109L885 1113zM653 1175L649 1182L642 1185L646 1178zM929 1016L927 1021L922 1023L924 1018zM691 1054L686 1053L683 1049L688 1050zM712 1201L711 1207L706 1211L707 1205zM745 1171L744 1179L739 1185L740 1177zM635 1171L628 1174L620 1173L627 1170zM935 1101L932 1100L933 1097L936 1098zM665 1051L660 1051L657 1047L662 1047zM668 1209L662 1208L657 1203L664 1204zM875 1095L872 1096L869 1095L872 1094zM904 1117L909 1114L914 1113L909 1116zM772 1154L771 1158L768 1160L769 1157zM733 1170L730 1167L730 1163L734 1166zM743 1101L739 1094L738 1086L742 1093zM808 1208L802 1206L798 1201L804 1203zM798 1135L792 1140L785 1144L791 1139zM744 1214L742 1219L737 1220L739 1215zM689 1106L685 1108L680 1109L684 1106zM623 1213L619 1208L618 1202L622 1207z"/>
<path fill="#3d561d" d="M844 1120L840 1113L839 1106L843 1112zM636 1119L636 1114L639 1112L639 1116zM740 1183L735 1179L735 1173L739 1177zM684 1029L679 1030L675 1028L680 1027zM741 1183L738 1185L735 1183L738 1181zM900 1106L894 1100L893 1093L898 1098zM696 1129L693 1123L692 1116L695 1122zM801 1178L793 1180L785 1178L793 1176zM671 1127L665 1123L660 1118L666 1122zM734 1208L736 1202L741 1198L739 1205zM693 1207L686 1204L682 1198L689 1200zM684 1057L688 1053L694 1052L690 1056zM892 1111L890 1107L890 1103L892 1106zM882 1052L885 1049L891 1047L887 1051zM941 1041L938 1040L936 1037L939 1038zM731 1082L727 1079L726 1073L731 1077zM691 1116L689 1124L685 1131L687 1123zM688 1090L684 1086L682 1080L687 1084zM631 1090L636 1085L642 1082L637 1088zM709 1040L704 1042L699 1040L704 1039zM803 1134L806 1130L811 1129L808 1134zM900 1042L894 1048L887 1051L892 1044zM694 1100L689 1102L685 1100L690 1098zM901 1189L897 1187L897 1183L901 1185zM925 1058L921 1058L920 1054L924 1054zM642 1161L638 1166L632 1170L636 1165zM874 1205L871 1199L871 1193L875 1199zM752 1090L748 1091L745 1090L748 1089zM874 1092L867 1087L863 1080L870 1084zM645 1126L642 1125L640 1121L643 1123zM908 1213L907 1206L908 1200L910 1206zM729 1090L722 1087L719 1081L726 1083zM631 1090L627 1083L627 1076L630 1083zM619 1187L615 1185L614 1181L618 1182zM670 1066L670 1069L667 1071L668 1068zM700 1185L694 1184L691 1179L697 1180zM653 1178L651 1182L647 1185L649 1180zM894 1074L890 1073L889 1069L892 1071zM649 1038L645 1037L644 1034L647 1035zM833 1204L830 1202L828 1199L832 1200zM649 1051L649 1055L645 1058L646 1054zM702 1075L701 1078L696 1079L698 1075zM947 1121L942 1126L936 1130L940 1124zM877 1208L872 1210L867 1211L871 1208zM933 1046L929 1045L927 1041L931 1042zM760 1212L754 1207L751 1199L757 1205zM703 1049L703 1054L700 1056L699 1052zM912 1130L907 1134L901 1137L906 1132zM632 1189L630 1194L625 1195L627 1190zM666 1068L661 1064L657 1059L662 1063zM643 1200L640 1198L640 1195L644 1196zM904 1075L902 1080L898 1083L900 1078zM811 1135L813 1132L815 1130L814 1133zM614 1141L615 1135L620 1131L618 1137zM841 1177L839 1170L841 1162L842 1169zM935 1058L931 1056L929 1053L933 1055zM622 1183L617 1182L615 1177L620 1178zM752 1201L748 1199L748 1195L752 1197zM869 1130L863 1129L861 1123L867 1125zM922 1197L921 1204L918 1211L918 1203zM802 1186L799 1183L799 1179L803 1182zM813 1117L817 1114L822 1113L818 1116zM641 1166L635 1163L631 1157L637 1161zM714 1090L713 1093L710 1096L711 1092zM933 1059L929 1059L928 1056L932 1056zM695 1043L690 1044L685 1042L690 1042zM701 1039L695 1041L688 1039L694 1036zM683 1058L681 1053L682 1047L684 1053zM663 1185L658 1181L655 1176L660 1180zM813 1119L807 1117L805 1112L810 1114zM906 1194L903 1196L899 1194L903 1193zM752 1210L754 1206L757 1203L755 1207zM899 1051L897 1054L894 1056L895 1053zM703 1190L700 1195L696 1198L698 1193zM821 1182L816 1182L811 1180L816 1180zM712 1219L714 1215L717 1213L716 1217zM729 1179L725 1174L722 1168L726 1173zM832 1217L827 1211L825 1203L830 1209zM773 1187L768 1184L765 1178L771 1181zM643 1064L642 1068L639 1070L639 1066zM771 1198L763 1196L757 1192L764 1194z"/>
<path fill="#486220" d="M931 1079L925 1076L923 1071L929 1073zM741 1139L736 1139L731 1137L736 1136zM825 1110L821 1108L821 1104L825 1106zM765 1123L761 1117L761 1111L764 1117zM925 1124L919 1121L916 1115L922 1118zM620 1075L617 1076L613 1074L617 1074zM747 1104L741 1103L738 1099L743 1099zM786 1076L780 1077L774 1076L780 1075zM918 1191L918 1186L920 1181L920 1186zM791 1166L785 1167L780 1165L786 1164zM925 1041L921 1040L921 1036L924 1037zM937 1116L937 1121L933 1126L933 1120zM809 1134L805 1132L803 1127L808 1130zM861 1127L857 1128L854 1124L858 1124zM915 1116L909 1112L905 1107L911 1110zM924 1024L921 1027L917 1027L919 1023zM723 1216L718 1219L713 1217L718 1214zM724 1066L722 1063L722 1059L724 1062zM788 1205L783 1204L780 1201L784 1202zM943 1206L938 1210L931 1209L937 1206zM748 1213L745 1209L744 1204L748 1208zM647 1111L642 1106L637 1101L643 1105zM621 1053L621 1058L618 1061L617 1057zM840 1154L837 1159L832 1162L834 1156zM950 1068L945 1071L940 1069L945 1066zM841 1089L835 1094L828 1096L833 1091zM894 1061L886 1061L880 1057L887 1057zM805 1133L802 1126L803 1118L806 1125zM660 1140L657 1143L654 1141L657 1138zM858 1136L855 1135L854 1132L857 1134zM925 1027L918 1027L913 1023L920 1024zM819 1129L816 1134L812 1134L814 1130zM715 1051L710 1055L704 1056L709 1053zM846 1072L843 1069L844 1066L846 1068zM841 1159L835 1160L829 1158L835 1157zM877 1085L875 1087L872 1087L874 1085zM622 1151L618 1157L612 1161L616 1155zM932 1147L928 1145L928 1141L932 1143zM741 1195L737 1197L733 1194L737 1192zM859 1215L856 1210L856 1205L860 1209zM667 1113L664 1113L662 1112L665 1111zM619 1112L618 1115L615 1117L616 1114zM724 1057L720 1058L719 1055L722 1054zM748 1095L744 1096L739 1094L744 1094zM656 1060L662 1056L668 1056L663 1060zM748 1113L749 1105L752 1098L751 1106zM661 1117L655 1116L650 1111L656 1112zM880 1198L875 1195L874 1189L878 1192zM929 1072L926 1066L925 1060L928 1066zM926 1208L923 1204L923 1198L926 1203zM685 1155L682 1155L680 1152L683 1152zM680 1062L675 1061L674 1057L679 1058zM869 1087L865 1084L866 1079L870 1082zM662 1092L659 1096L654 1095L657 1091zM759 1086L752 1083L750 1076L756 1080zM780 1183L781 1180L784 1180L784 1183zM712 1175L712 1171L714 1168L715 1172zM866 1124L869 1119L874 1116L871 1121zM896 1152L899 1148L903 1149L900 1153zM791 1071L786 1076L781 1077L785 1073zM729 1105L725 1107L720 1107L724 1105zM665 1147L664 1142L666 1138L667 1142zM779 1175L777 1182L772 1187L774 1180zM668 1080L661 1079L657 1074L664 1075zM685 1168L678 1166L672 1162L679 1164zM930 1053L930 1058L926 1060L926 1056zM896 1036L889 1039L880 1037L888 1034zM878 1085L879 1089L875 1092L874 1088zM815 1198L809 1196L804 1191L810 1193zM896 1097L893 1099L889 1099L892 1097zM631 1169L634 1162L640 1159L638 1165zM889 1185L884 1184L883 1179L887 1180zM921 1024L921 1028L918 1030L918 1026zM770 1184L774 1181L779 1181L775 1184z"/>
<path fill="#536f25" d="M851 1216L846 1218L841 1215L846 1213zM672 1048L672 1045L676 1043L676 1047zM788 1142L788 1137L791 1135L791 1139zM953 1159L947 1160L941 1158L947 1157zM915 1122L909 1119L906 1112L912 1116zM662 1116L658 1112L657 1107L661 1111zM717 1114L722 1110L728 1108L723 1112zM717 1111L714 1105L713 1098L716 1104zM760 1081L758 1089L755 1096L757 1088zM758 1069L753 1062L752 1054L757 1061zM662 1042L657 1042L652 1039L658 1038zM729 1184L726 1188L722 1189L725 1185zM842 1145L835 1142L830 1135L838 1138zM889 1166L883 1172L875 1174L881 1168zM796 1143L796 1138L800 1134L800 1139zM635 1076L634 1081L632 1083L632 1079zM837 1190L838 1186L842 1184L841 1188zM675 1034L670 1039L663 1043L668 1037zM831 1089L823 1089L816 1087L824 1087zM899 1150L891 1151L883 1150L891 1149zM735 1011L731 1017L725 1021L729 1016zM714 1123L708 1122L702 1117L709 1118zM804 1065L800 1070L794 1072L798 1067zM762 1175L759 1170L759 1165L762 1169zM875 1124L873 1127L870 1129L872 1126zM780 1086L775 1087L770 1087L775 1085zM845 1083L842 1081L841 1078L844 1080zM660 1141L655 1141L651 1138L656 1138zM891 1192L885 1192L880 1189L886 1188zM859 1101L855 1102L852 1099L856 1098zM794 1127L795 1121L798 1115L797 1122zM769 1155L767 1161L762 1166L765 1160zM716 1118L712 1121L707 1121L711 1118zM868 1025L865 1028L862 1027L864 1024zM697 1130L691 1132L686 1129L692 1128zM650 1085L650 1090L647 1094L647 1089zM899 1124L894 1124L890 1121L895 1121zM823 1150L819 1149L818 1145L822 1146zM825 1194L824 1199L821 1203L822 1198zM898 1150L891 1147L884 1143L892 1145zM622 1095L620 1103L616 1110L618 1102zM730 1026L728 1029L724 1029L726 1026zM908 1204L906 1207L902 1206L904 1204zM713 1129L711 1135L705 1138L708 1132zM684 1195L687 1192L692 1192L688 1194zM874 1101L867 1101L863 1095L870 1096zM885 1073L880 1067L878 1061L882 1066zM893 1153L887 1157L880 1157L886 1152zM897 1039L895 1035L897 1031L899 1035zM760 1213L757 1213L756 1210L759 1210zM899 1083L897 1086L892 1087L895 1083zM933 1034L930 1039L926 1041L928 1036zM890 1205L883 1204L879 1200L885 1201zM633 1059L633 1062L629 1063L630 1060zM785 1205L780 1199L778 1192L782 1198zM818 1085L812 1082L806 1078L813 1081zM805 1194L805 1200L801 1204L801 1198zM648 1172L643 1177L635 1179L640 1173zM748 1216L753 1211L760 1210L755 1215zM932 1188L933 1192L930 1194L929 1190zM927 1139L928 1132L931 1125L930 1132zM919 1057L911 1055L905 1049L913 1051zM914 1100L912 1104L908 1107L910 1103zM619 1153L617 1149L618 1144L620 1148zM908 1056L903 1057L899 1055L904 1054zM853 1103L853 1110L848 1116L849 1109zM922 1175L920 1179L916 1178L918 1175zM922 1158L915 1153L912 1146L919 1150zM658 1132L658 1135L654 1136L655 1132zM692 1149L688 1151L684 1150L688 1149zM644 1199L641 1197L639 1194L642 1195zM622 1106L621 1109L618 1109L619 1106zM662 1048L659 1048L656 1045L659 1045zM944 1028L938 1032L931 1033L937 1029zM771 1071L770 1076L765 1077L766 1073zM888 1051L886 1045L886 1038L888 1044zM865 1060L861 1054L860 1046L864 1052zM817 1128L813 1134L806 1139L810 1132zM747 1091L744 1087L744 1082L747 1086zM815 1166L812 1163L813 1159L817 1162zM806 1210L802 1214L796 1214L800 1211zM829 1166L826 1168L823 1168L826 1166zM905 1189L900 1183L899 1175L904 1181z"/>
<path fill="#5f7d29" d="M924 1170L923 1177L919 1181L920 1175zM815 1147L809 1142L807 1134L812 1140zM771 1145L764 1145L758 1142L765 1142zM734 1140L730 1139L728 1134L733 1136zM848 1133L843 1132L840 1127L846 1128zM671 1121L667 1117L666 1110L671 1115zM724 1023L717 1022L710 1018L718 1019zM908 1145L908 1149L905 1151L904 1147zM643 1144L641 1148L637 1147L639 1143zM724 1182L717 1182L712 1178L719 1178zM730 1219L723 1216L717 1211L724 1214zM782 1197L775 1198L768 1196L775 1195zM727 1080L723 1081L721 1078L725 1077zM891 1039L895 1035L901 1033L897 1037zM843 1129L842 1135L837 1140L839 1134zM808 1141L805 1148L799 1152L801 1145zM783 1154L779 1149L777 1143L781 1148zM631 1090L628 1091L625 1089L628 1088zM833 1049L837 1046L842 1045L838 1049zM738 1059L734 1058L731 1055L735 1056zM944 1037L940 1044L933 1047L937 1041zM862 1182L860 1188L855 1192L857 1186zM648 1188L649 1196L645 1202L644 1194zM889 1189L883 1188L878 1184L884 1185zM763 1197L766 1193L770 1193L768 1196zM878 1136L871 1132L867 1126L873 1130zM867 1153L860 1155L853 1155L860 1152zM709 1221L707 1216L709 1212L711 1216zM687 1171L682 1169L679 1165L684 1167zM852 1052L854 1048L857 1048L856 1051zM703 1064L704 1067L700 1069L700 1065zM621 1186L617 1183L618 1178L621 1182zM646 1089L640 1084L638 1077L643 1082zM812 1203L804 1200L799 1193L807 1196zM721 1095L718 1102L712 1105L714 1098zM837 1110L831 1105L829 1098L835 1103zM647 1100L648 1094L651 1090L651 1096zM867 1155L859 1154L853 1150L860 1151zM651 1107L648 1112L643 1113L646 1109zM675 1142L672 1137L672 1130L675 1136zM847 1136L842 1141L834 1142L840 1138zM670 1087L664 1082L660 1075L666 1080zM685 1102L681 1095L682 1087L685 1094zM759 1065L753 1060L751 1052L757 1057zM664 1200L661 1202L658 1200L661 1199zM654 1188L654 1185L656 1183L656 1186zM935 1035L930 1033L927 1028L932 1031zM703 1055L705 1049L710 1047L708 1053zM778 1162L772 1166L766 1167L771 1163zM876 1136L873 1136L870 1134L874 1134zM759 1073L756 1076L751 1075L754 1072zM732 1120L731 1112L736 1105L736 1113zM637 1139L635 1136L636 1133L638 1136zM643 1157L636 1159L629 1156L636 1154zM735 1207L732 1214L725 1218L729 1211zM673 1138L669 1138L668 1135L672 1134zM945 1164L943 1161L942 1156L945 1160zM853 1072L849 1072L847 1069L851 1069zM908 1045L908 1053L903 1060L903 1052zM896 1076L891 1071L889 1065L893 1070zM679 1143L673 1140L671 1135L676 1138zM778 1158L773 1156L770 1151L775 1154zM783 1174L781 1180L777 1186L779 1179zM731 1108L726 1107L722 1105L727 1106zM743 1192L742 1187L744 1182L745 1187zM868 1027L863 1029L858 1028L863 1025zM840 1072L835 1075L830 1073L834 1071zM791 1137L784 1137L780 1133L786 1133zM710 1209L702 1211L694 1209L702 1207zM772 1112L772 1117L768 1120L768 1115zM950 1201L943 1203L937 1203L943 1201zM703 1020L698 1019L694 1015L699 1017zM935 1161L931 1164L927 1163L931 1160zM675 1176L668 1179L660 1178L667 1175zM879 1182L875 1180L873 1176L877 1178zM627 1117L629 1113L632 1109L630 1114zM806 1214L806 1217L804 1220L803 1216zM728 1073L723 1070L722 1064L727 1067zM822 1168L817 1161L817 1153L821 1160zM889 1059L888 1065L884 1070L885 1064zM738 1021L737 1028L732 1034L733 1027zM858 1122L859 1118L863 1115L862 1119zM781 1080L776 1083L770 1084L775 1080zM954 1103L946 1101L941 1095L949 1097zM891 1029L888 1026L888 1022L891 1025zM762 1062L755 1059L750 1053L757 1057zM925 1056L931 1053L937 1052L931 1055zM857 1158L855 1164L851 1168L853 1163zM638 1140L631 1143L624 1142L630 1139zM737 1211L731 1207L727 1201L733 1204zM666 1182L665 1178L665 1174L667 1178zM678 1172L675 1175L670 1178L674 1174zM841 1093L834 1088L830 1082L837 1086zM795 1173L799 1167L805 1163L801 1169zM707 1077L709 1070L715 1064L713 1072zM773 1121L769 1122L768 1118L772 1118zM911 1131L907 1132L904 1128L908 1128z"/>
<path fill="#6c8b2f" d="M742 1178L737 1176L735 1171L740 1173zM810 1137L805 1136L802 1132L807 1133zM733 1121L727 1124L721 1122L727 1120zM758 1040L756 1043L752 1044L754 1041zM667 1079L664 1076L662 1071L666 1074zM816 1190L810 1193L803 1194L809 1191zM815 1136L811 1143L804 1148L809 1141zM934 1021L927 1026L919 1029L926 1023zM826 1196L828 1189L833 1184L831 1191zM820 1086L814 1083L810 1079L815 1082zM620 1193L619 1201L616 1207L616 1200zM808 1197L802 1196L799 1190L805 1192zM754 1015L750 1018L745 1018L749 1015zM927 1187L923 1184L922 1178L926 1182zM905 1162L899 1164L895 1161L900 1160zM689 1088L688 1095L685 1101L685 1094zM772 1203L770 1200L770 1196L772 1199zM667 1138L661 1138L655 1135L661 1135zM711 1155L708 1154L707 1151L710 1152zM856 1170L857 1166L861 1165L860 1168zM908 1074L904 1070L905 1065L908 1069zM624 1153L622 1159L618 1163L620 1157zM721 1033L716 1034L710 1032L716 1031zM836 1222L835 1217L835 1211L836 1217zM928 1169L924 1162L923 1154L928 1161zM776 1049L776 1054L773 1058L772 1053zM669 1139L667 1141L664 1139L666 1137zM856 1134L849 1129L846 1121L853 1127zM867 1181L871 1177L875 1175L872 1179zM925 1168L930 1165L936 1164L931 1168zM811 1214L807 1210L807 1205L810 1208zM722 1100L716 1096L713 1090L718 1094zM816 1066L813 1069L809 1067L812 1065zM771 1099L768 1099L766 1096L769 1096zM905 1138L902 1143L897 1147L901 1142zM852 1030L847 1029L843 1026L848 1027zM877 1148L869 1148L863 1143L871 1144zM876 1141L872 1135L872 1127L876 1134zM769 1116L764 1113L763 1107L768 1110zM633 1158L630 1162L626 1164L628 1159zM874 1143L868 1144L863 1141L869 1140zM669 1211L666 1218L662 1224L664 1217zM673 1202L670 1196L671 1189L675 1195zM885 1197L887 1190L891 1184L888 1191zM806 1080L802 1079L801 1075L805 1076zM655 1106L658 1101L663 1098L661 1104zM766 1193L765 1200L761 1206L762 1199zM824 1106L821 1102L821 1097L823 1101zM845 1091L844 1095L842 1097L842 1094zM620 1207L618 1211L614 1213L616 1209zM681 1084L680 1089L676 1091L676 1086zM909 1133L906 1129L905 1124L908 1128zM888 1070L892 1063L899 1060L895 1067zM683 1048L679 1045L676 1041L680 1044zM780 1110L783 1103L789 1098L786 1106zM688 1153L683 1150L681 1145L686 1148zM693 1160L687 1156L685 1150L691 1153zM924 1054L918 1055L913 1052L919 1051zM863 1187L857 1187L851 1185L857 1184zM711 1149L707 1149L705 1146L709 1146zM942 1133L937 1130L934 1125L939 1128zM774 1216L766 1218L758 1216L766 1215zM690 1070L695 1064L702 1062L697 1067zM791 1221L788 1216L790 1211L793 1216zM924 1140L919 1139L917 1134L922 1135zM802 1185L799 1188L795 1188L798 1185zM946 1071L941 1071L938 1068L943 1068zM780 1098L773 1101L767 1099L773 1097zM844 1058L840 1058L837 1055L841 1055zM899 1092L893 1089L890 1084L896 1087zM948 1075L943 1074L942 1068L947 1070zM917 1173L912 1167L912 1159L917 1165zM823 1209L818 1208L817 1204L821 1205zM723 1133L719 1130L720 1126L724 1129zM735 1018L734 1024L730 1028L730 1022zM733 1039L730 1032L732 1026L735 1032zM701 1053L702 1050L705 1050L704 1053zM842 1119L838 1112L838 1104L842 1111zM809 1139L806 1135L808 1132L811 1135zM691 1139L690 1145L685 1148L686 1142zM927 1161L921 1165L914 1164L920 1161zM871 1043L867 1038L864 1033L869 1037zM912 1032L911 1026L913 1021L914 1026zM802 1140L795 1138L789 1133L797 1135z"/>
<path fill="#7a9b36" d="M929 1105L936 1101L944 1100L936 1104zM946 1039L940 1038L937 1033L943 1034zM780 1132L778 1136L774 1136L775 1132zM789 1101L783 1099L781 1094L786 1096zM796 1154L791 1156L788 1153L792 1151zM875 1040L870 1045L863 1046L868 1041zM841 1176L838 1180L833 1182L836 1178zM846 1203L846 1209L842 1214L843 1208zM843 1041L844 1045L841 1048L841 1044zM706 1037L704 1042L698 1046L701 1040zM902 1143L895 1140L890 1134L897 1138zM799 1206L797 1210L792 1211L794 1207zM869 1186L867 1189L864 1190L865 1187zM834 1183L832 1179L834 1175L836 1179zM757 1082L756 1090L750 1095L752 1087zM912 1028L907 1030L902 1028L907 1026zM881 1125L878 1128L873 1129L877 1125zM755 1080L752 1078L749 1075L753 1077zM907 1187L902 1181L899 1173L905 1179zM839 1146L831 1142L826 1136L834 1140zM950 1023L945 1024L940 1021L946 1020zM882 1049L877 1055L869 1057L875 1052zM774 1180L768 1178L764 1173L771 1174zM683 1062L677 1063L673 1058L679 1058zM951 1131L946 1127L941 1122L947 1126zM884 1160L875 1158L869 1152L878 1154zM853 1026L852 1029L848 1030L850 1027zM949 1031L946 1028L945 1024L948 1027zM886 1127L882 1133L875 1137L879 1131zM748 1118L745 1119L741 1118L745 1117zM709 1078L709 1082L706 1085L706 1081zM772 1034L767 1033L764 1029L769 1029zM900 1039L901 1044L897 1048L896 1042zM801 1117L797 1110L795 1104L799 1110zM840 1126L840 1130L837 1132L837 1128zM940 1217L943 1211L949 1206L945 1212zM779 1120L777 1125L772 1127L774 1122zM897 1211L895 1219L891 1225L892 1217zM761 1108L758 1113L754 1117L757 1112zM798 1180L801 1177L804 1177L802 1179zM874 1119L867 1117L861 1114L868 1115zM819 1155L821 1150L826 1146L823 1151zM757 1093L751 1097L743 1097L749 1093zM734 1182L729 1183L723 1181L729 1180zM925 1173L920 1168L919 1161L924 1166zM942 1209L934 1207L930 1202L937 1203zM886 1101L883 1106L877 1109L880 1103zM934 1197L929 1197L924 1195L929 1195zM877 1057L872 1061L865 1062L871 1059zM701 1022L697 1026L691 1027L695 1023zM673 1095L673 1090L677 1087L677 1092zM826 1153L824 1159L820 1163L821 1157zM700 1033L697 1037L693 1039L696 1035zM934 1201L933 1205L930 1208L931 1204zM726 1033L720 1031L716 1026L722 1028zM719 1017L716 1019L713 1019L715 1017zM742 1039L739 1032L740 1025L743 1032zM788 1134L784 1133L783 1129L786 1131zM908 1124L904 1121L904 1115L908 1119zM760 1024L757 1029L751 1032L754 1026zM907 1117L900 1115L894 1110L901 1112zM880 1091L875 1088L871 1083L876 1086zM794 1096L791 1100L787 1103L789 1099zM853 1030L851 1033L847 1035L849 1031zM831 1079L831 1072L835 1066L834 1073zM826 1040L822 1037L819 1032L823 1035zM883 1115L884 1111L888 1111L887 1115zM924 1024L921 1030L917 1035L920 1029zM826 1174L825 1177L822 1179L823 1176zM743 1097L740 1104L733 1108L736 1101zM746 1167L743 1172L737 1173L740 1168zM770 1158L764 1153L759 1147L765 1152zM689 1072L685 1073L682 1070L686 1069zM724 1101L720 1098L720 1093L723 1096zM710 1076L703 1072L698 1066L705 1070zM892 1207L889 1203L887 1198L891 1202zM732 1163L731 1169L728 1173L729 1168zM903 1105L900 1110L896 1112L898 1107zM930 1163L935 1160L941 1160L936 1164zM779 1099L774 1098L771 1093L776 1095zM894 1164L889 1159L886 1153L891 1158z"/>
<path fill="#88a940" d="M828 1030L823 1025L822 1018L827 1023zM693 1081L686 1082L680 1079L687 1078zM906 1152L900 1153L895 1150L901 1149zM930 1121L922 1122L915 1118L923 1118zM756 1053L750 1048L747 1040L754 1045zM807 1191L808 1194L805 1197L805 1193zM949 1096L945 1100L940 1100L944 1096zM755 1073L752 1072L750 1069L753 1070zM858 1082L857 1088L853 1092L854 1086zM795 1073L790 1078L783 1082L788 1076zM847 1188L848 1182L852 1178L851 1184zM838 1158L832 1155L827 1150L833 1153zM856 1114L855 1110L857 1106L859 1110zM881 1094L881 1102L876 1109L876 1101zM766 1039L762 1035L760 1029L765 1033zM703 1111L699 1110L697 1107L701 1107zM923 1139L916 1139L908 1136L916 1136zM764 1081L761 1087L754 1091L758 1085zM867 1213L859 1213L852 1210L860 1210zM890 1051L884 1055L878 1055L883 1052zM802 1201L799 1207L794 1211L797 1205zM906 1133L901 1129L899 1124L903 1128zM796 1161L792 1155L792 1148L796 1154zM737 1058L731 1058L726 1056L732 1056zM907 1050L906 1046L908 1044L909 1047zM743 1128L738 1128L734 1124L739 1124zM821 1216L818 1219L813 1218L816 1215zM814 1134L812 1139L808 1144L810 1138zM859 1136L853 1136L849 1133L854 1133zM798 1091L791 1093L784 1093L791 1091zM928 1066L924 1061L922 1055L926 1060zM711 1157L706 1152L706 1145L710 1150zM868 1219L872 1216L876 1215L872 1218zM835 1138L829 1140L824 1137L830 1135zM899 1064L903 1057L910 1053L906 1060zM770 1069L763 1067L759 1062L766 1063zM916 1186L908 1186L901 1182L909 1183zM889 1082L882 1078L876 1073L883 1077zM823 1167L823 1160L826 1154L826 1161zM946 1157L945 1161L942 1164L942 1159zM868 1095L864 1092L860 1088L865 1091zM803 1021L802 1027L799 1031L799 1025zM891 1144L894 1141L898 1141L895 1144zM847 1047L844 1044L844 1041L847 1043zM801 1026L794 1030L786 1030L793 1026zM910 1147L910 1151L906 1154L906 1150zM881 1032L876 1026L873 1018L879 1024zM814 1153L809 1149L806 1143L812 1147zM741 1136L735 1140L728 1143L734 1138zM769 1212L765 1218L758 1221L763 1216zM922 1096L922 1099L919 1102L920 1098zM864 1094L858 1093L855 1088L860 1089zM845 1142L846 1134L851 1129L850 1136zM892 1019L886 1024L878 1025L884 1020zM896 1046L891 1048L886 1049L890 1046zM920 1211L916 1211L914 1207L918 1208zM705 1098L706 1102L703 1104L702 1100zM832 1157L827 1157L824 1154L829 1153zM834 1020L831 1027L824 1032L827 1024zM794 1057L789 1052L787 1044L793 1049zM739 1125L732 1128L725 1127L732 1124zM810 1066L805 1061L803 1055L808 1059zM842 1158L839 1163L833 1164L836 1159zM796 1193L798 1189L803 1189L801 1193zM740 1121L734 1123L728 1122L734 1120zM869 1029L865 1024L867 1019L870 1023zM829 1168L831 1163L835 1160L833 1165zM753 1184L750 1190L745 1194L748 1188zM868 1052L864 1050L863 1046L867 1048zM803 1104L800 1110L796 1116L799 1109zM745 1087L741 1081L738 1073L743 1080zM706 1088L701 1082L700 1074L705 1081zM818 1128L815 1133L809 1134L812 1129z"/>
<path fill="#98b64d" d="M910 1171L906 1166L907 1160L911 1165zM818 1053L817 1049L820 1045L821 1050zM776 1173L771 1172L767 1168L772 1169zM912 1150L908 1144L907 1137L911 1143zM706 1097L704 1101L701 1101L703 1097zM862 1084L861 1088L858 1090L858 1086zM869 1147L863 1142L862 1136L867 1140zM706 1040L707 1036L711 1034L710 1038zM702 1055L698 1049L697 1042L701 1048zM900 1157L896 1160L891 1160L895 1158zM930 1200L925 1205L919 1207L924 1203zM806 1024L808 1020L811 1019L809 1023zM915 1190L912 1198L906 1202L909 1195zM861 1076L859 1073L859 1069L861 1072zM826 1104L825 1109L821 1113L822 1108zM710 1025L710 1021L714 1020L714 1024zM811 1045L805 1044L801 1040L807 1041zM926 1150L932 1146L940 1144L934 1149zM869 1139L863 1142L857 1143L863 1140zM940 1113L934 1109L930 1103L936 1107zM758 1159L754 1161L750 1161L754 1159zM735 1096L729 1099L723 1097L729 1094zM782 1033L776 1030L772 1025L778 1027zM802 1185L801 1190L797 1192L798 1188zM788 1158L787 1151L790 1143L790 1151zM854 1110L851 1114L846 1113L849 1109zM914 1107L907 1108L900 1105L907 1103zM735 1149L732 1151L730 1148L733 1146zM814 1105L808 1108L801 1108L807 1105zM863 1113L860 1110L861 1106L864 1109zM892 1084L889 1083L887 1080L890 1081zM804 1054L804 1060L800 1064L800 1058zM900 1095L897 1094L894 1091L898 1092zM700 1094L696 1097L690 1097L694 1093zM887 1198L882 1193L881 1187L886 1191zM823 1172L819 1169L817 1165L821 1168zM757 1067L756 1070L753 1073L755 1069zM890 1104L887 1103L887 1099L890 1100zM813 1176L810 1174L809 1170L812 1173zM742 1112L737 1109L735 1103L740 1106zM724 1064L721 1062L720 1059L722 1061zM900 1164L896 1165L894 1161L898 1160zM749 1045L745 1044L741 1041L746 1042zM740 1068L733 1063L730 1056L737 1061zM780 1027L773 1026L767 1021L775 1022zM934 1047L935 1043L939 1043L938 1047zM767 1169L764 1176L758 1180L761 1173zM883 1115L875 1113L870 1108L877 1110zM724 1024L726 1022L729 1021L727 1023zM941 1164L934 1159L931 1152L937 1157zM724 1123L730 1117L738 1115L732 1120zM794 1061L790 1065L785 1066L789 1062zM749 1149L747 1152L743 1152L745 1149zM875 1089L871 1089L867 1088L871 1087zM809 1088L809 1092L807 1094L806 1090zM857 1173L853 1172L850 1169L855 1169zM873 1033L876 1030L881 1030L878 1033zM890 1094L883 1091L878 1085L885 1088zM834 1027L831 1030L827 1032L830 1029zM814 1137L813 1143L809 1147L810 1141zM930 1148L922 1151L914 1149L922 1147zM856 1210L849 1208L844 1203L851 1205zM822 1163L824 1159L829 1157L827 1162zM710 1071L707 1073L704 1072L707 1070zM789 1184L785 1183L784 1179L788 1180zM810 1055L806 1055L802 1053L806 1053zM808 1045L801 1049L793 1049L800 1045zM761 1120L759 1123L756 1123L758 1121zM855 1068L850 1071L843 1071L849 1068zM779 1019L776 1018L773 1015L777 1016zM789 1146L783 1144L778 1140L784 1142zM927 1118L924 1117L921 1115L925 1115zM759 1100L764 1094L771 1093L766 1099zM858 1158L857 1163L854 1166L854 1161zM812 1133L808 1135L803 1133L808 1131zM787 1176L781 1177L776 1175L782 1174zM948 1072L940 1073L934 1070L941 1069zM910 1051L903 1053L896 1054L903 1052zM849 1084L849 1090L845 1095L846 1089zM825 1012L823 1019L818 1026L821 1018zM836 1127L832 1128L829 1126L833 1125z"/>
<path fill="#a7c35c" d="M891 1161L887 1164L882 1165L886 1162zM880 1164L877 1168L873 1169L875 1165zM838 1036L832 1035L828 1031L834 1031zM909 1209L906 1214L900 1217L904 1212zM948 1057L940 1059L932 1057L940 1055zM848 1107L844 1107L841 1104L845 1103zM946 1216L940 1212L938 1206L943 1210zM704 1029L701 1027L701 1024L704 1026zM793 1136L793 1133L795 1131L795 1134zM845 1071L844 1079L840 1086L841 1078zM752 1029L748 1029L746 1026L750 1025zM842 1070L836 1070L833 1066L838 1066zM935 1024L935 1021L936 1019L937 1022zM789 1051L788 1055L784 1057L785 1053zM933 1108L929 1106L931 1102L934 1104zM898 1088L891 1085L885 1079L893 1082zM868 1061L861 1065L853 1066L860 1062zM772 1097L766 1093L762 1088L768 1091zM713 1080L717 1076L722 1074L718 1078zM901 1121L900 1116L903 1111L904 1116zM831 1065L826 1062L823 1058L828 1061zM718 1100L714 1096L714 1091L717 1095zM894 1137L889 1133L889 1127L894 1131zM898 1048L893 1043L891 1037L895 1042zM830 1123L824 1125L817 1125L823 1123zM925 1092L921 1093L919 1090L923 1089zM709 1062L705 1060L705 1055L709 1057zM846 1020L839 1019L833 1016L840 1016zM893 1124L886 1121L883 1114L890 1117zM833 1086L829 1093L824 1097L827 1090zM920 1112L916 1115L910 1116L915 1112zM950 1198L946 1201L942 1199L946 1196zM847 1133L850 1131L853 1131L851 1133zM754 1095L753 1102L749 1107L750 1101zM860 1088L856 1092L850 1092L854 1088zM763 1054L763 1050L764 1046L765 1050zM922 1025L920 1031L915 1035L917 1029zM895 1051L896 1047L900 1045L898 1049zM801 1120L797 1118L795 1115L799 1116zM806 1192L802 1191L801 1187L805 1188zM954 1148L947 1150L939 1150L946 1148zM737 1086L733 1085L730 1082L734 1083zM884 1087L880 1090L875 1090L879 1087zM835 1083L834 1087L831 1088L832 1085zM875 1062L871 1061L871 1058L875 1058zM781 1092L777 1099L769 1101L774 1095zM901 1128L897 1128L895 1124L899 1125zM804 1163L806 1160L810 1159L808 1162zM936 1038L933 1034L934 1029L937 1033zM869 1212L865 1208L865 1203L869 1206zM946 1071L944 1063L944 1055L946 1063zM946 1068L942 1070L938 1069L942 1068zM851 1213L855 1210L859 1209L856 1212zM902 1183L898 1186L893 1186L897 1184zM863 1190L857 1193L851 1191L857 1188zM798 1038L794 1043L788 1046L792 1041zM786 1035L784 1038L780 1037L783 1034zM823 1118L815 1120L808 1119L815 1117zM762 1018L762 1025L758 1030L758 1023zM927 1156L925 1161L920 1162L922 1157zM833 1131L829 1130L827 1126L831 1127zM735 1096L729 1101L722 1103L728 1098zM870 1125L865 1125L862 1123L866 1123zM912 1091L909 1087L909 1083L912 1086zM763 1119L770 1114L778 1113L771 1117zM791 1187L788 1189L784 1189L787 1187zM845 1126L838 1128L831 1126L838 1124zM829 1033L830 1025L834 1018L833 1026zM844 1072L839 1070L835 1067L840 1069zM798 1056L796 1054L798 1050L800 1053zM888 1065L881 1061L877 1055L883 1059zM871 1128L868 1124L867 1119L870 1123zM730 1031L728 1023L728 1015L730 1023z"/>
<path fill="#b6cd72" d="M852 1103L852 1106L849 1107L849 1104zM911 1183L908 1179L908 1174L910 1178zM872 1057L867 1050L867 1042L871 1049zM827 1193L822 1191L819 1188L824 1189zM820 1057L813 1056L807 1050L815 1051zM876 1113L874 1109L875 1104L877 1108zM758 1080L752 1079L748 1075L754 1076zM846 1221L851 1217L857 1215L852 1219zM805 1035L801 1038L796 1039L800 1036zM821 1165L815 1162L809 1158L816 1161zM714 1078L711 1075L711 1071L715 1073zM952 1166L948 1168L944 1167L947 1166zM742 1081L742 1085L740 1088L740 1084zM770 1142L765 1138L766 1133L770 1136zM950 1114L945 1107L945 1099L950 1106zM887 1056L884 1063L878 1068L881 1061zM924 1212L925 1208L928 1204L927 1209zM937 1099L937 1105L934 1110L934 1104zM931 1086L929 1090L925 1091L927 1087zM815 1191L816 1197L812 1202L811 1196zM747 1024L741 1028L734 1030L740 1026zM898 1040L903 1037L908 1035L904 1039zM917 1031L911 1035L903 1034L910 1030zM830 1133L824 1128L821 1121L828 1126zM894 1035L889 1040L883 1041L888 1036zM848 1150L842 1154L835 1155L841 1150zM755 1028L750 1031L745 1029L750 1026zM946 1146L943 1153L936 1158L940 1151zM752 1076L744 1074L739 1068L747 1070zM814 1082L812 1085L807 1085L810 1081zM879 1113L872 1109L868 1103L875 1106zM806 1038L800 1039L794 1038L800 1036zM867 1045L863 1049L856 1050L861 1046zM876 1115L872 1111L871 1105L875 1109zM851 1193L846 1188L846 1182L850 1187zM905 1190L901 1186L899 1181L903 1185zM795 1189L798 1183L803 1178L800 1184zM840 1146L845 1142L851 1140L846 1144zM943 1169L941 1167L941 1163L944 1166zM911 1049L906 1045L904 1040L909 1044zM795 1030L789 1030L783 1027L790 1027zM806 1083L799 1084L793 1080L800 1079zM845 1113L841 1114L839 1110L843 1110zM782 1114L775 1114L768 1110L776 1110zM901 1111L895 1109L893 1104L899 1106zM911 1097L903 1096L896 1091L904 1092zM734 1068L731 1074L725 1078L729 1072zM800 1184L795 1187L789 1188L794 1185zM796 1113L789 1110L784 1104L791 1106zM925 1098L921 1097L920 1094L923 1094zM813 1141L808 1141L803 1139L808 1138zM717 1100L713 1102L709 1102L713 1100zM776 1064L771 1063L767 1059L772 1061zM799 1041L792 1042L785 1042L792 1040zM799 1143L797 1147L792 1147L795 1143zM820 1024L818 1026L815 1026L817 1024zM744 1047L740 1049L736 1047L740 1045zM811 1198L807 1199L803 1198L807 1196zM842 1054L839 1047L837 1039L841 1046zM932 1205L926 1202L923 1198L928 1201zM744 1099L740 1097L742 1094L745 1096zM770 1109L765 1109L762 1106L767 1105zM801 1110L800 1105L804 1100L805 1106zM918 1154L913 1155L909 1153L914 1152z"/>
<path fill="#c4d787" d="M816 1182L815 1188L811 1190L811 1185zM719 1048L714 1046L709 1042L715 1044zM947 1033L945 1038L940 1040L942 1035zM867 1052L863 1046L863 1039L867 1045zM864 1182L862 1184L859 1184L861 1181zM917 1166L915 1162L915 1157L918 1161zM902 1155L897 1149L895 1142L900 1147zM911 1107L908 1105L908 1102L911 1103zM814 1166L816 1163L820 1164L818 1167zM792 1104L787 1107L781 1107L786 1103zM789 1058L788 1062L785 1064L786 1060zM921 1013L921 1021L917 1027L917 1019zM765 1063L760 1068L752 1068L758 1063zM834 1181L829 1176L829 1169L834 1174zM789 1098L787 1095L787 1091L790 1094zM887 1144L883 1142L880 1137L885 1139zM919 1135L915 1132L915 1127L919 1130zM812 1097L813 1092L816 1089L816 1094zM801 1121L798 1122L796 1119L799 1118zM770 1077L764 1077L758 1074L764 1074zM862 1051L856 1049L852 1045L858 1046zM927 1050L925 1052L922 1053L924 1050zM830 1083L823 1081L816 1076L824 1078zM917 1055L913 1061L905 1065L910 1058zM904 1129L897 1129L893 1126L899 1125zM938 1193L943 1189L949 1190L945 1194zM867 1187L864 1184L864 1180L867 1183zM934 1151L934 1146L937 1141L936 1146zM716 1044L710 1042L706 1036L713 1038zM923 1156L919 1152L919 1147L923 1151zM804 1098L801 1101L796 1101L799 1098zM782 1139L778 1138L776 1134L780 1135zM947 1190L945 1194L941 1194L943 1190zM917 1087L915 1094L909 1100L911 1092zM776 1068L774 1071L770 1071L772 1068zM803 1215L798 1210L795 1204L800 1208zM906 1110L899 1109L893 1105L900 1106zM888 1186L883 1186L879 1184L884 1183zM721 1074L718 1077L713 1078L717 1075zM838 1095L833 1088L832 1081L836 1087z"/>
<path fill="#d1dfa3" d="M940 1177L936 1178L933 1175L937 1174zM820 1151L815 1151L811 1147L817 1147zM890 1153L883 1150L878 1145L885 1148zM826 1040L825 1047L821 1054L822 1047zM867 1186L868 1178L871 1171L871 1179zM836 1136L833 1135L832 1132L835 1133zM899 1054L893 1056L886 1055L893 1053zM876 1112L872 1112L869 1108L873 1108zM872 1035L865 1032L861 1026L868 1029zM766 1073L761 1066L760 1059L764 1065zM933 1164L933 1160L936 1157L936 1161zM888 1112L885 1118L878 1120L882 1114zM838 1026L832 1026L827 1023L833 1023zM815 1129L815 1123L819 1117L819 1124zM888 1036L885 1034L884 1030L888 1032zM756 1062L750 1058L748 1051L754 1055zM734 1042L733 1048L730 1053L731 1047zM892 1220L894 1217L898 1214L896 1218zM822 1083L814 1086L806 1086L814 1083zM899 1195L895 1195L892 1191L897 1192zM914 1149L917 1143L923 1142L920 1147zM777 1030L775 1035L771 1040L773 1034zM923 1052L919 1060L912 1064L916 1057zM866 1214L864 1216L861 1216L863 1213zM900 1150L905 1144L912 1142L907 1147zM940 1057L939 1051L942 1046L944 1052zM829 1015L828 1020L826 1023L826 1019zM783 1037L778 1041L773 1041L777 1037zM887 1203L880 1200L873 1196L881 1199zM771 1090L766 1087L764 1082L769 1085zM849 1169L851 1163L855 1159L853 1164z"/>
<path fill="#dee7bf" d="M906 1202L903 1201L903 1197L906 1199zM729 1022L723 1026L716 1027L722 1022zM814 1036L809 1039L802 1038L808 1035zM788 1073L785 1072L784 1068L788 1069zM767 1057L766 1064L762 1071L763 1063zM831 1133L829 1129L832 1125L834 1129zM855 1081L858 1077L863 1077L860 1081zM793 1029L791 1033L788 1034L790 1031zM897 1210L893 1217L888 1223L892 1216zM829 1042L822 1044L815 1042L822 1040zM928 1203L926 1205L923 1205L925 1203zM866 1065L858 1068L850 1069L858 1066zM834 1086L833 1083L834 1079L835 1083zM841 1025L840 1032L836 1038L837 1031zM859 1154L855 1150L855 1144L859 1148zM912 1202L906 1198L905 1191L910 1196zM882 1151L876 1149L872 1145L878 1147zM883 1150L887 1147L893 1147L889 1151zM798 1049L796 1057L790 1063L792 1055zM911 1189L910 1193L906 1196L908 1192zM846 1047L845 1053L842 1057L843 1052zM818 1097L812 1097L808 1093L814 1093zM820 1084L816 1083L816 1079L820 1080zM920 1147L918 1151L915 1154L916 1149zM917 1139L911 1139L906 1137L912 1137zM894 1022L895 1019L897 1017L897 1020zM768 1058L769 1054L773 1053L772 1057zM870 1042L866 1048L860 1053L864 1047zM917 1035L917 1031L920 1030L920 1034zM812 1073L811 1077L808 1078L809 1074zM823 1077L816 1080L809 1078L816 1076zM921 1211L915 1210L912 1206L917 1207zM763 1030L758 1029L757 1024L761 1026z"/>
<path fill="#e8eed4" d="M822 1048L821 1045L823 1042L824 1046zM829 1064L828 1068L826 1071L826 1067zM946 1165L945 1171L940 1174L941 1168zM808 1081L805 1084L801 1084L804 1081zM935 1141L932 1148L926 1152L929 1145zM921 1217L917 1214L914 1210L918 1213zM943 1199L937 1193L936 1185L942 1191zM840 1083L843 1079L847 1078L845 1083zM748 1029L744 1033L739 1035L743 1031zM743 1054L744 1051L747 1049L746 1053zM877 1153L879 1149L882 1147L881 1151zM916 1202L913 1207L908 1209L910 1204zM932 1182L933 1176L937 1171L936 1177zM921 1167L917 1163L917 1157L921 1162zM848 1057L848 1062L844 1064L844 1060zM833 1064L828 1058L828 1051L833 1057zM899 1181L903 1177L908 1176L904 1179zM738 1034L734 1027L732 1019L736 1026zM816 1076L812 1071L812 1065L815 1070zM778 1022L775 1020L773 1017L777 1019zM850 1148L847 1141L849 1134L852 1141zM861 1035L853 1036L846 1034L854 1032zM894 1025L889 1025L886 1022L890 1022zM831 1047L829 1053L826 1059L827 1052zM929 1149L922 1151L916 1150L922 1148z"/>
<path fill="#f1f4e5" d="M792 1037L789 1040L785 1042L788 1039zM851 1047L844 1045L841 1039L847 1041zM796 1039L793 1037L791 1033L794 1035zM854 1038L853 1042L851 1046L851 1042zM804 1043L805 1038L809 1035L808 1039zM839 1021L835 1021L832 1020L836 1019zM804 1032L797 1036L790 1037L797 1034zM753 1033L751 1038L746 1040L748 1035zM774 1040L769 1042L764 1040L769 1039zM817 1027L809 1027L802 1023L810 1024zM791 1043L790 1051L787 1058L788 1051zM776 1030L773 1037L767 1042L770 1035zM823 1042L821 1040L822 1037L824 1039zM853 1027L849 1023L850 1018L853 1021zM832 1041L826 1045L819 1049L825 1044zM912 1166L907 1160L907 1153L911 1159zM766 1040L759 1042L752 1041L759 1040zM763 1039L760 1044L755 1046L757 1041zM780 1041L777 1039L778 1035L781 1037z"/>
<path fill="#536f25" d="M756 1118L758 1126L764 1132L761 1124z"/>
<path fill="#5f7d29" d="M916 1095L918 1093L916 1091L914 1093zM746 1118L751 1114L753 1108L748 1112zM756 1118L761 1115L763 1110L758 1113zM779 1121L784 1121L786 1118L782 1118z"/>
<path fill="#6c8b2f" d="M925 1103L927 1100L925 1097L923 1100zM916 1095L912 1095L910 1098L913 1098zM751 1118L754 1126L760 1133L757 1124z"/>
<path fill="#7a9b36" d="M933 1108L927 1110L924 1115L929 1113zM928 1105L923 1106L919 1110L924 1109zM742 1119L747 1114L748 1108L743 1113zM760 1118L762 1126L767 1132L765 1124zM765 1118L770 1116L773 1112L768 1114zM770 1119L771 1126L775 1131L774 1124zM775 1120L780 1119L782 1116L777 1116z"/>
<path fill="#88a940" d="M930 1106L925 1108L921 1113L926 1111zM930 1106L932 1103L930 1099L928 1103zM923 1101L918 1101L915 1105L919 1105zM920 1099L916 1099L913 1103L917 1103zM883 1192L874 1195L866 1201L875 1199zM875 1186L878 1181L876 1175L874 1180zM919 1206L923 1214L929 1219L925 1211zM751 1118L756 1114L758 1109L753 1112zM770 1119L775 1117L778 1114L773 1115z"/>
<path fill="#98b64d" d="M871 1014L864 1011L855 1012L862 1015zM928 1105L929 1101L927 1098L926 1101zM925 1103L921 1104L917 1108L922 1107zM918 1097L914 1097L912 1100L915 1100zM871 1183L864 1185L858 1191L865 1189zM868 1180L870 1175L869 1170L866 1175zM864 1177L866 1173L865 1168L863 1172zM856 1171L851 1172L847 1176L852 1175zM915 1207L919 1215L925 1220L921 1212zM923 1205L928 1201L929 1196L924 1200zM923 1205L927 1212L932 1217L929 1210zM941 1202L942 1208L947 1212L945 1206z"/>
<path fill="#a7c35c" d="M872 1020L880 1016L884 1010L877 1014zM868 997L863 994L856 994L861 997zM825 1044L819 1042L813 1044L818 1046zM935 1109L937 1105L934 1101L933 1105zM933 1108L934 1104L932 1100L931 1104zM918 1097L920 1095L919 1092L916 1095zM868 1180L861 1182L855 1187L862 1185zM864 1177L858 1178L852 1183L859 1182zM853 1168L855 1165L853 1161L851 1164zM932 1204L936 1201L937 1196L933 1199zM941 1202L944 1200L945 1197L941 1199zM945 1202L949 1200L949 1197L946 1199zM742 1119L747 1128L754 1135L749 1126zM746 1118L750 1127L757 1134L753 1125zM760 1118L766 1115L768 1111L763 1113zM765 1118L766 1126L771 1131L770 1124zM775 1120L775 1126L778 1131L778 1125zM779 1121L779 1127L782 1132L782 1126z"/>
<path fill="#b6cd72" d="M874 1025L865 1023L855 1024L864 1027zM871 1014L878 1011L882 1006L875 1009zM870 1008L876 1006L881 1001L874 1003zM935 1109L930 1112L926 1117L931 1115zM923 1101L925 1098L923 1095L921 1098zM879 1189L871 1192L863 1198L872 1195zM879 1189L881 1183L880 1177L878 1183zM860 1174L854 1175L849 1180L855 1179zM910 1208L915 1203L916 1197L912 1202zM936 1203L938 1209L943 1213L941 1207zM815 1059L813 1055L809 1052L810 1056zM817 1053L817 1049L813 1047L814 1051zM822 1045L822 1042L819 1040L819 1043zM822 1045L826 1048L830 1047L826 1044zM827 1038L828 1035L826 1034L825 1036z"/>
<path fill="#c4d787" d="M876 1031L866 1029L856 1031L865 1032zM868 997L874 995L878 991L872 993zM867 985L872 985L876 981L870 982zM826 1048L831 1046L834 1041L829 1043zM822 1036L818 1034L812 1035L817 1037zM819 1027L823 1026L824 1023L820 1024zM883 1192L885 1186L884 1179L882 1186zM875 1186L867 1188L861 1194L868 1192zM815 1059L820 1061L825 1059L820 1057z"/>
<path fill="#d1dfa3" d="M874 1025L881 1021L886 1015L878 1019zM867 991L863 988L857 988L861 991zM831 1061L823 1059L815 1060L822 1062zM829 1056L835 1053L838 1048L832 1051zM821 1031L817 1030L812 1031L816 1033zM821 1031L825 1030L826 1026L822 1028zM920 1099L922 1097L921 1094L919 1096zM915 1207L919 1202L920 1197L916 1201zM919 1206L923 1202L925 1197L920 1200zM928 1204L930 1211L936 1216L933 1209zM936 1203L940 1201L941 1197L937 1199zM819 1051L823 1053L828 1052L823 1049zM820 1048L825 1050L829 1049L824 1047zM825 1040L826 1037L823 1036L823 1039zM825 1040L829 1043L832 1042L829 1039zM827 1038L830 1040L833 1040L830 1037zM834 1029L837 1023L837 1016L834 1022zM834 1029L841 1037L850 1042L843 1034zM839 1027L845 1035L853 1040L847 1032z"/>
<path fill="#dee7bf" d="M870 1008L863 1006L855 1006L862 1009zM867 991L873 990L877 986L871 987zM826 1048L820 1046L814 1048L819 1050zM825 1044L830 1042L832 1037L827 1040zM822 1036L826 1034L828 1030L824 1032zM871 1183L874 1178L872 1172L870 1178zM860 1174L862 1170L861 1166L859 1170zM853 1168L848 1169L844 1173L849 1172zM910 1208L915 1216L922 1222L917 1213zM928 1204L932 1201L933 1196L929 1200zM945 1202L946 1207L950 1210L949 1205zM816 1056L821 1058L826 1057L821 1055zM820 1048L820 1044L817 1042L817 1046zM848 1024L852 1032L859 1037L855 1029zM873 1021L874 1027L878 1031L877 1025z"/>
<path fill="#e8eed4" d="M872 1020L864 1017L855 1018L863 1021zM869 1003L863 1000L856 1000L861 1003zM869 1003L875 1001L879 996L873 998zM867 985L863 982L858 982L861 985zM823 1040L819 1038L813 1039L818 1041zM856 1171L858 1167L857 1163L855 1167zM932 1204L934 1210L940 1214L937 1208zM843 1025L847 1020L847 1014L844 1019zM863 1021L865 1028L870 1033L868 1026z"/>
<path fill="#f1f4e5" d="M876 1031L883 1026L888 1019L880 1024zM831 1061L837 1057L840 1052L834 1055zM829 1056L822 1055L815 1056L821 1058zM828 1052L821 1050L814 1052L820 1054zM828 1052L833 1049L836 1045L830 1047zM823 1040L828 1038L830 1034L825 1036zM819 1027L816 1025L811 1027L815 1029zM816 1056L815 1052L811 1050L812 1054zM817 1053L822 1056L827 1054L822 1052zM819 1051L818 1047L815 1045L815 1048zM824 1043L824 1040L821 1038L821 1041zM824 1043L827 1045L831 1044L827 1042zM839 1027L842 1021L842 1015L839 1021zM843 1025L849 1033L856 1038L851 1030zM848 1024L852 1019L853 1014L849 1018zM853 1022L857 1019L858 1013L854 1017zM853 1022L857 1030L863 1035L859 1027zM858 1022L862 1018L863 1014L859 1017zM858 1022L861 1029L866 1034L863 1026zM863 1021L867 1018L869 1014L864 1017zM868 1021L872 1019L874 1015L869 1017zM868 1021L870 1027L874 1032L872 1025zM873 1021L877 1019L879 1016L874 1017z"/>
<g filter="url(#blur3)" opacity="0.7"><path d="M790,1170 C820,1160 850,1165 868,1175 L866,1212 C840,1212 810,1200 790,1190 Z" fill="#7a807e"/><ellipse cx="825" cy="1176" rx="16" ry="3.5" transform="rotate(8 825 1176)" fill="#e4e8e8"/><ellipse cx="850" cy="1192" rx="12" ry="4" transform="rotate(10 850 1192)" fill="#2e3230"/><ellipse cx="812" cy="1192" rx="10" ry="3" fill="#d4d8d8"/><ellipse cx="845" cy="1205" rx="14" ry="3" fill="#484c4a"/></g>
</g>
<g transform="translate(609,998) scale(0.241138)">
<path d="M439,97 C470,180 520,290 547,354 C560,390 580,420 592,429" fill="none" stroke="#1a1a1a" stroke-linecap="round" stroke-linejoin="round" vector-effect="non-scaling-stroke" stroke-width="1.3" />
<path d="M607,97 C625,150 640,200 659,220 C700,235 750,240 771,250 C790,270 801,300 801,317 L801,384 C790,410 780,425 771,429 L660,430" fill="none" stroke="#1a1a1a" stroke-linecap="round" stroke-linejoin="round" vector-effect="non-scaling-stroke" stroke-width="1.3" />
<path d="M413,443 C420,400 430,375 443,369 C470,355 500,352 510,354 C530,360 540,370 547,354" fill="none" stroke="#1a1a1a" stroke-linecap="round" stroke-linejoin="round" vector-effect="non-scaling-stroke" stroke-width="1.3" />
<path d="M51,399 L174,414 C200,450 215,520 210,560 C205,600 180,640 150,670 L51,685" fill="none" stroke="#1a1a1a" stroke-linecap="round" stroke-linejoin="round" vector-effect="non-scaling-stroke" stroke-width="1.3" />
<path d="M174,414 L271,429 C310,450 345,465 368,473 C365,530 355,590 330,630 C315,650 300,665 250,690 L150,685" fill="none" stroke="#1a1a1a" stroke-linecap="round" stroke-linejoin="round" vector-effect="non-scaling-stroke" stroke-width="1.3" />
<path d="M368,473 C450,470 560,470 640,480 C700,490 760,520 800,560 L850,620" fill="none" stroke="#1a1a1a" stroke-linecap="round" stroke-linejoin="round" vector-effect="non-scaling-stroke" stroke-width="1.3" />
<path d="M308,638 C380,630 440,620 472,623 C530,640 580,680 622,690 C680,680 730,660 771,660" fill="none" stroke="#1a1a1a" stroke-linecap="round" stroke-linejoin="round" vector-effect="non-scaling-stroke" stroke-width="1.3" />
<path d="M876,436 C900,470 930,500 958,518 C980,550 1000,580 1002,593 C1015,640 1025,670 1025,690" fill="none" stroke="#1a1a1a" stroke-linecap="round" stroke-linejoin="round" vector-effect="non-scaling-stroke" stroke-width="1.3" />
<path d="M771,429 C800,430 850,430 876,436 L870,470" fill="none" stroke="#1a1a1a" stroke-linecap="round" stroke-linejoin="round" vector-effect="non-scaling-stroke" stroke-width="1.3" />
<path d="M1080,930 L1370,1030" fill="none" stroke="#1a1a1a" stroke-linecap="round" stroke-linejoin="round" vector-effect="non-scaling-stroke" stroke-width="1.3" />
<path d="M786,914 C800,890 900,880 1000,870 C1050,860 1080,830 1084,817 C1075,900 1065,980 1030,1040 C1010,1100 980,1150 960,1230 C900,1160 850,1120 830,1090 C800,1040 790,990 786,914 Z" fill="none" stroke="#1a1a1a" stroke-linecap="round" stroke-linejoin="round" vector-effect="non-scaling-stroke" stroke-width="1.3" />
<path d="M1030,1040 C950,1030 850,1010 800,990" fill="none" stroke="#1a1a1a" stroke-linecap="round" stroke-linejoin="round" vector-effect="non-scaling-stroke" stroke-width="1.3" />
</g>
<clipPath id="jc6"><polygon points="1057.3,1019.2 1366.8,1038.1 1366.8,1235.9 1057.3,1285.0"/></clipPath>
<g clip-path="url(#jc6)">
<g filter="url(#blur6)">
<path fill="#19260f" d="M1045 1211h13v13h-13zM1057 1211h13v13h-13zM1069 1211h13v13h-13zM1045 1223h13v13h-13zM1057 1223h13v13h-13zM1069 1223h13v13h-13zM1045 1235h13v13h-13zM1057 1235h13v13h-13zM1069 1235h13v13h-13zM1045 1247h13v13h-13zM1057 1247h13v13h-13zM1069 1247h13v13h-13zM1045 1259h13v13h-13zM1057 1259h13v13h-13zM1069 1259h13v13h-13zM1045 1271h13v13h-13zM1057 1271h13v13h-13zM1069 1271h13v13h-13zM1045 1283h13v13h-13zM1057 1283h13v13h-13zM1069 1283h13v13h-13zM1045 1295h13v13h-13zM1057 1295h13v13h-13zM1069 1295h13v13h-13z"/>
<path fill="#1f2f11" d="M1045 1187h13v13h-13zM1057 1187h13v13h-13zM1069 1187h13v13h-13zM1045 1199h13v13h-13zM1057 1199h13v13h-13zM1069 1199h13v13h-13zM1081 1211h13v13h-13zM1081 1223h13v13h-13zM1081 1235h13v13h-13zM1081 1247h13v13h-13zM1081 1259h13v13h-13zM1093 1259h13v13h-13zM1081 1271h13v13h-13zM1093 1271h13v13h-13zM1081 1283h13v13h-13zM1093 1283h13v13h-13zM1081 1295h13v13h-13zM1093 1295h13v13h-13z"/>
<path fill="#253814" d="M1045 1079h13v13h-13zM1057 1079h13v13h-13zM1069 1079h13v13h-13zM1081 1079h13v13h-13zM1045 1091h13v13h-13zM1057 1091h13v13h-13zM1069 1091h13v13h-13zM1045 1103h13v13h-13zM1057 1103h13v13h-13zM1069 1103h13v13h-13zM1045 1115h13v13h-13zM1057 1115h13v13h-13zM1069 1115h13v13h-13zM1045 1127h13v13h-13zM1057 1127h13v13h-13zM1069 1127h13v13h-13zM1045 1139h13v13h-13zM1057 1139h13v13h-13zM1069 1139h13v13h-13zM1045 1151h13v13h-13zM1057 1151h13v13h-13zM1069 1151h13v13h-13zM1045 1163h13v13h-13zM1057 1163h13v13h-13zM1069 1163h13v13h-13zM1045 1175h13v13h-13zM1057 1175h13v13h-13zM1069 1175h13v13h-13zM1081 1175h13v13h-13zM1081 1187h13v13h-13zM1081 1199h13v13h-13zM1093 1211h13v13h-13zM1093 1223h13v13h-13zM1093 1235h13v13h-13zM1093 1247h13v13h-13zM1105 1247h13v13h-13zM1105 1259h13v13h-13zM1117 1259h13v13h-13zM1105 1271h13v13h-13zM1117 1271h13v13h-13zM1105 1283h13v13h-13zM1117 1283h13v13h-13zM1105 1295h13v13h-13zM1117 1295h13v13h-13z"/>
<path fill="#2d4217" d="M1045 1055h13v13h-13zM1057 1055h13v13h-13zM1069 1055h13v13h-13zM1045 1067h13v13h-13zM1057 1067h13v13h-13zM1069 1067h13v13h-13zM1081 1067h13v13h-13zM1093 1079h13v13h-13zM1105 1079h13v13h-13zM1081 1091h13v13h-13zM1093 1091h13v13h-13zM1081 1103h13v13h-13zM1081 1115h13v13h-13zM1081 1127h13v13h-13zM1081 1139h13v13h-13zM1081 1151h13v13h-13zM1081 1163h13v13h-13zM1093 1163h13v13h-13zM1093 1175h13v13h-13zM1093 1187h13v13h-13zM1093 1199h13v13h-13zM1105 1211h13v13h-13zM1105 1223h13v13h-13zM1105 1235h13v13h-13zM1117 1247h13v13h-13zM1129 1259h13v13h-13zM1129 1271h13v13h-13zM1129 1283h13v13h-13zM1129 1295h13v13h-13z"/>
<path fill="#344b19" d="M1045 1007h13v13h-13zM1057 1007h13v13h-13zM1069 1007h13v13h-13zM1045 1019h13v13h-13zM1057 1019h13v13h-13zM1069 1019h13v13h-13zM1045 1031h13v13h-13zM1057 1031h13v13h-13zM1069 1031h13v13h-13zM1045 1043h13v13h-13zM1057 1043h13v13h-13zM1069 1043h13v13h-13zM1081 1055h13v13h-13zM1093 1067h13v13h-13zM1105 1091h13v13h-13zM1093 1103h13v13h-13zM1093 1139h13v13h-13zM1093 1151h13v13h-13zM1105 1163h13v13h-13zM1105 1175h13v13h-13zM1105 1187h13v13h-13zM1105 1199h13v13h-13zM1117 1223h13v13h-13zM1117 1235h13v13h-13zM1129 1235h13v13h-13zM1129 1247h13v13h-13zM1141 1247h13v13h-13zM1141 1259h13v13h-13zM1153 1259h13v13h-13zM1141 1271h13v13h-13zM1153 1271h13v13h-13zM1141 1283h13v13h-13zM1153 1283h13v13h-13zM1141 1295h13v13h-13zM1153 1295h13v13h-13z"/>
<path fill="#3d561d" d="M1105 1067h13v13h-13zM1105 1103h13v13h-13zM1093 1115h13v13h-13zM1093 1127h13v13h-13zM1105 1151h13v13h-13zM1117 1187h13v13h-13zM1117 1199h13v13h-13zM1117 1211h13v13h-13zM1129 1223h13v13h-13zM1141 1235h13v13h-13zM1153 1247h13v13h-13zM1165 1259h13v13h-13zM1165 1271h13v13h-13zM1165 1283h13v13h-13zM1165 1295h13v13h-13z"/>
<path fill="#486220" d="M1081 1007h13v13h-13zM1081 1019h13v13h-13zM1081 1031h13v13h-13zM1081 1043h13v13h-13zM1093 1055h13v13h-13zM1297 1067h13v13h-13zM1309 1067h13v13h-13zM1117 1079h13v13h-13zM1285 1079h13v13h-13zM1297 1079h13v13h-13zM1309 1079h13v13h-13zM1321 1079h13v13h-13zM1297 1091h13v13h-13zM1309 1091h13v13h-13zM1321 1091h13v13h-13zM1333 1103h13v13h-13zM1345 1103h13v13h-13zM1357 1103h13v13h-13zM1369 1103h13v13h-13zM1105 1115h13v13h-13zM1333 1115h13v13h-13zM1345 1115h13v13h-13zM1357 1115h13v13h-13zM1369 1115h13v13h-13zM1333 1127h13v13h-13zM1345 1127h13v13h-13zM1357 1127h13v13h-13zM1369 1127h13v13h-13zM1105 1139h13v13h-13zM1333 1139h13v13h-13zM1345 1139h13v13h-13zM1357 1139h13v13h-13zM1369 1139h13v13h-13zM1333 1151h13v13h-13zM1345 1151h13v13h-13zM1357 1151h13v13h-13zM1369 1151h13v13h-13zM1117 1163h13v13h-13zM1333 1163h13v13h-13zM1345 1163h13v13h-13zM1357 1163h13v13h-13zM1369 1163h13v13h-13zM1117 1175h13v13h-13zM1333 1175h13v13h-13zM1345 1175h13v13h-13zM1357 1175h13v13h-13zM1369 1175h13v13h-13zM1345 1187h13v13h-13zM1357 1187h13v13h-13zM1369 1187h13v13h-13zM1129 1211h13v13h-13zM1141 1223h13v13h-13zM1153 1235h13v13h-13zM1165 1247h13v13h-13zM1225 1247h13v13h-13zM1213 1259h13v13h-13zM1225 1259h13v13h-13zM1237 1259h13v13h-13zM1213 1271h13v13h-13zM1225 1271h13v13h-13zM1237 1271h13v13h-13zM1213 1283h13v13h-13zM1225 1283h13v13h-13zM1237 1283h13v13h-13zM1213 1295h13v13h-13zM1225 1295h13v13h-13zM1237 1295h13v13h-13z"/>
<path fill="#536f25" d="M1297 1043h13v13h-13zM1309 1043h13v13h-13zM1285 1055h13v13h-13zM1297 1055h13v13h-13zM1309 1055h13v13h-13zM1321 1055h13v13h-13zM1273 1067h13v13h-13zM1285 1067h13v13h-13zM1321 1067h13v13h-13zM1273 1079h13v13h-13zM1333 1079h13v13h-13zM1345 1079h13v13h-13zM1357 1079h13v13h-13zM1369 1079h13v13h-13zM1117 1091h13v13h-13zM1285 1091h13v13h-13zM1333 1091h13v13h-13zM1345 1091h13v13h-13zM1357 1091h13v13h-13zM1369 1091h13v13h-13zM1297 1103h13v13h-13zM1309 1103h13v13h-13zM1321 1103h13v13h-13zM1309 1115h13v13h-13zM1321 1115h13v13h-13zM1105 1127h13v13h-13zM1309 1127h13v13h-13zM1321 1127h13v13h-13zM1309 1139h13v13h-13zM1321 1139h13v13h-13zM1117 1151h13v13h-13zM1309 1151h13v13h-13zM1321 1151h13v13h-13zM1297 1163h13v13h-13zM1309 1163h13v13h-13zM1321 1163h13v13h-13zM1225 1175h13v13h-13zM1237 1175h13v13h-13zM1309 1175h13v13h-13zM1321 1175h13v13h-13zM1129 1187h13v13h-13zM1225 1187h13v13h-13zM1321 1187h13v13h-13zM1333 1187h13v13h-13zM1129 1199h13v13h-13zM1225 1199h13v13h-13zM1333 1199h13v13h-13zM1345 1199h13v13h-13zM1357 1199h13v13h-13zM1369 1199h13v13h-13zM1141 1211h13v13h-13zM1225 1211h13v13h-13zM1345 1211h13v13h-13zM1357 1211h13v13h-13zM1369 1211h13v13h-13zM1153 1223h13v13h-13zM1225 1223h13v13h-13zM1345 1223h13v13h-13zM1357 1223h13v13h-13zM1369 1223h13v13h-13zM1165 1235h13v13h-13zM1213 1235h13v13h-13zM1225 1235h13v13h-13zM1237 1235h13v13h-13zM1345 1235h13v13h-13zM1357 1235h13v13h-13zM1369 1235h13v13h-13zM1177 1247h13v13h-13zM1201 1247h13v13h-13zM1213 1247h13v13h-13zM1237 1247h13v13h-13zM1249 1247h13v13h-13zM1333 1247h13v13h-13zM1345 1247h13v13h-13zM1357 1247h13v13h-13zM1369 1247h13v13h-13zM1177 1259h13v13h-13zM1189 1259h13v13h-13zM1201 1259h13v13h-13zM1249 1259h13v13h-13zM1261 1259h13v13h-13zM1273 1259h13v13h-13zM1285 1259h13v13h-13zM1297 1259h13v13h-13zM1309 1259h13v13h-13zM1321 1259h13v13h-13zM1333 1259h13v13h-13zM1345 1259h13v13h-13zM1357 1259h13v13h-13zM1369 1259h13v13h-13zM1177 1271h13v13h-13zM1189 1271h13v13h-13zM1201 1271h13v13h-13zM1249 1271h13v13h-13zM1261 1271h13v13h-13zM1273 1271h13v13h-13zM1285 1271h13v13h-13zM1297 1271h13v13h-13zM1309 1271h13v13h-13zM1321 1271h13v13h-13zM1333 1271h13v13h-13zM1345 1271h13v13h-13zM1357 1271h13v13h-13zM1369 1271h13v13h-13zM1177 1283h13v13h-13zM1189 1283h13v13h-13zM1201 1283h13v13h-13zM1249 1283h13v13h-13zM1261 1283h13v13h-13zM1273 1283h13v13h-13zM1285 1283h13v13h-13zM1297 1283h13v13h-13zM1309 1283h13v13h-13zM1321 1283h13v13h-13zM1333 1283h13v13h-13zM1345 1283h13v13h-13zM1357 1283h13v13h-13zM1369 1283h13v13h-13zM1177 1295h13v13h-13zM1189 1295h13v13h-13zM1201 1295h13v13h-13zM1249 1295h13v13h-13zM1261 1295h13v13h-13zM1273 1295h13v13h-13zM1285 1295h13v13h-13zM1297 1295h13v13h-13zM1309 1295h13v13h-13zM1321 1295h13v13h-13zM1333 1295h13v13h-13zM1345 1295h13v13h-13zM1357 1295h13v13h-13zM1369 1295h13v13h-13z"/>
<path fill="#5f7d29" d="M1285 1007h13v13h-13zM1297 1007h13v13h-13zM1309 1007h13v13h-13zM1321 1007h13v13h-13zM1285 1019h13v13h-13zM1297 1019h13v13h-13zM1309 1019h13v13h-13zM1321 1019h13v13h-13zM1285 1031h13v13h-13zM1297 1031h13v13h-13zM1309 1031h13v13h-13zM1321 1031h13v13h-13zM1093 1043h13v13h-13zM1273 1043h13v13h-13zM1285 1043h13v13h-13zM1321 1043h13v13h-13zM1333 1043h13v13h-13zM1273 1055h13v13h-13zM1333 1055h13v13h-13zM1345 1055h13v13h-13zM1357 1055h13v13h-13zM1369 1055h13v13h-13zM1261 1067h13v13h-13zM1333 1067h13v13h-13zM1345 1067h13v13h-13zM1357 1067h13v13h-13zM1369 1067h13v13h-13zM1261 1079h13v13h-13zM1261 1091h13v13h-13zM1273 1091h13v13h-13zM1117 1103h13v13h-13zM1285 1103h13v13h-13zM1285 1115h13v13h-13zM1297 1115h13v13h-13zM1297 1127h13v13h-13zM1117 1139h13v13h-13zM1285 1139h13v13h-13zM1297 1139h13v13h-13zM1225 1151h13v13h-13zM1237 1151h13v13h-13zM1273 1151h13v13h-13zM1285 1151h13v13h-13zM1297 1151h13v13h-13zM1213 1163h13v13h-13zM1225 1163h13v13h-13zM1237 1163h13v13h-13zM1249 1163h13v13h-13zM1261 1163h13v13h-13zM1273 1163h13v13h-13zM1285 1163h13v13h-13zM1129 1175h13v13h-13zM1213 1175h13v13h-13zM1249 1175h13v13h-13zM1261 1175h13v13h-13zM1273 1175h13v13h-13zM1285 1175h13v13h-13zM1297 1175h13v13h-13zM1213 1187h13v13h-13zM1237 1187h13v13h-13zM1249 1187h13v13h-13zM1261 1187h13v13h-13zM1273 1187h13v13h-13zM1285 1187h13v13h-13zM1297 1187h13v13h-13zM1309 1187h13v13h-13zM1141 1199h13v13h-13zM1213 1199h13v13h-13zM1237 1199h13v13h-13zM1249 1199h13v13h-13zM1309 1199h13v13h-13zM1321 1199h13v13h-13zM1153 1211h13v13h-13zM1165 1211h13v13h-13zM1213 1211h13v13h-13zM1237 1211h13v13h-13zM1249 1211h13v13h-13zM1321 1211h13v13h-13zM1333 1211h13v13h-13zM1165 1223h13v13h-13zM1177 1223h13v13h-13zM1201 1223h13v13h-13zM1213 1223h13v13h-13zM1237 1223h13v13h-13zM1249 1223h13v13h-13zM1321 1223h13v13h-13zM1333 1223h13v13h-13zM1177 1235h13v13h-13zM1189 1235h13v13h-13zM1201 1235h13v13h-13zM1249 1235h13v13h-13zM1261 1235h13v13h-13zM1273 1235h13v13h-13zM1285 1235h13v13h-13zM1297 1235h13v13h-13zM1309 1235h13v13h-13zM1321 1235h13v13h-13zM1333 1235h13v13h-13zM1189 1247h13v13h-13zM1261 1247h13v13h-13zM1273 1247h13v13h-13zM1285 1247h13v13h-13zM1297 1247h13v13h-13zM1309 1247h13v13h-13zM1321 1247h13v13h-13z"/>
<path fill="#6c8b2f" d="M1093 1007h13v13h-13zM1261 1007h13v13h-13zM1273 1007h13v13h-13zM1333 1007h13v13h-13zM1345 1007h13v13h-13zM1357 1007h13v13h-13zM1369 1007h13v13h-13zM1093 1019h13v13h-13zM1261 1019h13v13h-13zM1273 1019h13v13h-13zM1333 1019h13v13h-13zM1345 1019h13v13h-13zM1357 1019h13v13h-13zM1369 1019h13v13h-13zM1093 1031h13v13h-13zM1261 1031h13v13h-13zM1273 1031h13v13h-13zM1333 1031h13v13h-13zM1345 1031h13v13h-13zM1357 1031h13v13h-13zM1369 1031h13v13h-13zM1261 1043h13v13h-13zM1345 1043h13v13h-13zM1357 1043h13v13h-13zM1369 1043h13v13h-13zM1105 1055h13v13h-13zM1261 1055h13v13h-13zM1117 1067h13v13h-13zM1249 1067h13v13h-13zM1249 1079h13v13h-13zM1249 1091h13v13h-13zM1261 1103h13v13h-13zM1273 1103h13v13h-13zM1117 1115h13v13h-13zM1273 1115h13v13h-13zM1117 1127h13v13h-13zM1225 1127h13v13h-13zM1285 1127h13v13h-13zM1213 1139h13v13h-13zM1225 1139h13v13h-13zM1237 1139h13v13h-13zM1249 1139h13v13h-13zM1273 1139h13v13h-13zM1213 1151h13v13h-13zM1249 1151h13v13h-13zM1261 1151h13v13h-13zM1129 1163h13v13h-13zM1189 1163h13v13h-13zM1201 1163h13v13h-13zM1189 1175h13v13h-13zM1201 1175h13v13h-13zM1189 1187h13v13h-13zM1201 1187h13v13h-13zM1153 1199h13v13h-13zM1165 1199h13v13h-13zM1177 1199h13v13h-13zM1189 1199h13v13h-13zM1201 1199h13v13h-13zM1261 1199h13v13h-13zM1273 1199h13v13h-13zM1285 1199h13v13h-13zM1297 1199h13v13h-13zM1177 1211h13v13h-13zM1189 1211h13v13h-13zM1201 1211h13v13h-13zM1261 1211h13v13h-13zM1273 1211h13v13h-13zM1285 1211h13v13h-13zM1297 1211h13v13h-13zM1309 1211h13v13h-13zM1189 1223h13v13h-13zM1261 1223h13v13h-13zM1273 1223h13v13h-13zM1285 1223h13v13h-13zM1297 1223h13v13h-13zM1309 1223h13v13h-13z"/>
<path fill="#7a9b36" d="M1249 1043h13v13h-13zM1249 1055h13v13h-13zM1237 1067h13v13h-13zM1129 1079h13v13h-13zM1237 1079h13v13h-13zM1237 1091h13v13h-13zM1225 1103h13v13h-13zM1237 1103h13v13h-13zM1249 1103h13v13h-13zM1225 1115h13v13h-13zM1237 1115h13v13h-13zM1249 1115h13v13h-13zM1261 1115h13v13h-13zM1213 1127h13v13h-13zM1237 1127h13v13h-13zM1249 1127h13v13h-13zM1273 1127h13v13h-13zM1201 1139h13v13h-13zM1261 1139h13v13h-13zM1189 1151h13v13h-13zM1201 1151h13v13h-13zM1177 1175h13v13h-13zM1141 1187h13v13h-13zM1165 1187h13v13h-13zM1177 1187h13v13h-13z"/>
<path fill="#88a940" d="M1249 1007h13v13h-13zM1249 1019h13v13h-13zM1249 1031h13v13h-13zM1105 1043h13v13h-13zM1237 1043h13v13h-13zM1237 1055h13v13h-13zM1225 1067h13v13h-13zM1225 1079h13v13h-13zM1129 1091h13v13h-13zM1225 1091h13v13h-13zM1213 1103h13v13h-13zM1213 1115h13v13h-13zM1201 1127h13v13h-13zM1261 1127h13v13h-13zM1189 1139h13v13h-13zM1129 1151h13v13h-13zM1177 1163h13v13h-13zM1141 1175h13v13h-13zM1165 1175h13v13h-13zM1153 1187h13v13h-13z"/>
<path fill="#98b64d" d="M1105 1007h13v13h-13zM1237 1007h13v13h-13zM1105 1019h13v13h-13zM1237 1019h13v13h-13zM1105 1031h13v13h-13zM1237 1031h13v13h-13zM1225 1043h13v13h-13zM1225 1055h13v13h-13zM1129 1067h13v13h-13zM1213 1079h13v13h-13zM1213 1091h13v13h-13zM1129 1103h13v13h-13zM1201 1103h13v13h-13zM1201 1115h13v13h-13zM1189 1127h13v13h-13zM1129 1139h13v13h-13zM1177 1151h13v13h-13zM1141 1163h13v13h-13zM1165 1163h13v13h-13zM1153 1175h13v13h-13z"/>
<path fill="#a7c35c" d="M1225 1007h13v13h-13zM1225 1019h13v13h-13zM1225 1031h13v13h-13zM1213 1067h13v13h-13zM1201 1079h13v13h-13zM1201 1091h13v13h-13zM1189 1103h13v13h-13zM1129 1115h13v13h-13zM1189 1115h13v13h-13zM1129 1127h13v13h-13zM1177 1139h13v13h-13zM1165 1151h13v13h-13zM1153 1163h13v13h-13z"/>
<path fill="#b6cd72" d="M1117 1007h13v13h-13zM1117 1019h13v13h-13zM1117 1031h13v13h-13zM1213 1043h13v13h-13zM1213 1055h13v13h-13zM1201 1067h13v13h-13zM1141 1079h13v13h-13zM1189 1079h13v13h-13zM1189 1091h13v13h-13zM1177 1115h13v13h-13zM1177 1127h13v13h-13zM1141 1151h13v13h-13z"/>
<path fill="#c4d787" d="M1129 1007h13v13h-13zM1213 1007h13v13h-13zM1129 1019h13v13h-13zM1213 1019h13v13h-13zM1129 1031h13v13h-13zM1213 1031h13v13h-13zM1201 1055h13v13h-13zM1141 1067h13v13h-13zM1177 1079h13v13h-13zM1141 1091h13v13h-13zM1177 1091h13v13h-13zM1177 1103h13v13h-13zM1141 1139h13v13h-13zM1165 1139h13v13h-13zM1153 1151h13v13h-13z"/>
<path fill="#d1dfa3" d="M1117 1043h13v13h-13zM1129 1043h13v13h-13zM1201 1043h13v13h-13zM1129 1055h13v13h-13zM1141 1055h13v13h-13zM1177 1067h13v13h-13zM1189 1067h13v13h-13zM1165 1079h13v13h-13zM1165 1091h13v13h-13zM1141 1103h13v13h-13zM1165 1103h13v13h-13zM1141 1115h13v13h-13zM1165 1115h13v13h-13zM1165 1127h13v13h-13zM1153 1139h13v13h-13z"/>
<path fill="#dee7bf" d="M1141 1007h13v13h-13zM1201 1007h13v13h-13zM1141 1019h13v13h-13zM1201 1019h13v13h-13zM1141 1031h13v13h-13zM1201 1031h13v13h-13zM1141 1043h13v13h-13zM1153 1055h13v13h-13zM1165 1055h13v13h-13zM1177 1055h13v13h-13zM1189 1055h13v13h-13zM1153 1067h13v13h-13zM1165 1067h13v13h-13zM1153 1079h13v13h-13zM1153 1091h13v13h-13zM1153 1103h13v13h-13zM1141 1127h13v13h-13z"/>
<path fill="#e8eed4" d="M1153 1007h13v13h-13zM1153 1019h13v13h-13zM1153 1031h13v13h-13zM1153 1043h13v13h-13zM1165 1043h13v13h-13zM1189 1043h13v13h-13zM1117 1055h13v13h-13zM1153 1115h13v13h-13zM1153 1127h13v13h-13z"/>
<path fill="#f1f4e5" d="M1165 1007h13v13h-13zM1177 1007h13v13h-13zM1189 1007h13v13h-13zM1165 1019h13v13h-13zM1177 1019h13v13h-13zM1189 1019h13v13h-13zM1165 1031h13v13h-13zM1177 1031h13v13h-13zM1189 1031h13v13h-13zM1177 1043h13v13h-13z"/>
<path fill="#253814" d="M1073 1116L1073 1109L1069 1103L1070 1110zM1084 1105L1091 1110L1099 1111L1092 1106zM1088 1101L1094 1106L1102 1107L1095 1102zM1091 1097L1097 1102L1104 1103L1098 1098zM1067 1123L1075 1123L1082 1120L1074 1120zM1068 1113L1075 1113L1080 1110L1073 1110zM1068 1099L1073 1098L1077 1095L1071 1095z"/>
<path fill="#2d4217" d="M1080 1108L1081 1102L1077 1097L1077 1103zM1081 1058L1073 1060L1066 1065L1074 1063zM1067 1047L1061 1048L1057 1052L1062 1051zM1067 1047L1070 1043L1068 1038L1066 1042zM1068 1094L1072 1093L1075 1090L1070 1091zM1067 1089L1071 1088L1073 1085L1068 1086zM1096 1170L1095 1167L1090 1165L1092 1168zM1096 1170L1101 1172L1106 1171L1100 1169zM1101 1149L1100 1146L1097 1146L1098 1149zM1101 1149L1104 1149L1106 1147L1103 1146z"/>
<path fill="#344b19" d="M1077 1112L1077 1106L1073 1100L1073 1106zM1084 1105L1084 1099L1081 1094L1081 1099zM1103 1086L1104 1083L1101 1079L1100 1083zM1089 1066L1092 1060L1092 1053L1089 1059zM1076 1054L1069 1056L1063 1061L1070 1059zM1066 1127L1062 1122L1055 1119L1059 1124zM1068 1118L1075 1118L1081 1115L1074 1115zM1068 1094L1064 1091L1059 1092L1062 1095zM1100 1157L1099 1154L1095 1154L1096 1157zM1100 1154L1104 1155L1106 1153L1103 1152z"/>
<path fill="#3d561d" d="M1077 1112L1085 1117L1094 1119L1086 1114zM1080 1108L1088 1113L1097 1115L1089 1110zM1102 1078L1091 1081L1081 1087L1092 1085zM1085 1062L1088 1056L1087 1050L1084 1056zM1066 1127L1074 1128L1082 1126L1073 1125zM1098 1165L1097 1162L1092 1160L1094 1164zM1099 1160L1098 1157L1094 1156L1095 1159zM1100 1157L1104 1158L1106 1156L1102 1155z"/>
<path fill="#486220" d="M1099 1090L1100 1086L1097 1082L1096 1086zM1098 1074L1088 1077L1078 1083L1088 1080zM1098 1074L1101 1067L1101 1060L1097 1067zM1093 1070L1097 1064L1096 1056L1093 1063zM1067 1123L1063 1118L1056 1115L1060 1120zM1068 1109L1075 1108L1079 1105L1073 1105zM1099 1162L1097 1159L1093 1158L1095 1161zM1101 1151L1100 1149L1096 1149L1097 1151z"/>
<path fill="#536f25" d="M1210 1254L1214 1249L1215 1242L1211 1248zM1202 1242L1195 1241L1188 1243L1195 1244zM1198 1233L1204 1231L1206 1226L1201 1228zM1088 1101L1088 1095L1085 1091L1085 1096zM1099 1090L1104 1094L1109 1095L1104 1091zM1103 1086L1107 1090L1112 1091L1108 1087zM1072 1050L1074 1046L1073 1041L1071 1046zM1315 1239L1317 1235L1316 1230L1313 1234zM1099 1162L1103 1164L1106 1162L1102 1160zM1099 1160L1104 1161L1106 1159L1102 1158zM1100 1154L1099 1151L1096 1151L1097 1154z"/>
<path fill="#5f7d29" d="M1204 1246L1197 1246L1189 1249L1197 1249zM1073 1116L1082 1121L1092 1123L1083 1118zM1091 1097L1092 1092L1089 1088L1088 1093zM1095 1094L1096 1089L1093 1085L1092 1089zM1095 1094L1101 1098L1107 1099L1101 1094zM1089 1066L1080 1068L1072 1074L1081 1072zM1235 1217L1230 1216L1225 1219L1230 1220zM1233 1214L1229 1214L1224 1217L1229 1218zM1233 1214L1237 1212L1236 1208L1233 1211zM1229 1210L1225 1209L1222 1212L1226 1213zM1223 1203L1220 1202L1217 1206L1220 1206zM1328 1250L1320 1253L1313 1259L1321 1256zM1305 1230L1300 1230L1296 1234L1301 1234zM1068 1118L1063 1114L1057 1112L1061 1116zM1068 1113L1064 1109L1057 1108L1062 1112zM1068 1099L1064 1096L1059 1096L1062 1099zM1067 1089L1063 1087L1058 1088L1062 1090zM1098 1165L1103 1167L1106 1165L1101 1163z"/>
<path fill="#6c8b2f" d="M1202 1242L1207 1238L1209 1233L1204 1237zM1197 1228L1192 1226L1187 1227L1191 1229zM1195 1218L1192 1216L1187 1216L1190 1219zM1093 1070L1084 1072L1075 1078L1085 1076zM1085 1062L1077 1064L1069 1070L1077 1068zM1151 1194L1152 1190L1149 1186L1149 1190zM1151 1194L1156 1198L1162 1198L1157 1194zM1156 1190L1160 1193L1165 1194L1161 1190zM1161 1186L1162 1183L1160 1180L1159 1183zM1321 1245L1314 1247L1308 1252L1315 1250zM1305 1230L1307 1227L1306 1223L1304 1226zM1302 1227L1304 1224L1303 1221L1301 1223zM1068 1109L1064 1105L1058 1104L1062 1108zM1068 1104L1064 1100L1058 1100L1062 1103zM1068 1104L1074 1103L1078 1099L1072 1100z"/>
<path fill="#7a9b36" d="M1196 1223L1201 1222L1203 1218L1198 1220zM1102 1078L1105 1071L1105 1063L1102 1070zM1081 1058L1083 1053L1082 1047L1080 1052zM1076 1054L1079 1049L1078 1044L1075 1049zM1072 1050L1065 1052L1060 1056L1066 1055zM1239 1222L1233 1221L1227 1224L1233 1225zM1237 1220L1241 1217L1241 1213L1237 1215zM1225 1205L1222 1205L1219 1208L1222 1208zM1154 1192L1158 1196L1163 1196L1159 1192zM1158 1187L1162 1191L1166 1192L1163 1188zM1161 1186L1164 1189L1168 1190L1165 1186zM1166 1182L1168 1186L1172 1186L1169 1182zM1325 1248L1317 1250L1310 1255L1318 1253zM1308 1233L1311 1230L1310 1225L1307 1229zM1097 1168L1096 1164L1091 1162L1093 1166zM1097 1168L1102 1170L1106 1168L1101 1166zM1101 1151L1104 1152L1106 1150L1103 1149z"/>
<path fill="#88a940" d="M1204 1246L1209 1242L1211 1236L1206 1240zM1200 1237L1194 1236L1187 1238L1193 1239zM1200 1237L1205 1234L1207 1230L1202 1233zM1196 1223L1192 1221L1187 1222L1191 1224zM1235 1217L1239 1214L1239 1210L1235 1213zM1231 1212L1227 1212L1223 1215L1227 1215zM1229 1210L1232 1207L1231 1204L1229 1206z"/>
<path fill="#98b64d" d="M1200 1116L1204 1114L1205 1110L1201 1112zM1191 1102L1193 1100L1192 1097L1190 1099zM1207 1250L1199 1250L1191 1254L1199 1254zM1198 1233L1193 1231L1187 1232L1192 1234zM1239 1222L1243 1219L1243 1215L1239 1218zM1231 1212L1234 1209L1234 1206L1231 1208zM1149 1196L1155 1200L1160 1200L1155 1196zM1163 1184L1165 1181L1163 1178L1161 1181zM1166 1182L1167 1180L1166 1177L1164 1179zM1168 1180L1170 1178L1169 1176L1167 1178zM1328 1250L1330 1244L1329 1238L1327 1244zM1318 1242L1320 1237L1319 1232L1317 1237zM1311 1236L1305 1237L1300 1241L1306 1240zM1311 1236L1314 1232L1313 1228L1310 1232zM1308 1233L1303 1233L1298 1238L1303 1237zM1302 1227L1297 1227L1294 1230L1298 1230z"/>
<path fill="#a7c35c" d="M1198 1113L1194 1112L1189 1114L1194 1115zM1194 1106L1190 1105L1187 1108L1190 1109zM1192 1104L1189 1103L1185 1106L1189 1107zM1187 1097L1184 1097L1181 1100L1184 1100zM1197 1228L1202 1226L1204 1222L1199 1224zM1227 1207L1224 1207L1220 1210L1224 1210zM1227 1207L1230 1205L1229 1202L1226 1204zM1223 1203L1225 1201L1224 1198L1221 1200zM1154 1192L1155 1188L1152 1185L1151 1188zM1156 1190L1157 1186L1155 1183L1154 1186zM1163 1184L1166 1187L1170 1188L1167 1184zM1138 1072L1143 1069L1145 1064L1140 1067zM1133 1059L1129 1057L1124 1059L1128 1061zM1129 1049L1126 1048L1122 1050L1125 1051zM1321 1245L1324 1240L1322 1234L1320 1239zM1318 1242L1311 1243L1305 1248L1312 1247z"/>
<path fill="#b6cd72" d="M1187 1097L1189 1096L1187 1094L1185 1095zM1210 1254L1201 1255L1193 1259L1201 1259zM1207 1250L1212 1245L1213 1239L1208 1244zM1195 1218L1200 1218L1202 1214L1197 1215zM1225 1205L1227 1203L1226 1200L1224 1202zM1325 1248L1327 1242L1326 1236L1323 1242zM1315 1239L1308 1240L1303 1245L1309 1244z"/>
<path fill="#c4d787" d="M1197 1111L1201 1109L1201 1105L1197 1107zM1196 1108L1192 1107L1188 1110L1192 1111zM1237 1220L1232 1219L1226 1222L1232 1222zM1149 1196L1150 1192L1147 1188L1146 1193zM1158 1187L1160 1184L1157 1181L1156 1185zM1132 1056L1136 1054L1137 1051L1133 1052z"/>
<path fill="#d1dfa3" d="M1200 1116L1195 1114L1190 1116L1194 1118zM1198 1113L1202 1111L1203 1107L1199 1109zM1194 1106L1197 1104L1197 1101L1194 1103zM1189 1099L1185 1099L1183 1102L1186 1102zM1168 1180L1170 1184L1174 1184L1172 1180zM1136 1065L1140 1063L1142 1059L1137 1061zM1128 1046L1125 1045L1122 1046L1125 1048zM1128 1046L1131 1045L1132 1042L1128 1043z"/>
<path fill="#dee7bf" d="M1196 1108L1199 1106L1199 1103L1196 1105zM1192 1104L1195 1102L1194 1099L1192 1101zM1189 1099L1191 1098L1190 1095L1187 1097zM1136 1065L1131 1064L1125 1066L1130 1067zM1134 1062L1130 1061L1125 1063L1129 1064zM1133 1059L1137 1057L1138 1054L1134 1055zM1132 1056L1128 1054L1123 1056L1127 1058z"/>
<path fill="#e8eed4" d="M1131 1053L1127 1051L1123 1053L1126 1054zM1131 1053L1134 1051L1135 1048L1131 1049zM1129 1049L1133 1048L1133 1045L1130 1046z"/>
<path fill="#f1f4e5" d="M1197 1111L1193 1110L1188 1112L1193 1113zM1191 1102L1187 1101L1184 1104L1188 1104zM1138 1072L1133 1070L1126 1072L1132 1074zM1137 1069L1132 1067L1126 1069L1131 1071zM1137 1069L1142 1066L1143 1062L1139 1064zM1134 1062L1139 1060L1140 1056L1136 1058z"/>
<g filter="url(#blur3)" opacity="0.55"><path d="M1180,1262 C1188,1245 1200,1235 1214,1228 L1222,1250 C1210,1255 1195,1262 1185,1268 Z" fill="#6c7270"/><ellipse cx="1200" cy="1250" rx="8" ry="2.5" transform="rotate(-20 1200 1250)" fill="#c8cccc"/><ellipse cx="1192" cy="1260" rx="6" ry="2" fill="#2a2e2c"/></g>
</g>
<g filter="url(#blur3)">
<path d="M1099,1203 L1102,1028 L1110,1028 L1113,1203 Z" fill="#3e3426" opacity="0.9"/>
<path d="M1303,1112 L1305,1037 L1311,1037 L1313,1112 Z" fill="#5a4a34" opacity="0.9"/>
<path d="M1256,1175 L1258,1090 L1262,1090 L1264,1175 Z" fill="#6a5a40" opacity="0.9"/>
</g>
<path fill="#10190b" d="M1061 1206L1054 1205L1050 1200L1056 1201zM1052 1072L1056 1067L1062 1065L1058 1070zM1060 1139L1058 1143L1054 1146L1056 1141zM1077 1216L1069 1217L1061 1214L1069 1213zM1067 1291L1068 1284L1071 1277L1070 1284zM1081 1091L1080 1095L1076 1094L1077 1090zM1082 1281L1077 1288L1069 1292L1075 1285zM1074 1252L1070 1255L1065 1254L1069 1251zM1067 1178L1063 1180L1059 1178L1063 1177zM1073 1260L1073 1253L1077 1248L1077 1254zM1073 1274L1068 1271L1065 1265L1071 1268zM1124 1272L1131 1265L1139 1263L1133 1269zM1088 1129L1084 1128L1083 1125L1087 1125zM1123 1253L1118 1250L1116 1245L1120 1248zM1069 1060L1064 1058L1061 1053L1066 1056zM1109 1258L1112 1256L1116 1256L1113 1259zM1078 1196L1072 1198L1067 1197L1072 1194zM1060 1083L1056 1089L1049 1089L1053 1084zM1157 1289L1154 1283L1154 1277L1156 1283zM1078 1018L1076 1026L1072 1034L1074 1025zM1104 1251L1102 1260L1095 1265L1098 1257zM1085 1124L1083 1130L1077 1134L1079 1127zM1111 1287L1112 1281L1116 1278L1116 1283zM1082 1223L1082 1229L1078 1233L1077 1227zM1105 1257L1104 1262L1100 1263L1101 1258zM1142 1260L1137 1267L1130 1272L1135 1265zM1071 1035L1076 1028L1084 1026L1079 1032zM1067 1253L1064 1256L1060 1256L1063 1254zM1059 1052L1054 1056L1047 1057L1053 1053zM1093 1185L1088 1183L1085 1178L1091 1180zM1067 1162L1064 1159L1064 1156L1067 1158zM1080 1121L1077 1118L1076 1115L1079 1117zM1086 1119L1083 1122L1080 1119L1083 1116zM1087 1087L1079 1084L1072 1078L1080 1081zM1091 1221L1086 1229L1079 1234L1084 1226zM1074 1253L1075 1248L1080 1246L1078 1251zM1047 1265L1052 1258L1060 1253L1055 1261zM1065 1143L1065 1149L1059 1153L1060 1147zM1059 1145L1057 1153L1051 1160L1053 1152zM1101 1195L1099 1188L1100 1181L1101 1188zM1089 1226L1082 1226L1076 1220L1084 1221zM1053 1039L1052 1036L1052 1032L1054 1035zM1064 1260L1061 1258L1060 1255L1063 1257zM1074 1275L1073 1270L1077 1268L1078 1272zM1099 1097L1093 1103L1085 1105L1091 1100zM1125 1250L1121 1250L1118 1246L1123 1247zM1062 1147L1056 1154L1047 1157L1053 1150z"/>
<path fill="#141f0d" d="M1136 1289L1138 1281L1143 1274L1142 1282zM1084 1284L1081 1290L1077 1296L1079 1289zM1114 1275L1109 1276L1106 1273L1110 1272zM1088 1040L1085 1047L1079 1049L1082 1043zM1136 1259L1135 1252L1139 1248L1140 1254zM1084 1014L1078 1016L1072 1016L1078 1014zM1354 1141L1352 1136L1355 1132L1357 1137zM1117 1199L1112 1197L1111 1193L1116 1194zM1064 1226L1060 1230L1055 1230L1059 1226zM1080 1025L1080 1029L1077 1032L1077 1028zM1090 1247L1085 1248L1080 1246L1085 1245zM1087 1020L1081 1017L1079 1011L1085 1014zM1086 1225L1086 1234L1081 1242L1081 1233zM1100 1111L1095 1109L1090 1104L1096 1106zM1096 1279L1090 1285L1083 1288L1089 1282zM1057 1175L1052 1172L1050 1167L1055 1170zM1062 1234L1056 1238L1048 1241L1055 1236zM1112 1268L1106 1265L1103 1261L1108 1263zM1108 1139L1105 1147L1098 1150L1101 1143z"/>
<path fill="#19260f" d="M1218 1269L1215 1261L1216 1252L1219 1260zM1170 1270L1167 1272L1163 1271L1167 1269zM1107 1186L1106 1184L1106 1181L1108 1183zM1092 1078L1092 1083L1089 1086L1088 1081zM1091 1068L1086 1062L1083 1056L1088 1061zM1081 1191L1078 1194L1074 1193L1077 1190zM1350 1157L1349 1151L1351 1145L1352 1151zM1114 1185L1109 1184L1106 1179L1111 1181zM1308 1094L1305 1100L1300 1103L1302 1097zM1078 1024L1075 1025L1072 1022L1076 1021zM1102 1196L1098 1198L1094 1196L1098 1195zM1333 1135L1329 1142L1322 1148L1327 1141zM1123 1256L1118 1254L1115 1250L1120 1252zM1144 1216L1137 1216L1131 1213L1137 1213zM1072 1123L1068 1122L1065 1119L1069 1120zM1371 1184L1368 1188L1364 1186L1367 1183zM1122 1081L1116 1080L1112 1076L1118 1077zM1357 1144L1354 1140L1355 1134L1358 1139zM1088 1205L1081 1210L1072 1212L1079 1206zM1244 1249L1239 1247L1236 1243L1241 1245zM1086 1242L1084 1237L1086 1231L1088 1237zM1143 1259L1142 1266L1138 1271L1139 1264zM1068 1142L1067 1145L1065 1148L1065 1145z"/>
<path fill="#1f2f11" d="M1084 1284L1081 1281L1081 1276L1084 1279zM1292 1074L1288 1074L1287 1070L1291 1070zM1305 1060L1297 1063L1289 1062L1296 1059zM1291 1065L1285 1066L1278 1065L1285 1064zM1265 1197L1257 1195L1252 1188L1260 1191zM1140 1222L1136 1221L1136 1217L1139 1218zM1072 1031L1069 1028L1068 1024L1071 1027zM1271 1188L1264 1189L1257 1186L1264 1185zM1239 1281L1231 1278L1226 1271L1234 1274zM1112 1242L1109 1238L1108 1233L1112 1237zM1330 1159L1325 1156L1323 1150L1328 1154zM1054 1230L1050 1228L1050 1223L1055 1226zM1058 1058L1063 1054L1069 1053L1064 1057zM1347 1162L1343 1168L1336 1169L1340 1164zM1315 1166L1315 1173L1310 1178L1310 1171zM1320 1014L1314 1015L1308 1015L1314 1013zM1143 1210L1140 1213L1136 1212L1139 1208zM1283 1189L1279 1188L1277 1185L1281 1186zM1077 1075L1074 1069L1075 1063L1077 1069zM1155 1272L1150 1271L1145 1268L1151 1269zM1145 1218L1139 1224L1131 1226L1137 1220zM1364 1219L1360 1224L1354 1226L1357 1221zM1122 1220L1117 1225L1110 1226L1115 1221zM1362 1085L1356 1083L1353 1078L1358 1080zM1343 1076L1342 1082L1337 1085L1338 1079zM1135 1230L1129 1227L1127 1222L1133 1225zM1073 1128L1071 1123L1073 1119L1074 1123zM1143 1275L1135 1271L1129 1265L1137 1268zM1091 1104L1090 1110L1086 1115L1086 1108zM1101 1213L1102 1207L1107 1202L1106 1208zM1074 1100L1067 1098L1062 1092L1069 1094zM1110 1278L1101 1277L1094 1271L1102 1273zM1061 1159L1060 1153L1062 1148L1062 1154zM1065 1128L1061 1129L1058 1127L1062 1127zM1072 1194L1077 1187L1084 1184L1080 1191zM1269 1173L1270 1177L1266 1180L1266 1176zM1339 1120L1335 1119L1334 1114L1338 1115zM1338 1152L1344 1146L1352 1145L1346 1150zM1239 1191L1238 1197L1233 1200L1234 1194zM1164 1241L1161 1237L1160 1232L1164 1236zM1076 1022L1070 1018L1068 1012L1074 1016zM1159 1221L1153 1221L1148 1218L1154 1218zM1091 1248L1089 1255L1084 1260L1085 1253zM1243 1194L1238 1196L1235 1192L1240 1191zM1092 1161L1091 1165L1088 1166L1089 1163z"/>
<path fill="#253814" d="M1298 1086L1295 1091L1289 1093L1292 1088zM1370 1056L1365 1063L1358 1068L1362 1061zM1224 1212L1230 1207L1237 1206L1231 1211zM1069 1217L1065 1215L1067 1211L1070 1213zM1316 1245L1316 1251L1313 1256L1312 1250zM1339 1199L1333 1194L1329 1187L1335 1192zM1132 1271L1125 1273L1118 1272L1125 1270zM1077 1087L1073 1090L1067 1089L1072 1087zM1089 1037L1085 1040L1080 1040L1084 1037zM1176 1235L1176 1227L1181 1221L1181 1229zM1333 1064L1328 1065L1323 1063L1328 1062zM1183 1260L1177 1257L1176 1251L1181 1254zM1098 1035L1091 1031L1087 1024L1095 1027zM1308 1233L1303 1228L1303 1222L1308 1226zM1105 1250L1099 1256L1090 1258L1096 1252zM1111 1154L1109 1158L1104 1159L1107 1156zM1109 1097L1105 1090L1105 1082L1108 1089zM1069 1202L1073 1198L1078 1198L1074 1201zM1349 1272L1347 1267L1348 1262L1350 1267zM1109 1155L1101 1154L1094 1148L1102 1150zM1207 1280L1203 1277L1202 1272L1206 1275zM1347 1248L1347 1245L1350 1242L1349 1246zM1069 1120L1068 1116L1072 1116L1073 1120zM1118 1124L1113 1121L1112 1114L1117 1118zM1190 1287L1184 1286L1180 1283L1186 1283zM1280 1068L1271 1067L1263 1063L1272 1064zM1318 1135L1312 1130L1310 1124L1315 1129zM1058 1275L1054 1275L1051 1272L1055 1273zM1088 1149L1082 1146L1080 1139L1086 1143zM1249 1184L1246 1176L1248 1167L1250 1176zM1120 1234L1118 1243L1114 1251L1116 1242zM1241 1263L1233 1268L1224 1269L1232 1264zM1362 1212L1357 1210L1353 1206L1359 1208zM1336 1206L1330 1210L1324 1208L1329 1204zM1086 1255L1084 1259L1081 1260L1083 1257zM1064 1073L1069 1066L1077 1061L1071 1068zM1359 1113L1355 1111L1352 1108L1356 1109zM1057 1168L1053 1168L1051 1165L1055 1164zM1214 1228L1209 1229L1205 1226L1210 1225zM1058 1186L1053 1185L1052 1181L1056 1182zM1328 1128L1328 1134L1324 1137L1324 1132zM1099 1066L1097 1072L1092 1075L1094 1070zM1358 1170L1351 1170L1345 1167L1352 1167zM1085 1264L1080 1270L1074 1274L1079 1268zM1296 1198L1288 1195L1281 1188L1290 1192zM1273 1279L1270 1277L1269 1274L1272 1276zM1074 1082L1070 1085L1065 1087L1069 1083zM1135 1269L1133 1276L1128 1280L1129 1273zM1268 1180L1260 1180L1254 1175L1262 1176zM1286 1184L1282 1180L1280 1174L1285 1178zM1313 1232L1311 1236L1307 1237L1309 1233zM1152 1281L1148 1278L1145 1273L1150 1276zM1086 1228L1083 1231L1080 1234L1082 1230zM1166 1251L1162 1246L1162 1240L1166 1245zM1106 1232L1102 1239L1096 1244L1100 1237z"/>
<path fill="#2d4217" d="M1305 1199L1301 1200L1297 1198L1301 1197zM1289 1150L1281 1153L1273 1152L1281 1149zM1304 1282L1297 1284L1291 1281L1298 1279zM1363 1128L1358 1124L1356 1119L1360 1123zM1247 1162L1240 1163L1233 1161L1240 1159zM1081 1019L1077 1018L1077 1014L1080 1015zM1282 1113L1278 1111L1275 1108L1279 1109zM1093 1188L1084 1188L1076 1184L1085 1184zM1344 1265L1344 1268L1342 1272L1342 1268zM1253 1199L1258 1191L1265 1187L1261 1194zM1066 1026L1061 1024L1060 1019L1065 1021zM1225 1289L1220 1288L1218 1283L1223 1284zM1077 1152L1069 1153L1061 1151L1069 1149zM1098 1179L1092 1180L1087 1177L1093 1176zM1312 1218L1308 1223L1302 1227L1306 1222zM1199 1199L1193 1199L1187 1196L1194 1195zM1280 1078L1275 1074L1273 1068L1278 1072zM1326 1265L1324 1268L1320 1268L1323 1265zM1234 1140L1230 1144L1225 1143L1229 1140zM1303 1097L1295 1096L1289 1091L1297 1092zM1285 1283L1280 1276L1277 1267L1282 1275zM1287 1133L1289 1126L1294 1122L1293 1129zM1195 1273L1188 1269L1182 1263L1189 1267zM1309 1028L1303 1026L1299 1022L1305 1024zM1324 1180L1324 1185L1319 1186L1319 1181zM1122 1067L1117 1070L1111 1068L1116 1065zM1069 1236L1062 1230L1058 1222L1065 1228zM1241 1174L1240 1168L1242 1163L1243 1168zM1087 1041L1083 1042L1080 1039L1084 1038zM1268 1291L1262 1290L1257 1286L1263 1287zM1245 1181L1247 1174L1251 1168L1250 1175zM1243 1256L1239 1250L1237 1243L1241 1249zM1317 1131L1312 1132L1307 1130L1312 1130zM1321 1156L1320 1159L1317 1161L1318 1158zM1288 1084L1280 1082L1275 1076L1283 1078zM1270 1032L1266 1029L1266 1024L1269 1027zM1115 1110L1114 1106L1116 1102L1117 1106zM1202 1229L1198 1226L1196 1221L1200 1224zM1294 1040L1291 1044L1285 1044L1289 1041zM1346 1035L1345 1039L1341 1042L1342 1038zM1154 1211L1148 1206L1147 1198L1152 1203zM1254 1080L1250 1075L1251 1069L1255 1074zM1270 1186L1261 1188L1252 1186L1261 1185zM1299 1117L1294 1111L1292 1103L1297 1109zM1066 1068L1069 1064L1075 1065L1071 1068zM1129 1100L1124 1096L1123 1090L1127 1094zM1339 1059L1334 1060L1332 1056L1336 1055zM1102 1177L1094 1177L1087 1174L1095 1174zM1303 1272L1299 1270L1298 1266L1302 1267zM1193 1209L1186 1205L1181 1199L1188 1203zM1063 1075L1063 1082L1059 1086L1058 1080zM1363 1282L1362 1276L1364 1271L1365 1276zM1344 1053L1339 1050L1337 1044L1342 1047zM1299 1174L1294 1175L1288 1173L1294 1172zM1360 1027L1361 1032L1356 1034L1356 1029zM1251 1289L1243 1288L1236 1284L1244 1286zM1307 1017L1301 1023L1294 1025L1299 1020zM1233 1209L1231 1213L1227 1214L1229 1210zM1347 1219L1350 1214L1355 1211L1352 1216zM1106 1058L1098 1060L1090 1059L1098 1057zM1088 1256L1083 1260L1077 1258L1082 1254zM1368 1177L1369 1173L1372 1171L1371 1174zM1346 1273L1345 1268L1349 1266L1349 1270zM1265 1153L1263 1158L1258 1160L1260 1155zM1368 1096L1363 1100L1357 1102L1362 1098zM1305 1046L1299 1041L1298 1035L1303 1039zM1364 1270L1357 1274L1349 1274L1356 1270zM1072 1073L1072 1077L1069 1079L1069 1075z"/>
<path fill="#344b19" d="M1313 1036L1306 1031L1303 1024L1309 1029zM1349 1029L1346 1027L1344 1023L1347 1025zM1296 1259L1290 1262L1285 1260L1290 1257zM1326 1276L1322 1276L1319 1273L1323 1273zM1348 1269L1345 1270L1342 1268L1346 1266zM1374 1280L1367 1281L1361 1279L1368 1278zM1231 1238L1230 1243L1225 1243L1226 1239zM1133 1113L1126 1118L1117 1119L1125 1114zM1111 1118L1103 1114L1098 1107L1106 1110zM1111 1228L1105 1222L1102 1213L1108 1220zM1341 1097L1333 1102L1325 1101L1332 1097zM1282 1219L1280 1223L1276 1224L1278 1221zM1155 1254L1156 1260L1151 1265L1151 1258zM1308 1215L1303 1215L1300 1211L1305 1211zM1246 1174L1242 1178L1236 1179L1240 1175zM1278 1201L1278 1210L1273 1218L1274 1209zM1099 1082L1091 1080L1084 1075L1092 1077zM1354 1130L1350 1129L1350 1125L1354 1127zM1324 1046L1318 1046L1314 1042L1320 1042zM1353 1131L1351 1135L1348 1138L1349 1134zM1213 1229L1209 1223L1209 1216L1213 1222zM1160 1244L1156 1242L1154 1238L1159 1239zM1370 1152L1365 1156L1359 1156L1364 1152zM1231 1192L1226 1194L1220 1191L1226 1189zM1260 1096L1255 1100L1247 1099L1253 1095zM1075 1281L1073 1274L1076 1267L1077 1274zM1128 1115L1124 1113L1122 1109L1126 1111zM1341 1115L1335 1114L1332 1109L1338 1110zM1186 1248L1184 1252L1180 1250L1183 1247zM1269 1136L1268 1142L1262 1144L1264 1139zM1246 1172L1252 1167L1258 1164L1253 1169zM1357 1182L1357 1186L1355 1188L1355 1185zM1365 1114L1365 1119L1362 1123L1362 1118zM1346 1292L1345 1286L1347 1281L1347 1286zM1347 1177L1340 1177L1334 1175L1341 1175zM1310 1018L1308 1025L1303 1029L1304 1022zM1362 1132L1359 1130L1359 1126L1362 1129zM1340 1059L1331 1062L1322 1060L1331 1057zM1211 1164L1205 1161L1200 1156L1207 1158zM1131 1104L1129 1109L1125 1114L1126 1108zM1315 1186L1309 1191L1301 1192L1307 1187zM1362 1221L1357 1224L1351 1224L1356 1221zM1344 1108L1340 1102L1340 1095L1344 1101zM1132 1085L1127 1091L1120 1094L1125 1088zM1067 1173L1063 1179L1057 1180L1061 1175zM1318 1097L1320 1094L1322 1093L1321 1096zM1121 1106L1118 1115L1111 1120L1114 1112zM1272 1094L1270 1101L1265 1106L1267 1099zM1074 1129L1072 1133L1067 1133L1070 1129zM1302 1051L1299 1057L1294 1062L1297 1056zM1259 1027L1259 1031L1256 1033L1255 1029zM1288 1245L1282 1244L1278 1241L1283 1241zM1065 1230L1060 1231L1057 1227L1062 1226zM1174 1251L1168 1253L1163 1251L1168 1249zM1299 1032L1299 1038L1296 1042L1296 1037zM1106 1216L1100 1215L1096 1212L1101 1213zM1107 1266L1099 1269L1091 1266L1099 1263zM1107 1214L1102 1208L1103 1200L1107 1206zM1325 1033L1319 1027L1318 1019L1324 1025zM1304 1279L1296 1279L1290 1276L1297 1275zM1284 1084L1283 1089L1280 1091L1280 1087zM1350 1017L1347 1024L1342 1030L1345 1022zM1152 1275L1144 1272L1138 1265L1147 1268zM1312 1195L1313 1188L1315 1180L1315 1188zM1259 1154L1254 1156L1249 1153L1254 1152zM1300 1180L1297 1186L1291 1187L1294 1181zM1264 1266L1261 1273L1255 1278L1258 1271zM1126 1079L1127 1076L1131 1075L1129 1078zM1144 1217L1139 1215L1134 1211L1140 1213zM1240 1146L1234 1146L1227 1145L1234 1144zM1301 1067L1293 1072L1284 1072L1292 1068zM1221 1212L1218 1215L1214 1215L1217 1212zM1306 1193L1301 1193L1297 1190L1302 1191zM1085 1264L1083 1270L1077 1272L1079 1267zM1071 1043L1075 1038L1081 1035L1077 1040zM1349 1035L1345 1034L1341 1032L1346 1032zM1241 1278L1236 1279L1230 1277L1236 1276zM1369 1123L1371 1127L1367 1130L1366 1126zM1313 1131L1305 1130L1299 1125L1307 1126zM1374 1192L1370 1186L1369 1180L1373 1185zM1090 1165L1091 1170L1087 1172L1086 1167z"/>
<path fill="#3d561d" d="M1363 1023L1362 1027L1358 1028L1359 1024zM1127 1085L1124 1088L1120 1087L1123 1083zM1198 1260L1204 1255L1211 1255L1206 1260zM1302 1248L1301 1254L1297 1259L1298 1252zM1095 1218L1091 1212L1092 1205L1095 1211zM1313 1049L1317 1044L1323 1045L1319 1050zM1360 1017L1358 1020L1353 1020L1356 1017zM1256 1019L1254 1015L1256 1011L1257 1015zM1090 1219L1089 1215L1092 1212L1093 1216zM1376 1107L1371 1108L1368 1105L1372 1103zM1144 1154L1140 1162L1134 1168L1138 1160zM1314 1047L1310 1043L1307 1038L1311 1042zM1336 1167L1327 1168L1319 1165L1328 1163zM1247 1209L1243 1201L1243 1192L1247 1200zM1251 1289L1253 1283L1258 1281L1256 1287zM1210 1211L1202 1207L1196 1200L1204 1204zM1160 1278L1160 1274L1162 1271L1163 1275zM1092 1187L1085 1182L1083 1174L1090 1179zM1064 1194L1060 1188L1059 1180L1063 1187zM1220 1206L1218 1198L1219 1190L1221 1198zM1260 1266L1254 1265L1248 1261L1255 1262zM1224 1244L1216 1242L1209 1236L1218 1239zM1344 1294L1342 1289L1344 1284L1346 1289zM1293 1077L1291 1084L1285 1088L1287 1081zM1326 1098L1323 1099L1320 1096L1324 1095zM1134 1279L1134 1282L1130 1283L1131 1280zM1149 1185L1142 1180L1137 1173L1145 1178zM1202 1166L1197 1163L1194 1158L1199 1161zM1369 1174L1363 1172L1359 1166L1366 1168zM1346 1143L1342 1148L1336 1150L1340 1146zM1365 1273L1362 1271L1362 1268L1365 1270zM1176 1177L1170 1180L1163 1178L1169 1175zM1268 1115L1261 1113L1256 1107L1263 1109zM1125 1237L1123 1241L1119 1245L1121 1240zM1086 1159L1086 1152L1089 1146L1089 1153zM1139 1243L1137 1249L1133 1253L1135 1248zM1215 1219L1209 1224L1201 1225L1207 1220zM1196 1230L1192 1230L1190 1228L1193 1228zM1348 1057L1349 1053L1352 1052L1351 1056zM1086 1107L1082 1103L1081 1097L1085 1101zM1308 1209L1313 1204L1320 1204L1315 1209zM1315 1259L1310 1263L1304 1264L1309 1260zM1059 1073L1055 1067L1055 1061L1060 1066zM1269 1064L1261 1060L1256 1053L1263 1057zM1058 1285L1055 1283L1055 1279L1057 1281zM1177 1204L1172 1200L1171 1193L1177 1197zM1361 1059L1357 1059L1357 1054L1361 1055zM1273 1282L1272 1278L1275 1275L1276 1279zM1209 1194L1205 1189L1205 1182L1209 1188zM1234 1289L1230 1291L1226 1290L1230 1287zM1113 1053L1109 1050L1107 1046L1111 1048zM1264 1086L1257 1084L1251 1079L1258 1081zM1260 1118L1257 1122L1252 1120L1256 1117zM1370 1077L1368 1085L1361 1091L1364 1083zM1229 1220L1223 1227L1215 1230L1221 1224zM1100 1034L1098 1031L1097 1027L1100 1030zM1072 1260L1071 1252L1073 1244L1075 1252zM1364 1059L1357 1057L1351 1051L1359 1053zM1239 1125L1234 1124L1231 1119L1236 1121zM1228 1179L1228 1171L1230 1164L1230 1171zM1219 1241L1215 1242L1211 1240L1215 1240zM1269 1058L1260 1059L1252 1055L1261 1055zM1290 1222L1285 1217L1285 1210L1290 1215zM1093 1271L1091 1275L1087 1274L1089 1271zM1312 1137L1310 1133L1312 1130L1315 1134zM1076 1111L1074 1109L1074 1106L1076 1108zM1314 1230L1309 1229L1304 1226L1310 1227zM1341 1252L1334 1250L1328 1245L1335 1247zM1357 1271L1356 1277L1352 1282L1353 1276zM1226 1124L1221 1128L1215 1129L1220 1125zM1294 1017L1290 1016L1288 1012L1293 1013zM1379 1022L1371 1021L1365 1017L1372 1018zM1071 1283L1063 1279L1058 1272L1066 1276zM1116 1146L1111 1140L1109 1133L1114 1138zM1300 1059L1294 1057L1292 1052L1298 1054zM1319 1253L1314 1247L1314 1239L1319 1245zM1249 1200L1242 1198L1237 1193L1244 1195zM1264 1212L1265 1203L1269 1196L1268 1205z"/>
<path fill="#486220" d="M1186 1209L1184 1213L1179 1214L1181 1209zM1132 1110L1125 1115L1117 1118L1124 1114zM1124 1251L1123 1259L1119 1265L1120 1257zM1332 1119L1330 1116L1334 1113L1335 1117zM1113 1077L1110 1083L1105 1088L1108 1081zM1182 1153L1183 1147L1188 1142L1187 1149zM1317 1193L1313 1194L1311 1191L1315 1190zM1259 1072L1253 1072L1248 1070L1254 1070zM1229 1254L1232 1246L1239 1241L1236 1249zM1207 1120L1202 1117L1201 1111L1207 1114zM1352 1113L1348 1112L1346 1108L1350 1109zM1366 1282L1360 1277L1359 1270L1365 1274zM1148 1175L1147 1180L1142 1181L1143 1176zM1161 1260L1163 1252L1168 1245L1166 1253zM1294 1161L1294 1155L1296 1149L1296 1155zM1283 1027L1279 1020L1281 1013L1284 1020zM1241 1291L1234 1289L1230 1283L1237 1285zM1126 1214L1126 1220L1123 1225L1124 1219zM1240 1095L1236 1091L1236 1085L1240 1089zM1257 1076L1260 1071L1264 1068L1262 1073zM1310 1063L1304 1063L1298 1060L1304 1060zM1159 1205L1156 1200L1156 1194L1159 1199zM1293 1207L1291 1211L1286 1212L1288 1208zM1283 1213L1274 1212L1268 1207L1276 1209zM1265 1161L1264 1165L1259 1166L1261 1162zM1074 1128L1082 1123L1090 1121L1083 1126zM1110 1084L1104 1079L1099 1073L1106 1078zM1172 1216L1172 1222L1168 1226L1168 1220zM1361 1127L1363 1119L1367 1112L1365 1120zM1176 1214L1173 1222L1166 1228L1169 1220zM1239 1173L1235 1178L1229 1178L1233 1174zM1317 1092L1311 1092L1308 1087L1314 1087zM1105 1283L1105 1278L1109 1276L1109 1281zM1146 1084L1140 1086L1134 1085L1140 1083zM1337 1206L1337 1198L1342 1191L1341 1199zM1085 1159L1077 1157L1070 1152L1079 1154zM1186 1159L1179 1165L1170 1167L1177 1161zM1184 1194L1181 1189L1179 1183L1183 1188zM1242 1172L1240 1167L1243 1163L1245 1168zM1330 1272L1331 1277L1328 1279L1327 1275zM1112 1171L1106 1171L1102 1167L1108 1167zM1292 1291L1288 1289L1287 1284L1291 1286zM1333 1103L1325 1102L1319 1095L1328 1097zM1263 1086L1258 1080L1256 1072L1261 1078zM1297 1117L1289 1119L1282 1119L1289 1117zM1364 1026L1359 1019L1359 1009L1364 1017zM1352 1062L1351 1058L1353 1055L1354 1059zM1234 1053L1230 1055L1227 1052L1231 1050zM1085 1037L1084 1041L1080 1043L1082 1039zM1201 1233L1202 1225L1206 1219L1205 1227zM1112 1204L1114 1201L1118 1201L1115 1204zM1062 1166L1056 1172L1048 1176L1054 1170zM1204 1233L1204 1237L1201 1239L1200 1235zM1087 1226L1083 1227L1079 1224L1084 1223zM1212 1277L1212 1285L1208 1291L1208 1283zM1361 1048L1362 1052L1359 1054L1357 1050zM1356 1167L1354 1171L1351 1174L1352 1170zM1136 1213L1133 1221L1126 1228L1130 1219zM1209 1188L1203 1190L1197 1187L1203 1186zM1289 1210L1281 1207L1275 1201L1283 1204zM1295 1017L1291 1015L1292 1011L1296 1013zM1265 1242L1264 1249L1260 1255L1261 1248zM1223 1202L1220 1198L1223 1195L1225 1199zM1201 1238L1203 1233L1208 1231L1206 1236zM1372 1203L1369 1211L1364 1219L1367 1211z"/>
<path fill="#536f25" d="M1249 1175L1246 1172L1246 1167L1249 1170zM1230 1071L1224 1065L1223 1057L1229 1063zM1344 1109L1351 1104L1360 1103L1353 1108zM1328 1207L1325 1206L1323 1203L1327 1203zM1249 1285L1248 1291L1244 1294L1245 1289zM1356 1058L1352 1056L1350 1050L1355 1053zM1225 1105L1230 1099L1238 1096L1233 1103zM1314 1152L1308 1146L1305 1137L1311 1144zM1079 1031L1075 1032L1073 1029L1077 1028zM1238 1170L1237 1166L1240 1163L1241 1168zM1087 1155L1083 1147L1082 1139L1086 1147zM1271 1129L1267 1134L1261 1137L1265 1132zM1083 1130L1080 1133L1075 1134L1078 1131zM1167 1285L1162 1288L1157 1286L1162 1284zM1274 1017L1271 1021L1265 1021L1269 1016zM1305 1034L1303 1038L1299 1038L1301 1034zM1089 1195L1092 1188L1099 1183L1095 1190zM1312 1047L1308 1048L1306 1045L1309 1044zM1230 1252L1229 1256L1225 1258L1226 1254zM1237 1142L1235 1139L1236 1136L1239 1139zM1295 1175L1290 1174L1287 1169L1292 1171zM1215 1162L1212 1160L1213 1156L1217 1158zM1103 1144L1095 1142L1089 1137L1097 1139zM1064 1288L1067 1279L1075 1274L1071 1282zM1318 1210L1310 1209L1303 1204L1311 1205zM1159 1271L1155 1277L1150 1281L1153 1275zM1099 1053L1091 1052L1083 1048L1092 1049zM1352 1274L1344 1277L1335 1277L1343 1275zM1101 1074L1102 1067L1107 1061L1106 1068zM1339 1058L1341 1053L1346 1051L1345 1056zM1305 1220L1304 1227L1298 1231L1299 1224zM1063 1111L1057 1113L1050 1112L1056 1110zM1363 1252L1357 1258L1350 1259L1355 1253zM1342 1210L1336 1204L1332 1197L1338 1203zM1234 1155L1230 1155L1227 1152L1231 1152zM1336 1136L1329 1130L1325 1122L1332 1128zM1058 1050L1054 1047L1052 1041L1056 1045zM1214 1187L1214 1184L1216 1181L1216 1185zM1200 1206L1194 1201L1192 1193L1198 1198zM1335 1049L1327 1050L1319 1047L1327 1046zM1357 1288L1349 1284L1343 1277L1351 1281zM1213 1208L1209 1209L1206 1205L1210 1204zM1247 1150L1239 1150L1232 1148L1239 1147zM1341 1022L1335 1017L1332 1010L1339 1014zM1119 1267L1115 1268L1111 1267L1115 1266zM1170 1166L1166 1168L1163 1165L1167 1163zM1307 1242L1301 1237L1297 1230L1303 1235zM1331 1203L1330 1194L1333 1185L1334 1194zM1070 1100L1063 1103L1056 1104L1063 1101zM1106 1199L1103 1207L1095 1212L1099 1204zM1081 1211L1085 1204L1092 1200L1088 1207zM1099 1099L1097 1108L1091 1114L1094 1106zM1346 1266L1338 1268L1329 1268L1337 1266zM1107 1181L1102 1174L1100 1166L1104 1173zM1118 1077L1118 1083L1114 1087L1114 1081zM1373 1232L1368 1236L1362 1236L1367 1232zM1237 1220L1235 1228L1230 1234L1231 1226zM1177 1285L1177 1281L1179 1276L1179 1281zM1089 1061L1086 1063L1082 1064L1085 1061zM1091 1130L1084 1136L1075 1137L1083 1132zM1079 1081L1078 1087L1074 1093L1076 1087zM1260 1077L1259 1084L1255 1090L1257 1084zM1364 1159L1367 1153L1372 1149L1369 1155zM1340 1101L1340 1107L1336 1112L1336 1105zM1300 1154L1297 1157L1293 1158L1296 1155zM1306 1100L1303 1109L1297 1116L1300 1107zM1207 1270L1210 1264L1217 1260L1213 1267zM1227 1210L1227 1204L1232 1199L1231 1205zM1148 1226L1142 1219L1140 1210L1147 1217zM1122 1019L1115 1019L1108 1017L1115 1016zM1089 1033L1081 1038L1072 1040L1080 1035z"/>
<path fill="#5f7d29" d="M1351 1121L1349 1116L1352 1111L1354 1117zM1113 1186L1112 1193L1109 1199L1109 1192zM1318 1118L1311 1122L1303 1124L1310 1120zM1321 1068L1317 1066L1314 1062L1319 1064zM1199 1143L1194 1146L1188 1145L1193 1142zM1261 1245L1256 1244L1253 1241L1258 1242zM1174 1260L1167 1257L1162 1251L1169 1255zM1121 1038L1120 1044L1116 1048L1117 1042zM1357 1105L1356 1100L1361 1098L1361 1103zM1282 1204L1275 1203L1270 1198L1277 1198zM1306 1227L1303 1223L1304 1218L1307 1222zM1104 1108L1108 1103L1114 1102L1110 1107zM1212 1132L1209 1137L1204 1138L1207 1133zM1223 1099L1220 1094L1220 1088L1223 1093zM1087 1032L1080 1035L1073 1033L1080 1030zM1356 1126L1349 1125L1342 1121L1349 1123zM1150 1162L1146 1158L1147 1153L1151 1157zM1224 1059L1223 1062L1220 1063L1221 1060zM1284 1269L1282 1273L1278 1276L1280 1272zM1244 1093L1236 1095L1228 1092L1236 1090zM1206 1235L1204 1241L1199 1245L1201 1238zM1173 1279L1169 1279L1166 1275L1170 1275zM1228 1035L1233 1031L1240 1030L1235 1035zM1198 1222L1195 1227L1190 1229L1193 1225zM1302 1216L1300 1213L1300 1210L1303 1212zM1088 1205L1087 1201L1090 1198L1092 1202zM1314 1032L1310 1038L1304 1044L1308 1037zM1071 1081L1067 1079L1067 1075L1071 1077zM1296 1090L1291 1089L1288 1086L1293 1086zM1296 1086L1291 1084L1288 1079L1293 1081zM1138 1063L1134 1069L1127 1071L1131 1065zM1330 1032L1327 1029L1328 1026L1331 1028zM1108 1246L1104 1244L1103 1240L1108 1241zM1145 1218L1142 1226L1137 1233L1139 1224zM1267 1029L1260 1034L1252 1037L1259 1032zM1243 1077L1238 1080L1231 1081L1237 1077zM1219 1257L1217 1261L1212 1261L1214 1257zM1237 1253L1235 1250L1234 1246L1236 1249zM1340 1092L1336 1089L1335 1083L1339 1087zM1126 1229L1119 1227L1115 1221L1122 1223zM1080 1134L1081 1138L1078 1140L1076 1136zM1225 1175L1225 1180L1222 1182L1222 1178zM1371 1116L1363 1111L1360 1103L1367 1108zM1192 1146L1189 1153L1183 1158L1185 1151zM1200 1130L1192 1133L1184 1131L1192 1128zM1376 1112L1372 1115L1367 1113L1372 1110zM1303 1172L1299 1169L1301 1165L1304 1168zM1348 1202L1348 1199L1351 1197L1351 1200zM1089 1080L1089 1084L1087 1087L1087 1083zM1295 1187L1289 1193L1281 1198L1287 1191zM1114 1074L1111 1071L1111 1067L1114 1070zM1345 1085L1338 1084L1333 1079L1340 1080zM1235 1080L1227 1083L1219 1080L1227 1077zM1299 1068L1302 1062L1308 1059L1305 1066zM1129 1208L1126 1206L1124 1203L1128 1204zM1258 1198L1258 1191L1263 1185L1262 1192zM1344 1029L1340 1027L1342 1022L1345 1025zM1109 1051L1108 1057L1103 1060L1104 1054zM1202 1260L1198 1256L1197 1250L1201 1254zM1181 1250L1176 1247L1176 1240L1181 1244zM1267 1277L1265 1280L1261 1281L1263 1277zM1123 1024L1114 1021L1107 1015L1116 1018zM1316 1167L1309 1170L1301 1169L1309 1166zM1154 1228L1146 1224L1140 1218L1148 1222zM1212 1229L1205 1228L1199 1223L1206 1225zM1284 1088L1279 1090L1275 1087L1280 1085zM1282 1096L1277 1098L1272 1097L1277 1095zM1369 1134L1365 1141L1359 1145L1363 1138zM1172 1260L1168 1262L1164 1262L1168 1260zM1351 1094L1342 1091L1335 1086L1344 1088zM1256 1192L1256 1188L1258 1185L1259 1189zM1292 1211L1285 1212L1279 1209L1286 1208zM1248 1226L1247 1235L1241 1242L1242 1233zM1331 1276L1327 1277L1322 1275L1327 1274zM1094 1116L1087 1113L1081 1108L1088 1111zM1228 1049L1226 1045L1228 1040L1230 1045zM1243 1203L1245 1195L1250 1189L1249 1197zM1117 1170L1111 1168L1108 1163L1114 1164zM1240 1112L1232 1116L1223 1116L1231 1112zM1373 1150L1370 1149L1369 1145L1373 1147zM1237 1114L1236 1107L1241 1101L1242 1109zM1299 1032L1291 1028L1285 1021L1293 1025zM1295 1177L1287 1175L1280 1170L1289 1172zM1297 1049L1292 1042L1288 1034L1294 1041zM1137 1192L1132 1185L1131 1177L1136 1184zM1335 1118L1331 1114L1331 1109L1335 1112z"/>
<path fill="#6c8b2f" d="M1297 1112L1290 1113L1285 1108L1292 1108zM1239 1024L1236 1018L1234 1011L1238 1017zM1261 1060L1257 1057L1256 1052L1260 1055zM1257 1117L1252 1111L1252 1104L1257 1109zM1367 1150L1361 1154L1353 1154L1359 1150zM1319 1138L1319 1144L1314 1147L1315 1141zM1131 1175L1127 1174L1124 1171L1128 1172zM1237 1027L1232 1024L1231 1018L1236 1022zM1184 1168L1179 1174L1172 1175L1177 1170zM1262 1127L1265 1122L1270 1121L1267 1126zM1177 1202L1175 1208L1172 1212L1173 1207zM1132 1264L1125 1262L1120 1257L1127 1259zM1129 1030L1121 1028L1116 1022L1123 1024zM1370 1083L1364 1087L1358 1085L1363 1082zM1148 1225L1144 1228L1139 1229L1143 1226zM1262 1280L1255 1280L1248 1277L1256 1276zM1277 1237L1272 1239L1266 1240L1271 1237zM1232 1208L1227 1206L1224 1201L1229 1203zM1352 1228L1355 1223L1361 1222L1358 1227zM1240 1113L1237 1118L1231 1118L1235 1113zM1318 1054L1320 1051L1323 1050L1321 1053zM1285 1266L1284 1271L1280 1273L1281 1269zM1363 1053L1358 1052L1356 1047L1361 1048zM1231 1223L1227 1223L1225 1220L1229 1220zM1347 1098L1343 1095L1342 1089L1347 1093zM1224 1291L1222 1286L1221 1280L1224 1285zM1155 1269L1158 1262L1164 1258L1161 1265zM1187 1176L1183 1171L1184 1165L1187 1170zM1254 1241L1248 1245L1241 1246L1247 1241zM1105 1147L1096 1147L1088 1141L1097 1142zM1304 1178L1297 1175L1292 1170L1298 1173zM1245 1126L1244 1133L1240 1139L1241 1132zM1342 1291L1338 1288L1337 1283L1341 1286zM1229 1072L1222 1072L1215 1069L1222 1069zM1094 1017L1087 1022L1079 1025L1086 1020zM1348 1274L1344 1274L1340 1272L1344 1272zM1301 1115L1299 1122L1294 1128L1296 1121zM1117 1171L1112 1171L1112 1166L1117 1167zM1326 1267L1322 1260L1323 1252L1327 1259zM1263 1052L1264 1044L1268 1037L1267 1044zM1109 1105L1102 1110L1094 1110L1101 1105zM1312 1165L1311 1162L1312 1158L1314 1162zM1228 1244L1221 1249L1214 1249L1220 1244zM1213 1123L1211 1131L1206 1137L1208 1129zM1314 1110L1308 1112L1303 1111L1308 1110zM1089 1073L1084 1066L1083 1058L1088 1065zM1210 1161L1209 1166L1205 1168L1206 1163zM1217 1163L1210 1167L1202 1168L1209 1164zM1188 1270L1186 1265L1186 1261L1188 1265zM1106 1047L1107 1043L1110 1039L1109 1044zM1201 1106L1196 1101L1193 1093L1199 1099zM1107 1045L1100 1041L1093 1036L1101 1039zM1265 1128L1270 1123L1277 1121L1272 1127zM1267 1099L1269 1094L1273 1090L1271 1096zM1108 1192L1102 1195L1096 1195L1101 1192zM1136 1196L1127 1196L1119 1192L1128 1192zM1304 1183L1299 1183L1296 1179L1301 1179zM1249 1128L1248 1132L1244 1132L1245 1128zM1344 1013L1341 1020L1336 1027L1339 1019zM1221 1094L1218 1102L1212 1109L1214 1100zM1333 1076L1326 1072L1320 1067L1327 1070zM1261 1029L1257 1032L1252 1032L1256 1029zM1124 1112L1119 1114L1113 1111L1119 1110zM1374 1051L1370 1046L1368 1039L1373 1044zM1114 1117L1112 1125L1107 1131L1109 1124zM1240 1150L1243 1142L1248 1135L1245 1143zM1332 1204L1331 1211L1326 1217L1328 1210zM1144 1245L1137 1241L1134 1234L1140 1238zM1061 1062L1059 1059L1059 1055L1061 1058zM1203 1217L1199 1220L1194 1219L1198 1216zM1175 1184L1171 1188L1166 1188L1170 1184zM1163 1233L1156 1233L1150 1230L1157 1229zM1265 1111L1260 1107L1258 1101L1263 1105z"/>
<path fill="#7a9b36" d="M1182 1283L1176 1289L1168 1292L1175 1287zM1127 1162L1129 1155L1135 1150L1133 1157zM1226 1154L1222 1154L1220 1151L1224 1150zM1250 1220L1243 1220L1238 1216L1244 1216zM1132 1221L1129 1219L1129 1215L1133 1217zM1366 1194L1360 1192L1357 1186L1363 1188zM1343 1184L1343 1189L1340 1193L1340 1188zM1198 1145L1200 1136L1207 1129L1205 1138zM1346 1199L1338 1202L1330 1203L1337 1200zM1308 1262L1301 1259L1296 1254L1303 1257zM1213 1094L1209 1097L1205 1095L1208 1092zM1269 1043L1260 1039L1254 1033L1262 1037zM1186 1145L1182 1148L1176 1149L1181 1145zM1339 1198L1342 1192L1349 1189L1346 1195zM1237 1162L1232 1159L1229 1154L1235 1157zM1305 1168L1301 1170L1296 1169L1300 1167zM1175 1294L1169 1289L1168 1282L1173 1287zM1345 1181L1350 1175L1357 1172L1352 1178zM1204 1125L1198 1131L1190 1134L1197 1129zM1337 1032L1330 1036L1321 1036L1329 1031zM1260 1103L1256 1105L1254 1102L1257 1100zM1254 1074L1254 1069L1259 1067L1258 1072zM1145 1081L1139 1077L1134 1070L1141 1074zM1258 1117L1253 1117L1249 1115L1254 1115zM1183 1217L1176 1222L1168 1223L1174 1218zM1209 1259L1203 1257L1198 1253L1204 1255zM1140 1160L1137 1158L1137 1155L1141 1157zM1113 1059L1106 1054L1102 1046L1109 1051zM1258 1147L1256 1141L1258 1135L1261 1141zM1330 1204L1331 1211L1326 1217L1326 1210zM1292 1053L1291 1056L1288 1059L1289 1055zM1103 1043L1098 1044L1094 1042L1099 1042zM1183 1214L1175 1214L1168 1209L1176 1209zM1358 1292L1358 1286L1360 1280L1360 1287zM1132 1021L1128 1018L1126 1013L1131 1016zM1347 1179L1340 1182L1333 1181L1339 1179zM1294 1096L1291 1100L1286 1101L1289 1097zM1062 1029L1055 1028L1049 1025L1056 1025zM1213 1150L1211 1146L1214 1142L1216 1147zM1247 1059L1243 1056L1244 1051L1248 1054zM1103 1121L1103 1125L1099 1128L1100 1124zM1136 1209L1135 1212L1131 1212L1133 1209zM1130 1022L1127 1018L1127 1013L1129 1017zM1154 1073L1154 1080L1150 1087L1151 1079zM1152 1230L1147 1225L1144 1218L1149 1224zM1318 1245L1326 1241L1335 1239L1327 1244zM1225 1267L1222 1271L1217 1270L1220 1267zM1095 1140L1091 1143L1086 1141L1091 1138zM1230 1268L1226 1267L1222 1264L1227 1264zM1269 1025L1263 1024L1257 1021L1263 1022zM1309 1043L1303 1044L1298 1040L1304 1039zM1141 1080L1135 1083L1130 1081L1135 1077zM1160 1284L1156 1284L1152 1281L1156 1281zM1358 1232L1358 1238L1354 1243L1354 1237zM1356 1056L1356 1063L1352 1069L1352 1062zM1109 1044L1112 1041L1116 1042L1113 1045zM1255 1045L1251 1042L1249 1037L1254 1040zM1109 1068L1105 1066L1104 1061L1109 1063zM1208 1151L1208 1156L1204 1159L1203 1154zM1280 1265L1275 1269L1269 1270L1274 1266zM1138 1216L1132 1213L1129 1207L1135 1210zM1369 1142L1362 1144L1355 1142L1362 1140zM1320 1201L1316 1199L1314 1194L1319 1196zM1266 1139L1262 1135L1260 1130L1264 1133zM1236 1114L1232 1110L1232 1104L1235 1108zM1345 1113L1339 1112L1337 1107L1342 1108zM1302 1039L1304 1033L1308 1029L1306 1035zM1166 1272L1163 1269L1166 1265L1168 1269zM1287 1215L1289 1211L1293 1211L1291 1214zM1110 1072L1107 1077L1102 1079L1105 1074zM1152 1242L1144 1240L1138 1235L1146 1237z"/>
<path fill="#88a940" d="M1141 1106L1137 1104L1136 1099L1140 1101zM1369 1164L1361 1169L1352 1171L1360 1166zM1310 1164L1305 1163L1305 1158L1309 1159zM1301 1119L1296 1119L1294 1115L1299 1115zM1213 1159L1209 1157L1208 1152L1212 1154zM1171 1089L1166 1092L1160 1091L1165 1088zM1338 1281L1330 1284L1321 1283L1329 1280zM1302 1134L1296 1135L1290 1133L1296 1133zM1125 1179L1121 1175L1121 1169L1125 1173zM1178 1176L1171 1178L1164 1177L1171 1176zM1145 1059L1140 1059L1135 1056L1140 1056zM1276 1105L1271 1103L1270 1099L1274 1100zM1233 1263L1231 1268L1228 1271L1229 1267zM1168 1067L1166 1071L1162 1069L1164 1066zM1365 1080L1362 1087L1355 1091L1358 1083zM1314 1102L1318 1099L1323 1099L1319 1103zM1246 1017L1241 1016L1238 1012L1243 1012zM1330 1202L1332 1197L1337 1194L1335 1199zM1328 1042L1320 1038L1315 1031L1322 1036zM1255 1146L1251 1144L1249 1140L1253 1142zM1266 1128L1263 1135L1256 1139L1259 1132zM1270 1022L1274 1016L1279 1013L1276 1018zM1321 1132L1315 1130L1312 1126L1317 1128zM1308 1291L1304 1290L1302 1288L1305 1288zM1179 1270L1174 1268L1171 1264L1175 1266zM1156 1079L1153 1083L1148 1084L1151 1079zM1283 1264L1279 1256L1277 1248L1281 1255zM1246 1193L1242 1195L1237 1195L1242 1193zM1189 1194L1184 1202L1175 1205L1180 1197zM1193 1060L1193 1056L1197 1054L1197 1058zM1279 1120L1276 1123L1272 1124L1275 1121zM1377 1223L1369 1225L1360 1223L1369 1221zM1221 1037L1218 1044L1212 1048L1215 1041zM1292 1115L1290 1120L1284 1122L1287 1117zM1284 1065L1277 1069L1269 1069L1276 1065zM1215 1152L1209 1155L1202 1154L1209 1151zM1259 1258L1255 1257L1254 1254L1258 1254zM1339 1263L1333 1263L1328 1260L1334 1260zM1121 1056L1114 1060L1106 1060L1113 1057zM1142 1235L1135 1233L1132 1226L1139 1229zM1244 1077L1238 1075L1236 1070L1242 1071zM1167 1272L1163 1271L1160 1267L1165 1268zM1240 1118L1235 1111L1235 1103L1240 1109zM1267 1274L1263 1272L1260 1268L1265 1270zM1300 1257L1294 1257L1289 1253L1295 1252zM1194 1068L1196 1064L1201 1061L1198 1066zM1295 1221L1289 1222L1284 1220L1289 1219zM1143 1049L1139 1047L1140 1043L1144 1045zM1322 1056L1317 1059L1313 1057L1317 1054zM1338 1094L1338 1089L1342 1087L1342 1092zM1132 1103L1134 1098L1139 1096L1137 1101zM1220 1288L1217 1292L1211 1292L1214 1287zM1271 1209L1266 1209L1265 1205L1269 1205zM1196 1068L1192 1076L1184 1081L1189 1073zM1180 1066L1175 1067L1170 1065L1175 1063zM1323 1035L1319 1039L1314 1038L1318 1034zM1225 1184L1219 1187L1213 1189L1219 1186zM1262 1288L1258 1289L1254 1287L1258 1286zM1198 1243L1200 1238L1206 1238L1203 1243zM1128 1116L1120 1120L1112 1121L1119 1116zM1331 1284L1323 1281L1317 1275L1325 1278zM1191 1247L1183 1247L1177 1242L1184 1242zM1251 1035L1249 1042L1244 1047L1246 1040zM1352 1099L1350 1108L1345 1115L1347 1107z"/>
<path fill="#98b64d" d="M1123 1075L1119 1071L1120 1065L1124 1069zM1224 1168L1222 1176L1215 1180L1217 1173zM1184 1281L1175 1277L1170 1269L1179 1273zM1152 1018L1145 1018L1139 1015L1146 1015zM1266 1103L1258 1103L1251 1099L1259 1099zM1310 1182L1306 1184L1303 1182L1306 1180zM1155 1048L1149 1043L1146 1036L1152 1040zM1358 1269L1361 1265L1366 1264L1363 1268zM1196 1218L1193 1223L1187 1226L1190 1221zM1147 1222L1139 1217L1134 1209L1142 1213zM1299 1062L1300 1057L1305 1057L1303 1061zM1210 1183L1205 1177L1201 1169L1207 1176zM1283 1138L1275 1140L1267 1140L1275 1138zM1193 1219L1193 1213L1197 1208L1197 1214zM1221 1216L1216 1216L1212 1211L1218 1212zM1222 1184L1221 1192L1215 1197L1217 1190zM1142 1205L1148 1199L1157 1197L1150 1203zM1255 1180L1256 1172L1261 1166L1260 1174zM1335 1032L1329 1036L1321 1035L1327 1031zM1270 1175L1271 1170L1275 1168L1275 1173zM1349 1088L1341 1089L1333 1089L1341 1087zM1291 1266L1285 1261L1279 1254L1286 1259zM1242 1075L1239 1075L1236 1073L1240 1073zM1371 1155L1364 1157L1358 1156L1364 1154zM1265 1094L1263 1090L1265 1087L1268 1090zM1322 1023L1330 1019L1338 1018L1331 1022zM1320 1081L1313 1075L1311 1066L1317 1072zM1158 1048L1153 1049L1149 1047L1154 1046zM1278 1068L1273 1065L1271 1061L1276 1063zM1254 1140L1250 1139L1247 1136L1251 1137zM1361 1167L1353 1163L1348 1156L1356 1160zM1289 1088L1281 1085L1275 1079L1282 1082zM1325 1248L1324 1254L1318 1257L1320 1251zM1266 1093L1259 1092L1253 1089L1260 1090zM1209 1055L1211 1049L1216 1045L1214 1051zM1331 1121L1331 1127L1326 1129L1326 1123zM1348 1191L1341 1192L1334 1189L1341 1188zM1286 1272L1282 1275L1276 1276L1281 1273zM1189 1197L1181 1197L1174 1193L1182 1193zM1254 1275L1258 1270L1263 1267L1259 1272zM1370 1228L1364 1221L1361 1213L1367 1219zM1283 1100L1281 1105L1278 1110L1279 1104zM1296 1281L1292 1273L1290 1265L1294 1272zM1370 1256L1364 1255L1359 1251L1365 1251zM1207 1086L1200 1085L1195 1081L1202 1082zM1171 1031L1163 1029L1156 1024L1164 1026zM1182 1182L1176 1183L1171 1179L1177 1179zM1240 1024L1239 1028L1235 1030L1236 1026zM1147 1038L1142 1035L1139 1030L1144 1033zM1180 1085L1173 1086L1168 1082L1175 1081zM1337 1235L1338 1229L1344 1227L1342 1233zM1262 1219L1259 1224L1254 1229L1257 1223zM1166 1154L1162 1151L1160 1147L1164 1150zM1162 1094L1166 1089L1171 1086L1168 1091zM1317 1041L1322 1036L1328 1033L1324 1038zM1169 1220L1164 1222L1158 1222L1163 1220zM1122 1162L1118 1163L1116 1159L1120 1159zM1310 1112L1301 1111L1294 1106L1303 1107zM1279 1227L1283 1225L1287 1225L1283 1227zM1118 1022L1114 1024L1110 1023L1114 1021zM1251 1196L1254 1192L1258 1191L1256 1195zM1250 1111L1249 1116L1244 1118L1245 1113zM1167 1114L1164 1118L1159 1119L1161 1114zM1302 1287L1299 1284L1300 1280L1302 1283zM1198 1172L1190 1177L1181 1176L1189 1171zM1213 1029L1209 1030L1206 1027L1210 1025zM1194 1266L1187 1266L1182 1263L1188 1264zM1322 1055L1316 1062L1309 1067L1314 1060zM1274 1213L1269 1207L1269 1199L1274 1206z"/>
<path fill="#a7c35c" d="M1201 1176L1197 1183L1189 1187L1194 1180zM1145 1052L1142 1051L1140 1048L1144 1049zM1238 1159L1233 1155L1233 1150L1237 1153zM1368 1075L1365 1073L1363 1069L1366 1071zM1281 1272L1275 1272L1269 1270L1275 1270zM1356 1049L1357 1041L1360 1034L1360 1042zM1238 1186L1242 1182L1248 1181L1244 1186zM1122 1109L1119 1106L1120 1103L1123 1105zM1346 1241L1340 1241L1335 1236L1342 1237zM1152 1050L1148 1050L1144 1048L1149 1048zM1217 1230L1208 1229L1200 1224L1209 1225zM1329 1278L1324 1275L1319 1271L1325 1273zM1311 1257L1308 1249L1310 1240L1313 1249zM1218 1032L1213 1026L1211 1018L1216 1024zM1130 1196L1125 1194L1124 1189L1129 1191zM1306 1023L1302 1025L1297 1024L1302 1022zM1151 1072L1149 1075L1146 1075L1148 1072zM1266 1171L1259 1167L1254 1161L1261 1164zM1337 1205L1336 1210L1332 1211L1332 1206zM1259 1034L1255 1034L1252 1031L1256 1031zM1160 1082L1157 1086L1152 1086L1155 1082zM1318 1182L1319 1186L1315 1189L1315 1184zM1377 1098L1371 1103L1363 1102L1369 1097zM1189 1210L1184 1214L1179 1215L1183 1211zM1362 1239L1358 1240L1354 1237L1359 1236zM1153 1106L1147 1103L1143 1098L1149 1100zM1165 1098L1159 1102L1153 1103L1158 1099zM1200 1129L1196 1131L1192 1128L1196 1126zM1171 1152L1168 1155L1164 1154L1167 1151zM1192 1096L1197 1090L1205 1088L1199 1093zM1281 1255L1277 1260L1271 1262L1275 1257zM1291 1126L1293 1118L1299 1112L1296 1120zM1138 1205L1135 1203L1136 1199L1139 1202zM1281 1154L1277 1155L1274 1151L1279 1150zM1322 1085L1323 1089L1319 1093L1318 1088zM1263 1150L1260 1148L1260 1145L1263 1146zM1300 1130L1296 1134L1290 1134L1294 1130zM1340 1098L1336 1094L1336 1089L1340 1092zM1267 1246L1266 1250L1264 1253L1264 1249zM1201 1177L1201 1183L1198 1188L1198 1182zM1121 1145L1120 1136L1124 1127L1125 1136zM1208 1255L1203 1259L1197 1261L1202 1256zM1183 1060L1178 1065L1171 1066L1176 1061zM1276 1233L1272 1232L1270 1230L1273 1230zM1179 1100L1177 1095L1178 1089L1180 1094zM1210 1089L1212 1084L1217 1085L1215 1089zM1290 1108L1286 1106L1286 1102L1289 1104zM1267 1124L1262 1127L1257 1127L1261 1123zM1309 1102L1302 1107L1294 1111L1301 1105zM1308 1268L1300 1267L1295 1263L1302 1263zM1244 1037L1239 1032L1238 1025L1243 1030zM1225 1241L1219 1243L1213 1240L1220 1238zM1126 1089L1125 1080L1128 1072L1129 1081zM1133 1011L1126 1017L1118 1020L1125 1015z"/>
<path fill="#b6cd72" d="M1335 1266L1333 1269L1330 1270L1331 1267zM1130 1133L1124 1139L1116 1143L1121 1136zM1099 1035L1102 1031L1106 1028L1103 1032zM1227 1098L1224 1103L1219 1106L1221 1101zM1163 1188L1158 1188L1156 1184L1160 1184zM1131 1139L1128 1140L1125 1139L1128 1137zM1273 1032L1268 1036L1261 1035L1266 1031zM1213 1194L1211 1187L1214 1180L1216 1187zM1238 1200L1231 1199L1226 1194L1233 1194zM1197 1095L1193 1091L1193 1085L1197 1089zM1285 1151L1279 1149L1277 1143L1283 1145zM1360 1286L1355 1285L1351 1280L1357 1282zM1240 1056L1236 1062L1230 1064L1233 1058zM1211 1033L1207 1030L1206 1025L1210 1028zM1233 1082L1232 1087L1226 1090L1228 1084zM1247 1035L1245 1026L1248 1018L1251 1027zM1182 1208L1176 1214L1168 1216L1174 1210zM1291 1185L1287 1183L1288 1179L1291 1181zM1314 1192L1310 1190L1310 1185L1314 1187zM1275 1211L1271 1211L1268 1208L1272 1208zM1165 1090L1165 1093L1162 1095L1163 1092zM1178 1197L1181 1194L1186 1194L1183 1197zM1283 1260L1282 1267L1278 1272L1278 1265zM1194 1211L1186 1216L1177 1216L1185 1211zM1291 1278L1284 1275L1278 1270L1285 1273zM1180 1179L1176 1179L1173 1175L1178 1176zM1156 1145L1160 1137L1165 1130L1162 1138zM1176 1101L1183 1096L1190 1094L1184 1098zM1142 1092L1136 1087L1134 1079L1140 1084zM1199 1144L1204 1138L1211 1136L1206 1142zM1263 1051L1259 1050L1258 1046L1263 1047zM1178 1117L1174 1124L1167 1128L1171 1121zM1234 1157L1232 1160L1229 1162L1231 1159zM1287 1228L1289 1221L1293 1215L1291 1222zM1163 1067L1157 1074L1150 1079L1156 1072zM1259 1207L1263 1204L1267 1204L1264 1207zM1356 1274L1352 1275L1347 1273L1352 1272zM1187 1195L1180 1190L1175 1184L1182 1188zM1143 1075L1137 1072L1133 1067L1140 1069zM1179 1152L1175 1157L1169 1161L1173 1155zM1210 1210L1206 1207L1204 1202L1209 1204zM1241 1035L1232 1037L1223 1033L1232 1032zM1253 1197L1252 1202L1247 1204L1248 1199zM1158 1020L1153 1016L1152 1009L1157 1014zM1256 1047L1255 1050L1251 1051L1252 1047zM1223 1085L1226 1077L1232 1071L1229 1079zM1282 1045L1277 1041L1274 1035L1279 1039zM1166 1197L1164 1200L1160 1200L1162 1197zM1125 1046L1127 1042L1131 1043L1129 1047zM1188 1052L1183 1048L1182 1041L1187 1046zM1350 1050L1348 1058L1342 1065L1344 1057zM1378 1037L1370 1033L1363 1026L1371 1030z"/>
<path fill="#c4d787" d="M1233 1068L1226 1067L1219 1064L1226 1065zM1265 1126L1259 1124L1254 1120L1260 1122zM1195 1034L1194 1025L1198 1018L1199 1026zM1100 1041L1101 1036L1106 1036L1105 1040zM1351 1017L1348 1025L1340 1028L1344 1021zM1171 1069L1174 1061L1180 1056L1177 1063zM1229 1095L1225 1095L1223 1091L1227 1091zM1288 1156L1284 1159L1280 1159L1283 1156zM1309 1234L1311 1227L1317 1225L1315 1231zM1141 1125L1134 1123L1129 1118L1136 1120zM1139 1083L1133 1090L1126 1094L1131 1088zM1304 1225L1303 1217L1307 1210L1308 1218zM1140 1045L1136 1038L1134 1029L1139 1037zM1139 1044L1137 1048L1132 1046L1135 1043zM1251 1150L1255 1143L1261 1140L1258 1146zM1204 1162L1206 1157L1210 1154L1209 1159zM1287 1146L1282 1142L1281 1136L1286 1140zM1140 1079L1139 1083L1135 1083L1136 1079zM1247 1030L1246 1037L1241 1043L1243 1036zM1255 1020L1255 1023L1253 1026L1253 1023zM1176 1091L1173 1085L1172 1078L1176 1084zM1163 1105L1156 1108L1150 1105L1156 1103zM1205 1039L1198 1038L1193 1032L1201 1033z"/>
<path fill="#d1dfa3" d="M1214 1107L1210 1111L1205 1113L1209 1109zM1208 1032L1207 1040L1201 1046L1203 1038zM1172 1171L1165 1169L1161 1164L1168 1165zM1208 1017L1203 1022L1196 1023L1201 1018zM1148 1125L1146 1128L1143 1129L1145 1125zM1151 1131L1153 1128L1157 1129L1154 1132zM1248 1143L1240 1141L1234 1135L1242 1136zM1207 1073L1199 1070L1192 1066L1200 1069zM1148 1185L1144 1186L1140 1184L1144 1183zM1164 1144L1160 1147L1156 1145L1160 1142zM1198 1209L1196 1217L1189 1223L1191 1214zM1186 1181L1186 1172L1189 1164L1189 1173zM1144 1178L1139 1179L1134 1175L1140 1175zM1279 1023L1271 1026L1262 1024L1271 1022zM1223 1021L1217 1023L1211 1022L1217 1020zM1170 1097L1166 1094L1164 1090L1168 1093zM1233 1045L1230 1039L1232 1033L1235 1039zM1236 1108L1230 1108L1225 1105L1231 1105zM1242 1019L1235 1018L1231 1014L1237 1015zM1111 1045L1105 1049L1097 1049L1103 1044zM1127 1062L1120 1062L1114 1059L1121 1059z"/>
<path fill="#dee7bf" d="M1145 1105L1138 1098L1136 1089L1142 1096zM1204 1062L1202 1070L1198 1075L1199 1068zM1222 1089L1214 1088L1208 1083L1216 1084zM1166 1121L1161 1122L1156 1121L1161 1119zM1132 1043L1125 1040L1120 1036L1127 1038zM1194 1123L1186 1121L1179 1114L1188 1117zM1153 1037L1149 1034L1148 1029L1152 1032zM1148 1038L1143 1037L1142 1033L1146 1034zM1229 1016L1225 1017L1223 1014L1227 1013zM1195 1166L1194 1157L1197 1149L1199 1158zM1200 1124L1193 1122L1187 1118L1194 1120zM1213 1035L1211 1042L1206 1046L1208 1040zM1260 1023L1255 1017L1253 1010L1258 1015zM1149 1175L1149 1168L1151 1161L1151 1168zM1152 1100L1150 1107L1146 1113L1147 1106zM1144 1175L1145 1167L1151 1161L1150 1169zM1237 1046L1238 1040L1243 1037L1242 1043zM1147 1173L1143 1171L1144 1167L1148 1169zM1190 1049L1186 1045L1187 1039L1190 1043zM1115 1055L1112 1055L1109 1053L1113 1052zM1207 1026L1203 1029L1199 1026L1203 1024z"/>
<path fill="#e8eed4" d="M1221 1044L1216 1043L1212 1039L1217 1040zM1165 1022L1162 1020L1159 1017L1163 1018zM1229 1061L1228 1057L1228 1052L1230 1057zM1187 1154L1184 1151L1184 1147L1188 1150zM1177 1017L1178 1022L1175 1023L1174 1019zM1209 1121L1206 1121L1203 1119L1206 1119zM1195 1039L1199 1032L1205 1027L1201 1034zM1133 1048L1126 1050L1118 1050L1125 1048zM1169 1032L1165 1037L1158 1038L1162 1033zM1143 1147L1140 1153L1135 1158L1138 1152zM1179 1092L1179 1087L1181 1084L1181 1088zM1208 1051L1203 1048L1198 1044L1204 1046zM1224 1018L1220 1016L1220 1012L1224 1014zM1173 1026L1165 1025L1159 1019L1167 1020z"/>
<path fill="#f1f4e5" d="M1165 1017L1161 1022L1154 1022L1158 1017zM1180 1076L1171 1078L1162 1076L1171 1073zM1131 1050L1129 1057L1125 1062L1127 1055zM1156 1140L1152 1144L1146 1144L1150 1140zM1160 1051L1156 1048L1156 1042L1159 1046zM1206 1036L1198 1032L1194 1024L1202 1028zM1169 1096L1163 1101L1155 1104L1161 1099zM1162 1039L1158 1042L1155 1039L1158 1037zM1120 1060L1118 1055L1122 1052L1124 1057zM1170 1088L1169 1078L1173 1070L1173 1079zM1218 1059L1218 1052L1221 1045L1221 1053zM1157 1058L1153 1057L1152 1052L1157 1053zM1214 1017L1211 1019L1207 1018L1210 1016zM1145 1026L1137 1030L1128 1031L1136 1027zM1165 1066L1159 1063L1155 1057L1162 1060zM1144 1066L1139 1066L1135 1062L1141 1062zM1153 1120L1157 1116L1163 1117L1159 1121zM1175 1113L1171 1121L1164 1125L1169 1118zM1187 1091L1186 1083L1188 1075L1190 1083zM1187 1113L1185 1107L1187 1100L1189 1107zM1157 1114L1151 1108L1148 1100L1154 1106zM1191 1085L1184 1079L1180 1071L1188 1076zM1178 1030L1171 1028L1167 1021L1174 1024zM1182 1073L1176 1078L1169 1080L1175 1076zM1130 1028L1126 1032L1122 1031L1125 1028zM1155 1085L1146 1083L1139 1078L1148 1079zM1226 1021L1220 1025L1212 1028L1219 1023zM1138 1019L1133 1018L1130 1013L1136 1014zM1232 1037L1227 1037L1224 1033L1229 1033zM1178 1049L1181 1043L1187 1040L1184 1046zM1165 1036L1164 1032L1166 1027L1167 1032zM1163 1169L1155 1169L1147 1166L1156 1165zM1157 1115L1149 1115L1142 1110L1150 1110zM1163 1028L1164 1024L1168 1024L1167 1028zM1147 1104L1146 1110L1141 1113L1143 1108zM1185 1075L1179 1069L1177 1062L1182 1068zM1124 1058L1128 1053L1134 1051L1130 1057zM1205 1031L1204 1037L1201 1043L1201 1036zM1168 1130L1163 1133L1158 1132L1162 1129zM1159 1058L1156 1056L1156 1053L1159 1055zM1161 1093L1160 1099L1157 1103L1158 1097zM1188 1035L1181 1032L1175 1025L1183 1029zM1161 1097L1156 1102L1149 1106L1154 1101zM1159 1103L1156 1103L1154 1100L1157 1100zM1138 1133L1136 1129L1138 1125L1140 1129zM1211 1045L1209 1042L1209 1039L1211 1041zM1190 1137L1185 1138L1181 1134L1186 1134zM1206 1027L1200 1033L1193 1035L1198 1029zM1204 1033L1203 1038L1198 1040L1199 1035zM1228 1010L1228 1016L1224 1022L1224 1015zM1154 1017L1153 1022L1149 1024L1150 1019zM1171 1135L1167 1135L1165 1131L1170 1131z"/>
<path fill="#486220" d="M1242 1278L1237 1270L1229 1265L1234 1272zM1249 1261L1258 1264L1267 1263L1257 1260zM1255 1250L1263 1253L1270 1253L1262 1250zM1261 1240L1268 1243L1274 1243L1268 1240z"/>
<path fill="#536f25" d="M1244 1272L1240 1265L1233 1260L1237 1267zM1246 1266L1243 1260L1237 1255L1240 1261zM1246 1266L1256 1269L1265 1268L1255 1265zM1261 1240L1261 1235L1257 1231L1258 1236zM1368 1086L1377 1093L1386 1097L1378 1090zM1309 1176L1312 1174L1312 1171L1309 1173zM1219 1268L1226 1270L1233 1269L1226 1267zM1226 1252L1231 1253L1236 1251L1230 1250z"/>
<path fill="#5f7d29" d="M1255 1250L1253 1244L1249 1240L1250 1246zM1258 1245L1257 1240L1253 1236L1254 1241zM1258 1245L1265 1248L1272 1248L1265 1245zM1304 1245L1309 1244L1311 1240L1306 1241zM1303 1237L1300 1234L1295 1234L1298 1237zM1303 1225L1307 1226L1309 1224L1306 1223zM1304 1222L1304 1219L1301 1219L1301 1222zM1381 1076L1388 1082L1396 1085L1389 1079zM1385 1073L1386 1067L1384 1062L1383 1067zM1307 1174L1304 1173L1300 1175L1303 1176zM1315 1232L1308 1236L1302 1244L1310 1240zM1312 1231L1304 1234L1299 1241L1306 1237zM1312 1231L1312 1225L1310 1220L1309 1226zM1288 1213L1284 1213L1280 1216L1284 1216zM1226 1252L1224 1248L1220 1246L1221 1250zM1227 1247L1232 1249L1236 1246L1231 1245z"/>
<path fill="#6c8b2f" d="M1249 1261L1246 1254L1240 1250L1243 1256zM1303 1237L1307 1236L1309 1233L1305 1234zM1303 1231L1307 1231L1309 1229L1305 1228zM1303 1228L1302 1225L1298 1225L1299 1228zM1372 1083L1380 1090L1390 1093L1381 1086zM1376 1080L1378 1073L1376 1067L1374 1073zM1389 1069L1396 1075L1403 1077L1397 1071zM1306 1171L1309 1170L1309 1167L1306 1168zM1301 1224L1295 1226L1290 1231L1296 1229zM1297 1221L1292 1223L1287 1227L1293 1226zM1294 1219L1289 1219L1285 1224L1290 1223zM1291 1216L1293 1213L1292 1209L1290 1212zM1217 1272L1225 1274L1232 1274L1224 1271zM1225 1256L1230 1257L1235 1256L1229 1254z"/>
<path fill="#7a9b36" d="M1244 1272L1254 1274L1264 1273L1253 1270zM1252 1256L1260 1258L1268 1258L1260 1255zM1265 1235L1265 1230L1262 1227L1262 1232zM1303 1225L1303 1222L1299 1222L1300 1225zM1245 1036L1244 1029L1240 1024L1241 1030zM1235 1033L1234 1027L1230 1023L1231 1028zM1220 1028L1219 1024L1216 1020L1216 1025zM1372 1083L1373 1076L1371 1069L1370 1076zM1394 1066L1399 1071L1406 1073L1400 1068zM1402 1059L1404 1055L1402 1051L1400 1055zM1314 1183L1317 1180L1317 1176L1314 1179zM1303 1166L1301 1165L1298 1167L1300 1168zM1303 1166L1306 1165L1306 1163L1303 1164zM1245 1068L1244 1063L1241 1059L1241 1064zM1241 1067L1240 1062L1236 1059L1237 1063zM1220 1065L1217 1068L1216 1073L1220 1070zM1304 1226L1306 1222L1304 1217L1302 1222zM1225 1256L1223 1252L1218 1249L1220 1254zM1287 1106L1293 1110L1299 1111L1293 1106zM1290 1103L1291 1098L1288 1094L1287 1099zM1293 1100L1294 1096L1292 1092L1291 1096z"/>
<path fill="#88a940" d="M1252 1256L1250 1249L1244 1245L1246 1251zM1304 1245L1300 1243L1294 1244L1298 1246zM1303 1239L1300 1237L1295 1237L1298 1240zM1303 1234L1300 1231L1296 1231L1298 1234zM1303 1231L1301 1228L1297 1228L1299 1231zM1250 1037L1242 1044L1236 1053L1244 1046zM1240 1034L1233 1040L1228 1048L1235 1042zM1310 1179L1306 1178L1302 1180L1306 1181zM1307 1174L1311 1172L1311 1169L1307 1170zM1302 1164L1300 1162L1297 1164L1299 1166zM1252 1071L1245 1075L1240 1082L1247 1078zM1237 1066L1232 1070L1229 1077L1234 1073zM1229 1065L1224 1069L1223 1075L1227 1071zM1315 1232L1316 1227L1313 1221L1312 1227zM1304 1226L1298 1229L1293 1234L1299 1232zM1294 1219L1296 1215L1295 1211L1293 1215zM1288 1213L1290 1210L1289 1207L1287 1210zM1215 1275L1214 1269L1209 1265L1210 1271zM1215 1275L1223 1279L1231 1278L1223 1275zM1221 1264L1220 1259L1215 1256L1216 1261zM1223 1260L1221 1255L1217 1253L1218 1257zM1228 1243L1233 1244L1236 1242L1231 1241zM1281 1112L1281 1106L1278 1101L1278 1107zM1284 1109L1290 1113L1297 1114L1291 1110z"/>
<path fill="#98b64d" d="M1242 1278L1253 1279L1263 1277L1252 1276zM1303 1239L1307 1239L1310 1236L1305 1236zM1255 1039L1254 1031L1249 1025L1251 1033zM1214 1027L1215 1022L1211 1019L1211 1024zM1381 1076L1382 1070L1380 1064L1379 1070zM1394 1066L1395 1061L1393 1057L1392 1061zM1310 1179L1314 1176L1314 1172L1310 1175zM1305 1169L1308 1168L1308 1165L1305 1166zM1308 1228L1301 1231L1296 1237L1303 1235zM1308 1228L1309 1223L1307 1219L1305 1224zM1219 1268L1218 1263L1213 1259L1214 1264zM1221 1264L1228 1266L1234 1265L1227 1262zM1223 1260L1229 1262L1235 1260L1228 1258zM1228 1243L1227 1240L1223 1239L1224 1242z"/>
<path fill="#a7c35c" d="M1265 1235L1271 1239L1277 1238L1271 1235zM1303 1242L1308 1241L1310 1238L1305 1239zM1303 1234L1307 1234L1309 1231L1305 1231zM1304 1222L1307 1223L1309 1222L1306 1220zM1245 1036L1237 1042L1232 1050L1240 1044zM1235 1033L1228 1038L1223 1045L1230 1040zM1389 1069L1391 1064L1389 1059L1387 1064zM1398 1063L1399 1058L1397 1054L1396 1058zM1402 1059L1407 1064L1412 1065L1408 1060zM1314 1183L1309 1183L1304 1186L1309 1186zM1312 1181L1307 1180L1303 1183L1307 1184zM1309 1176L1305 1175L1301 1178L1305 1179zM1305 1169L1302 1167L1298 1170L1301 1171zM1252 1071L1252 1065L1249 1060L1249 1066zM1241 1067L1235 1071L1232 1078L1237 1074zM1225 1065L1221 1068L1220 1074L1224 1070zM1225 1065L1224 1061L1220 1060L1221 1063zM1297 1221L1299 1218L1298 1213L1296 1217zM1217 1272L1216 1266L1211 1262L1212 1268zM1227 1247L1226 1244L1221 1243L1223 1246zM1278 1115L1278 1109L1275 1104L1275 1110zM1290 1103L1295 1107L1301 1108L1296 1103zM1303 1091L1304 1088L1302 1085L1300 1088z"/>
<path fill="#b6cd72" d="M1250 1037L1249 1030L1244 1025L1246 1032zM1225 1030L1219 1034L1215 1040L1221 1036zM1368 1086L1369 1079L1367 1072L1366 1079zM1376 1080L1384 1086L1393 1089L1385 1083zM1385 1073L1392 1079L1399 1081L1393 1075zM1398 1063L1403 1067L1409 1069L1404 1064zM1312 1181L1315 1178L1315 1174L1312 1177zM1306 1171L1303 1170L1299 1172L1302 1174zM1302 1164L1305 1163L1305 1160L1302 1161zM1248 1069L1242 1073L1237 1080L1244 1076zM1233 1065L1228 1069L1226 1076L1231 1072zM1301 1224L1303 1220L1301 1215L1299 1220zM1291 1216L1286 1216L1282 1220L1287 1220zM1284 1109L1285 1103L1281 1099L1281 1104zM1296 1097L1297 1093L1295 1090L1294 1093zM1299 1094L1301 1091L1298 1087L1297 1091zM1303 1091L1306 1095L1310 1095L1307 1092z"/>
<path fill="#c4d787" d="M1303 1242L1300 1240L1294 1241L1298 1243zM1303 1228L1307 1229L1309 1226L1305 1226zM1240 1034L1239 1028L1235 1023L1236 1029zM1230 1031L1223 1036L1219 1043L1226 1038zM1230 1031L1229 1026L1225 1022L1226 1027zM1220 1028L1214 1032L1211 1038L1216 1034zM1248 1069L1248 1064L1245 1059L1245 1065zM1233 1065L1232 1061L1228 1059L1229 1063zM1229 1065L1228 1061L1224 1059L1225 1063zM1296 1097L1301 1101L1306 1101L1301 1097z"/>
<path fill="#d1dfa3" d="M1255 1039L1247 1046L1241 1055L1249 1048zM1214 1027L1209 1029L1206 1035L1212 1032zM1245 1068L1239 1072L1235 1079L1241 1075zM1237 1066L1236 1062L1232 1059L1233 1063zM1220 1065L1219 1062L1216 1061L1217 1064zM1278 1115L1286 1119L1293 1120L1286 1116zM1281 1112L1288 1116L1295 1117L1288 1113zM1287 1106L1288 1101L1285 1097L1284 1101zM1293 1100L1298 1104L1304 1105L1299 1100zM1299 1094L1303 1098L1308 1098L1304 1094z"/>
<path fill="#dee7bf" d="M1225 1030L1224 1025L1221 1021L1221 1026z"/>
<path fill="#f1f4e5" d="M1200 1031L1200 1023L1196 1016L1196 1024zM1200 1031L1210 1036L1220 1038L1210 1033zM1204 1027L1204 1020L1200 1013L1200 1020zM1204 1027L1213 1032L1222 1034L1213 1028zM1208 1023L1208 1016L1205 1010L1204 1017zM1208 1023L1216 1028L1225 1030L1217 1024zM1212 1019L1212 1013L1209 1007L1209 1013zM1212 1019L1219 1024L1228 1026L1220 1020zM1216 1015L1216 1009L1213 1004L1213 1010zM1216 1015L1223 1020L1230 1022L1223 1016zM1220 1011L1220 1006L1218 1001L1217 1006zM1220 1011L1226 1016L1233 1018L1227 1013zM1224 1007L1225 1003L1222 998L1221 1003zM1224 1007L1229 1012L1236 1013L1230 1009zM1228 1004L1229 999L1227 995L1225 1000zM1228 1004L1233 1008L1239 1009L1234 1005zM1232 1000L1233 996L1231 992L1230 997zM1232 1000L1237 1005L1242 1006L1237 1001z"/>
<g filter="url(#blur3)" opacity="0.55"><path d="M1180,1262 C1188,1245 1200,1235 1214,1228 L1222,1250 C1210,1255 1195,1262 1185,1268 Z" fill="#6c7270"/><ellipse cx="1200" cy="1250" rx="8" ry="2.5" transform="rotate(-20 1200 1250)" fill="#c8cccc"/><ellipse cx="1192" cy="1260" rx="6" ry="2" fill="#2a2e2c"/></g>
</g>
<g transform="translate(1043,1000) scale(0.245700)">
<path d="M22,35 L58,78" fill="none" stroke="#1a1a1a" stroke-linecap="round" stroke-linejoin="round" vector-effect="non-scaling-stroke" stroke-width="1.8" />
<path d="M58,78 L1318,155" fill="none" stroke="#1a1a1a" stroke-linecap="round" stroke-linejoin="round" vector-effect="non-scaling-stroke" stroke-width="1.8" />
<path d="M58,78 L58,1160" fill="none" stroke="#1a1a1a" stroke-linecap="round" stroke-linejoin="round" vector-effect="non-scaling-stroke" stroke-width="1.8" />
<path d="M1318,155 L1430,135" fill="none" stroke="#1a1a1a" stroke-linecap="round" stroke-linejoin="round" vector-effect="non-scaling-stroke" stroke-width="1.8" />
<path d="M1318,155 L1318,960" fill="none" stroke="#1a1a1a" stroke-linecap="round" stroke-linejoin="round" vector-effect="non-scaling-stroke" stroke-width="1.8" />
<path d="M1318,960 L1420,980" fill="none" stroke="#1a1a1a" stroke-linecap="round" stroke-linejoin="round" vector-effect="non-scaling-stroke" stroke-width="1.8" />
<path d="M58,1160 L20,1260" fill="none" stroke="#1a1a1a" stroke-linecap="round" stroke-linejoin="round" vector-effect="non-scaling-stroke" stroke-width="1.8" />
<path d="M180,1290 L180,1195 L1210,1010 L1410,1085" fill="none" stroke="#1a1a1a" stroke-linecap="round" stroke-linejoin="round" vector-effect="non-scaling-stroke" stroke-width="1.8" />
<ellipse cx="950" cy="980" rx="260" ry="35" fill="#fff" stroke="#222" stroke-width="1.5" vector-effect="non-scaling-stroke"/>
<path d="M690,990 C700,1010 900,1025 1210,995" fill="none" stroke="#1a1a1a" stroke-linecap="round" stroke-linejoin="round" vector-effect="non-scaling-stroke" stroke-width="1.2" />
<path d="M745,1020 L710,1185" fill="none" stroke="#1a1a1a" stroke-linecap="round" stroke-linejoin="round" vector-effect="non-scaling-stroke" stroke-width="4.5" />
<path d="M745,1020 L710,1185" fill="none" stroke="#fff" stroke-width="2" stroke-linecap="round" vector-effect="non-scaling-stroke"/>
<path d="M830,1020 L820,1125" fill="none" stroke="#1a1a1a" stroke-linecap="round" stroke-linejoin="round" vector-effect="non-scaling-stroke" stroke-width="4.5" />
<path d="M830,1020 L820,1125" fill="none" stroke="#fff" stroke-width="2" stroke-linecap="round" vector-effect="non-scaling-stroke"/>
<path d="M1065,1020 L1075,1110" fill="none" stroke="#1a1a1a" stroke-linecap="round" stroke-linejoin="round" vector-effect="non-scaling-stroke" stroke-width="4.5" />
<path d="M1065,1020 L1075,1110" fill="none" stroke="#fff" stroke-width="2" stroke-linecap="round" vector-effect="non-scaling-stroke"/>
<path d="M1135,1015 L1165,1180" fill="none" stroke="#1a1a1a" stroke-linecap="round" stroke-linejoin="round" vector-effect="non-scaling-stroke" stroke-width="4.5" />
<path d="M1135,1015 L1165,1180" fill="none" stroke="#fff" stroke-width="2" stroke-linecap="round" vector-effect="non-scaling-stroke"/>
<path d="M388,62 L388,315" fill="none" stroke="#1a1a1a" stroke-linecap="round" stroke-linejoin="round" vector-effect="non-scaling-stroke" stroke-width="1.8" />
<path d="M225,370 C260,330 330,315 388,312 C450,315 520,330 550,375 C450,385 300,385 225,370 Z" fill="#f8f8f8" stroke="#222" stroke-width="1.5" vector-effect="non-scaling-stroke"/>
<circle cx="388" cy="62" r="9" fill="#fff" stroke="#222" stroke-width="1.4" vector-effect="non-scaling-stroke"/>
</g>
<path d="M0,0 L489,0 L489,27.7 C475,29 465,36 450,36 C420,36 390,22 346,22.5 C300,23 260,57 221,57 C180,57 130,27 83,27.7 C50,28 30,43 0,43 Z" fill="#6e685c"/>
<g fill="#cfccc5" opacity="0.5"><ellipse cx="96.7" cy="62" rx="17.4" ry="4.3" transform="rotate(-4 74 62)"/><ellipse cx="93.3" cy="62" rx="14.8" ry="3.6" transform="rotate(10 74 62)"/><ellipse cx="96.2" cy="62" rx="16.9" ry="2.8" transform="rotate(28 74 62)"/><ellipse cx="96.6" cy="62" rx="17.3" ry="3.6" transform="rotate(33 74 62)"/><ellipse cx="88.5" cy="62" rx="11.1" ry="3.6" transform="rotate(55 74 62)"/><ellipse cx="90.7" cy="62" rx="12.8" ry="4.7" transform="rotate(67 74 62)"/><ellipse cx="88.8" cy="62" rx="11.3" ry="2.7" transform="rotate(82 74 62)"/><ellipse cx="97.6" cy="62" rx="18.0" ry="3.5" transform="rotate(90 74 62)"/><ellipse cx="92.6" cy="62" rx="14.2" ry="2.7" transform="rotate(99 74 62)"/><ellipse cx="92.8" cy="62" rx="14.3" ry="3.7" transform="rotate(112 74 62)"/><ellipse cx="90.8" cy="62" rx="12.8" ry="3.1" transform="rotate(125 74 62)"/><ellipse cx="91.3" cy="62" rx="13.2" ry="2.7" transform="rotate(141 74 62)"/><ellipse cx="93.9" cy="62" rx="15.2" ry="4.1" transform="rotate(158 74 62)"/><ellipse cx="98.1" cy="62" rx="18.4" ry="4.5" transform="rotate(163 74 62)"/><ellipse cx="91.7" cy="62" rx="13.5" ry="4.2" transform="rotate(175 74 62)"/><ellipse cx="97.6" cy="62" rx="18.0" ry="3.6" transform="rotate(195 74 62)"/><ellipse cx="95.0" cy="62" rx="16.0" ry="3.3" transform="rotate(210 74 62)"/><ellipse cx="97.1" cy="62" rx="17.6" ry="4.5" transform="rotate(220 74 62)"/><ellipse cx="94.2" cy="62" rx="15.4" ry="2.7" transform="rotate(231 74 62)"/><ellipse cx="96.2" cy="62" rx="17.0" ry="3.6" transform="rotate(241 74 62)"/><ellipse cx="93.8" cy="62" rx="15.1" ry="4.2" transform="rotate(253 74 62)"/><ellipse cx="92.1" cy="62" rx="13.9" ry="3.6" transform="rotate(272 74 62)"/><ellipse cx="96.1" cy="62" rx="16.8" ry="3.8" transform="rotate(283 74 62)"/><ellipse cx="93.3" cy="62" rx="14.7" ry="2.7" transform="rotate(294 74 62)"/><ellipse cx="95.3" cy="62" rx="16.3" ry="4.8" transform="rotate(303 74 62)"/><ellipse cx="92.3" cy="62" rx="14.0" ry="3.0" transform="rotate(323 74 62)"/><ellipse cx="98.0" cy="62" rx="18.3" ry="4.3" transform="rotate(334 74 62)"/><ellipse cx="96.8" cy="62" rx="17.4" ry="3.2" transform="rotate(348 74 62)"/></g>
<g fill="#c9c6bf" opacity="0.6"><ellipse cx="170.0" cy="33" rx="10.7" ry="1.6" transform="rotate(5 156 33)"/><ellipse cx="169.4" cy="33" rx="10.2" ry="2.5" transform="rotate(11 156 33)"/><ellipse cx="166.3" cy="33" rx="7.9" ry="2.3" transform="rotate(35 156 33)"/><ellipse cx="167.9" cy="33" rx="9.1" ry="1.8" transform="rotate(50 156 33)"/><ellipse cx="166.8" cy="33" rx="8.3" ry="2.5" transform="rotate(65 156 33)"/><ellipse cx="170.0" cy="33" rx="10.7" ry="2.3" transform="rotate(88 156 33)"/><ellipse cx="166.1" cy="33" rx="7.7" ry="1.6" transform="rotate(98 156 33)"/><ellipse cx="167.2" cy="33" rx="8.6" ry="2.0" transform="rotate(109 156 33)"/><ellipse cx="169.7" cy="33" rx="10.4" ry="2.2" transform="rotate(129 156 33)"/><ellipse cx="165.9" cy="33" rx="7.6" ry="1.6" transform="rotate(148 156 33)"/><ellipse cx="165.4" cy="33" rx="7.1" ry="2.2" transform="rotate(162 156 33)"/><ellipse cx="168.4" cy="33" rx="9.5" ry="1.8" transform="rotate(186 156 33)"/><ellipse cx="169.1" cy="33" rx="10.0" ry="2.5" transform="rotate(201 156 33)"/><ellipse cx="168.9" cy="33" rx="9.9" ry="2.6" transform="rotate(218 156 33)"/><ellipse cx="170.2" cy="33" rx="10.8" ry="2.8" transform="rotate(227 156 33)"/><ellipse cx="168.9" cy="33" rx="9.8" ry="2.5" transform="rotate(241 156 33)"/><ellipse cx="167.6" cy="33" rx="8.9" ry="2.2" transform="rotate(261 156 33)"/><ellipse cx="167.4" cy="33" rx="8.7" ry="2.6" transform="rotate(283 156 33)"/><ellipse cx="169.6" cy="33" rx="10.4" ry="2.7" transform="rotate(293 156 33)"/><ellipse cx="167.8" cy="33" rx="9.0" ry="2.8" transform="rotate(310 156 33)"/><ellipse cx="167.4" cy="33" rx="8.7" ry="1.8" transform="rotate(330 156 33)"/><ellipse cx="168.6" cy="33" rx="9.6" ry="1.8" transform="rotate(342 156 33)"/></g>
<g fill="#d4d2cc" opacity="0.55"><ellipse cx="445.6" cy="93" rx="5.8" ry="1.3" transform="rotate(-3 438 93)"/><ellipse cx="446.0" cy="93" rx="6.1" ry="1.1" transform="rotate(18 438 93)"/><ellipse cx="446.7" cy="93" rx="6.7" ry="1.2" transform="rotate(27 438 93)"/><ellipse cx="447.3" cy="93" rx="7.1" ry="1.4" transform="rotate(46 438 93)"/><ellipse cx="445.4" cy="93" rx="5.6" ry="1.6" transform="rotate(69 438 93)"/><ellipse cx="446.0" cy="93" rx="6.1" ry="1.8" transform="rotate(78 438 93)"/><ellipse cx="446.4" cy="93" rx="6.4" ry="1.6" transform="rotate(98 438 93)"/><ellipse cx="446.4" cy="93" rx="6.4" ry="1.5" transform="rotate(109 438 93)"/><ellipse cx="443.7" cy="93" rx="4.4" ry="1.8" transform="rotate(129 438 93)"/><ellipse cx="446.3" cy="93" rx="6.3" ry="1.8" transform="rotate(147 438 93)"/><ellipse cx="447.1" cy="93" rx="6.9" ry="1.4" transform="rotate(166 438 93)"/><ellipse cx="445.3" cy="93" rx="5.6" ry="1.8" transform="rotate(184 438 93)"/><ellipse cx="444.0" cy="93" rx="4.6" ry="1.1" transform="rotate(201 438 93)"/><ellipse cx="447.2" cy="93" rx="7.0" ry="1.4" transform="rotate(209 438 93)"/><ellipse cx="444.7" cy="93" rx="5.1" ry="1.5" transform="rotate(231 438 93)"/><ellipse cx="444.9" cy="93" rx="5.3" ry="1.5" transform="rotate(244 438 93)"/><ellipse cx="447.0" cy="93" rx="6.9" ry="1.6" transform="rotate(263 438 93)"/><ellipse cx="446.8" cy="93" rx="6.7" ry="1.9" transform="rotate(283 438 93)"/><ellipse cx="444.2" cy="93" rx="4.7" ry="1.8" transform="rotate(297 438 93)"/><ellipse cx="447.0" cy="93" rx="6.9" ry="1.5" transform="rotate(316 438 93)"/><ellipse cx="444.4" cy="93" rx="4.9" ry="1.7" transform="rotate(330 438 93)"/><ellipse cx="444.7" cy="93" rx="5.1" ry="1.1" transform="rotate(345 438 93)"/></g>
<text x="51.2" y="83.2" font-family="Liberation Serif" font-size="28.5" font-weight="normal" fill="#c4c4c0" textLength="390" lengthAdjust="spacingAndGlyphs" stroke="#c4c4c0" stroke-width="0.9">MURAL INSTALLATION STEPS</text>
<text x="50" y="82.5" font-family="Liberation Serif" font-size="28.5" font-weight="normal" fill="#4e4e4c" textLength="390" lengthAdjust="spacingAndGlyphs" stroke="#4e4e4c" stroke-width="0.9">MURAL INSTALLATION STEPS</text>
<rect x="25.2" y="122.2" width="437.5" height="322.5" fill="none" stroke="#1c1a1a" stroke-width="2.5"/>
<circle cx="53.5" cy="140" r="11" fill="none" stroke="#1a1a1a" stroke-width="1.6"/>
<text x="53.5" y="147.2" text-anchor="middle" font-family="Liberation Sans" font-size="19.5" fill="#1a1a1a" stroke="#1a1a1a" stroke-width="0.5" transform="translate(53.5,0) scale(0.85,1) translate(-53.5,0)">1</text>
<text x="48.1" y="248.7" font-family="Liberation Sans" font-size="22" font-weight="bold" fill="#2a2a2a" textLength="56" lengthAdjust="spacingAndGlyphs" font-style="italic">Tools</text>
<text x="65.5" y="276.5" font-family="Liberation Sans" font-size="22" font-weight="bold" fill="#2a2a2a" textLength="20.8" lengthAdjust="spacingAndGlyphs" font-style="italic">to</text>
<text x="36.9" y="304.3" font-family="Liberation Sans" font-size="22" font-weight="bold" fill="#2a2a2a" textLength="78" lengthAdjust="spacingAndGlyphs" font-style="italic">prepare</text>
<rect x="145.5" y="146.2" width="82.9" height="80.5" fill="none" stroke="#1c1a1a" stroke-width="1.8"/>
<g transform="translate(144.6,145.3) scale(0.9965,1.0037)">
<path d="M20,31.5 L63,32.4 M20,43 L63,44.5 M20,31.5 C16,33 16,41 20,43" fill="none" stroke="#222" stroke-width="1.25" stroke-linecap="round" stroke-linejoin="round" vector-effect="non-scaling-stroke"/>
<path d="M63.5,32 C66.5,32 67,44.5 63.5,44.5 C60.5,44.5 60.5,32 63.5,32 Z" fill="none" stroke="#222" stroke-width="1.25" stroke-linecap="round" stroke-linejoin="round" vector-effect="non-scaling-stroke"/>
<path d="M19,36 C14,37 13.5,42 17,43.5 C25,45 36,44.5 39.5,46 C41,47.5 40.5,50 40,52" fill="none" stroke="#222" stroke-width="1.25" stroke-linecap="round" stroke-linejoin="round" vector-effect="non-scaling-stroke"/>
<path d="M37.5,51.8 C40,50 44,52 43,56.5 L33,78 C31,80.8 25,81 23,78.5 C21.5,76.5 22,74.5 23,72.5 Z" fill="none" stroke="#222" stroke-width="1.25" stroke-linecap="round" stroke-linejoin="round" vector-effect="non-scaling-stroke"/>
</g>
<text x="146.4" y="167.8" font-family="Liberation Sans" font-size="13.5" font-weight="normal" fill="#3a3a3a" textLength="79.7" lengthAdjust="spacingAndGlyphs" >Paint roller</text>
<rect x="253.9" y="146.2" width="82.7" height="79.9" fill="none" stroke="#1c1a1a" stroke-width="1.8"/>
<g transform="translate(253,145.3) scale(0.9941,0.9963)">
<path d="M17.7,41.4 L68.8,40.7 L68.1,68.4 C63,67 60,69 57,71 L34,71.5 C30,69 25,68 18.4,69.8 Z" fill="none" stroke="#222" stroke-width="1.25" stroke-linecap="round" stroke-linejoin="round" vector-effect="non-scaling-stroke"/>
<path d="M34,64 L34,58 C34,57 35,56.5 36,56.5 L55,56.5 C56,56.5 57,57 57,58 L57,64 M33,64 L58,64 L57,72 L34,72 Z" fill="none" stroke="#222" stroke-width="1.25" stroke-linecap="round" stroke-linejoin="round" vector-effect="non-scaling-stroke"/>
</g>
<text x="262.9" y="171.8" font-family="Liberation Sans" font-size="13.5" font-weight="normal" fill="#3a3a3a" textLength="65.6" lengthAdjust="spacingAndGlyphs" >Squeegee</text>
<rect x="360.9" y="146.9" width="84.2" height="79.2" fill="none" stroke="#1c1a1a" stroke-width="1.8"/>
<g transform="translate(360,146) scale(1.0118,0.9878)">
<path d="M55,30.1 L67.5,39.4 L50.2,49.5 L44.6,42.6 Z" fill="none" stroke="#222" stroke-width="1.25" stroke-linecap="round" stroke-linejoin="round" vector-effect="non-scaling-stroke"/>
<path d="M43,44 L49.5,50.5 M44.6,42.6 L50.8,49" fill="none" stroke="#222" stroke-width="1.25" stroke-linecap="round" stroke-linejoin="round" vector-effect="non-scaling-stroke"/>
<path d="M42.6,44.3 L24,55 C12,62 10,72 16,77 C20,81 24,81 27,79 L49.5,50.2" fill="none" stroke="#222" stroke-width="1.25" stroke-linecap="round" stroke-linejoin="round" vector-effect="non-scaling-stroke"/>
</g>
<text x="374.4" y="167.2" font-family="Liberation Sans" font-size="13.5" font-weight="normal" fill="#3a3a3a" textLength="61.7" lengthAdjust="spacingAndGlyphs" >spatula</text>
<rect x="147.4" y="243.4" width="82.7" height="80.5" fill="none" stroke="#1c1a1a" stroke-width="1.8"/>
<g transform="translate(146.5,242.5) scale(0.9941,1.0037)">
<path d="M39.2,39.2 L67.6,56.7 L40.3,73 L14.2,54.5 Z" fill="none" stroke="#222" stroke-width="1.25" stroke-linecap="round" stroke-linejoin="round" vector-effect="non-scaling-stroke"/>
<path d="M14.5,55.5 L40.5,76 L67.5,59.5" fill="none" stroke="#222" stroke-width="1.25" stroke-linecap="round" stroke-linejoin="round" vector-effect="non-scaling-stroke"/>
</g>
<text x="164.9" y="267.7" font-family="Liberation Sans" font-size="13.5" font-weight="normal" fill="#3a3a3a" textLength="46.7" lengthAdjust="spacingAndGlyphs" >towels</text>
<rect x="251.9" y="241.5" width="87.2" height="84.6" fill="none" stroke="#1c1a1a" stroke-width="1.8"/>
<g transform="translate(251,240.6) scale(1.0471,1.0537)">
<path d="M42.5,28.3 C43,27 55,28 57,29.6 M42.5,28.3 L27.3,81.8 M44.2,28.8 L29,82 M56.7,30.5 L44.7,83.9 M55.2,30.3 L43.2,83.7 M55.6,36 L61,80.7" fill="none" stroke="#222" stroke-width="1.25" stroke-linecap="round" stroke-linejoin="round" vector-effect="non-scaling-stroke"/>
<path d="M39.1,40.3 L54.5,40.3 M35.4,53.4 L51.6,53.4 M32.9,62.1 L49.6,62.1 M30.4,70.8 L47.7,70.8 M49,67.6 L57.8,66.5" fill="none" stroke="#222" stroke-width="1.25" stroke-linecap="round" stroke-linejoin="round" vector-effect="non-scaling-stroke"/>
</g>
<text x="256.2" y="261.3" font-family="Liberation Sans" font-size="13.5" font-weight="normal" fill="#3a3a3a" textLength="79.3" lengthAdjust="spacingAndGlyphs" >stepladder</text>
<rect x="360.9" y="243.4" width="87.0" height="83.7" fill="none" stroke="#1c1a1a" stroke-width="1.8"/>
<g transform="translate(360,242.5) scale(1.0447,1.0427)">
<path d="M7.6,76.3 L81.8,38.2 L83.9,43.6 L10.9,80.7 Z" fill="none" stroke="#222" stroke-width="1.25" stroke-linecap="round" stroke-linejoin="round" vector-effect="non-scaling-stroke"/>
<path d="M10.0,76.0 L11.6,79.5" fill="none" stroke="#222" stroke-width="1.25" stroke-linecap="round" stroke-linejoin="round" vector-effect="non-scaling-stroke"/>
<path d="M14.6,73.7 L15.5,75.7" fill="none" stroke="#222" stroke-width="1.25" stroke-linecap="round" stroke-linejoin="round" vector-effect="non-scaling-stroke"/>
<path d="M19.1,71.3 L20.7,74.8" fill="none" stroke="#222" stroke-width="1.25" stroke-linecap="round" stroke-linejoin="round" vector-effect="non-scaling-stroke"/>
<path d="M23.7,69.0 L24.6,71.0" fill="none" stroke="#222" stroke-width="1.25" stroke-linecap="round" stroke-linejoin="round" vector-effect="non-scaling-stroke"/>
<path d="M28.2,66.6 L29.8,70.1" fill="none" stroke="#222" stroke-width="1.25" stroke-linecap="round" stroke-linejoin="round" vector-effect="non-scaling-stroke"/>
<path d="M32.8,64.3 L33.7,66.3" fill="none" stroke="#222" stroke-width="1.25" stroke-linecap="round" stroke-linejoin="round" vector-effect="non-scaling-stroke"/>
<path d="M37.3,61.9 L38.9,65.4" fill="none" stroke="#222" stroke-width="1.25" stroke-linecap="round" stroke-linejoin="round" vector-effect="non-scaling-stroke"/>
<path d="M41.9,59.6 L42.8,61.6" fill="none" stroke="#222" stroke-width="1.25" stroke-linecap="round" stroke-linejoin="round" vector-effect="non-scaling-stroke"/>
<path d="M46.5,57.3 L48.1,60.8" fill="none" stroke="#222" stroke-width="1.25" stroke-linecap="round" stroke-linejoin="round" vector-effect="non-scaling-stroke"/>
<path d="M51.0,54.9 L51.9,56.9" fill="none" stroke="#222" stroke-width="1.25" stroke-linecap="round" stroke-linejoin="round" vector-effect="non-scaling-stroke"/>
<path d="M55.6,52.6 L57.2,56.1" fill="none" stroke="#222" stroke-width="1.25" stroke-linecap="round" stroke-linejoin="round" vector-effect="non-scaling-stroke"/>
<path d="M60.1,50.2 L61.0,52.2" fill="none" stroke="#222" stroke-width="1.25" stroke-linecap="round" stroke-linejoin="round" vector-effect="non-scaling-stroke"/>
<path d="M64.7,47.9 L66.3,51.4" fill="none" stroke="#222" stroke-width="1.25" stroke-linecap="round" stroke-linejoin="round" vector-effect="non-scaling-stroke"/>
<path d="M69.2,45.6 L70.1,47.6" fill="none" stroke="#222" stroke-width="1.25" stroke-linecap="round" stroke-linejoin="round" vector-effect="non-scaling-stroke"/>
<path d="M73.8,43.2 L75.4,46.7" fill="none" stroke="#222" stroke-width="1.25" stroke-linecap="round" stroke-linejoin="round" vector-effect="non-scaling-stroke"/>
</g>
<text x="377.1" y="280.0" font-family="Liberation Sans" font-size="13.5" font-weight="normal" fill="#3a3a3a" textLength="36.4" lengthAdjust="spacingAndGlyphs" >ruler</text>
<rect x="147.9" y="341.5" width="82.2" height="80.1" fill="none" stroke="#1c1a1a" stroke-width="1.8"/>
<g transform="translate(147,340.6) scale(0.9882,0.9988)">
<path d="M21.8,7.6 C30,5.5 50,5.5 58.9,7 M21.8,7.6 L21.8,49 C35,52 48,51 58.5,48.5 M58.9,7 L60.4,50.1" fill="none" stroke="#222" stroke-width="1.25" stroke-linecap="round" stroke-linejoin="round" vector-effect="non-scaling-stroke"/>
<path d="M22,8.5 C35,10 48,10 58,8" fill="none" stroke="#222" stroke-width="1.25" stroke-linecap="round" stroke-linejoin="round" vector-effect="non-scaling-stroke"/>
<path d="M45.8,18.5 C40,22 20,26 13,28 C9,30 12,32 22,31" fill="none" stroke="#222" stroke-width="1.25" stroke-linecap="round" stroke-linejoin="round" vector-effect="non-scaling-stroke"/>
<path d="M46.5,18.7 m-1.2,0 a1.2,1.2 0 1,0 2.4,0 a1.2,1.2 0 1,0 -2.4,0" fill="none" stroke="#222" stroke-width="1.25" stroke-linecap="round" stroke-linejoin="round" vector-effect="non-scaling-stroke"/>
</g>
<text x="169.6" y="408.1" font-family="Liberation Sans" font-size="13.5" font-weight="normal" fill="#3a3a3a" textLength="35.6" lengthAdjust="spacingAndGlyphs" >glue</text>
<rect x="251.9" y="337.5" width="87.8" height="85.2" fill="none" stroke="#1c1a1a" stroke-width="1.8"/>
<g transform="translate(251,336.6) scale(1.0541,1.0610)">
<path d="M3.9,61 L15.9,49.1 L27.9,48 L32.3,61 Z M10,61 L19,50 M16,61 L24,49.5" fill="none" stroke="#222" stroke-width="1.25" stroke-linecap="round" stroke-linejoin="round" vector-effect="non-scaling-stroke"/>
<path d="M27.9,47.3 L67.1,48 C76,48 81.3,51 81.3,56.7 C81.3,63 76,65.8 68.2,65.8 L33.4,65 Z M67.1,48 L67.5,65.5" fill="none" stroke="#222" stroke-width="1.25" stroke-linecap="round" stroke-linejoin="round" vector-effect="non-scaling-stroke"/>
<path d="M38.4,52.8 L61.7,52.8 L61.7,57.8 L38.4,57.8 Z M49.5,52.8 L49.5,57.8" fill="none" stroke="#222" stroke-width="1.25" stroke-linecap="round" stroke-linejoin="round" vector-effect="non-scaling-stroke"/>
</g>
<text x="260.9" y="371.3" font-family="Liberation Sans" font-size="13.5" font-weight="normal" fill="#3a3a3a" textLength="71.3" lengthAdjust="spacingAndGlyphs" >art knife</text>
<rect x="358.9" y="342.9" width="85.2" height="82.7" fill="none" stroke="#1c1a1a" stroke-width="1.8"/>
<g transform="translate(358,342) scale(1.0235,1.0305)">
<path d="M13.5,55.6 L17.9,51.2 L69.1,56.7 L67,66.5 L14.6,58.9 Z M14.6,58.9 L67,63" fill="none" stroke="#222" stroke-width="1.25" stroke-linecap="round" stroke-linejoin="round" vector-effect="non-scaling-stroke"/>
<path d="M18.0,51.5 L19.5,44.0" fill="none" stroke="#222" stroke-width="1.25" stroke-linecap="round" stroke-linejoin="round" vector-effect="non-scaling-stroke"/>
<path d="M21.1,51.8 L22.6,45.3" fill="none" stroke="#222" stroke-width="1.25" stroke-linecap="round" stroke-linejoin="round" vector-effect="non-scaling-stroke"/>
<path d="M24.2,52.2 L25.7,46.6" fill="none" stroke="#222" stroke-width="1.25" stroke-linecap="round" stroke-linejoin="round" vector-effect="non-scaling-stroke"/>
<path d="M27.3,52.5 L28.8,44.9" fill="none" stroke="#222" stroke-width="1.25" stroke-linecap="round" stroke-linejoin="round" vector-effect="non-scaling-stroke"/>
<path d="M30.4,52.8 L31.9,46.2" fill="none" stroke="#222" stroke-width="1.25" stroke-linecap="round" stroke-linejoin="round" vector-effect="non-scaling-stroke"/>
<path d="M33.5,53.1 L35.0,47.5" fill="none" stroke="#222" stroke-width="1.25" stroke-linecap="round" stroke-linejoin="round" vector-effect="non-scaling-stroke"/>
<path d="M36.6,53.5 L38.1,45.8" fill="none" stroke="#222" stroke-width="1.25" stroke-linecap="round" stroke-linejoin="round" vector-effect="non-scaling-stroke"/>
<path d="M39.7,53.8 L41.2,47.1" fill="none" stroke="#222" stroke-width="1.25" stroke-linecap="round" stroke-linejoin="round" vector-effect="non-scaling-stroke"/>
<path d="M42.8,54.1 L44.3,48.4" fill="none" stroke="#222" stroke-width="1.25" stroke-linecap="round" stroke-linejoin="round" vector-effect="non-scaling-stroke"/>
<path d="M45.9,54.5 L47.4,46.7" fill="none" stroke="#222" stroke-width="1.25" stroke-linecap="round" stroke-linejoin="round" vector-effect="non-scaling-stroke"/>
<path d="M49.0,54.8 L50.5,48.0" fill="none" stroke="#222" stroke-width="1.25" stroke-linecap="round" stroke-linejoin="round" vector-effect="non-scaling-stroke"/>
<path d="M52.1,55.1 L53.6,49.3" fill="none" stroke="#222" stroke-width="1.25" stroke-linecap="round" stroke-linejoin="round" vector-effect="non-scaling-stroke"/>
<path d="M55.2,55.5 L56.7,47.6" fill="none" stroke="#222" stroke-width="1.25" stroke-linecap="round" stroke-linejoin="round" vector-effect="non-scaling-stroke"/>
<path d="M58.3,55.8 L59.8,48.9" fill="none" stroke="#222" stroke-width="1.25" stroke-linecap="round" stroke-linejoin="round" vector-effect="non-scaling-stroke"/>
<path d="M61.4,56.1 L62.9,50.2" fill="none" stroke="#222" stroke-width="1.25" stroke-linecap="round" stroke-linejoin="round" vector-effect="non-scaling-stroke"/>
<path d="M64.5,56.5 L66.0,48.5" fill="none" stroke="#222" stroke-width="1.25" stroke-linecap="round" stroke-linejoin="round" vector-effect="non-scaling-stroke"/>
<path d="M67.6,56.8 L69.1,49.8" fill="none" stroke="#222" stroke-width="1.25" stroke-linecap="round" stroke-linejoin="round" vector-effect="non-scaling-stroke"/>
</g>
<text x="376.3" y="367.9" font-family="Liberation Sans" font-size="13.5" font-weight="normal" fill="#3a3a3a" textLength="53.5" lengthAdjust="spacingAndGlyphs" >brushes</text>
<rect x="523.3" y="36.5" width="83.3" height="79.6" fill="none" stroke="#1c1a1a" stroke-width="1.8"/>
<g transform="translate(522.4,35.6) scale(1.0012,0.9927)">
<path d="M55,30.1 L67.5,39.4 L50.2,49.5 L44.6,42.6 Z" fill="none" stroke="#222" stroke-width="1.25" stroke-linecap="round" stroke-linejoin="round" vector-effect="non-scaling-stroke"/>
<path d="M43,44 L49.5,50.5 M44.6,42.6 L50.8,49" fill="none" stroke="#222" stroke-width="1.25" stroke-linecap="round" stroke-linejoin="round" vector-effect="non-scaling-stroke"/>
<path d="M42.6,44.3 L24,55 C12,62 10,72 16,77 C20,81 24,81 27,79 L49.5,50.2" fill="none" stroke="#222" stroke-width="1.25" stroke-linecap="round" stroke-linejoin="round" vector-effect="non-scaling-stroke"/>
</g>
<text x="536.6" y="56.9" font-family="Liberation Sans" font-size="13.5" font-weight="normal" fill="#3a3a3a" textLength="61.1" lengthAdjust="spacingAndGlyphs" >spatula</text>
<rect x="523.3" y="133.6" width="82.8" height="81.0" fill="none" stroke="#1c1a1a" stroke-width="1.8"/>
<g transform="translate(522.4,132.7) scale(0.9953,1.0098)">
<path d="M39.2,39.2 L67.6,56.7 L40.3,73 L14.2,54.5 Z" fill="none" stroke="#222" stroke-width="1.25" stroke-linecap="round" stroke-linejoin="round" vector-effect="non-scaling-stroke"/>
<path d="M14.5,55.5 L40.5,76 L67.5,59.5" fill="none" stroke="#222" stroke-width="1.25" stroke-linecap="round" stroke-linejoin="round" vector-effect="non-scaling-stroke"/>
</g>
<text x="540.8" y="158.0" font-family="Liberation Sans" font-size="13.5" font-weight="normal" fill="#3a3a3a" textLength="46.8" lengthAdjust="spacingAndGlyphs" >towels</text>
<rect x="522.2" y="227.4" width="86.9" height="85.7" fill="none" stroke="#1c1a1a" stroke-width="1.8"/>
<g transform="translate(521.3,226.5) scale(1.0435,1.0671)">
<path d="M42.5,28.3 C43,27 55,28 57,29.6 M42.5,28.3 L27.3,81.8 M44.2,28.8 L29,82 M56.7,30.5 L44.7,83.9 M55.2,30.3 L43.2,83.7 M55.6,36 L61,80.7" fill="none" stroke="#222" stroke-width="1.25" stroke-linecap="round" stroke-linejoin="round" vector-effect="non-scaling-stroke"/>
<path d="M39.1,40.3 L54.5,40.3 M35.4,53.4 L51.6,53.4 M32.9,62.1 L49.6,62.1 M30.4,70.8 L47.7,70.8 M49,67.6 L57.8,66.5" fill="none" stroke="#222" stroke-width="1.25" stroke-linecap="round" stroke-linejoin="round" vector-effect="non-scaling-stroke"/>
</g>
<text x="526.5" y="247.4" font-family="Liberation Sans" font-size="13.5" font-weight="normal" fill="#3a3a3a" textLength="79.0" lengthAdjust="spacingAndGlyphs" >stepladder</text>
<rect x="620.4" y="30.2" width="332.9" height="323.9" fill="none" stroke="#1c1a1a" stroke-width="2.4"/>
<rect x="620.4" y="361.7" width="332.9" height="87.8" fill="none" stroke="#1c1a1a" stroke-width="2.4"/>
<circle cx="645.5" cy="51.4" r="11" fill="none" stroke="#1a1a1a" stroke-width="1.6"/>
<text x="645.5" y="58.6" text-anchor="middle" font-family="Liberation Sans" font-size="19.5" fill="#1a1a1a" stroke="#1a1a1a" stroke-width="0.5" transform="translate(645.5,0) scale(0.85,1) translate(-645.5,0)">2</text>
<rect x="1001.9" y="37.5" width="83.2" height="81.4" fill="none" stroke="#1c1a1a" stroke-width="1.8"/>
<g transform="translate(1001,36.6) scale(1.0000,1.0146)">
<path d="M20,31.5 L63,32.4 M20,43 L63,44.5 M20,31.5 C16,33 16,41 20,43" fill="none" stroke="#222" stroke-width="1.25" stroke-linecap="round" stroke-linejoin="round" vector-effect="non-scaling-stroke"/>
<path d="M63.5,32 C66.5,32 67,44.5 63.5,44.5 C60.5,44.5 60.5,32 63.5,32 Z" fill="none" stroke="#222" stroke-width="1.25" stroke-linecap="round" stroke-linejoin="round" vector-effect="non-scaling-stroke"/>
<path d="M19,36 C14,37 13.5,42 17,43.5 C25,45 36,44.5 39.5,46 C41,47.5 40.5,50 40,52" fill="none" stroke="#222" stroke-width="1.25" stroke-linecap="round" stroke-linejoin="round" vector-effect="non-scaling-stroke"/>
<path d="M37.5,51.8 C40,50 44,52 43,56.5 L33,78 C31,80.8 25,81 23,78.5 C21.5,76.5 22,74.5 23,72.5 Z" fill="none" stroke="#222" stroke-width="1.25" stroke-linecap="round" stroke-linejoin="round" vector-effect="non-scaling-stroke"/>
</g>
<text x="1002.8" y="59.3" font-family="Liberation Sans" font-size="13.5" font-weight="normal" fill="#3a3a3a" textLength="80.0" lengthAdjust="spacingAndGlyphs" >Paint roller</text>
<rect x="1003.4" y="133.2" width="82.3" height="80.3" fill="none" stroke="#1c1a1a" stroke-width="1.8"/>
<g transform="translate(1002.5,132.3) scale(0.9894,1.0012)">
<path d="M21.8,7.6 C30,5.5 50,5.5 58.9,7 M21.8,7.6 L21.8,49 C35,52 48,51 58.5,48.5 M58.9,7 L60.4,50.1" fill="none" stroke="#222" stroke-width="1.25" stroke-linecap="round" stroke-linejoin="round" vector-effect="non-scaling-stroke"/>
<path d="M22,8.5 C35,10 48,10 58,8" fill="none" stroke="#222" stroke-width="1.25" stroke-linecap="round" stroke-linejoin="round" vector-effect="non-scaling-stroke"/>
<path d="M45.8,18.5 C40,22 20,26 13,28 C9,30 12,32 22,31" fill="none" stroke="#222" stroke-width="1.25" stroke-linecap="round" stroke-linejoin="round" vector-effect="non-scaling-stroke"/>
<path d="M46.5,18.7 m-1.2,0 a1.2,1.2 0 1,0 2.4,0 a1.2,1.2 0 1,0 -2.4,0" fill="none" stroke="#222" stroke-width="1.25" stroke-linecap="round" stroke-linejoin="round" vector-effect="non-scaling-stroke"/>
</g>
<text x="1025.2" y="200.0" font-family="Liberation Sans" font-size="13.5" font-weight="normal" fill="#3a3a3a" textLength="35.6" lengthAdjust="spacingAndGlyphs" >glue</text>
<rect x="1092.4" y="30.0" width="346.4" height="322.4" fill="none" stroke="#1c1a1a" stroke-width="2.4"/>
<rect x="1092.4" y="362.2" width="346.4" height="81.1" fill="none" stroke="#1c1a1a" stroke-width="2.4"/>
<circle cx="1119.9" cy="50.8" r="11" fill="none" stroke="#1a1a1a" stroke-width="1.6"/>
<text x="1119.9" y="58.0" text-anchor="middle" font-family="Liberation Sans" font-size="19.5" fill="#1a1a1a" stroke="#1a1a1a" stroke-width="0.5" transform="translate(1119.9,0) scale(0.85,1) translate(-1119.9,0)">3</text>
<circle cx="51.9" cy="519.6" r="11.5" fill="none" stroke="#1a1a1a" stroke-width="1.6"/>
<text x="51.9" y="526.8000000000001" text-anchor="middle" font-family="Liberation Sans" font-size="19.5" fill="#1a1a1a" stroke="#1a1a1a" stroke-width="0.5" transform="translate(51.9,0) scale(0.85,1) translate(-51.9,0)">4</text>
<rect x="38.2" y="833.2" width="416.3" height="92.6" fill="none" stroke="#1c1a1a" stroke-width="2.4"/>
<rect x="512.2" y="521.3" width="87.9" height="86.1" fill="none" stroke="#1c1a1a" stroke-width="1.8"/>
<g transform="translate(511.3,520.4) scale(1.0553,1.0720)">
<path d="M3.9,61 L15.9,49.1 L27.9,48 L32.3,61 Z M10,61 L19,50 M16,61 L24,49.5" fill="none" stroke="#222" stroke-width="1.25" stroke-linecap="round" stroke-linejoin="round" vector-effect="non-scaling-stroke"/>
<path d="M27.9,47.3 L67.1,48 C76,48 81.3,51 81.3,56.7 C81.3,63 76,65.8 68.2,65.8 L33.4,65 Z M67.1,48 L67.5,65.5" fill="none" stroke="#222" stroke-width="1.25" stroke-linecap="round" stroke-linejoin="round" vector-effect="non-scaling-stroke"/>
<path d="M38.4,52.8 L61.7,52.8 L61.7,57.8 L38.4,57.8 Z M49.5,52.8 L49.5,57.8" fill="none" stroke="#222" stroke-width="1.25" stroke-linecap="round" stroke-linejoin="round" vector-effect="non-scaling-stroke"/>
</g>
<text x="521.2" y="555.5" font-family="Liberation Sans" font-size="13.5" font-weight="normal" fill="#3a3a3a" textLength="71.3" lengthAdjust="spacingAndGlyphs" >art knife</text>
<rect x="512.5" y="619.7" width="82.1" height="80.4" fill="none" stroke="#1c1a1a" stroke-width="1.8"/>
<g transform="translate(511.6,618.8) scale(0.9871,1.0024)">
<path d="M17.7,41.4 L68.8,40.7 L68.1,68.4 C63,67 60,69 57,71 L34,71.5 C30,69 25,68 18.4,69.8 Z" fill="none" stroke="#222" stroke-width="1.25" stroke-linecap="round" stroke-linejoin="round" vector-effect="non-scaling-stroke"/>
<path d="M34,64 L34,58 C34,57 35,56.5 36,56.5 L55,56.5 C56,56.5 57,57 57,58 L57,64 M33,64 L58,64 L57,72 L34,72 Z" fill="none" stroke="#222" stroke-width="1.25" stroke-linecap="round" stroke-linejoin="round" vector-effect="non-scaling-stroke"/>
</g>
<text x="521.5" y="645.5" font-family="Liberation Sans" font-size="13.5" font-weight="normal" fill="#3a3a3a" textLength="65.1" lengthAdjust="spacingAndGlyphs" >Squeegee</text>
<rect x="610.0" y="513.2" width="343.5" height="343.2" fill="none" stroke="#1c1a1a" stroke-width="2.4"/>
<rect x="609.4" y="864.7" width="344.1" height="74.9" fill="none" stroke="#1c1a1a" stroke-width="2.4"/>
<circle cx="630.7" cy="532.4" r="11" fill="none" stroke="#1a1a1a" stroke-width="1.6"/>
<text x="630.7" y="539.6" text-anchor="middle" font-family="Liberation Sans" font-size="19.5" fill="#1a1a1a" stroke="#1a1a1a" stroke-width="0.5" transform="translate(630.7,0) scale(0.85,1) translate(-630.7,0)">5</text>
<rect x="998.0" y="521.7" width="87.9" height="86.2" fill="none" stroke="#1c1a1a" stroke-width="1.8"/>
<g transform="translate(997.1,520.8) scale(1.0553,1.0732)">
<path d="M3.9,61 L15.9,49.1 L27.9,48 L32.3,61 Z M10,61 L19,50 M16,61 L24,49.5" fill="none" stroke="#222" stroke-width="1.25" stroke-linecap="round" stroke-linejoin="round" vector-effect="non-scaling-stroke"/>
<path d="M27.9,47.3 L67.1,48 C76,48 81.3,51 81.3,56.7 C81.3,63 76,65.8 68.2,65.8 L33.4,65 Z M67.1,48 L67.5,65.5" fill="none" stroke="#222" stroke-width="1.25" stroke-linecap="round" stroke-linejoin="round" vector-effect="non-scaling-stroke"/>
<path d="M38.4,52.8 L61.7,52.8 L61.7,57.8 L38.4,57.8 Z M49.5,52.8 L49.5,57.8" fill="none" stroke="#222" stroke-width="1.25" stroke-linecap="round" stroke-linejoin="round" vector-effect="non-scaling-stroke"/>
</g>
<text x="1007.0" y="555.9" font-family="Liberation Sans" font-size="13.5" font-weight="normal" fill="#3a3a3a" textLength="71.3" lengthAdjust="spacingAndGlyphs" >art knife</text>
<rect x="998.0" y="620.2" width="82.5" height="80.4" fill="none" stroke="#1c1a1a" stroke-width="1.8"/>
<g transform="translate(997.1,619.3) scale(0.9918,1.0024)">
<path d="M17.7,41.4 L68.8,40.7 L68.1,68.4 C63,67 60,69 57,71 L34,71.5 C30,69 25,68 18.4,69.8 Z" fill="none" stroke="#222" stroke-width="1.25" stroke-linecap="round" stroke-linejoin="round" vector-effect="non-scaling-stroke"/>
<path d="M34,64 L34,58 C34,57 35,56.5 36,56.5 L55,56.5 C56,56.5 57,57 57,58 L57,64 M33,64 L58,64 L57,72 L34,72 Z" fill="none" stroke="#222" stroke-width="1.25" stroke-linecap="round" stroke-linejoin="round" vector-effect="non-scaling-stroke"/>
</g>
<text x="1007.0" y="646.0" font-family="Liberation Sans" font-size="13.5" font-weight="normal" fill="#3a3a3a" textLength="65.5" lengthAdjust="spacingAndGlyphs" >Squeegee</text>
<rect x="1095.4" y="513.2" width="344.6" height="343.4" fill="none" stroke="#1c1a1a" stroke-width="2.4"/>
<rect x="1094.9" y="864.7" width="345.1" height="76.1" fill="none" stroke="#1c1a1a" stroke-width="2.4"/>
<circle cx="1117.4" cy="532.4" r="11" fill="none" stroke="#1a1a1a" stroke-width="1.6"/>
<text x="1117.4" y="539.6" text-anchor="middle" font-family="Liberation Sans" font-size="19.5" fill="#1a1a1a" stroke="#1a1a1a" stroke-width="0.5" transform="translate(1117.4,0) scale(0.85,1) translate(-1117.4,0)">6</text>
<rect x="25.5" y="1008.0" width="82.9" height="80.8" fill="none" stroke="#1c1a1a" stroke-width="1.8"/>
<g transform="translate(24.6,1007.1) scale(0.9965,1.0073)">
<path d="M17.7,41.4 L68.8,40.7 L68.1,68.4 C63,67 60,69 57,71 L34,71.5 C30,69 25,68 18.4,69.8 Z" fill="none" stroke="#222" stroke-width="1.25" stroke-linecap="round" stroke-linejoin="round" vector-effect="non-scaling-stroke"/>
<path d="M34,64 L34,58 C34,57 35,56.5 36,56.5 L55,56.5 C56,56.5 57,57 57,58 L57,64 M33,64 L58,64 L57,72 L34,72 Z" fill="none" stroke="#222" stroke-width="1.25" stroke-linecap="round" stroke-linejoin="round" vector-effect="non-scaling-stroke"/>
</g>
<text x="34.6" y="1033.9" font-family="Liberation Sans" font-size="13.5" font-weight="normal" fill="#3a3a3a" textLength="65.8" lengthAdjust="spacingAndGlyphs" >Squeegee</text>
<rect x="23.4" y="1103.4" width="87.9" height="85.5" fill="none" stroke="#1c1a1a" stroke-width="1.8"/>
<g transform="translate(22.5,1102.5) scale(1.0553,1.0646)">
<path d="M42.5,28.3 C43,27 55,28 57,29.6 M42.5,28.3 L27.3,81.8 M44.2,28.8 L29,82 M56.7,30.5 L44.7,83.9 M55.2,30.3 L43.2,83.7 M55.6,36 L61,80.7" fill="none" stroke="#222" stroke-width="1.25" stroke-linecap="round" stroke-linejoin="round" vector-effect="non-scaling-stroke"/>
<path d="M39.1,40.3 L54.5,40.3 M35.4,53.4 L51.6,53.4 M32.9,62.1 L49.6,62.1 M30.4,70.8 L47.7,70.8 M49,67.6 L57.8,66.5" fill="none" stroke="#222" stroke-width="1.25" stroke-linecap="round" stroke-linejoin="round" vector-effect="non-scaling-stroke"/>
</g>
<text x="27.8" y="1123.4" font-family="Liberation Sans" font-size="13.5" font-weight="normal" fill="#3a3a3a" textLength="79.9" lengthAdjust="spacingAndGlyphs" >stepladder</text>
<rect x="123.6" y="998.7" width="345.0" height="343.6" fill="none" stroke="#1c1a1a" stroke-width="2.4"/>
<rect x="122.7" y="1349.8" width="345.4" height="77.0" fill="none" stroke="#1c1a1a" stroke-width="2.4"/>
<circle cx="145" cy="1021.6" r="11" fill="none" stroke="#1a1a1a" stroke-width="1.6"/>
<text x="145" y="1028.8" text-anchor="middle" font-family="Liberation Sans" font-size="19.5" fill="#1a1a1a" stroke="#1a1a1a" stroke-width="0.5" transform="translate(145,0) scale(0.85,1) translate(-145,0)">7</text>
<rect x="512.2" y="1010.8" width="87.4" height="85.9" fill="none" stroke="#1c1a1a" stroke-width="1.8"/>
<g transform="translate(511.3,1009.9) scale(1.0494,1.0695)">
<path d="M3.9,61 L15.9,49.1 L27.9,48 L32.3,61 Z M10,61 L19,50 M16,61 L24,49.5" fill="none" stroke="#222" stroke-width="1.25" stroke-linecap="round" stroke-linejoin="round" vector-effect="non-scaling-stroke"/>
<path d="M27.9,47.3 L67.1,48 C76,48 81.3,51 81.3,56.7 C81.3,63 76,65.8 68.2,65.8 L33.4,65 Z M67.1,48 L67.5,65.5" fill="none" stroke="#222" stroke-width="1.25" stroke-linecap="round" stroke-linejoin="round" vector-effect="non-scaling-stroke"/>
<path d="M38.4,52.8 L61.7,52.8 L61.7,57.8 L38.4,57.8 Z M49.5,52.8 L49.5,57.8" fill="none" stroke="#222" stroke-width="1.25" stroke-linecap="round" stroke-linejoin="round" vector-effect="non-scaling-stroke"/>
</g>
<text x="521.2" y="1044.9" font-family="Liberation Sans" font-size="13.5" font-weight="normal" fill="#3a3a3a" textLength="70.9" lengthAdjust="spacingAndGlyphs" >art knife</text>
<rect x="512.2" y="1109.2" width="82.4" height="80.1" fill="none" stroke="#1c1a1a" stroke-width="1.8"/>
<g transform="translate(511.3,1108.3) scale(0.9906,0.9988)">
<path d="M17.7,41.4 L68.8,40.7 L68.1,68.4 C63,67 60,69 57,71 L34,71.5 C30,69 25,68 18.4,69.8 Z" fill="none" stroke="#222" stroke-width="1.25" stroke-linecap="round" stroke-linejoin="round" vector-effect="non-scaling-stroke"/>
<path d="M34,64 L34,58 C34,57 35,56.5 36,56.5 L55,56.5 C56,56.5 57,57 57,58 L57,64 M33,64 L58,64 L57,72 L34,72 Z" fill="none" stroke="#222" stroke-width="1.25" stroke-linecap="round" stroke-linejoin="round" vector-effect="non-scaling-stroke"/>
</g>
<text x="521.2" y="1134.9" font-family="Liberation Sans" font-size="13.5" font-weight="normal" fill="#3a3a3a" textLength="65.4" lengthAdjust="spacingAndGlyphs" >Squeegee</text>
<rect x="609.5" y="998.7" width="344.0" height="342.8" fill="none" stroke="#1c1a1a" stroke-width="2.4"/>
<rect x="609.4" y="1350.2" width="344.1" height="76.4" fill="none" stroke="#1c1a1a" stroke-width="2.4"/>
<circle cx="628.4" cy="1014.9" r="11" fill="none" stroke="#1a1a1a" stroke-width="1.6"/>
<text x="628.4" y="1022.1" text-anchor="middle" font-family="Liberation Sans" font-size="19.5" fill="#1a1a1a" stroke="#1a1a1a" stroke-width="0.5" transform="translate(628.4,0) scale(0.85,1) translate(-628.4,0)">8</text>
<rect x="1044.1" y="1001.2" width="351.6" height="334.1" fill="none" stroke="#1c1a1a" stroke-width="2"/>
<rect x="1008.5" y="1347.8" width="416.7" height="78.4" fill="none" stroke="#1c1a1a" stroke-width="1.6"/>
<circle cx="1014.1" cy="1007.7" r="11" fill="none" stroke="#1a1a1a" stroke-width="1.6"/>
<text x="1014.1" y="1014.9000000000001" text-anchor="middle" font-family="Liberation Sans" font-size="19.5" fill="#1a1a1a" stroke="#1a1a1a" stroke-width="0.5" transform="translate(1014.1,0) scale(0.85,1) translate(-1014.1,0)">9</text>
<text x="639.4" y="389.2" font-family="Liberation Sans" font-size="17" font-weight="normal" fill="#141414" textLength="269" lengthAdjust="spacingAndGlyphs" stroke="#141414" stroke-width="0.25">Sand the wall with fine sandpaper,</text>
<text x="639.4" y="408.4" font-family="Liberation Sans" font-size="17" font-weight="normal" fill="#141414" textLength="290" lengthAdjust="spacingAndGlyphs" stroke="#141414" stroke-width="0.25">then use a towel to remove any dust,</text>
<text x="639.4" y="427" font-family="Liberation Sans" font-size="17" font-weight="normal" fill="#141414" textLength="217" lengthAdjust="spacingAndGlyphs" stroke="#141414" stroke-width="0.25">dirt or grease from the wall.</text>
<text x="1116" y="388.4" font-family="Liberation Sans" font-size="17" font-weight="normal" fill="#141414" textLength="293.5" lengthAdjust="spacingAndGlyphs" stroke="#141414" stroke-width="0.25">Apply heavy-duty wallpaper adhesive</text>
<text x="1116" y="407.6" font-family="Liberation Sans" font-size="17" font-weight="normal" fill="#141414" textLength="288" lengthAdjust="spacingAndGlyphs" stroke="#141414" stroke-width="0.25">to the wall and use a roller to spread</text>
<text x="1116" y="425.8" font-family="Liberation Sans" font-size="17" font-weight="normal" fill="#141414" textLength="197.5" lengthAdjust="spacingAndGlyphs" stroke="#141414" stroke-width="0.25">it evenly to level the wall.</text>
<text x="66.9" y="853.9" font-family="Liberation Sans" font-size="17" font-weight="normal" fill="#141414" textLength="341.6" lengthAdjust="spacingAndGlyphs" stroke="#141414" stroke-width="0.25">Measure your walls (width and height) and</text>
<text x="66.9" y="874" font-family="Liberation Sans" font-size="17" font-weight="normal" fill="#141414" textLength="308" lengthAdjust="spacingAndGlyphs" stroke="#141414" stroke-width="0.25">check the dimensions of the wallpaper</text>
<text x="66.9" y="893.9" font-family="Liberation Sans" font-size="17" font-weight="normal" fill="#141414" textLength="335" lengthAdjust="spacingAndGlyphs" stroke="#141414" stroke-width="0.25">purchased, sorted in order by the number</text>
<text x="66.9" y="914" font-family="Liberation Sans" font-size="17" font-weight="normal" fill="#141414" textLength="250.5" lengthAdjust="spacingAndGlyphs" stroke="#141414" stroke-width="0.25">at the bottom of the wallpaper.</text>
<text x="617.4" y="885" font-family="Liberation Sans" font-size="17" font-weight="normal" fill="#141414" textLength="325" lengthAdjust="spacingAndGlyphs" stroke="#141414" stroke-width="0.25">Paste the first part of the mural, fromtop</text>
<text x="622.4" y="905" font-family="Liberation Sans" font-size="17" font-weight="normal" fill="#141414" textLength="324.5" lengthAdjust="spacingAndGlyphs" stroke="#141414" stroke-width="0.25">to bottom,and scrape out the airbubbles</text>
<text x="622.4" y="925.5" font-family="Liberation Sans" font-size="17" font-weight="normal" fill="#141414" textLength="128" lengthAdjust="spacingAndGlyphs" stroke="#141414" stroke-width="0.25">from the center.</text>
<text x="1109.4" y="886" font-family="Liberation Sans" font-size="17" font-weight="normal" fill="#141414" textLength="284.5" lengthAdjust="spacingAndGlyphs" stroke="#141414" stroke-width="0.25">Match the pattern from left to right</text>
<text x="1109.4" y="906.4" font-family="Liberation Sans" font-size="17" font-weight="normal" fill="#141414" textLength="294.5" lengthAdjust="spacingAndGlyphs" stroke="#141414" stroke-width="0.25">and install the wallpapers in order of</text>
<text x="1114.4" y="926.6" font-family="Liberation Sans" font-size="17" font-weight="normal" fill="#141414" textLength="80" lengthAdjust="spacingAndGlyphs" stroke="#141414" stroke-width="0.25">sequence.</text>
<text x="140.2" y="1373.5" font-family="Liberation Sans" font-size="17" font-weight="normal" fill="#141414" textLength="304" lengthAdjust="spacingAndGlyphs" stroke="#141414" stroke-width="0.25">Carefully scrape out the air bubbles in</text>
<text x="140.2" y="1394" font-family="Liberation Sans" font-size="17" font-weight="normal" fill="#141414" textLength="313.4" lengthAdjust="spacingAndGlyphs" stroke="#141414" stroke-width="0.25">the center and wipe off the excess glue</text>
<text x="144.6" y="1414.4" font-family="Liberation Sans" font-size="17" font-weight="normal" fill="#141414" textLength="97.3" lengthAdjust="spacingAndGlyphs" stroke="#141414" stroke-width="0.25">with a towel</text>
<text x="621.8" y="1371" font-family="Liberation Sans" font-size="17" font-weight="normal" fill="#141414" textLength="313.7" lengthAdjust="spacingAndGlyphs" stroke="#141414" stroke-width="0.25">Hold a spatula against the bottom of the</text>
<text x="621.8" y="1391.4" font-family="Liberation Sans" font-size="17" font-weight="normal" fill="#141414" textLength="313.7" lengthAdjust="spacingAndGlyphs" stroke="#141414" stroke-width="0.25">wall and use a craft knife to cut away the</text>
<text x="621.8" y="1411.4" font-family="Liberation Sans" font-size="17" font-weight="normal" fill="#141414" textLength="310.4" lengthAdjust="spacingAndGlyphs" stroke="#141414" stroke-width="0.25">excess (make sure you use a new blade).</text>
<text x="1021.6" y="1374" font-family="Liberation Sans" font-size="17" font-weight="normal" fill="#141414" textLength="398.8" lengthAdjust="spacingAndGlyphs" stroke="#141414" stroke-width="0.25">After the installation is completed,close the doors</text>
<text x="1027.0" y="1393.2" font-family="Liberation Sans" font-size="17" font-weight="normal" fill="#141414" textLength="376.3" lengthAdjust="spacingAndGlyphs" stroke="#141414" stroke-width="0.25">and windows for 1-2 daysto avoid deformation</text>
<text x="1021.6" y="1413.9" font-family="Liberation Sans" font-size="17" font-weight="normal" fill="#141414" textLength="357" lengthAdjust="spacingAndGlyphs" stroke="#141414" stroke-width="0.25">caused by rapid dryingcaused by ventilation.</text>
</svg></body></html>
